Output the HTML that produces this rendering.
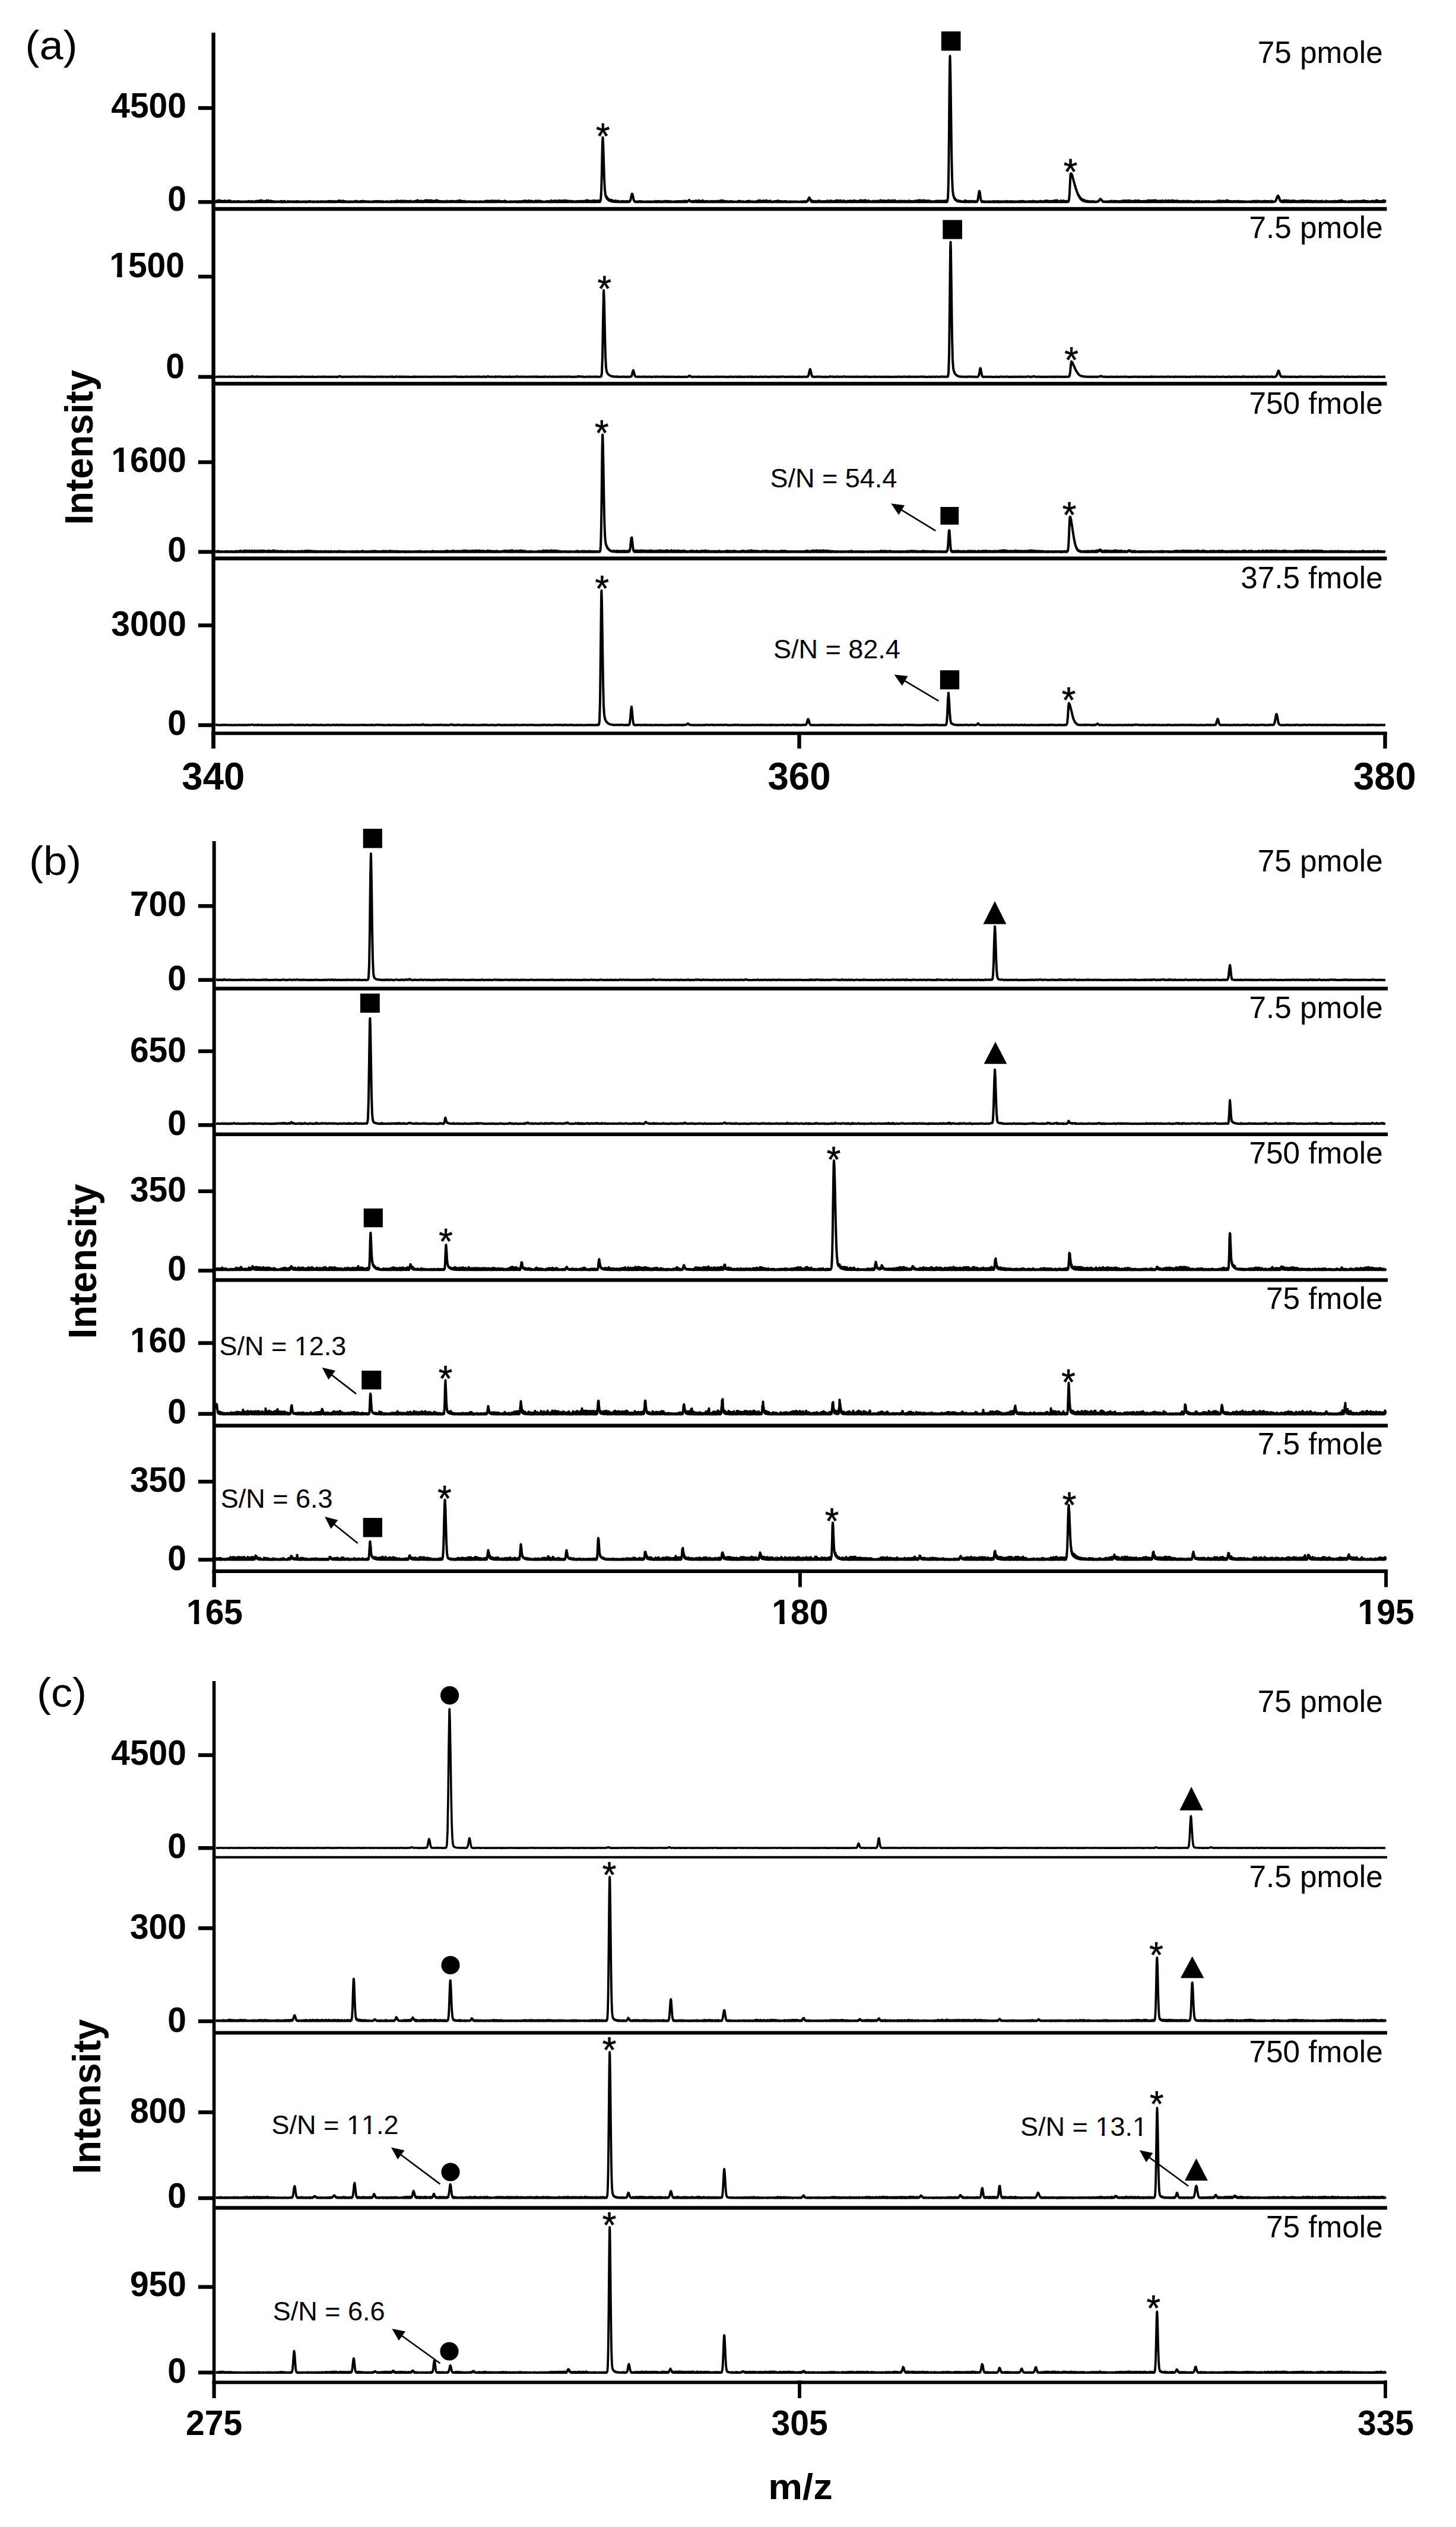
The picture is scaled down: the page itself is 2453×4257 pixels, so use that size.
<!DOCTYPE html>
<html><head><meta charset="utf-8"><title>Mass spectra</title>
<style>html,body{margin:0;padding:0;background:#fff;} body{width:2453px;height:4257px;overflow:hidden;} svg{display:block;}</style>
</head><body>
<svg width="2453" height="4257" viewBox="0 0 2453 4257" font-family="'Liberation Sans', Arial, Helvetica, sans-serif" style="font-kerning:none">
<rect width="2453" height="4257" fill="#fff"/>
<text transform="translate(42.5 99.8) scale(1 0.945)" font-size="72">(a)</text>
<line x1="359.6" y1="55.0" x2="359.6" y2="1261.0" stroke="#000" stroke-width="6.4" stroke-linecap="butt"/>
<line x1="359.6" y1="352.0" x2="2336.5" y2="352.0" stroke="#000" stroke-width="6.4" stroke-linecap="butt"/>
<line x1="359.6" y1="646.4" x2="2336.5" y2="646.4" stroke="#000" stroke-width="6.4" stroke-linecap="butt"/>
<line x1="359.6" y1="940.8" x2="2336.5" y2="940.8" stroke="#000" stroke-width="6.4" stroke-linecap="butt"/>
<line x1="356.4" y1="1235.4" x2="2336.7" y2="1235.4" stroke="#000" stroke-width="5.8" stroke-linecap="butt"/>
<line x1="359.6" y1="1233.0" x2="359.6" y2="1261.0" stroke="#000" stroke-width="6.4" stroke-linecap="butt"/>
<line x1="1346.5" y1="1233.0" x2="1346.5" y2="1261.0" stroke="#000" stroke-width="6.4" stroke-linecap="butt"/>
<line x1="2333.5" y1="1233.0" x2="2333.5" y2="1261.0" stroke="#000" stroke-width="6.4" stroke-linecap="butt"/>
<text transform="translate(359.3 1329.8) scale(1 1.03)" font-size="63.5" font-weight="bold" text-anchor="middle">340</text>
<text transform="translate(1346.5 1329.8) scale(1 1.03)" font-size="63.5" font-weight="bold" text-anchor="middle">360</text>
<text transform="translate(2332.9 1329.8) scale(1 1.03)" font-size="63.5" font-weight="bold" text-anchor="middle">380</text>
<line x1="334.0" y1="182.0" x2="359.6" y2="182.0" stroke="#000" stroke-width="6.4" stroke-linecap="butt"/>
<text transform="translate(314.0 197.9) scale(1 1.03)" font-size="57" font-weight="bold" text-anchor="end">4500</text>
<line x1="334.0" y1="340.3" x2="359.6" y2="340.3" stroke="#000" stroke-width="6.4" stroke-linecap="butt"/>
<text transform="translate(314.0 355.4) scale(1 1.03)" font-size="57" font-weight="bold" text-anchor="end">0</text>
<line x1="334.0" y1="466.0" x2="359.6" y2="466.0" stroke="#000" stroke-width="6.4" stroke-linecap="butt"/>
<text transform="translate(311.0 466.7) scale(1 1.03)" font-size="57" font-weight="bold" text-anchor="end">1500</text>
<line x1="334.0" y1="634.9" x2="359.6" y2="634.9" stroke="#000" stroke-width="6.4" stroke-linecap="butt"/>
<text transform="translate(311.0 637.4) scale(1 1.03)" font-size="57" font-weight="bold" text-anchor="end">0</text>
<line x1="334.0" y1="778.6" x2="359.6" y2="778.6" stroke="#000" stroke-width="6.4" stroke-linecap="butt"/>
<text transform="translate(314.0 794.8) scale(1 1.03)" font-size="57" font-weight="bold" text-anchor="end">1600</text>
<line x1="334.0" y1="929.7" x2="359.6" y2="929.7" stroke="#000" stroke-width="6.4" stroke-linecap="butt"/>
<text transform="translate(314.0 945.6) scale(1 1.03)" font-size="57" font-weight="bold" text-anchor="end">0</text>
<line x1="334.0" y1="1053.5" x2="359.6" y2="1053.5" stroke="#000" stroke-width="6.4" stroke-linecap="butt"/>
<text transform="translate(314.0 1071.3) scale(1 1.03)" font-size="57" font-weight="bold" text-anchor="end">3000</text>
<line x1="334.0" y1="1221.6" x2="359.6" y2="1221.6" stroke="#000" stroke-width="6.4" stroke-linecap="butt"/>
<text transform="translate(314.0 1238.4) scale(1 1.03)" font-size="57" font-weight="bold" text-anchor="end">0</text>
<text transform="translate(155.7 753.8) rotate(-90) scale(1 1.06)" font-size="63.5" font-weight="bold" text-anchor="middle">Intensity</text>
<path d="M363 340.1l .5-.9 .5 1.1 .5-.9 .5 .7 .5-1.6 .5 1.7 .5-2.5 .5 2.5 .5-1.1 .5 1.1 .5-1.2 .5 1.1 .5-2.6 .5 2.6 .5-2.1 .5 2.1 .5-.9 .5 .9 .5-1.6 .5 1.6 .5-1.7 .5 1.7 .5-1.4 .5 1.4 .5-.9 .5 1 .5-1.3 .5 1.3 .5-1.3 .5 1.3 .5-2.2 .5 2.2 .5-1.5 .5 1.3 .5-1 .5 1.3 .5-.9 .5 .8 .5-1.6 .5 1.5 .5-1.6 .5 1.5 .5-1.9 .5 1.9 .5-.5 .5 .7 .5-2 .5 2.1 .5-2 .5 2 .5-1.9 .5 1.7 .5-.6 .5 .6 .5-.4 .5 .4 .5-.5 .5 .5 .5-.3 .5 .4 .5-.8 .5 .7 .5-.4 .5 .4 .5-.9 .5 .9 .5-.7 .5 .7 .5-.4 .5 .4 .5-.5 .5 .6 .5-.9 .5 .9 .5-1 .5 1 .5-1 .5 1 .5-.5 .5 .6 .5-.9 .5 .6 .5-.4 .5 .6 .5-.5 .5 .5 .5-.4 .5 .5 .5-.5 .5 .3 .5-.5 .5 .5 .5-.3 .5 .3 .5-.3 .5 .3 .5-.5 .5 .6 .5-.5 .5 .5 .5-.3 .5 .4 .5-.7 .5 .5 .5-.5 .5 .6 .5-.5 .5 .5 .5-.5 .5 .3 .5-1.1 .5 1.4 .5-.7 .5 .5 .5-1 .5 1.1 .5-.6 .5 .6 .5-.7 .5 .6 .5-.4 .5 .6 .5-1.1 .5 .9 .5-1.1 .5 1.1 .5-.4 .5 .5 .5-.4 .5 .3 .5-.2 .5 .4 .5-1 .5 1 .5-1.1 .5 1.1 .5-1.6 .5 1.6 .5-.9 .5 .7 .5-1.5 .5 1.4 .5-1.1 .5 1.2 .5-.8 .5 .8 .5-1.8 .5 1.9 .5-1.8 .5 1.8 .5-1.2 .5 1.2 .5-2.6 .5 2.6 .5-1.2 .5 1.3 .5-2.6 .5 2.6 .5-1.2 .5 1 .5-.8 .5 .8 .5-1.1 .5 1.1 .5-1.5 .5 1.6 .5-1.2 .5 1.2 .5-1.2 .5 1.2 .5-.9 .5 1 .5-2.7 .5 2.7 .5-1.6 .5 1.4 .5-1.7 .5 1.8 .5-2.4 .5 2.3 .5-1 .5 .9 .5-.9 .5 .9 .5-.7 .5 1 .5-2.1 .5 1.8 .5-.9 .5 1.2 .5-.7 .5 .7 .5-1.2 .5 1.1 .5-.8 .5 .9 .5-.9 .5 .9 .5-.7 .5 .7 .5-.6 .5 .4 .5-.3 .5 .3 .5-.5 .5 .5 .5-.3 .5 .3 .5-.5 .5 .4 .5-.4 .5 .5 .5-.6 .5 .7 .5-.3 .5 .1 .5-.4 .5 .5 .5-.9 .5 1.1 .5-1.5 .5 1.4 .5-.5 .5 .6 .5-1.1 .5 1.1 .5-.6 .5 .6 .5-.7 .5 .6 .5-1 .5 .9 .5-1.2 .5 1.4 .5-.9 .5 .8 .5-.3 .5 .3 .5-.3 .5 .2 .5-.3 .5 .5 .5-1 .5 .8 .5-.5 .5 .5 .5-.8 .5 .8 .5-.4 .5 .4 .5-.3 .5 .2 .5-.8 .5 .8 .5-.1 .5 .2 .5-.3 .5 .4 .5-.4 .5 .4 .5-.5 .5 .4 .5-.7 .5 .8 .5-.5 .5 .4 .5-.4 .5 .4 .5-.5 .5 .5 .5-.6 .5 .6 .5-.8 .5 .8 .5-.9 .5 1.1 .5-1 .5 .8 .5-.5 .5 .6 .5-.4 .5 .2 .5-.5 .5 .7 .5-.4 .5 .3 .5-.3 .5 .5 .5-.4 .5 .3 .5-.4 .5 .3 .5-.4 .5 .4 .5-.5 .5 .4 .5-.4 .5 .5 .5-.5 .5 .6 .5-.6 .5 .6 .5-.5 .5 .5 .5-.5 .5 .6 .5-.5 .5 .5 .5-.7 .5 .4 .5-.2 .5 .3 .5-.4 .5 .3 .5-.8 .5 .9 .5-.7 .5 .6 .5-1.1 .5 1.2 .5-.7 .5 .6 .5-.2 .5 .3 .5-.3 .5 .5 .5-.6 .5 .5 .5-.4 .5 .3 .5-.5 .5 .5 .5-.5 .5 .6 .5-.4 .5 .4 .5-.5 .5 .3 .5-.2 .5 .2 .5-.4 .5 .7 .5-.7 .5 .6 .5-.5 .5 .4 .5-.7 .5 .9 .5-.5 .5 .3 .5-.4 .5 .3 .5-.4 .5 .6 .5-.6 .5 .4 .5-.6 .5 .7 .5-.7 .5 .7 .5-.5 .5 .4 .5-.4 .5 .5 .5-.4 .5 .4 .5-.8 .5 .8 .5-.5 .5 .5 .5-.3 .5 .3 .5-.4 .5 .6 .5-1 .5 .7 .5-.7 .5 .7 .5-.5 .5 .8 .5-1.4 .5 1.1 .5-.8 .5 .9 .5-.9 .5 .9 .5-.9 .5 1.1 .5-.9 .5 .7 .5-1.3 .5 1.3 .5-1.1 .5 1.3 .5-.7 .5 .6 .5-.6 .5 .7 .5-1.2 .5 1 .5-.9 .5 1 .5-.5 .5 .5 .5-.6 .5 .7 .5-.8 .5 .5 .5-.7 .5 .7 .5-.5 .5 .7 .5-1.3 .5 1.1 .5-1.9 .5 2 .5-2.1 .5 2 .5-1 .5 1.3 .5-1.5 .5 1.5 .5-1.9 .5 1.6 .5-.7 .5 .9 .5-1.1 .5 1.1 .5-2 .5 1.9 .5-.9 .5 1.1 .5-1.6 .5 1.4 .5-.4 .5 .4 .5-1.1 .5 1.2 .5-.7 .5 .6 .5-.4 .5 .4 .5-.6 .5 .7 .5-.5 .5 .4 .5-.3 .5 .5 .5-.5 .5 .5 .5-.7 .5 .6 .5-.7 .5 .7 .5-.6 .5 .5 .5-.4 .5 .5 .5-.7 .5 .6 .5-.3 .5 .3 .5-.5 .5 .7 .5-.6 .5 .4 .5-.3 .5 .2 .5-.2 .5 .3 .5-1.4 .5 1.5 .5-1.3 .5 1.1 .5-1.1 .5 1.3 .5-.9 .5 .7 .5-.4 .5 .7 .5-.7 .5 .5 .5-.5 .5 .6 .5-.6 .5 .5 .5-.4 .5 .5 .5-1 .5 1 .5-.7 .5 .7 .5-1.3 .5 1.4 .5-.9 .5 .7 .5-1.5 .5 1.4 .5-.9 .5 .9 .5-.5 .5 .8 .5-1.2 .5 .9 .5-.3 .5 .3 .5-.7 .5 .9 .5-.7 .5 .5 .5-.5 .5 .7 .5-.7 .5 .8 .5-.8 .5 .6 .5-.4 .5 .5 .5-.7 .5 .8 .5-.6 .5 .3 .5-.3 .5 .4 .5-.4 .5 .4 .5-.3 .5 .4 .5-.6 .5 .6 .5-.7 .5 .7 .5-1 .5 .9 .5-.9 .5 .9 .5-.4 .5 .5 .5-.6 .5 .4 .5-1.2 .5 1.4 .5-1.2 .5 1.2 .5-.5 .5 .3 .5-.9 .5 1.2 .5-1.3 .5 1.1 .5-1.1 .5 1.1 .5-.6 .5 .5 .5-.8 .5 .8 .5-.6 .5 .7 .5-.4 .5 .5 .5-.6 .5 .6 .5-1 .5 .9 .5-.6 .5 .8 .5-.5 .5 .3 .5-.4 .5 .4 .5-.3 .5 .3 .5-.3 .5 .2 .5-.6 .5 .8 .5-.6 .5 .7 .5-.5 .5 .3 .5-.7 .5 .6 .5-.3 .5 .4 .5-.4 .5 .6 .5-.5 .5 .4 .5-.5 .5 .5 .5-.5 .5 .6 .5-1.4 .5 1.2 .5-1.1 .5 1.3 .5-.6 .5 .5 .5-.9 .5 .9 .5-.8 .5 .7 .5-1.1 .5 1.1 .5-.7 .5 .8 .5-.8 .5 .7 .5-1.5 .5 1.5 .5-1.8 .5 1.8 .5-1.2 .5 1.4 .5-1.6 .5 1.3 .5-1.5 .5 1.6 .5-.9 .5 .8 .5-.6 .5 .8 .5-1.5 .5 1.6 .5-1.1 .5 1.1 .5-2.2 .5 2.2 .5-1.7 .5 1.5 .5-.8 .5 .8 .5-1 .5 1.1 .5-1.6 .5 1.5 .5-1.7 .5 1.9 .5-1.5 .5 1.3 .5-1.4 .5 1.6 .5-.7 .5 .5 .5-.7 .5 .6 .5-.9 .5 1.1 .5-1.2 .5 1.3 .5-1.2 .5 1 .5-.7 .5 .8 .5-1.5 .5 1.5 .5-1.7 .5 1.7 .5-.6 .5 .4 .5-.7 .5 .8 .5-.4 .5 .4 .5-.6 .5 .7 .5-.4 .5 .2 .5-.9 .5 1.1 .5-1 .5 .8 .5-.9 .5 1 .5-.5 .5 .6 .5-2.1 .5 2 .5-2.1 .5 2.3 .5-2.7 .5 2.6 .5-2.5 .5 2.5 .5-1.8 .5 1.6 .5-.8 .5 .9 .5-1 .5 1.1 .5-1.2 .5 1 .5-1.8 .5 2.1 .5-1.4 .5 1.1 .5-.5 .5 .8 .5-1.3 .5 1.1 .5-.5 .5 .6 .5-1.9 .5 2 .5-1.2 .5 .9 .5-2.3 .5 2.3 .5-1.3 .5 1.3 .5-2.6 .5 2.8 .5-1.4 .5 1.4 .5-.8 .5 .7 .5-2.7 .5 2.9 .5-1.6 .5 1.4 .5-2.3 .5 2.3 .5-1.7 .5 1.8 .5-2.5 .5 2.4 .5-.7 .5 .9 .5-2.5 .5 2.3 .5-2 .5 2 .5-1.2 .5 1.2 .5-1.4 .5 1.3 .5-1.1 .5 1.2 .5-1.8 .5 1.8 .5-1.7 .5 1.8 .5-2.7 .5 2.8 .5-2.7 .5 2.4 .5-.6 .5 .8 .5-2.4 .5 2.4 .5-1.7 .5 1.6 .5-1.1 .5 1.1 .5-1.1 .5 1.3 .5-1 .5 .8 .5-1 .5 1 .5-.4 .5 .5 .5-1 .5 1 .5-.7 .5 .8 .5-.5 .5 .2 .5-.9 .5 1 .5-.9 .5 .9 .5-.6 .5 .8 .5-.8 .5 .7 .5-.5 .5 .6 .5-1.9 .5 1.7 .5-1 .5 1.1 .5-.5 .5 .4 .5-.4 .5 .4 .5-1 .5 .9 .5-1.2 .5 1.2 .5-.4 .5 .6 .5-1.1 .5 1 .5-1.2 .5 1.3 .5-1.5 .5 1.5 .5-.6 .5 .4 .5-.3 .5 .3 .5-1.2 .5 1.3 .5-.7 .5 .6 .5-.8 .5 1 .5-.6 .5 .4 .5-.6 .5 .8 .5-1.3 .5 1.2 .5-.6 .5 .6 .5-1.7 .5 1.9 .5-1.8 .5 1.8 .5-1 .5 .9 .5-2.3 .5 2.3 .5-2.4 .5 2.5 .5-1.6 .5 1.5 .5-.9 .5 .9 .5-1.5 .5 1.6 .5-.7 .5 .6 .5-1 .5 .9 .5-1.4 .5 1.6 .5-1.5 .5 1.4 .5-.6 .5 .7 .5-1 .5 .8 .5-.7 .5 .8 .5-.4 .5 .2 .5-.3 .5 .3 .5-.5 .5 .5 .5-.7 .5 .8 .5-.7 .5 .7 .5-.6 .5 .6 .5-.4 .5 .3 .5-.3 .5 .3 .5-.6 .5 .8 .5-.4 .5 .4 .5-.5 .5 .5 .5-.5 .5 .6 .5-.6 .5 .5 .5-.6 .5 .6 .5-.6 .5 .7 .5-.7 .5 .4 .5-.2 .5 .5 .5-.7 .5 .4 .5-.2 .5 .2 .5-.2 .5 .4 .5-.6 .5 .5 .5-.6 .5 .8 .5-.8 .5 .5 .5-.6 .5 .8 .5-.8 .5 .7 .5-.4 .5 .4 .5-.2 .5 .4 .5-.6 .5 .5 .5-.4 .5 .3 .5-.7 .5 .8 .5-.4 .5 .2 .5-.3 .5 .5 .5-1.8 .5 1.8 .5-.6 .5 .4 .5-1.3 .5 1.4 .5-1.6 .5 1.6 .5-.5 .5 .6 .5-1.5 .5 1.4 .5-1.4 .5 1.5 .5-1.2 .5 1.1 .5-1 .5 1 .5-1.7 .5 1.7 .5-1.8 .5 2 .5-1.7 .5 1.5 .5-1.7 .5 1.9 .5-.6 .5 .5 .5-.6 .5 .5 .5-1.8 .5 1.9 .5-1.2 .5 1.1 .5-1.5 .5 1.5 .5-.9 .5 .9 .5-.5 .5 .4 .5-1.6 .5 1.8 .5-1.5 .5 1.3 .5-1.7 .5 1.7 .5-1.4 .5 1.6 .5-.8 .5 .6 .5-.5 .5 .7 .5-1 .5 1 .5-1.2 .5 1.2 .5-.7 .5 .5 .5-.6 .5 .6 .5-.5 .5 .6 .5-1.2 .5 1.1 .5-1.6 .5 1.9 .5-1.6 .5 1.6 .5-.6 .5 .4 .5-.6 .5 .8 .5-.5 .5 .2 .5-.3 .5 .3 .5-.1 .5 .3 .5-.4 .5 .5 .5-.5 .5 .2 .5-.6 .5 .7 .5-.5 .5 .5 .5-.5 .5 .5 .5-.5 .5 .5 .5-.5 .5 .5 .5-.6 .5 .6 .5-.3 .5 .3 .5-.4 .5 .5 .5-.6 .5 .4 .5-.6 .5 .7 .5-.7 .5 .8 .5-.5 .5 .4 .5-.5 .5 .7 .5-.9 .5 .9 .5-.4 .5 .4 .5-.8 .5 .7 .5-1.1 .5 1 .5-.6 .5 .7 .5-.5 .5 .6 .5-1.1 .5 .8 .5-1 .5 1.3 .5-1 .5 1 .5-1.1 .5 .8 .5-1.6 .5 1.6 .5-.9 .5 1.1 .5-1.9 .5 2 .5-1.2 .5 1 .5-1.7 .5 1.6 .5-.7 .5 1 .5-1 .5 .8 .5-1.5 .5 1.6 .5-1.7 .5 1.8 .5-2.4 .5 2.2 .5-1.7 .5 1.8 .5-.8 .5 .8 .5-.8 .5 .8 .5-1.6 .5 1.5 .5-.8 .5 .8 .5-1.2 .5 1.2 .5-.4 .5 .5 .5-.5 .5 .6 .5-1 .5 .8 .5-1.4 .5 1.6 .5-2.1 .5 2 .5-.7 .5 .5 .5-.6 .5 .9 .5-2.1 .5 1.9 .5-.8 .5 .9 .5-1.1 .5 1 .5-1.9 .5 1.8 .5-1.3 .5 1.5 .5-1.3 .5 1.4 .5-1.1 .5 .8 .5-.4 .5 .5 .5-.9 .5 .9 .5-.6 .5 .6 .5-.2 .5 .4 .5-.5 .5 .4 .5-.4 .5 .2 .5-.3 .5 .3 .5-.4 .5 .5 .5-.2 .5 .2 .5-1.1 .5 1.2 .5-1 .5 1 .5-.9 .5 .8 .5-1 .5 1.1 .5-.4 .5 .5 .5-.5 .5 .2 .5-.8 .5 1.1 .5-2.4 .5 2.4 .5-2.1 .5 1.9 .5-1.5 .5 1.7 .5-.9 .5 .9 .5-1.3 .5 1 .5-1.7 .5 1.7 .5-1.4 .5 1.6 .5-2.1 .5 2.2 .5-1 .5 .8 .5-1 .5 1 .5-2 .5 2.1 .5-.8 .5 .8 .5-1.3 .5 1.2 .5-.9 .5 .9 .5-2.3 .5 2.3 .5-1 .5 1.1 .5-1.4 .5 1.3 .5-1.9 .5 2 .5-1.9 .5 1.8 .5-1.6 .5 1.6 .5-2 .5 2 .5-.9 .5 .9 .5-2.1 .5 2.1 .5-2.3 .5 2.3 .5-.8 .5 .8 .5-.6 .5 .7 .5-2.3 .5 2.4 .5-.8 .5 .5 .5-1.3 .5 1.6 .5-1.5 .5 1.4 .5-1 .5 1 .5-1.7 .5 1.5 .5-1.1 .5 1.1 .5-1.1 .5 1.2 .5-.9 .5 .9 .5-1 .5 1.1 .5-1.1 .5 1.1 .5-1.2 .5 1.2 .5-.5 .5 .3 .5-.5 .5 .8 .5-.9 .5 .8 .5-.6 .5 .5 .5-.4 .5 .5 .5-1 .5 1 .5-1 .5 .9 .5-.4 .5 .4 .5-1.1 .5 1.2 .5-.6 .5 .4 .5-1 .5 1 .5-1 .5 1.2 .5-1.6 .5 1.5 .5-.9 .5 1 .5-.8 .5 .8 .5-1.4 .5 1.4 .5-1.3 .5 1.2 .5-1 .5 1.2 .5-1.5 .5 1.4 .5-1.3 .5 1.1 .5-1.8 .5 1.9 .5-2.6 .5 2.7 .5-1.9 .5 1.8 .5-2.3 .5 2.3 .5-2.2 .5 2.3 .5-2 .5 1.8 .5-1.6 .5 1.7 .5-.9 .5 .9 .5-1.5 .5 1.5 .5-1 .5 .9 .5-.8 .5 1.1 .5-2 .5 1.8 .5-1.4 .5 1.4 .5-1.9 .5 1.9 .5-2.4 .5 2.4 .5-.9 .5 1 .5-1 .5 .9 .5-2 .5 2.1 .5-1.5 .5 1.5 .5-.9 .5 .7 .5-1.9 .5 2 .5-1.9 .5 1.8 .5-1.8 .5 1.9 .5-1.8 .5 1.9 .5-.8 .5 .5 .5-2.9 .5 .4 .5-6.6 .5-7.7 .5-17.2 .5-21.2 .5-25.4 .5-19.2 .5-8.7 .5 7.8 .5 11.7 .5 18 .5 15.1 .5 16.9 .5 8.7 .5 10.8 .5 3.1 .5 5.2 .5 0 .5 3.3 .5-.3 .5 2 .5-2.1 .5 3.3 .5-.2 .5 1.4 .5-1.4 .5 2.2 .5-1 .5 1.7 .5-1.5 .5 2 .5-1.2 .5 1.6 .5-.9 .5 1.2 .5-2.1 .5 2.5 .5-.6 .5 .7 .5-1.8 .5 1.9 .5-.8 .5 .9 .5-1.1 .5 1.3 .5-.6 .5 .8 .5-1.4 .5 1.4 .5-1.8 .5 1.9 .5-1.7 .5 1.6 .5-1.1 .5 1.2 .5-.8 .5 .8 .5-1.6 .5 1.8 .5-1.4 .5 1.2 .5-.6 .5 .8 .5-.6 .5 .6 .5-.5 .5 .4 .5-.4 .5 .4 .5-.5 .5 .5 .5-1.3 .5 1.3 .5-.6 .5 .6 .5-.9 .5 .9 .5-.7 .5 .8 .5-.7 .5 .7 .5-.7 .5 .6 .5-.7 .5 .6 .5-.3 .5 .6 .5-1.1 .5 1 .5-.3 .5 .2 .5-.9 .5 .9 .5-.7 .5 .7 .5-.5 .5 .4 .5-.6 .5 .2 .5-1.7 .5-.1 .5-2.1 .5-1.8 .5-3 .5-1.9 .5-2.2 .5-.3 .5 .4 .5 2.2 .5 2.1 .5 2.7 .5 1.8 .5 2.1 .5 .6 .5 1.2 .5 0 .5 .5 .5-.5 .5 .6 .5-.3 .5 .3 .5-.6 .5 .5 .5-.5 .5 .5 .5-.3 .5 .5 .5-.9 .5 .7 .5-.2 .5 .1 .5-.8 .5 .8 .5-.4 .5 .7 .5-.6 .5 .5 .5-1 .5 1 .5-.6 .5 .6 .5-.7 .5 .7 .5-.6 .5 .4 .5-.3 .5 .4 .5-.3 .5 .4 .5-.4 .5 .3 .5-.2 .5 .2 .5-.5 .5 .6 .5-.5 .5 .5 .5-.5 .5 .5 .5-.4 .5 .4 .5-.6 .5 .6 .5-.7 .5 .7 .5-.6 .5 .6 .5-.6 .5 .5 .5-.6 .5 .8 .5-.4 .5 .2 .5-.5 .5 .7 .5-.8 .5 .5 .5-.5 .5 .5 .5-.2 .5 .4 .5-.6 .5 .5 .5-.3 .5 .4 .5-1.4 .5 1.3 .5-.6 .5 .8 .5-.6 .5 .5 .5-1 .5 .9 .5-1.2 .5 1.2 .5-.7 .5 .7 .5-.6 .5 .6 .5-.8 .5 .9 .5-.8 .5 .8 .5-.8 .5 .8 .5-.7 .5 .7 .5-.5 .5 .4 .5-.6 .5 .7 .5-1.1 .5 1 .5-.6 .5 .5 .5-.4 .5 .4 .5-1.2 .5 1.4 .5-1.3 .5 1.4 .5-1.5 .5 1.5 .5-1.4 .5 1.3 .5-1 .5 1 .5-1.2 .5 1.2 .5-1.1 .5 1.1 .5-1.1 .5 1.1 .5-.6 .5 .5 .5-.7 .5 .8 .5-.4 .5 .3 .5-.7 .5 .8 .5-.4 .5 .3 .5-.2 .5 .2 .5-.4 .5 .4 .5-.5 .5 .5 .5-.7 .5 .7 .5-.3 .5 .4 .5-.7 .5 .8 .5-1 .5 .8 .5-1.1 .5 1.2 .5-.6 .5 .6 .5-.8 .5 .8 .5-1.2 .5 1.1 .5-.4 .5 .3 .5-.8 .5 1 .5-.7 .5 .8 .5-1.2 .5 1.2 .5-.6 .5 .3 .5-.7 .5 .9 .5-1.2 .5 1.1 .5-1.6 .5 1.5 .5-1.2 .5 1.3 .5-.7 .5 .7 .5-1.5 .5 1.6 .5-1.6 .5 1.5 .5-1.1 .5 1.1 .5-.9 .5 .7 .5-.7 .5-.1 .5-.8 .5-.1 .5-.8 .5 .2 .5-.5 .5 1.2 .5 0 .5 .8 .5-.2 .5 .9 .5-.5 .5 .8 .5-.5 .5 .6 .5-1.2 .5 1.1 .5-.6 .5 .5 .5-1.1 .5 1.3 .5-1.5 .5 1.4 .5-.7 .5 .6 .5-1.3 .5 1.3 .5-2 .5 2.1 .5-.5 .5 .4 .5-.7 .5 1 .5-1 .5 .8 .5-2.3 .5 2.3 .5-1.6 .5 1.6 .5-2 .5 2.1 .5-1.3 .5 1.3 .5-.9 .5 1 .5-1.4 .5 1.3 .5-1.5 .5 1.4 .5-2.2 .5 2.2 .5-2.1 .5 2.1 .5-.5 .5 .7 .5-1.1 .5 1 .5-.7 .5 .8 .5-1.3 .5 1.2 .5-1 .5 .8 .5-1.1 .5 1.4 .5-1.3 .5 1.1 .5-1.1 .5 1.2 .5-.7 .5 .6 .5-.6 .5 .6 .5-.6 .5 .7 .5-1.1 .5 1 .5-1 .5 1.2 .5-.6 .5 .4 .5-1.1 .5 1.1 .5-.5 .5 .4 .5-1.2 .5 1.5 .5-.7 .5 .4 .5-.7 .5 .8 .5-.7 .5 .8 .5-.9 .5 .9 .5-1.4 .5 1.3 .5-.8 .5 .9 .5-1.3 .5 1.2 .5-1.4 .5 1.3 .5-.5 .5 .7 .5-1.1 .5 1.1 .5-1.7 .5 1.7 .5-1.1 .5 1 .5-2.2 .5 2.2 .5-.7 .5 .9 .5-2.6 .5 2.5 .5-1.3 .5 1.3 .5-1.8 .5 1.8 .5-1.8 .5 1.6 .5-.9 .5 1.2 .5-1.5 .5 1.3 .5-1.1 .5 1.2 .5-.6 .5 .4 .5-.9 .5 1 .5-.5 .5 .6 .5-.6 .5 .6 .5-.6 .5 .5 .5-.5 .5 .6 .5-.8 .5 .7 .5-1.2 .5 1.1 .5-.6 .5 .8 .5-.9 .5 .9 .5-.4 .5 .4 .5-.7 .5 .8 .5-.9 .5 .7 .5-.2 .5 .1 .5-.1 .5 .2 .5-.3 .5 .2 .5-.3 .5 .3 .5-.2 .5 .2 .5-.2 .5 .4 .5-.6 .5 .5 .5-1.1 .5 1.3 .5-1.8 .5 1.6 .5-.8 .5 .9 .5-.7 .5 .5 .5-1.3 .5 1.5 .5-.9 .5 .7 .5-.3 .5 .4 .5-.4 .5 .6 .5-.7 .5 .6 .5-.9 .5 .9 .5-.4 .5 .4 .5-.3 .5 .1 .5-.3 .5 .4 .5-.6 .5 .8 .5-1 .5 .9 .5-1 .5 1.1 .5-1.5 .5 1.3 .5-1.2 .5 1.2 .5-1.4 .5 1.4 .5-1.5 .5 1.6 .5-1.5 .5 1.5 .5-1.1 .5 1 .5-.6 .5 .5 .5-.3 .5 .4 .5-.4 .5 .5 .5-.6 .5 .7 .5-.8 .5 .7 .5-.3 .5 .4 .5-.6 .5 .5 .5-.3 .5 .4 .5-.5 .5 .3 .5-.9 .5 .8 .5-.8 .5 1.1 .5-1.8 .5 1.6 .5-1.1 .5 1.3 .5-2.6 .5 2.5 .5-1.6 .5 1.4 .5-2.2 .5 2.4 .5-1.2 .5 1.1 .5-1.1 .5 1.1 .5-.7 .5 .7 .5-1.3 .5 1.4 .5-2.1 .5 2.1 .5-2.1 .5 2.1 .5-1.3 .5 1.3 .5-2 .5 1.8 .5-1.9 .5 2 .5-1.5 .5 1.7 .5-2.4 .5 2.2 .5-1.7 .5 1.9 .5-1.1 .5 .9 .5-1.5 .5 1.6 .5-1 .5 1 .5-1.1 .5 1.1 .5-1.8 .5 1.6 .5-1.4 .5 1.5 .5-.7 .5 .7 .5-.3 .5 .4 .5-.4 .5 .5 .5-.8 .5 .6 .5-.6 .5 .7 .5-.9 .5 .7 .5-.9 .5 .9 .5-.9 .5 1.2 .5-.8 .5 .6 .5-1.3 .5 1.3 .5-1.5 .5 1.7 .5-2 .5 1.9 .5-.5 .5 .3 .5-1.5 .5 1.8 .5-.9 .5 .7 .5-.6 .5 .7 .5-1.2 .5 1.1 .5-.9 .5 1 .5-.8 .5 .9 .5-1 .5 .9 .5-.5 .5 .5 .5-.5 .5 .5 .5-1.1 .5 1.1 .5-1 .5 .8 .5-.9 .5 1.1 .5-.8 .5 .7 .5-.8 .5 1 .5-.7 .5 .7 .5-.5 .5 .4 .5-.4 .5 .4 .5-.5 .5 .3 .5-.6 .5 .9 .5-.6 .5 .6 .5-.6 .5 .4 .5-.5 .5 .5 .5-.4 .5 .4 .5-.3 .5 .4 .5-.6 .5 .5 .5-.5 .5 .6 .5-.6 .5 .4 .5-.4 .5 .5 .5-.4 .5 .4 .5-.5 .5 .4 .5-.3 .5 .6 .5-.7 .5 .5 .5-.2 .5 .3 .5-.4 .5 .4 .5-.3 .5 .1 .5-.3 .5 .5 .5-.4 .5 .4 .5-.5 .5 .4 .5-.4 .5 .6 .5-.4 .5 .2 .5-.7 .5 .8 .5-.5 .5 .5 .5-.6 .5 .6 .5-1 .5 1 .5-.4 .5 .3 .5-.5 .5 .7 .5-1.2 .5 .8 .5-.6 .5 .1 .5-1 .5 0 .5-2.6 .5 .3 .5-1.9 .5 .1 .5-1.5 .5 1.3 .5 0 .5 2.1 .5-.1 .5 2.3 .5 .2 .5 1.1 .5-.5 .5 1 .5-2.1 .5 2 .5-1.2 .5 1.2 .5-.7 .5 .7 .5-.4 .5 .5 .5-1.3 .5 1.3 .5-1.1 .5 1.1 .5-.8 .5 .7 .5-.8 .5 1 .5-.7 .5 .5 .5-1.6 .5 1.8 .5-.8 .5 .6 .5-1.5 .5 1.6 .5-2.1 .5 1.9 .5-.8 .5 1.1 .5-1 .5 .9 .5-.5 .5 .5 .5-.7 .5 .7 .5-1.1 .5 1.1 .5-1.1 .5 1 .5-.5 .5 .6 .5-.8 .5 .9 .5-1.1 .5 1 .5-.7 .5 .7 .5-1.2 .5 1.2 .5-1.5 .5 1.4 .5-1.6 .5 1.7 .5-2.1 .5 2.2 .5-.9 .5 .8 .5-.6 .5 .5 .5-.9 .5 1 .5-2 .5 2 .5-1.9 .5 2 .5-.9 .5 .7 .5-1.6 .5 1.5 .5-.6 .5 .8 .5-.7 .5 .8 .5-1.2 .5 1.2 .5-1.2 .5 1.2 .5-1.8 .5 1.6 .5-1.1 .5 1.1 .5-2.2 .5 2.2 .5-2.1 .5 2.2 .5-2.4 .5 2.3 .5-2.3 .5 2.4 .5-1.4 .5 1.3 .5-.9 .5 1 .5-1.7 .5 1.6 .5-2.5 .5 2.4 .5-2 .5 2.1 .5-1.1 .5 1.2 .5-.7 .5 .8 .5-.9 .5 .8 .5-2.2 .5 2 .5-.8 .5 .9 .5-1.4 .5 1.5 .5-1.7 .5 1.7 .5-.8 .5 .8 .5-.7 .5 .8 .5-.7 .5 .7 .5-1 .5 .8 .5-1.6 .5 1.6 .5-.8 .5 .7 .5-1.1 .5 1.1 .5-1.8 .5 2.1 .5-1.6 .5 1.5 .5-1.7 .5 1.8 .5-.7 .5 .5 .5-1.5 .5 1.5 .5-1.2 .5 1.3 .5-1.7 .5 1.7 .5-1.9 .5 1.8 .5-2.3 .5 2.4 .5-.7 .5 .5 .5-1.1 .5 1.3 .5-.7 .5 .6 .5-1.5 .5 1.4 .5-.9 .5 1.2 .5-1.3 .5 1.1 .5-.9 .5 1 .5-1.9 .5 1.7 .5-2.1 .5 2.2 .5-2.2 .5 2.2 .5-2.7 .5 2.7 .5-2.1 .5 2.2 .5-1.8 .5 1.8 .5-2.3 .5 2.3 .5-1.5 .5 1.5 .5-2.3 .5 2.2 .5-2.3 .5 2.4 .5-2.9 .5 2.9 .5-1.8 .5 1.7 .5-1.7 .5 1.9 .5-2 .5 1.9 .5-.8 .5 .7 .5-.9 .5 .9 .5-2.1 .5 2 .5-.7 .5 .8 .5-.7 .5 .8 .5-1.1 .5 .9 .5-.5 .5 .6 .5-.6 .5 .5 .5-.5 .5 .7 .5-1.3 .5 1.4 .5-1.6 .5 1.5 .5-1.6 .5 1.7 .5-1.3 .5 1.1 .5-1.3 .5 1.4 .5-.9 .5 .8 .5-.8 .5 .9 .5-1.7 .5 1.6 .5-.9 .5 1 .5-1.4 .5 1.5 .5-1.9 .5 1.8 .5-1.1 .5 1.1 .5-.9 .5 .7 .5-2.6 .5 2.6 .5-1.8 .5 2.1 .5-1 .5 1 .5-1 .5 .9 .5-2.3 .5 2.3 .5-1.7 .5 1.7 .5-1.9 .5 1.8 .5-1.8 .5 1.8 .5-1.4 .5 1.5 .5-1.4 .5 1.3 .5-.7 .5 .7 .5-1.8 .5 1.8 .5-.6 .5 .7 .5-2.7 .5 2.7 .5-2.2 .5 2.2 .5-1.2 .5 1.1 .5-.8 .5 .9 .5-2.2 .5 2.3 .5-2.1 .5 2 .5-1.1 .5 1 .5-2.3 .5 2.4 .5-.9 .5 .9 .5-1.3 .5 1.4 .5-2.3 .5 2.2 .5-2.8 .5 2.7 .5-2 .5 1.9 .5-.7 .5 .9 .5-.9 .5 1 .5-.8 .5 .6 .5-1.1 .5 1.2 .5-1.1 .5 1.1 .5-1.6 .5 1.5 .5-1 .5 1.2 .5-.9 .5 .6 .5-1.6 .5 1.8 .5-1 .5 .9 .5-1.4 .5 1.5 .5-1.1 .5 .9 .5-1.1 .5 1.3 .5-.8 .5 .8 .5-1.7 .5 1.7 .5-1.4 .5 1.4 .5-1.4 .5 1.3 .5-.6 .5 .8 .5-1.5 .5 1.3 .5-.7 .5 .8 .5-.8 .5 .7 .5-1.8 .5 1.8 .5-2 .5 2.2 .5-1.3 .5 1.1 .5-.6 .5 .7 .5-1.4 .5 1.3 .5-.7 .5 .7 .5-1 .5 1 .5-.9 .5 .9 .5-.6 .5 .7 .5-.7 .5 .7 .5-1.7 .5 1.7 .5-1.2 .5 1.1 .5-1.2 .5 1.1 .5-1.9 .5 1.9 .5-.8 .5 1 .5-1.7 .5 1.6 .5-1.3 .5 1.3 .5-2.8 .5 2.8 .5-2.7 .5 2.9 .5-1.3 .5 1.3 .5-2.4 .5 2.2 .5-2.5 .5 2.5 .5-.8 .5 1 .5-2 .5 1.7 .5-2.2 .5 2.4 .5-2.3 .5 2.3 .5-2.7 .5 2.7 .5-2.1 .5 2 .5-1.9 .5 1.9 .5-1.8 .5 1.7 .5-1.7 .5 1.8 .5-1.8 .5 1.9 .5-1.7 .5 1.7 .5-1.9 .5 1.9 .5-1.3 .5 1.4 .5-2.2 .5 2 .5-1.6 .5 1.7 .5-1.2 .5 1.1 .5-.8 .5 .8 .5-.4 .5 .5 .5-.8 .5 .8 .5-.5 .5 .5 .5-.6 .5 .5 .5-.9 .5 .8 .5-.6 .5 .7 .5-1.1 .5 1.1 .5-1.4 .5 1.5 .5-1.4 .5 1.2 .5-1.4 .5 1.7 .5-1.6 .5 1.5 .5-1.3 .5 1.3 .5-1.8 .5 1.8 .5-1.5 .5 1.4 .5-1 .5 .9 .5-1.4 .5 1.5 .5-1.3 .5 1.5 .5-1.5 .5 1.5 .5-2 .5 1.8 .5-1.5 .5 1.5 .5-1.1 .5 1.3 .5-1.6 .5 1.5 .5-1.1 .5 1.1 .5-2.2 .5 2.1 .5-.9 .5 1 .5-1.9 .5 2 .5-2.1 .5 1.3 .5-3 .5-3 .5-12 .5-20 .5-37.9 .5-49.1 .5-58 .5-43.4 .5-18.8 .5 16 .5 26.6 .5 38.8 .5 36.7 .5 37.3 .5 26.7 .5 22.1 .5 11.6 .5 10.8 .5 3.5 .5 4.6 .5-.1 .5 3.6 .5 .3 .5 1.6 .5-.2 .5 1.7 .5-.9 .5 1.9 .5-.3 .5 1.2 .5-.3 .5 .9 .5-.7 .5 1.1 .5-.8 .5 1.2 .5-1.2 .5 1.3 .5-1 .5 1.2 .5-.3 .5 .5 .5-1.2 .5 1.2 .5-.6 .5 .8 .5-.7 .5 .8 .5-.5 .5 .5 .5-.6 .5 .6 .5-.4 .5 .4 .5-.5 .5 .7 .5-.7 .5 .6 .5-2.1 .5 2.1 .5-2 .5 2 .5-1.7 .5 1.7 .5-1.5 .5 1.5 .5-.6 .5 .5 .5-.7 .5 .9 .5-1.1 .5 1.1 .5-1 .5 1.1 .5-1.1 .5 .9 .5-1.2 .5 1.2 .5-1.2 .5 1.1 .5-.3 .5 .5 .5-.7 .5 .7 .5-1.3 .5 1.1 .5-.4 .5 .4 .5-1.1 .5 1.3 .5-1 .5 .9 .5-.5 .5 .5 .5-.7 .5 .8 .5-.6 .5 .6 .5-1 .5 .6 .5-1.5 .5 .1 .5-2.6 .5-2.3 .5-4.7 .5-2.6 .5-4 .5-.3 .5 .6 .5 3.5 .5 3.2 .5 4.5 .5 2.2 .5 2.3 .5 0 .5 1.8 .5-.9 .5 1.1 .5-.4 .5 .2 .5-.3 .5 .5 .5-1 .5 1.1 .5-.6 .5 .5 .5-.7 .5 .8 .5-.5 .5 .4 .5-.3 .5 .3 .5-.6 .5 .6 .5-.4 .5 .5 .5-.7 .5 .4 .5-.5 .5 .6 .5-.6 .5 .7 .5-.7 .5 .7 .5-.3 .5 .3 .5-.5 .5 .5 .5-.4 .5 .4 .5-.7 .5 .6 .5-.6 .5 .7 .5-.9 .5 .7 .5-.8 .5 1.1 .5-.6 .5 .6 .5-1 .5 .9 .5-.9 .5 .9 .5-.6 .5 .5 .5-.4 .5 .4 .5-.9 .5 .9 .5-.9 .5 1.1 .5-.5 .5 .5 .5-.9 .5 .9 .5-.6 .5 .6 .5-1 .5 1 .5-.9 .5 .8 .5-.3 .5 .3 .5-.5 .5 .5 .5-.7 .5 .8 .5-.7 .5 .6 .5-.7 .5 .7 .5-.8 .5 .8 .5-.6 .5 .4 .5-.4 .5 .6 .5-1.1 .5 1.1 .5-1.3 .5 1.3 .5-.8 .5 .9 .5-.9 .5 .9 .5-.5 .5 .4 .5-.5 .5 .5 .5-.8 .5 .9 .5-1.1 .5 .9 .5-.7 .5 .7 .5-.5 .5 .7 .5-.8 .5 .8 .5-.9 .5 .6 .5-.4 .5 .6 .5-.8 .5 .7 .5-.3 .5 .4 .5-.5 .5 .5 .5-.7 .5 .6 .5-.3 .5 .3 .5-.5 .5 .5 .5-.4 .5 .4 .5-.6 .5 .7 .5-1.2 .5 1.1 .5-.4 .5 .5 .5-.9 .5 1 .5-1.2 .5 .9 .5-1.1 .5 1.3 .5-1.2 .5 1 .5-1 .5 1 .5-.4 .5 .5 .5-1.2 .5 1.3 .5-.7 .5 .7 .5-.3 .5 .3 .5-.6 .5 .5 .5-.5 .5 .5 .5-.5 .5 .5 .5-.3 .5 .3 .5-.3 .5 .3 .5-.6 .5 .6 .5-.4 .5 .4 .5-.9 .5 .8 .5-.3 .5 .5 .5-1 .5 1 .5-.8 .5 .7 .5-.8 .5 .8 .5-.7 .5 .9 .5-1.7 .5 1.4 .5-.5 .5 .5 .5-.9 .5 1.2 .5-.6 .5 .6 .5-1 .5 .8 .5-.7 .5 .8 .5-.6 .5 .4 .5-.4 .5 .7 .5-.7 .5 .5 .5-.8 .5 .8 .5-.6 .5 .5 .5-.6 .5 .7 .5-1.2 .5 1.1 .5-1.2 .5 1.4 .5-1 .5 .9 .5-.5 .5 .6 .5-.5 .5 .3 .5-.5 .5 .5 .5-1.1 .5 1.3 .5-.9 .5 .8 .5-1.1 .5 1.2 .5-1.8 .5 1.7 .5-2 .5 1.9 .5-1.3 .5 1.4 .5-1.8 .5 1.7 .5-1.5 .5 1.8 .5-1.1 .5 1.1 .5-1 .5 .8 .5-1.1 .5 1.3 .5-1.6 .5 1.3 .5-1.2 .5 1.2 .5-.9 .5 1.1 .5-1.1 .5 1.2 .5-1.4 .5 1.3 .5-1.4 .5 1.5 .5-2 .5 1.8 .5-2.2 .5 2.4 .5-2.4 .5 2.3 .5-2.2 .5 2.1 .5-2.7 .5 2.8 .5-1.7 .5 1.5 .5-2.2 .5 2.5 .5-1.5 .5 1.3 .5-.7 .5 .6 .5-.7 .5 .9 .5-.8 .5 .8 .5-2 .5 2 .5-2.2 .5 2.1 .5-1.6 .5 1.8 .5-1.5 .5 1.4 .5-.8 .5 .7 .5-2.1 .5 2.3 .5-1.6 .5 1.3 .5-1.1 .5 1.2 .5-.7 .5 .8 .5-1.1 .5 1 .5-1.3 .5 1.4 .5-1.5 .5 1.4 .5-.8 .5 .7 .5-1.3 .5 1 .5-1.7 .5-1.3 .5-5.1 .5-6.1 .5-11.4 .5-9.6 .5-10.4 .5-1.7 .5-.2 .5 1.3 .5-.1 .5 2.4 .5-.5 .5 3.4 .5 1.2 .5 2.2 .5 1 .5 2.7 .5 1.2 .5 2.4 .5 .7 .5 2.9 .5 .4 .5 3 .5 .6 .5 2.4 .5 .5 .5 2.5 .5 .3 .5 2.5 .5 .3 .5 2.2 .5 0 .5 1.8 .5-.4 .5 2.3 .5-1.1 .5 2.6 .5-.3 .5 1.9 .5-1.2 .5 2.1 .5-.9 .5 2 .5-.5 .5 1.3 .5-1.5 .5 2 .5-1.5 .5 2 .5-1 .5 1.5 .5-1.8 .5 2 .5-.5 .5 .9 .5-1 .5 1.1 .5-1.3 .5 1.5 .5-.9 .5 1.1 .5-1 .5 1.1 .5-1.4 .5 1.3 .5-.8 .5 .9 .5-.5 .5 .6 .5-.9 .5 .7 .5-.4 .5 .7 .5-.5 .5 .3 .5-.8 .5 1 .5-.4 .5 .4 .5-.9 .5 .7 .5-.5 .5 .5 .5-.6 .5 .8 .5-.8 .5 .7 .5-.3 .5 .3 .5-.3 .5 .5 .5-.4 .5 .1 .5-.2 .5 .2 .5-.6 .5 .5 .5-.5 .5 .1 .5-.8 .5 .1 .5-1 .5-.3 .5-1.1 .5-.1 .5-1 .5 .3 .5-.2 .5 .9 .5 .1 .5 1 .5 .2 .5 1.2 .5-.2 .5 1.1 .5-.5 .5 .8 .5-.5 .5 .5 .5-.3 .5 .3 .5-.3 .5 .5 .5-.4 .5 .4 .5-.8 .5 .6 .5-.4 .5 .5 .5-.2 .5 .4 .5-.8 .5 .6 .5-.8 .5 .8 .5-.6 .5 .5 .5-.6 .5 .8 .5-.5 .5 .4 .5-1.2 .5 1.1 .5-1.5 .5 1.6 .5-.6 .5 .5 .5-.4 .5 .6 .5-.6 .5 .6 .5-1.7 .5 1.7 .5-1.4 .5 1.3 .5-.6 .5 .8 .5-1.3 .5 1.2 .5-.9 .5 .9 .5-1 .5 .9 .5-.8 .5 .7 .5-.7 .5 .8 .5-1 .5 1 .5-.7 .5 .9 .5-.7 .5 .7 .5-.9 .5 .7 .5-.6 .5 .6 .5-1.3 .5 1.4 .5-1.3 .5 1.2 .5-2 .5 2.1 .5-1.3 .5 1.3 .5-1.1 .5 1.1 .5-2.2 .5 2.1 .5-1.8 .5 2 .5-2 .5 1.8 .5-1.1 .5 1.2 .5-2.1 .5 2.2 .5-2.1 .5 2.1 .5-2.2 .5 2.1 .5-2.5 .5 2.4 .5-.5 .5 .7 .5-2.1 .5 1.8 .5-.6 .5 .8 .5-1.8 .5 1.9 .5-1.4 .5 1.1 .5-1.2 .5 1.3 .5-1 .5 1 .5-1.4 .5 1.5 .5-1.3 .5 1.4 .5-2.1 .5 1.9 .5-2.2 .5 2.2 .5-1.2 .5 1.2 .5-.7 .5 .7 .5-2 .5 2 .5-1 .5 1 .5-1.8 .5 1.7 .5-2.1 .5 2.3 .5-1 .5 .9 .5-1.2 .5 1.2 .5-.6 .5 .6 .5-1 .5 1 .5-.7 .5 .6 .5-.8 .5 .8 .5-.9 .5 1.2 .5-1.4 .5 1.3 .5-1.7 .5 1.7 .5-1.3 .5 1.2 .5-1 .5 1 .5-1 .5 1.1 .5-1.1 .5 .9 .5-1.9 .5 2.2 .5-1.2 .5 1 .5-2.4 .5 2.4 .5-.9 .5 1.1 .5-2.5 .5 2.4 .5-2.4 .5 2.3 .5-1.6 .5 1.6 .5-1.3 .5 1.3 .5-2.3 .5 2.3 .5-.8 .5 .7 .5-.9 .5 1.1 .5-2.6 .5 2.6 .5-2.8 .5 2.9 .5-2.1 .5 2 .5-1.7 .5 1.5 .5-2.5 .5 2.5 .5-1.6 .5 1.7 .5-1.4 .5 1.6 .5-1.5 .5 1.3 .5-1.1 .5 1.2 .5-1.7 .5 1.7 .5-1.2 .5 1.2 .5-2 .5 1.9 .5-1.6 .5 1.8 .5-1 .5 1 .5-.8 .5 .8 .5-2.5 .5 2.4 .5-.9 .5 .8 .5-.6 .5 .5 .5-.7 .5 .9 .5-1.8 .5 1.8 .5-2.3 .5 2.2 .5-2.1 .5 2 .5-.6 .5 .8 .5-1.7 .5 1.7 .5-1.4 .5 1.3 .5-2.4 .5 2.4 .5-1.6 .5 1.6 .5-1.2 .5 1.3 .5-.7 .5 .5 .5-1.9 .5 2 .5-2.2 .5 2.2 .5-2.4 .5 2.6 .5-1.7 .5 1.5 .5-2.1 .5 2.2 .5-2 .5 1.9 .5-1.8 .5 1.8 .5-1.6 .5 1.5 .5-.6 .5 .9 .5-.7 .5 .5 .5-1.7 .5 1.9 .5-2 .5 1.9 .5-1.6 .5 1.5 .5-1.5 .5 1.6 .5-.9 .5 .9 .5-.9 .5 .7 .5-.9 .5 1 .5-.8 .5 .7 .5-.3 .5 .6 .5-1.1 .5 1 .5-1.3 .5 1.3 .5-.7 .5 .6 .5-1.5 .5 1.7 .5-1.2 .5 1 .5-1.3 .5 1.5 .5-.7 .5 .5 .5-.6 .5 .7 .5-1 .5 1.1 .5-1.9 .5 1.9 .5-.6 .5 .5 .5-.8 .5 .7 .5-1.1 .5 1.1 .5-1.2 .5 1.4 .5-.8 .5 .5 .5-.5 .5 .7 .5-1.1 .5 1.2 .5-.7 .5 .6 .5-.7 .5 .7 .5-.4 .5 .5 .5-.5 .5 .5 .5-.9 .5 .9 .5-.7 .5 .5 .5-.6 .5 .8 .5-1.6 .5 1.4 .5-1 .5 1 .5-.7 .5 .7 .5-.4 .5 .6 .5-1.4 .5 1.2 .5-.9 .5 1 .5-.8 .5 .7 .5-.5 .5 .6 .5-.5 .5 .4 .5-.5 .5 .5 .5-.8 .5 1 .5-.9 .5 .6 .5-.2 .5 .3 .5-.7 .5 .7 .5-.5 .5 .4 .5-.6 .5 .7 .5-1 .5 1 .5-.6 .5 .7 .5-.8 .5 .6 .5-.4 .5 .5 .5-.5 .5 .5 .5-1 .5 1.1 .5-.6 .5 .5 .5-.7 .5 .7 .5-.3 .5 .4 .5-.4 .5 .4 .5-.5 .5 .3 .5-.4 .5 .6 .5-.4 .5 .3 .5-.4 .5 .4 .5-.6 .5 .6 .5-.8 .5 .8 .5-.5 .5 .6 .5-.5 .5 .4 .5-.5 .5 .6 .5-.7 .5 .6 .5-1.7 .5 1.6 .5-.5 .5 .8 .5-1.7 .5 1.5 .5-2.1 .5 2.2 .5-1.1 .5 1.1 .5-1.6 .5 1.6 .5-1 .5 1 .5-1.5 .5 1.6 .5-1.9 .5 1.8 .5-1.2 .5 1.1 .5-.8 .5 .7 .5-1.4 .5 1.4 .5-1 .5 1.1 .5-.8 .5 1 .5-1 .5 .7 .5-2.4 .5 2.5 .5-1 .5 .9 .5-2.3 .5 2.6 .5-.8 .5 .7 .5-1.2 .5 1 .5-1.1 .5 1.2 .5-.6 .5 .8 .5-1 .5 .8 .5-.9 .5 .8 .5-.5 .5 .6 .5-.7 .5 .6 .5-.4 .5 .6 .5-1.1 .5 1 .5-.8 .5 .7 .5-1 .5 1 .5-.4 .5 .6 .5-.8 .5 .6 .5-.6 .5 .7 .5-1.4 .5 1.5 .5-1.2 .5 1.3 .5-1.6 .5 1.5 .5-.8 .5 .7 .5-.6 .5 .8 .5-.9 .5 .9 .5-.8 .5 .6 .5-.8 .5 .7 .5-.6 .5 .8 .5-.7 .5 .5 .5-.6 .5 .9 .5-1 .5 .9 .5-.7 .5 .6 .5-.3 .5 .3 .5-.4 .5 .5 .5-.3 .5 .3 .5-.7 .5 .8 .5-.5 .5 .2 .5-.1 .5 .2 .5-.4 .5 .5 .5-.7 .5 .8 .5-.7 .5 .4 .5-.4 .5 .7 .5-.6 .5 .4 .5-.4 .5 .4 .5-1 .5 1.1 .5-.8 .5 .8 .5-1.4 .5 1.3 .5-1.2 .5 1.1 .5-1.3 .5 1.5 .5-1.1 .5 1.1 .5-1 .5 1.1 .5-1.7 .5 1.6 .5-.5 .5 .6 .5-.9 .5 .6 .5-1.4 .5 1.7 .5-.9 .5 .6 .5-1.1 .5 1.2 .5-.8 .5 .7 .5-.3 .5 .3 .5-.6 .5 .9 .5-.6 .5 .5 .5-1 .5 .8 .5-.8 .5 1 .5-1 .5 .9 .5-.6 .5 .6 .5-1.5 .5 1.5 .5-.7 .5 .9 .5-1.4 .5 1.2 .5-1 .5 1.2 .5-.7 .5 .6 .5-1.2 .5 1.1 .5-1 .5 1.1 .5-1 .5 .9 .5-.9 .5 .8 .5-.4 .5 .6 .5-.6 .5 .7 .5-.6 .5 .6 .5-1.7 .5 1.5 .5-1.1 .5 1.1 .5-.5 .5 .6 .5-.7 .5 .5 .5-.3 .5 .2 .5-.4 .5 .1 .5-.8 .5 0 .5-1.5 .5-.5 .5-1.9 .5-.7 .5-2.1 .5-.6 .5-1.4 .5 0 .5-.3 .5 1.6 .5 0 .5 2.7 .5 .3 .5 2.5 .5 .1 .5 1.7 .5-.5 .5 1.4 .5-.7 .5 1.2 .5-.9 .5 1 .5-2.2 .5 2.2 .5-.8 .5 .8 .5-.7 .5 .6 .5-2.3 .5 2.3 .5-2.6 .5 2.7 .5-.8 .5 .9 .5-.9 .5 .6 .5-2.4 .5 2.5 .5-1.9 .5 2.1 .5-2.1 .5 2 .5-2.2 .5 2.2 .5-2 .5 1.9 .5-2 .5 2.1 .5-1.3 .5 1.3 .5-.6 .5 .7 .5-2.1 .5 1.9 .5-1.5 .5 1.6 .5-1.9 .5 2 .5-1.8 .5 1.6 .5-2 .5 1.9 .5-1.9 .5 1.9 .5-1.5 .5 1.7 .5-1.1 .5 1.2 .5-.9 .5 .6 .5-.8 .5 1 .5-1 .5 1 .5-.7 .5 .7 .5-1.3 .5 1.2 .5-1.4 .5 1.4 .5-1.7 .5 1.8 .5-.9 .5 .8 .5-.7 .5 .9 .5-2.1 .5 2 .5-1.4 .5 1.5 .5-2.3 .5 2.2 .5-2.3 .5 2.3 .5-1.8 .5 1.8 .5-1.3 .5 1.4 .5-1.6 .5 1.6 .5-1.9 .5 1.6 .5-1.2 .5 1.2 .5-1.6 .5 1.7 .5-1.4 .5 1.3 .5-1.2 .5 1.2 .5-1.6 .5 1.8 .5-1.7 .5 1.8 .5-1.1 .5 1 .5-1.4 .5 1.4 .5-1.3 .5 1.3 .5-1.6 .5 1.5 .5-1.2 .5 1.2 .5-.4 .5 .6 .5-1.1 .5 1.1 .5-.8 .5 .6 .5-1.4 .5 1.4 .5-.6 .5 .5 .5-1.2 .5 1.3 .5-1.5 .5 1.6 .5-1 .5 1 .5-1.1 .5 1 .5-.5 .5 .7 .5-.5 .5 .3 .5-1.1 .5 1.2 .5-1.3 .5 1.2 .5-.9 .5 1.1 .5-.9 .5 .7 .5-1.3 .5 1.4 .5-1.8 .5 1.8 .5-.8 .5 .7 .5-.7 .5 .6 .5-.5 .5 .5 .5-.4 .5 .6 .5-.7 .5 .6 .5-.5 .5 .7 .5-1.9 .5 1.9 .5-1.4 .5 1.1 .5-.4 .5 .5 .5-.5 .5 .5 .5-.4 .5 .3 .5-.8 .5 .9 .5-.4 .5 .5 .5-.7 .5 .6 .5-.8 .5 .8 .5-.8 .5 .9 .5-.5 .5 .5 .5-1.2 .5 1.2 .5-1.2 .5 1.2 .5-.5 .5 .4 .5-.4 .5 .5 .5-1.4 .5 1.5 .5-1.6 .5 1.5 .5-1 .5 .9 .5-.9 .5 1.1 .5-1 .5 .7 .5-1.1 .5 1.2 .5-1.9 .5 2 .5-.8 .5 .8 .5-2 .5 1.9 .5-1 .5 1.1 .5-2.1 .5 2 .5-2.6 .5 2.6 .5-.7 .5 .6 .5-1.1 .5 1.1 .5-1 .5 1 .5-.5 .5 .5 .5-.2 .5 .4 .5-1.1 .5 1 .5-.5 .5 .5 .5-.2 .5 .1 .5-.1 .5 .3 .5-.5 .5 .5 .5-.6 .5 .7 .5-.7 .5 .7 .5-1 .5 .8 .5-.3 .5 .3 .5-.4 .5 .5 .5-.6 .5 .7 .5-1.5 .5 1.4 .5-1 .5 .9 .5-.8 .5 .8 .5-.5 .5 .5 .5-.7 .5 .8 .5-1.3 .5 1.1 .5-1.1 .5 1.3 .5-1.1 .5 1.1 .5-1.3 .5 1.1 .5-1.2 .5 1.4 .5-.9 .5 .8 .5-1.2 .5 1.4 .5-1.4 .5 1.2 .5-1 .5 1 .5-.8 .5 .8 .5-1.4 .5 1.3 .5-1.1 .5 1.3 .5-1 .5 1.1 .5-1.9 .5 1.8 .5-1.6 .5 1.5 .5-2.1 .5 2.1 .5-1.8 .5 1.7 .5-1.7 .5 1.7 .5-.6 .5 .9 .5-1.3 .5 1.1 .5-.9 .5 .9 .5-1 .5 1 .5-1.3 .5 1.5 .5-.8 .5 .6 .5-.6 .5 .7 .5-.6 .5 .4 .5-.4 .5 .7 .5-1.2 .5 1 .5-.8 .5 .8 .5-1.4 .5 1.3 .5-1.2 .5 1.5 .5-1.7 .5 1.5 .5-1.2 .5 1.3 .5-.7 .5 .7 .5-1.1 .5 1 .5-1.1 .5 1.1 .5-2.6 .5 2.6 .5-1 .5 1 .5-2.3 .5 2.4 .5-1.2 .5 1.1 .5-1 .5 1.1 .5-1.5 .5 1.5 .5-1.3 .5 1.1 .5-.5 .5 .8 .5-1 .5 .8 .5-1.2 .5 1.3 .5-.8 .5 .7 .5-1.2 .5 1.2 .5-2.5 .5 2.5 .5-1.6 .5 1.6 .5-1.8 .5 1.8 .5-1.9 .5 1.8" fill="none" stroke="#000" stroke-width="4.0" stroke-linejoin="round"/>
<text x="1015.7" y="250.3" font-size="60.5" text-anchor="middle" stroke="#000" stroke-width="0.6">*</text>
<rect x="1585.8" y="52.9" width="32.7" height="32.5" fill="#000"/>
<text x="1803.4" y="309.9" font-size="60.5" text-anchor="middle" stroke="#000" stroke-width="0.6">*</text>
<text x="2329.7" y="106.4" font-size="51.3" text-anchor="end">75 pmole</text>
<path d="M363 634.9l 1 0 1-.1 1 0 1 0 1 0 1 0 1-.3 1 0 1 .3 1 0 1 0 1-.2 1 .2 1-.3 1 .2 1 0 1 .1 1 .1 1-.2 1 0 1 .1 1 0 1-.1 1-.5 1 .5 1 0 1 0 1 .1 1-.2 1 0 1 0 1 0 1 .3 1 0 1 0 1-.2 1 .2 1-.1 1 0 1 0 1 0 1 .2 1-.2 1 0 1-.1 1 .1 1 0 1 .1 1 0 1-.3 1-.2 1 .3 1 .2 1-.1 1 .1 1-.3 1 0 1 .2 1-.1 1 .1 1-.4 1-.5 1 .3 1 .5 1 .2 1-.1 1 0 1-.2 1 .2 1-.6 1 0 1 .6 1 0 1-.1 1 .1 1 0 1-.1 1 0 1-.2 1 .3 1-.1 1 0 1 .1 1 0 1 0 1-.1 1 .2 1 0 1 0 1-.1 1 0 1 0 1 .1 1 0 1-.2 1 .2 1 0 1-.4 1 0 1 .4 1 0 1-.2 1 .1 1 0 1 0 1-.2 1 .2 1-.1 1 0 1 .2 1-.1 1 .1 1-.2 1 .2 1-.1 1 0 1 0 1 .1 1 0 1-.1 1 .1 1-.3 1 .3 1-.1 1 .1 1 0 1-.1 1 0 1 .1 1-.2 1 0 1-.1 1 .2 1 0 1-.1 1 0 1 0 1 .1 1 .1 1 0 1 0 1 0 1-.3 1 .2 1-.1 1-.2 1 .3 1-.2 1 0 1 .2 1 0 1 .1 1-.1 1 0 1-.1 1 0 1 .1 1 .1 1 0 1-.2 1 .2 1-.2 1 .2 1-.3 1 0 1 .3 1 0 1 0 1 0 1 0 1-.1 1 0 1-.2 1 0 1 .2 1-.1 1 0 1 0 1-.1 1 .2 1 0 1-.4 1 .5 1 0 1-.3 1 .1 1 0 1 0 1 .2 1 0 1-.1 1 0 1 .2 1-.2 1-.1 1 .2 1-.1 1 0 1 0 1 0 1-.1 1 0 1 .2 1-.1 1 .1 1-.1 1-.1 1-.3 1-.7 1 .5 1 .4 1-.1 1 .3 1 .1 1 0 1-.2 1 .1 1 0 1 0 1-.1 1 0 1 0 1 0 1 0 1 .1 1-.2 1 .2 1 0 1-.2 1 .2 1 0 1-.3 1 .1 1 0 1 .3 1-.2 1 .1 1-.1 1 0 1 .2 1-.3 1 0 1 0 1 0 1-.1 1 .3 1 0 1 0 1-.4 1 0 1 .3 1-.2 1 0 1 .4 1-.1 1-.2 1 .1 1 0 1-.1 1 .2 1-.2 1 0 1 .3 1-.2 1 .1 1 0 1 .1 1 0 1 0 1-.2 1 0 1-.1 1 0 1 .2 1-.1 1 .1 1 0 1 0 1 0 1-.3 1 .3 1 0 1 0 1 0 1 0 1 0 1 0 1 0 1 .1 1 0 1-.1 1-.2 1 0 1 .2 1 0 1 0 1-.4 1 0 1 .5 1 0 1 0 1 0 1 0 1-.6 1 .3 1 0 1 .2 1-.1 1 .2 1-.3 1 0 1 .4 1-.3 1-.1 1 .1 1 0 1-.1 1 .1 1 .1 1 .2 1-.3 1-.1 1 .2 1 .1 1-.3 1 .3 1 0 1 0 1 0 1 0 1 0 1-.1 1-.1 1-.2 1 .4 1 0 1-.5 1 .4 1 0 1-.1 1 .2 1-.1 1-.2 1 .1 1 .1 1 0 1 0 1-.1 1 .2 1-.1 1-.1 1 0 1 0 1-.1 1 .2 1-.1 1 0 1 0 1 .1 1 0 1 .1 1 0 1-.2 1 0 1 .1 1 0 1-.1 1 0 1-.2 1 .3 1 0 1 .1 1-.2 1 0 1-.1 1 0 1 .2 1 0 1 0 1 0 1 0 1 0 1 0 1 .1 1-.1 1 0 1 0 1-.1 1 0 1 .1 1 0 1 0 1 0 1-.1 1 .1 1 0 1 0 1-.1 1-.2 1 .1 1 0 1 0 1 0 1-.1 1 0 1 .2 1-.1 1 .2 1 0 1 .1 1-.1 1-.1 1 .2 1-.1 1 .1 1-.3 1 .2 1 .1 1 0 1-.3 1 0 1 .2 1 0 1-.4 1 .4 1 0 1-.1 1 .2 1-.1 1 0 1-.2 1 .1 1 .1 1 0 1-.1 1 0 1-.1 1-.1 1 .3 1-.1 1 .1 1 0 1-.4 1 0 1 .4 1 0 1 .1 1-.1 1 0 1-.1 1 .1 1-.4 1 0 1 .5 1-.1 1 .1 1-.1 1-.5 1-.3 1 .2 1 .5 1 .1 1 0 1 0 1 0 1 0 1 0 1 0 1-.1 1 .2 1 0 1-.6 1 .6 1-.1 1-.2 1 0 1-.1 1 0 1 .2 1-.1 1 0 1 .2 1 0 1 .1 1 0 1-.1 1 0 1 0 1-.2 1 .3 1-.4 1 .4 1 0 1-.3 1 .2 1-.5 1 .6 1 0 1 0 1-.1 1 0 1 0 1-.1 1 0 1 .1 1 0 1-.5 1 0 1 .2 1 .3 1 0 1-.1 1 0 1 0 1 .1 1-.1 1-.1 1 0 1 .2 1 0 1 0 1 0 1-.1 1 .2 1 0 1-.2 1 0 1-.1 1 .2 1 0 1 0 1 0 1 0 1-.2 1 0 1 .1 1 0 1-.1 1 .1 1 .2 1-.5 1 .5 1-.1 1-.1 1 .1 1 .1 1-.2 1 0 1 .2 1 0 1-.2 1-.1 1 .3 1 0 1-.5 1 .2 1 0 1 .3 1 0 1-.2 1 .1 1 0 1-.1 1-.3 1 .3 1 .2 1 0 1-.2 1-.2 1 .4 1-.2 1 0 1 .1 1-.1 1 .1 1 0 1 0 1-.1 1 0 1 0 1-.2 1 .3 1 .1 1-.4 1 0 1 .3 1 0 1-.2 1 0 1-.1 1 .3 1-.1 1 0 1-.2 1 0 1 .1 1 .1 1 0 1 .1 1 0 1 .1 1-.1 1 .1 1-.2 1 0 1 .1 1 0 1 0 1-.2 1 0 1-.5 1-.1 1 .2 1 .4 1-.1 1 .1 1 0 1-.1 1 0 1 .3 1 .1 1 0 1 0 1-.1 1-.2 1 0 1 .2 1 0 1-.2 1-.3 1 .6 1-.1 1-.1 1 0 1 0 1 0 1 0 1-.1 1-.2 1 0 1 .5 1-.1 1 0 1 0 1-.2 1 .3 1 0 1-.2 1-.1 1-.8 1-6 1-27.7 1-60.2 1-48.8 .2-2 .8 21.1 1 49.4 1 40.5 1 18.8 1 6.5 1 2.6 1 1.6 1 1.1 1 .9 1 .7 1 .5 1 .5 1 .4 1 0 1 .2 1 .5 1-.1 1 .1 1 .1 1 .1 1 .1 1-.5 1 .5 1-.1 1 .2 1-.1 1 .1 1 .1 1-.1 1 0 1 .1 1-.3 1-.1 1 .2 1 0 1 0 1 .2 1 0 1 0 1-.3 1-.1 1 .4 1 0 1-.2 1-.2 1-.2 1-.7 1-3.1 1-4.6 .9-2 .1 .2 1 2.8 1 4.3 1 2.6 1 .5 1 .5 1 0 1 0 1 0 1 0 1 0 1 0 1-.1 1 0 1 .2 1-.2 1-.2 1 0 1 .3 1 0 1 .1 1-.3 1-.1 1 .4 1 0 1-.1 1 0 1-.2 1-.1 1 .4 1 0 1-.1 1 .1 1 0 1-.3 1-.1 1 .4 1 0 1-.5 1 0 1 .4 1 0 1 0 1 0 1-.1 1 0 1 .1 1-.1 1 0 1-.2 1 0 1 .3 1 .1 1-.3 1 .3 1-.1 1 0 1-.4 1 .5 1 0 1-.1 1 0 1 0 1 0 1 0 1 0 1-.1 1 .2 1-.2 1 .1 1 0 1 .1 1 0 1 0 1 0 1 0 1-.4 1 .3 1 .1 1 0 1 0 1 0 1-.2 1 .2 1 0 1 0 1-.1 1 0 1 0 1 .1 1 0 1-.1 1-.2 1-.7 1-.8 .5-.1 .5 .1 1 .8 1 .4 1 .5 1 .1 1-.1 1 0 1 .1 1-.2 1 0 1 0 1 .1 1 0 1 .1 1-.2 1-.2 1 .2 1 0 1 .1 1 .1 1 0 1-.1 1 0 1 0 1 0 1 0 1 0 1 .1 1 0 1-.2 1 0 1 .2 1-.3 1 0 1 .3 1 0 1-.1 1 0 1 .1 1 0 1 0 1-.1 1 0 1 .1 1-.4 1 0 1 .3 1 .1 1 0 1-.3 1 .1 1 0 1 0 1 0 1 0 1 .1 1 0 1 0 1 0 1 0 1-.1 1 .2 1 0 1 0 1 0 1-.2 1 .2 1 0 1-.4 1 .3 1 0 1 0 1 0 1 .1 1 0 1-.2 1-.1 1 0 1 .2 1 .1 1 0 1-.5 1 .3 1 .2 1 0 1-.6 1 .6 1 0 1 0 1-.1 1 0 1 .1 1 0 1-.1 1 0 1 0 1 0 1-.3 1 .4 1 0 1-.4 1-.1 1 0 1 .5 1 0 1-.3 1 0 1 .3 1 0 1 0 1-.1 1 0 1-.3 1 .4 1 0 1 0 1 0 1 0 1 0 1-.3 1 .2 1 0 1 0 1 .1 1 0 1-.4 1 0 1 .2 1 .1 1 0 1 0 1 0 1 .1 1 0 1-.1 1 0 1 0 1 .1 1-.1 1-.3 1 .1 1 0 1 .2 1 0 1-.1 1 0 1 .2 1-.1 1 .1 1-.4 1 .4 1-.1 1 0 1 .1 1-.4 1 0 1-.1 1 .2 1 0 1 .2 1 0 1 .1 1 0 1 0 1-.2 1 0 1 .1 1 0 1 0 1-.1 1 0 1 .1 1 0 1-.3 1 .4 1-.2 1 .1 1 0 1 0 1 .1 1 0 1-.1 1 0 1 .1 1 0 1-.5 1 .4 1 0 1 .1 1 0 1 0 1-.2 1-.3 1 .3 1 .2 1-.1 1 0 1 0 1-.3 1-.1 1-1.8 1-4 1-4.8 .8-1.7 .2 0 1 3.4 1 5 1 3 1 .9 1 .4 1 0 1 .1 1-.1 1-.1 1 0 1-.1 1 .1 1-.1 1 0 1 .1 1 .1 1-.2 1 0 1 .2 1 .1 1 0 1 0 1-.2 1 .2 1 0 1-.4 1 .4 1 0 1 0 1 0 1 0 1-.3 1-.4 1 .4 1 0 1 0 1-.2 1 0 1 .5 1 0 1-.1 1-.1 1 0 1 0 1-.4 1 .4 1 .1 1 .1 1-.1 1 0 1-.2 1 0 1 .2 1 .1 1-.4 1 0 1-.2 1 0 1 .5 1 0 1 0 1-.1 1 0 1 .1 1-.2 1 .1 1 .1 1 0 1-.2 1 .3 1 0 1-.4 1 0 1 .4 1 0 1-.1 1 0 1 0 1-.3 1 .3 1 0 1 0 1 0 1 0 1 0 1 .1 1-.1 1 0 1 0 1-.1 1 0 1-.2 1 .4 1-.4 1 0 1 .3 1 0 1 0 1 .1 1-.1 1 .1 1 0 1-.1 1 0 1 0 1 0 1 0 1 .1 1-.4 1 0 1 .4 1 0 1 0 1-.1 1-.1 1 0 1 0 1 0 1 0 1 0 1 .2 1 0 1-.1 1 0 1 .1 1-.1 1-.1 1-.1 1 .2 1 0 1 .1 1-.1 1 .1 1-.2 1 .2 1 0 1 0 1 0 1 0 1-.1 1 0 1 0 1 0 1 .1 1 0 1 0 1-.4 1 0 1 .3 1-.2 1 .2 1-.2 1 .3 1-.1 1 0 1 0 1 0 1-.3 1 0 1 .2 1 0 1 .1 1 0 1 0 1 .1 1 0 1-.5 1 .5 1-.2 1 0 1 0 1 0 1 0 1 .1 1-.1 1 0 1-.1 1 .2 1 .1 1 0 1-.2 1-.1 1 .2 1 0 1-.1 1-.1 1-.2 1 .3 1-.1 1 .3 1-.3 1 0 1 .2 1 0 1 .1 1 0 1 0 1 0 1-.2 1-.1 1 .3 1-.2 1 .3 1 0 1-.4 1 0 1 .2 1 0 1 0 1 0 1 .1 1-.2 1-.1 1 0 1 .2 1 .1 1 0 1-.1 1-.2 1 0 1 .1 1-.3 1 .2 1 0 1 .2 1 0 1-.2 1 0 1 .1 1 0 1 .1 1-.5 1-5.6 1-29.6 1-81.3 1-94.2 .5-15.8 .5 15.8 1 71.5 1 72.2 1 39 1 14 1 4.8 1 2.6 1 1.9 1 1.2 1 .9 1 .7 1 .7 1 .6 1 .3 1 .1 1 .3 1 0 1 0 1 .1 1 .2 1 0 1 .1 1 0 1-.2 1 .2 1 0 1 0 1 .1 1-.1 1-.3 1 0 1 0 1-.1 1 .3 1 .1 1 0 1-.2 1 0 1 .2 1 0 1 0 1 0 1 0 1 .1 1 0 1-.2 1-.4 1-1.7 1-4.5 1-6.1 .7-1.6 .3 .4 1 4.9 1 5.5 1 2.8 1 .7 1 .2 1 0 1-.2 1 0 1 .2 1-.2 1 0 1 0 1 .1 1 .1 1-.1 1 0 1-.1 1 .1 1 .1 1 0 1 0 1 0 1 0 1 0 1 0 1-.3 1 .1 1 .2 1 0 1 0 1-.1 1 .1 1-.1 1-.2 1 0 1 0 1 .2 1 0 1 0 1 0 1-.1 1 0 1 0 1 0 1-.1 1 0 1 .3 1 0 1-.1 1 .1 1 0 1-.1 1-.2 1 .3 1-.2 1 .3 1-.2 1 0 1-.1 1 0 1 0 1 0 1 0 1 .1 1 .1 1-.4 1 0 1 .4 1-.1 1-.1 1 0 1 .2 1-.2 1 0 1 0 1 .1 1 0 1-.1 1-.3 1-.2 1 .1 1 .4 1 .1 1 .1 1-.1 1 0 1 0 1-.4 1-.4 1 .1 1 .3 1 .3 1 .1 1-.1 1 .2 1 0 1-.3 1 0 1 .2 1 0 1-.2 1 .3 1 0 1 0 1-.1 1 0 1 0 1 .1 1 0 1 0 1-.3 1 .3 1-.1 1 0 1 0 1 .1 1-.2 1-.1 1 0 1 .3 1 0 1-.2 1 .1 1-.4 1 .5 1 0 1-.3 1 0 1 .2 1 0 1 0 1 0 1-.3 1 .4 1-.1 1 0 1 0 1 .1 1-.1 1 0 1 .1 1 0 1-.4 1 .2 1 .1 1 0 1 0 1-.3 1-.1 1-1.6 1-6 1-11.3 1-6.5 1 .8 1 1.6 1 2.2 1 2.2 1 2 1 2.6 1 2.1 1 1.9 1 1.7 1 1.6 1 1.3 1 1.3 1 1 1 .8 1 .6 1 .3 1 .5 1 .4 1-.1 1 .1 1 .5 1 .1 1-.1 1 .1 1 .1 1 .1 1 0 1 .1 1-.1 1 0 1 0 1-.2 1 .4 1 0 1-.3 1 .3 1-.2 1 .1 1 0 1 0 1 0 1 .1 1-.1 1 0 1-.2 1-.1 1 .1 1-.5 1-.3 1-.4 1 .3 1 .5 1 .5 1 .1 1 0 1 0 1-.1 1-.1 1 .3 1 0 1-.1 1 0 1 .1 1-.1 1 .1 1-.1 1-.3 1 .2 1 .2 1-.1 1 0 1 0 1 .1 1-.1 1 0 1 0 1 .1 1-.4 1 .3 1 .1 1 0 1-.1 1-.2 1 .2 1 0 1-.1 1 0 1 .1 1 0 1-.2 1 0 1 .1 1 .2 1-.2 1 .2 1 0 1 0 1 .1 1 0 1-.1 1-.1 1 0 1 0 1 0 1-.1 1 0 1 0 1-.2 1 .3 1 0 1 0 1 0 1 .1 1 0 1-.4 1 .2 1 .2 1-.1 1-.2 1 0 1 .3 1 0 1-.1 1 0 1 .1 1-.2 1 0 1 0 1 .2 1 0 1-.1 1 0 1 0 1 .1 1-.6 1 .6 1 0 1-.4 1 .3 1 0 1-.2 1 .2 1 0 1-.1 1 .1 1 0 1 .1 1-.1 1-.1 1 0 1 0 1-.1 1 .1 1 0 1 .1 1 0 1 0 1 .1 1-.2 1 0 1 0 1-.1 1 0 1-.1 1 .3 1 0 1 0 1-.1 1 0 1 .1 1-.2 1 .3 1 0 1 0 1-.5 1 .1 1 .2 1 0 1 .1 1-.1 1 .1 1-.1 1 0 1 .1 1-.1 1 0 1 .1 1 0 1-.1 1 0 1 .1 1-.1 1 .2 1-.1 1 .1 1 0 1-.2 1 .1 1 .1 1 0 1 0 1-.4 1 0 1 .1 1 .3 1 0 1-.2 1 0 1-.1 1 .1 1-.2 1 .1 1 .2 1-.1 1 0 1-.2 1 .4 1-.1 1 0 1-.2 1 0 1 .2 1-.3 1 .2 1 0 1 .1 1 .1 1-.2 1 0 1 .1 1 0 1 0 1 0 1-.1 1-.1 1 .2 1 0 1-.1 1 .1 1 .1 1 0 1-.1 1 0 1-.1 1-.1 1 0 1 .1 1 .2 1 0 1-.2 1 .1 1 .1 1 0 1-.1 1-.2 1-.2 1 .3 1 .2 1 0 1 0 1 0 1 0 1 0 1-.4 1 0 1 .2 1-.2 1 .4 1 0 1 0 1-.1 1 0 1-.2 1 .2 1 .1 1-.5 1 .3 1 0 1 0 1 0 1 0 1 .1 1 0 1 0 1 .1 1 0 1-.1 1 0 1-.6 1 0 1 .7 1-.2 1 .2 1-.4 1 .2 1 .2 1 0 1-.1 1 .1 1-.3 1 .2 1 0 1-.1 1 .2 1 0 1-.4 1 0 1 .3 1 0 1-.1 1 .2 1 .1 1-.2 1-.4 1 .1 1 0 1 .3 1 0 1 0 1-.3 1 .5 1 0 1-.4 1 .2 1 0 1 0 1 0 1-.1 1 0 1-.1 1-.1 1 .3 1 .1 1-.1 1 0 1 0 1-.1 1-.4 1 .6 1 0 1 0 1-.2 1 0 1 0 1-1 1-1.6 1-2.6 1-3.2 1-1.9 1 1.9 1 3 1 2.9 1 1.8 1 .7 1 0 1-.1 1 .3 1-.5 1 0 1 .5 1-.2 1 0 1 .1 1-.2 1 .2 1 0 1-.2 1 .3 1-.1 1 .1 1-.1 1-.2 1 .1 1 .1 1 0 1 0 1-.2 1 .3 1 0 1 0 1 0 1 0 1 0 1-.5 1 .2 1-.1 1 .3 1 0 1-.1 1 0 1 .1 1 0 1-.1 1 0 1 0 1 .1 1 0 1 0 1 0 1-.3 1 0 1 .5 1-.2 1-.1 1 .1 1 0 1 .1 1-.1 1 .1 1 0 1-.1 1 0 1 0 1 0 1-.1 1 0 1 .1 1 0 1 0 1 .1 1-.6 1 0 1 .6 1 0 1-.2 1 0 1 .1 1 0 1 0 1 .1 1 0 1-.3 1 0 1 .3 1 0 1-.2 1-.1 1 0 1 .4 1-.2 1 .1 1 0 1-.2 1 0 1-.1 1 .2 1-.2 1 .1 1 .1 1 .1 1-.1 1 0 1 .1 1 0 1-.3 1 0 1 0 1 0 1-.1 1 .4 1 0 1 .1 1-.1 1-.1 1-.3 1 0 1 .4 1 0 1 0 1-.1 1 0 1 0 1 0 1 0 1 0 1 .1 1 0 1-.1 1-.2 1 .3 1 0 1-.1 1 0 1 0 1-.3 1 0 1 .2 1 .2 1-.2 1 0 1-.1 1 0 1 .1 1 .1 1 .1 1 0 1 0 1-.1 1-.3 1 .2 1 .2 1-.1 1 0 1-.2 1 .2 1 0 1 0 1 .1 1 0 1 0 1-.1 1 0 1 .1 1 0 1 .1 1-.5 1 .4 1-.1 1 0 1 0 1 0 1 0 1 .1 1 0 1-.1 1 0 1-.3 1 .5 1-.2" fill="none" stroke="#000" stroke-width="4.0" stroke-linejoin="round"/>
<text x="1018.2" y="507.4" font-size="60.5" text-anchor="middle" stroke="#000" stroke-width="0.6">*</text>
<rect x="1588.3" y="370.6" width="32.7" height="32.1" fill="#000"/>
<text x="1804.9" y="627.4" font-size="60.5" text-anchor="middle" stroke="#000" stroke-width="0.6">*</text>
<text x="2329.7" y="401.2" font-size="51.3" text-anchor="end">7.5 pmole</text>
<path d="M363 929.8l .5-.6 .5 .5 .5-.8 .5 .6 .5-.6 .5 .8 .5-1.1 .5 1.2 .5-1.2 .5 1 .5-.9 .5 .9 .5-.8 .5 .9 .5-.5 .5 .5 .5-.3 .5 .2 .5-.5 .5 .4 .5-.2 .5 .5 .5-.4 .5 .3 .5-.6 .5 .4 .5-.1 .5 .4 .5-.4 .5 .1 .5-.4 .5 .6 .5-.4 .5 .5 .5-.8 .5 .7 .5-.9 .5 .9 .5-.9 .5 .9 .5-.5 .5 .3 .5-.4 .5 .6 .5-.4 .5 .5 .5-.8 .5 .8 .5-.5 .5 .4 .5-.5 .5 .5 .5-.5 .5 .5 .5-.6 .5 .5 .5-.3 .5 .5 .5-.4 .5 .2 .5-.3 .5 .5 .5-.7 .5 .7 .5-.4 .5 .2 .5-.7 .5 .9 .5-1.2 .5 .9 .5-.4 .5 .7 .5-1.3 .5 1.3 .5-.7 .5 .5 .5-.5 .5 .6 .5-1.2 .5 1.1 .5-1.1 .5 1 .5-1.5 .5 1.7 .5-1.9 .5 2 .5-.9 .5 .6 .5-.4 .5 .5 .5-.5 .5 .6 .5-.8 .5 .7 .5-1.8 .5 2 .5-1.9 .5 1.8 .5-.7 .5 .8 .5-2.2 .5 2.1 .5-1.5 .5 1.4 .5-1.3 .5 1.4 .5-1.9 .5 1.7 .5-1 .5 1.1 .5-1.3 .5 1.5 .5-1.7 .5 1.6 .5-2.1 .5 2.1 .5-1.4 .5 1.3 .5-1 .5 1 .5-1.1 .5 1.2 .5-2.2 .5 2.1 .5-1.2 .5 1.3 .5-1.2 .5 1.2 .5-1.4 .5 1.4 .5-1.8 .5 1.9 .5-1.9 .5 1.9 .5-1.1 .5 1.1 .5-1 .5 1 .5-1.9 .5 1.8 .5-.6 .5 .4 .5-1.4 .5 1.4 .5-1 .5 1.2 .5-1.1 .5 .9 .5-1.9 .5 2.1 .5-1.6 .5 1.6 .5-1.7 .5 1.7 .5-1.2 .5 1.1 .5-1.7 .5 1.7 .5-.6 .5 .6 .5-1.9 .5 1.9 .5-1.8 .5 1.9 .5-1.4 .5 1.2 .5-.3 .5 .3 .5-1.1 .5 1.1 .5-1.1 .5 1.4 .5-.8 .5 .6 .5-1 .5 1 .5-1.6 .5 1.8 .5-2.2 .5 2 .5-1.7 .5 1.7 .5-1.2 .5 1.4 .5-1.5 .5 1.4 .5-.8 .5 .9 .5-1.5 .5 1.2 .5-.5 .5 .5 .5-1.8 .5 2 .5-1 .5 1 .5-2.4 .5 2.2 .5-.6 .5 .7 .5-1.4 .5 1.3 .5-.5 .5 .6 .5-.9 .5 .8 .5-1.4 .5 1.5 .5-1.1 .5 1.1 .5-.4 .5 .6 .5-1.2 .5 1.1 .5-1.1 .5 .9 .5-.4 .5 .5 .5-.7 .5 .7 .5-1.3 .5 1.3 .5-.6 .5 .6 .5-.5 .5 .5 .5-1.1 .5 1.3 .5-.8 .5 .6 .5-.4 .5 .6 .5-.7 .5 .5 .5-.3 .5 .3 .5-.4 .5 .3 .5-.4 .5 .6 .5-1.1 .5 1.1 .5-.9 .5 .9 .5-1.2 .5 1.2 .5-.9 .5 .7 .5-.3 .5 .4 .5-.3 .5 .2 .5-.8 .5 .9 .5-.6 .5 .8 .5-1.2 .5 1.1 .5-.5 .5 .6 .5-.7 .5 .5 .5-.9 .5 .9 .5-.6 .5 .7 .5-.3 .5 .3 .5-.6 .5 .6 .5-.6 .5 .6 .5-.6 .5 .4 .5-.1 .5 .3 .5-.4 .5 .4 .5-1.1 .5 .9 .5-.5 .5 .7 .5-1.2 .5 1 .5-.5 .5 .7 .5-.8 .5 .7 .5-.6 .5 .8 .5-1.4 .5 1.3 .5-.4 .5 .4 .5-1.1 .5 1.1 .5-.9 .5 .9 .5-.9 .5 1 .5-1.7 .5 1.5 .5-1.1 .5 1.1 .5-1 .5 1.1 .5-2 .5 2 .5-2 .5 2 .5-1.3 .5 1.2 .5-1.2 .5 1.4 .5-1.1 .5 .8 .5-1.6 .5 1.8 .5-1 .5 .8 .5-.6 .5 .8 .5-1.4 .5 1.5 .5-1.5 .5 1.3 .5-.9 .5 1 .5-1.2 .5 1.1 .5-.4 .5 .3 .5-1 .5 1.2 .5-.5 .5 .6 .5-.5 .5 .5 .5-1 .5 1 .5-1.1 .5 .9 .5-.2 .5 .3 .5-.5 .5 .5 .5-.8 .5 .8 .5-.4 .5 .3 .5-.6 .5 .7 .5-.8 .5 .8 .5-1 .5 1 .5-.4 .5 .2 .5-.2 .5 .5 .5-.7 .5 .6 .5-.5 .5 .4 .5-.5 .5 .5 .5-.8 .5 .8 .5-.3 .5 .4 .5-1.2 .5 1.2 .5-.5 .5 .6 .5-.7 .5 .5 .5-.3 .5 .3 .5-.5 .5 .6 .5-.8 .5 .9 .5-.7 .5 .7 .5-.6 .5 .4 .5-.3 .5 .4 .5-1.1 .5 .9 .5-.2 .5 .4 .5-.5 .5 .6 .5-.5 .5 .2 .5-.3 .5 .4 .5-.3 .5 .3 .5-.9 .5 .8 .5-.1 .5 .2 .5-.2 .5 .4 .5-.6 .5 .4 .5-.6 .5 .7 .5-.7 .5 .8 .5-1 .5 .8 .5-.6 .5 .5 .5-.9 .5 1.2 .5-.7 .5 .6 .5-1.2 .5 1.3 .5-.5 .5 .3 .5-.4 .5 .3 .5-.4 .5 .5 .5-.3 .5 .5 .5-.6 .5 .5 .5-.5 .5 .6 .5-.5 .5 .3 .5-.2 .5 .1 .5-.4 .5 .6 .5-.7 .5 .5 .5-.5 .5 .7 .5-.3 .5 .2 .5-.4 .5 .4 .5-.2 .5 .2 .5-.4 .5 .5 .5-.5 .5 .6 .5-.6 .5 .4 .5-.5 .5 .5 .5-.5 .5 .6 .5-.5 .5 .6 .5-1 .5 .8 .5-.3 .5 .3 .5-.6 .5 .8 .5-.6 .5 .4 .5-.6 .5 .8 .5-.5 .5 .3 .5-.6 .5 .8 .5-1.2 .5 1.2 .5-.7 .5 .6 .5-.9 .5 1 .5-.5 .5 .5 .5-.4 .5 .3 .5-.3 .5 .2 .5-.3 .5 .3 .5-.7 .5 .8 .5-1.2 .5 1.2 .5-1.4 .5 1.2 .5-1.1 .5 1.3 .5-.8 .5 .9 .5-.9 .5 .7 .5-.3 .5 .4 .5-.4 .5 .5 .5-.5 .5 .5 .5-.7 .5 .6 .5-.3 .5 .3 .5-.6 .5 .6 .5-.4 .5 .4 .5-.5 .5 .5 .5-.6 .5 .6 .5-.3 .5 .2 .5-.9 .5 .9 .5-.3 .5 .5 .5-1 .5 .8 .5-1 .5 .9 .5-.9 .5 .9 .5-.8 .5 1.1 .5-1.1 .5 .9 .5-.8 .5 .9 .5-1.3 .5 1.3 .5-1.1 .5 1 .5-.2 .5 .1 .5-.7 .5 .9 .5-.4 .5 .4 .5-.5 .5 .5 .5-.4 .5 .5 .5-.8 .5 .5 .5-.2 .5 .3 .5-.4 .5 .5 .5-.4 .5 .3 .5-.6 .5 .6 .5-1.2 .5 1.3 .5-.7 .5 .6 .5-1.1 .5 1.2 .5-1.1 .5 1.2 .5-1.1 .5 1.1 .5-.8 .5 .7 .5-1.2 .5 1.1 .5-.9 .5 .9 .5-.5 .5 .7 .5-.9 .5 .8 .5-.6 .5 .6 .5-1.1 .5 .9 .5-1.4 .5 1.7 .5-1.1 .5 1.1 .5-1 .5 .7 .5-1.1 .5 1.2 .5-1.1 .5 1.3 .5-1.1 .5 .9 .5-.4 .5 .5 .5-1 .5 .9 .5-1.1 .5 1.1 .5-.3 .5 .4 .5-.7 .5 .8 .5-.7 .5 .5 .5-1.1 .5 1.1 .5-.9 .5 1.1 .5-.8 .5 .8 .5-.8 .5 .8 .5-.9 .5 .9 .5-.7 .5 .6 .5-.5 .5 .4 .5-.5 .5 .5 .5-.4 .5 .6 .5-.5 .5 .3 .5-.3 .5 .2 .5-.4 .5 .5 .5-.5 .5 .7 .5-.7 .5 .7 .5-.9 .5 .9 .5-.4 .5 .3 .5-.3 .5 .1 .5-.2 .5 .5 .5-.8 .5 .7 .5-.3 .5 .2 .5-.5 .5 .7 .5-.5 .5 .3 .5-.4 .5 .6 .5-.4 .5 .3 .5-.3 .5 .3 .5-.4 .5 .4 .5-.4 .5 .4 .5-.4 .5 .4 .5-.4 .5 .5 .5-.6 .5 .4 .5-.5 .5 .5 .5-.5 .5 .4 .5-.4 .5 .6 .5-.6 .5 .5 .5-.3 .5 .4 .5-.6 .5 .4 .5-.6 .5 .8 .5-.8 .5 .8 .5-1.2 .5 1.1 .5-.6 .5 .6 .5-1 .5 1.1 .5-.4 .5 .3 .5-.2 .5 .2 .5-.5 .5 .7 .5-.4 .5 .3 .5-.3 .5 .2 .5-.3 .5 .5 .5-.7 .5 .6 .5-.5 .5 .3 .5-.4 .5 .6 .5-.3 .5 .4 .5-.7 .5 .5 .5-.3 .5 .3 .5-.2 .5 .4 .5-.4 .5 .3 .5-.3 .5 .2 .5-.4 .5 .3 .5-.5 .5 .8 .5-.5 .5 .5 .5-.8 .5 .6 .5-1 .5 1 .5-1.2 .5 1.2 .5-.4 .5 .5 .5-.5 .5 .5 .5-.7 .5 .6 .5-.8 .5 .8 .5-.7 .5 .8 .5-.4 .5 .3 .5-.3 .5 .3 .5-.6 .5 .7 .5-.8 .5 .7 .5-.4 .5 .6 .5-.4 .5 .2 .5-.6 .5 .7 .5-.4 .5 .5 .5-.6 .5 .6 .5-.9 .5 .7 .5-.8 .5 .9 .5-.7 .5 .7 .5-.8 .5 .9 .5-1 .5 1 .5-.8 .5 .6 .5-.9 .5 1 .5-.7 .5 .7 .5-1.6 .5 1.5 .5-1.7 .5 1.8 .5-.9 .5 1 .5-1.1 .5 1 .5-1 .5 .9 .5-.5 .5 .4 .5-.8 .5 .9 .5-.4 .5 .6 .5-1.2 .5 1.1 .5-1.3 .5 1.1 .5-1.4 .5 1.5 .5-1.8 .5 1.9 .5-1.1 .5 1.1 .5-1.5 .5 1.4 .5-1.1 .5 1 .5-.5 .5 .6 .5-1 .5 1 .5-.6 .5 .5 .5-1.1 .5 1.2 .5-1.1 .5 1.3 .5-.8 .5 .7 .5-1.5 .5 1.5 .5-.9 .5 .8 .5-1 .5 1 .5-.6 .5 .5 .5-.9 .5 1 .5-1.3 .5 1.2 .5-1.7 .5 2 .5-2 .5 1.8 .5-1.8 .5 1.8 .5-1.3 .5 1.2 .5-2 .5 2.2 .5-2.1 .5 1.9 .5-1.6 .5 1.8 .5-.9 .5 .8 .5-.8 .5 1 .5-1.7 .5 1.6 .5-1.6 .5 1.6 .5-1.4 .5 1.3 .5-.6 .5 .6 .5-1 .5 1.1 .5-1.6 .5 1.5 .5-1.8 .5 2 .5-1.6 .5 1.5 .5-1.9 .5 1.9 .5-1.9 .5 1.7 .5-.8 .5 1.1 .5-1.8 .5 1.7 .5-1.4 .5 1.3 .5-2 .5 2 .5-2.1 .5 2.1 .5-1.3 .5 1.2 .5-1.2 .5 1.3 .5-1.7 .5 1.7 .5-1 .5 1 .5-2.1 .5 2.1 .5-.9 .5 .9 .5-.6 .5 .7 .5-1.7 .5 1.8 .5-1.3 .5 1.1 .5-1.3 .5 1.5 .5-1.7 .5 1.7 .5-1.9 .5 1.8 .5-.9 .5 .8 .5-1 .5 1.1 .5-.8 .5 .9 .5-1 .5 .7 .5-1.2 .5 1.5 .5-2 .5 1.9 .5-2 .5 1.8 .5-1.8 .5 2 .5-1.7 .5 1.8 .5-1.3 .5 1.1 .5-1.3 .5 1.2 .5-.7 .5 .9 .5-1.6 .5 1.7 .5-1 .5 .9 .5-1.1 .5 1.1 .5-1 .5 1.1 .5-1.3 .5 1.3 .5-.8 .5 .6 .5-.9 .5 1.1 .5-1 .5 .8 .5-.9 .5 1.1 .5-.9 .5 .7 .5-1.4 .5 1.3 .5-.4 .5 .7 .5-.7 .5 .7 .5-.8 .5 .7 .5-.7 .5 .6 .5-.4 .5 .4 .5-.5 .5 .6 .5-.7 .5 .7 .5-.8 .5 .6 .5-.9 .5 .9 .5-1 .5 1 .5-1.1 .5 1.1 .5-1.4 .5 1.6 .5-1.6 .5 1.4 .5-1.8 .5 1.9 .5-1.7 .5 1.6 .5-1.4 .5 1.6 .5-.8 .5 .7 .5-1.3 .5 1.3 .5-1.9 .5 2 .5-.9 .5 .8 .5-.6 .5 .6 .5-1.7 .5 1.8 .5-1.6 .5 1.7 .5-2.6 .5 2.5 .5-1.5 .5 1.4 .5-2.3 .5 2.4 .5-1.3 .5 1.3 .5-1.5 .5 1.4 .5-.8 .5 .7 .5-.7 .5 .8 .5-1.6 .5 1.7 .5-1.7 .5 1.7 .5-1.7 .5 1.5 .5-1 .5 1 .5-.8 .5 1.1 .5-1.7 .5 1.6 .5-.9 .5 .9 .5-1.8 .5 1.8 .5-2.3 .5 2.3 .5-1.1 .5 1 .5-2.1 .5 2.2 .5-1.5 .5 1.6 .5-1.7 .5 1.5 .5-1.3 .5 1.2 .5-1.2 .5 1.5 .5-.6 .5 .6 .5-1.4 .5 1.3 .5-1 .5 1 .5-1 .5 1.1 .5-.5 .5 .3 .5-.3 .5 .4 .5-.4 .5 .4 .5-.5 .5 .6 .5-.5 .5 .5 .5-.7 .5 .6 .5-.4 .5 .4 .5-.7 .5 .8 .5-1.1 .5 .9 .5-.5 .5 .5 .5-.2 .5 .4 .5-.5 .5 .2 .5-.2 .5 .3 .5-.2 .5 .3 .5-.3 .5 .2 .5-.3 .5 .4 .5-.5 .5 .3 .5-.2 .5 .4 .5-.3 .5 .4 .5-.7 .5 .4 .5-1 .5 1 .5-.9 .5 1 .5-1 .5 1.1 .5-.9 .5 .8 .5-.6 .5 .6 .5-1.1 .5 1.3 .5-1.5 .5 1.5 .5-1 .5 1 .5-2.4 .5 2.2 .5-1.8 .5 1.9 .5-1.1 .5 1.1 .5-1.9 .5 1.9 .5-1.1 .5 1.2 .5-2.2 .5 1.9 .5-.8 .5 .8 .5-1.6 .5 1.8 .5-1.7 .5 1.8 .5-2 .5 1.8 .5-1.6 .5 1.6 .5-1.4 .5 1.4 .5-1.3 .5 1.5 .5-2.5 .5 2.3 .5-1.2 .5 1.3 .5-2.2 .5 2.1 .5-1.5 .5 1.7 .5-.8 .5 .8 .5-1.4 .5 1.3 .5-2.3 .5 2.4 .5-.9 .5 .8 .5-1.5 .5 1.4 .5-1.5 .5 1.4 .5-1.6 .5 1.9 .5-1.6 .5 1.5 .5-.6 .5 .6 .5-1.1 .5 1.1 .5-.8 .5 .9 .5-1.1 .5 .9 .5-.5 .5 .5 .5-.3 .5 .4 .5-.6 .5 .5 .5-.5 .5 .4 .5-.1 .5 .3 .5-.4 .5 .2 .5-.4 .5 .4 .5-.7 .5 .9 .5-.6 .5 .7 .5-.6 .5 .5 .5-.4 .5 .3 .5-.2 .5 .4 .5-.6 .5 .3 .5-.3 .5 .6 .5-.6 .5 .4 .5-.3 .5 .4 .5-.4 .5 .3 .5-.6 .5 .7 .5-.5 .5 .4 .5-.3 .5 .2 .5-.3 .5 .4 .5-.2 .5 .2 .5-.2 .5 .3 .5-.5 .5 .4 .5-.3 .5 .4 .5-.5 .5 .5 .5-.9 .5 .8 .5-.9 .5 .8 .5-.3 .5 .4 .5-1.2 .5 1.3 .5-1.2 .5 1.1 .5-.5 .5 .5 .5-.2 .5 .2 .5-.5 .5 .7 .5-1 .5 .8 .5-.4 .5 .3 .5-1 .5 1 .5-.8 .5 1 .5-.8 .5 .9 .5-1.3 .5 1.3 .5-.8 .5 .7 .5-1 .5 1.1 .5-1 .5 .8 .5-.3 .5 .4 .5-.6 .5 .5 .5-.7 .5 .7 .5-.5 .5 .6 .5-1.1 .5 1 .5-.4 .5 .4 .5-1.1 .5 1.2 .5-.6 .5 .5 .5-.8 .5 .8 .5-.6 .5 .6 .5-.8 .5 .9 .5-.7 .5 .6 .5-.4 .5 .5 .5-.6 .5 .7 .5-.7 .5 .5 .5-.3 .5 .3 .5-.5 .5 .5 .5-.7 .5 .9 .5-.6 .5 .5 .5-.4 .5 .2 .5-.4 .5 .4 .5-.1 .5 .2 .5-.5 .5 .6 .5-.7 .5-.3 .5-2.8 .5-5.8 .5-13.8 .5-23.9 .5-37.2 .5-44.4 .5-42.9 .5-23.2 .2-2.4 .3 5.5 .5 19 .5 26.4 .5 30.5 .5 28.4 .5 25 .5 17.9 .5 13.3 .5 7.9 .5 5.9 .5 2.9 .5 2.8 .5 .6 .5 2.2 .5-.3 .5 2.3 .5 .2 .5 1.3 .5-.3 .5 1.5 .5-.4 .5 1.4 .5 .1 .5 .6 .5-.1 .5 .8 .5-.3 .5 .7 .5-.1 .5 .6 .5-.5 .5 .7 .5-.6 .5 .8 .5-.5 .5 .5 .5-.5 .5 .6 .5-1 .5 1.3 .5-1.3 .5 1.2 .5-.3 .5 .3 .5-.8 .5 1.1 .5-1.4 .5 1.3 .5-1.1 .5 1.3 .5-1.6 .5 1.6 .5-1.5 .5 1.5 .5-1 .5 .9 .5-.7 .5 .8 .5-1.4 .5 1.3 .5-.7 .5 .7 .5-.8 .5 1 .5-1.7 .5 1.6 .5-1.1 .5 1.2 .5-1.2 .5 1 .5-.9 .5 .9 .5-1.6 .5 1.6 .5-.5 .5 .7 .5-1.1 .5 .8 .5-.7 .5 .9 .5-1.4 .5 1.3 .5-1.2 .5 1.3 .5-1.5 .5 1.3 .5-1.5 .5 1.6 .5-1.8 .5 1.6 .5-1.9 .5 0 .5-2.8 .5-2.7 .5-6.6 .5-3.3 .5-5.9 .5-.1 .1-.2 .4-.3 .5 4.6 .5 3.7 .5 6.4 .5 1.9 .5 4.7 .5 .7 .5 1.5 .5-1.4 .5 1.8 .5-1.5 .5 1.6 .5-1.8 .5 1.9 .5-.8 .5 .7 .5-2 .5 2.2 .5-2.4 .5 2.1 .5-.9 .5 1.2 .5-1.6 .5 1.4 .5-1.5 .5 1.7 .5-2.1 .5 1.9 .5-2 .5 2.1 .5-2.3 .5 2.3 .5-.9 .5 .9 .5-1 .5 .9 .5-2.3 .5 2.3 .5-2 .5 2 .5-.7 .5 .6 .5-.8 .5 .8 .5-1.1 .5 1.3 .5-2.2 .5 2.2 .5-1 .5 .9 .5-1.3 .5 1.2 .5-.9 .5 1 .5-1.3 .5 1.3 .5-1.7 .5 1.7 .5-1.8 .5 1.8 .5-1.6 .5 1.6 .5-1.4 .5 1.5 .5-2.3 .5 2.3 .5-1.1 .5 .9 .5-1.1 .5 1.3 .5-1.9 .5 2 .5-1.3 .5 1.1 .5-.7 .5 .9 .5-1.6 .5 1.5 .5-.7 .5 .6 .5-1.3 .5 1.3 .5-1.9 .5 2 .5-1.1 .5 1.1 .5-1.3 .5 1.3 .5-1.4 .5 1.5 .5-1.8 .5 1.5 .5-2.2 .5 2.5 .5-1.4 .5 1.3 .5-2.2 .5 2.3 .5-2.4 .5 2.3 .5-1 .5 1.1 .5-2.1 .5 2 .5-.9 .5 .9 .5-1.8 .5 1.6 .5-.9 .5 1 .5-1.5 .5 1.5 .5-.8 .5 .9 .5-2.2 .5 2.3 .5-2.3 .5 2.1 .5-2.2 .5 2.2 .5-.9 .5 .9 .5-2.2 .5 2.4 .5-1.4 .5 1.3 .5-.8 .5 .6 .5-.9 .5 1 .5-.9 .5 1 .5-2.4 .5 2.2 .5-2.3 .5 2.3 .5-.5 .5 .8 .5-1.2 .5 1.2 .5-1 .5 .8 .5-2.1 .5 2.2 .5-2.1 .5 2 .5-1.1 .5 1 .5-1.6 .5 1.8 .5-1.2 .5 1.2 .5-1.5 .5 1.5 .5-2.2 .5 2.1 .5-1.1 .5 1.1 .5-1.2 .5 1.2 .5-1.9 .5 1.9 .5-.9 .5 1 .5-1.5 .5 1.5 .5-1 .5 1.1 .5-.9 .5 .9 .5-1.7 .5 1.6 .5-1.5 .5 1.3 .5-1.6 .5 1.6 .5-1.9 .5 2.1 .5-1.5 .5 1.6 .5-1.2 .5 1.2 .5-.8 .5 .6 .5-1 .5 1.1 .5-.5 .5 .4 .5-.5 .5 .6 .5-.6 .5 .6 .5-.6 .5 .4 .5-.7 .5 .7 .5-.4 .5 .6 .5-1.6 .5 1.6 .5-1.4 .5 1.2 .5-1.5 .5 1.8 .5-1.2 .5 1.1 .5-1.6 .5 1.7 .5-1 .5 .9 .5-1.2 .5 1.1 .5-.8 .5 .9 .5-.8 .5 .7 .5-.7 .5 .7 .5-1.5 .5 1.5 .5-.5 .5 .6 .5-1.3 .5 1.2 .5-.9 .5 1.1 .5-.9 .5 .9 .5-1 .5 .8 .5-.7 .5 .9 .5-.9 .5 .7 .5-1.9 .5 1.9 .5-.5 .5 .5 .5-1.3 .5 1.2 .5-1.5 .5 1.5 .5-.7 .5 .7 .5-.6 .5 .8 .5-1.7 .5 1.7 .5-2.3 .5 2.3 .5-1 .5 .9 .5-1.2 .5 1.3 .5-1 .5 .9 .5-1 .5 1.1 .5-1.7 .5 1.5 .5-.5 .5 .8 .5-.8 .5 .6 .5-.4 .5 .4 .5-.6 .5 .8 .5-1.1 .5 1 .5-.8 .5 .8 .5-.9 .5 .9 .5-1 .5 1 .5-.7 .5 .6 .5-.7 .5 .8 .5-.9 .5 1 .5-1.2 .5 1 .5-.8 .5 1 .5-.6 .5 .4 .5-.8 .5 .9 .5-.8 .5 .9 .5-1.4 .5 1.2 .5-1.4 .5 1.3 .5-1.2 .5 1.4 .5-.4 .5 .5 .5-.7 .5 .4 .5-.4 .5 .6 .5-.7 .5 .6 .5-.6 .5 .6 .5-.3 .5 .3 .5-.3 .5 .3 .5-.4 .5 .5 .5-1.1 .5 1.1 .5-1.4 .5 1.4 .5-1 .5 1 .5-.9 .5 .8 .5-1.7 .5 1.7 .5-1.5 .5 1.6 .5-.6 .5 .7 .5-.6 .5 .4 .5-1.3 .5 1.4 .5-.6 .5 .6 .5-1.1 .5 1 .5-1 .5 1.1 .5-1.2 .5 1.1 .5-1 .5 1 .5-1.3 .5 1.3 .5-1.6 .5 1.6 .5-1.1 .5 1.2 .5-1.4 .5 1.2 .5-1 .5 1.3 .5-.6 .5 .4 .5-.8 .5 .8 .5-.5 .5 .4 .5-.1 .5 .2 .5-.4 .5 .6 .5-.7 .5 .5 .5-.5 .5 .6 .5-1.1 .5 1.1 .5-.6 .5 .5 .5-1.1 .5 1 .5-1.2 .5 1.4 .5-1.9 .5 1.7 .5-1.1 .5 1.1 .5-1.1 .5 1.3 .5-1.4 .5 1.3 .5-.8 .5 .9 .5-.8 .5 .7 .5-1.1 .5 1.2 .5-1.2 .5 1.3 .5-1.4 .5 1.2 .5-1.9 .5 1.8 .5-.9 .5 1 .5-.9 .5 .9 .5-1.1 .5 1.3 .5-2.6 .5 2.4 .5-1.4 .5 1.4 .5-2 .5 1.9 .5-1.7 .5 1.8 .5-.8 .5 .8 .5-1.2 .5 1.2 .5-1.7 .5 1.9 .5-1.2 .5 .9 .5-.4 .5 .4 .5-.8 .5 1.1 .5-1.7 .5 1.6 .5-1.6 .5 1.6 .5-.9 .5 .8 .5-.9 .5 .8 .5-.5 .5 .7 .5-1 .5 1 .5-.4 .5 .5 .5-.5 .5 .2 .5-.7 .5 .7 .5-.5 .5 .6 .5-1.3 .5 1.3 .5-1.2 .5 1.1 .5-.9 .5 .9 .5-.8 .5 .9 .5-1.4 .5 1.3 .5-.4 .5 .5 .5-1.5 .5 1.5 .5-1.2 .5 1.3 .5-1.4 .5 1.4 .5-1.3 .5 1.3 .5-.5 .5 .6 .5-.8 .5 .6 .5-1 .5 1.1 .5-1 .5 .9 .5-.7 .5 .7 .5-.5 .5 .5 .5-1 .5 1 .5-.8 .5 .8 .5-1.1 .5 1.1 .5-1.3 .5 1.4 .5-.9 .5 .8 .5-.5 .5 .5 .5-.7 .5 .8 .5-.9 .5 .9 .5-.9 .5 .8 .5-.7 .5 .7 .5-.4 .5 .6 .5-.6 .5 .5 .5-.9 .5 .8 .5-.6 .5 .7 .5-1 .5 .8 .5-.7 .5 .8 .5-1.6 .5 1.7 .5-1.8 .5 1.8 .5-1 .5 1.1 .5-1 .5 .9 .5-1.5 .5 1.6 .5-.9 .5 .9 .5-1.6 .5 1.3 .5-1.4 .5 1.6 .5-.7 .5 .8 .5-.6 .5 .5 .5-.8 .5 .9 .5-.6 .5 .4 .5-.7 .5 .7 .5-.4 .5 .6 .5-.7 .5 .6 .5-.5 .5 .4 .5-.4 .5 .5 .5-.6 .5 .4 .5-.4 .5 .4 .5-.5 .5 .7 .5-.4 .5 .4 .5-.9 .5 .9 .5-.5 .5 .5 .5-.4 .5 .3 .5-.3 .5 .3 .5-.3 .5 .4 .5-.6 .5 .6 .5-.7 .5 .8 .5-.7 .5 .5 .5-.7 .5 .6 .5-.2 .5 .4 .5-.5 .5 .4 .5-.5 .5 .6 .5-.5 .5 .4 .5-.7 .5 .6 .5-.4 .5 .6 .5-.7 .5 .8 .5-.6 .5 .5 .5-.8 .5 .7 .5-.4 .5 .5 .5-.8 .5 .7 .5-1.2 .5 1.3 .5-1.7 .5 1.7 .5-2 .5 2 .5-1.6 .5 1.5 .5-1.3 .5 1.4 .5-1.3 .5 1.4 .5-.8 .5 .5 .5-.7 .5 1 .5-1 .5 1 .5-1.4 .5 1.3 .5-1 .5 .8 .5-1.6 .5 1.6 .5-2.1 .5 2.3 .5-2 .5 2.1 .5-2 .5 1.8 .5-1.8 .5 1.7 .5-1.5 .5 1.6 .5-.9 .5 .9 .5-2.3 .5 2.3 .5-.6 .5 .7 .5-2.3 .5 2.3 .5-.7 .5 .6 .5-1.2 .5 1.3 .5-.9 .5 1 .5-2.2 .5 2 .5-2.2 .5 2.3 .5-1 .5 .9 .5-1.1 .5 1.1 .5-1.9 .5 1.9 .5-2.2 .5 2.3 .5-2.4 .5 2.3 .5-2.1 .5 2 .5-1.1 .5 1.2 .5-.9 .5 .8 .5-.8 .5 1 .5-2.1 .5 2.1 .5-1.9 .5 1.8 .5-.7 .5 .8 .5-1.4 .5 1.3 .5-1.4 .5 1.5 .5-.8 .5 .7 .5-1.3 .5 1.3 .5-.5 .5 .7 .5-.9 .5 .9 .5-1 .5 .8 .5-1 .5 .9 .5-.2 .5 .4 .5-.7 .5 .6 .5-.6 .5 .6 .5-.4 .5 .5 .5-.5 .5 .4 .5-.4 .5 .4 .5-.5 .5 .6 .5-.3 .5 .2 .5-.6 .5 .6 .5-.3 .5 .3 .5-.4 .5 .3 .5-.1 .5 .1 .5-.3 .5 .6 .5-.6 .5 .4 .5-.4 .5 .6 .5-.4 .5 .3 .5-.4 .5 .3 .5-.4 .5 .3 .5-.2 .5 .2 .5-.4 .5 .7 .5-.5 .5 .3 .5-.3 .5 .4 .5-.3 .5 .2 .5-.3 .5 .2 .5-.2 .5 .3 .5-.4 .5 .6 .5-.8 .5 .6 .5-.3 .5 .4 .5-.6 .5 .4 .5-.5 .5 .6 .5-1.2 .5 1.4 .5-.5 .5 .5 .5-1.5 .5 1.4 .5-.8 .5 .9 .5-.7 .5 .6 .5-.3 .5 .3 .5-.4 .5 .3 .5-.3 .5 .4 .5-.5 .5 .6 .5-.5 .5 .2 .5-.2 .5 .4 .5-.6 .5 .5 .5-.3 .5 .3 .5-.4 .5 .5 .5-.7 .5 .6 .5-.6 .5 .6 .5-.2 .5 .3 .5-.4 .5 .5 .5-.7 .5 .6 .5-.5 .5 .6 .5-.4 .5 .2 .5-.6 .5 .8 .5-.5 .5 .5 .5-.4 .5 .2 .5-.3 .5 .2 .5-.3 .5 .5 .5-.4 .5 .3 .5-.2 .5 .3 .5-.3 .5 .4 .5-.5 .5 .3 .5-.4 .5 .5 .5-.4 .5 .2 .5-.2 .5 .2 .5-.5 .5 .7 .5-.4 .5 .4 .5-.4 .5 .4 .5-.6 .5 .6 .5-.4 .5 .5 .5-.5 .5 .5 .5-.6 .5 .3 .5-.4 .5 .5 .5-.5 .5 .6 .5-.6 .5 .6 .5-.6 .5 .5 .5-.6 .5 .6 .5-.6 .5 .7 .5-.6 .5 .5 .5-.4 .5 .6 .5-.7 .5 .5 .5-.4 .5 .3 .5-1.3 .5 1.5 .5-1.7 .5 1.7 .5-1.1 .5 1.1 .5-1.4 .5 1.2 .5-.9 .5 1.2 .5-.7 .5 .5 .5-.6 .5 .6 .5-1.5 .5 1.6 .5-1.1 .5 1 .5-.8 .5 .7 .5-1 .5 1.3 .5-1.2 .5 1 .5-.5 .5 .7 .5-.4 .5 .3 .5-.7 .5 .7 .5-1.3 .5 1.1 .5-1.3 .5 1.5 .5-1 .5 .8 .5-.4 .5 .5 .5-.8 .5 .9 .5-.6 .5 .6 .5-.4 .5 .3 .5-.6 .5 .6 .5-.6 .5 .6 .5-.5 .5 .6 .5-.4 .5 .5 .5-.5 .5 .3 .5-.4 .5 .4 .5-.5 .5 .6 .5-.5 .5 .5 .5-.4 .5 .3 .5-.5 .5 .7 .5-.7 .5 .5 .5-.3 .5 .4 .5-.4 .5 .5 .5-.5 .5 .4 .5-.7 .5 .8 .5-.7 .5 .6 .5-.5 .5 .4 .5-.3 .5 .2 .5-.2 .5 .2 .5-.2 .5 .4 .5-.6 .5 .5 .5-.9 .5 1.1 .5-.5 .5 .3 .5-.4 .5 .4 .5-.9 .5 1 .5-1.2 .5 1.3 .5-1.1 .5 1 .5-.7 .5 .5 .5-1 .5 1 .5-1.1 .5 1.1 .5-1.1 .5 1.2 .5-1.4 .5 1.3 .5-.6 .5 .7 .5-1.2 .5 1.2 .5-.5 .5 .4 .5-.8 .5 .8 .5-1.1 .5 1.2 .5-1 .5 1 .5-1 .5 1.2 .5-.7 .5 .6 .5-.5 .5 .5 .5-.5 .5 .6 .5-1.3 .5 1.1 .5-.6 .5 .5 .5-.5 .5 .6 .5-.7 .5 .8 .5-.4 .5 .2 .5-.6 .5 .7 .5-.6 .5 .8 .5-1.8 .5 1.7 .5-1.2 .5 1.3 .5-1.3 .5 1.1 .5-1.3 .5 1.4 .5-.7 .5 .6 .5-.4 .5 .4 .5-1.1 .5 1.3 .5-.6 .5 .4 .5-.8 .5 1 .5-1.2 .5 1 .5-.6 .5 .6 .5-.7 .5 .6 .5-.1 .5 .1 .5-.5 .5 .8 .5-.6 .5 .4 .5-.4 .5 .6 .5-.7 .5 .5 .5-.2 .5 .4 .5-.8 .5 .5 .5-.2 .5 .5 .5-.5 .5 .3 .5-.4 .5 .3 .5-.4 .5 .5 .5-.3 .5 .4 .5-.3 .5 .2 .5-.4 .5 .4 .5-.3 .5 .3 .5-.4 .5 .6 .5-.4 .5 .2 .5-.3 .5 .4 .5-.6 .5 .5 .5-.4 .5 .6 .5-.9 .5 .9 .5-.5 .5 .4 .5-.4 .5 .3 .5-.4 .5 .4 .5-.5 .5 .6 .5-.3 .5 .2 .5-.6 .5 .8 .5-.8 .5 .6 .5-.8 .5 .6 .5-.9 .5-.6 .5-3 .5-4 .5-6.9 .5-7.7 .5-8.5 .5-3.7 .2-.6 .3 .4 .5 6 .5 7.5 .5 8.6 .5 5.7 .5 4.4 .5 1.8 .5 1.1 .5-.4 .5 1 .5-.7 .5 .7 .5-1.1 .5 1.3 .5-1.2 .5 1 .5-.3 .5 .4 .5-1 .5 .8 .5-.4 .5 .6 .5-1.3 .5 1.2 .5-.6 .5 .7 .5-.6 .5 .5 .5-.4 .5 .4 .5-1.7 .5 1.7 .5-1.2 .5 1.2 .5-.4 .5 .3 .5-.3 .5 .4 .5-.9 .5 1.1 .5-.7 .5 .7 .5-.6 .5 .5 .5-.8 .5 .9 .5-1.1 .5 .9 .5-.9 .5 .9 .5-1.1 .5 1.1 .5-.8 .5 1 .5-.8 .5 .7 .5-.4 .5 .4 .5-.9 .5 .8 .5-1 .5 1 .5-.9 .5 1.1 .5-1.3 .5 1.2 .5-1.3 .5 1.2 .5-1.4 .5 1.5 .5-.6 .5 .6 .5-.5 .5 .6 .5-1.4 .5 1.2 .5-1.1 .5 1.3 .5-1.2 .5 1.1 .5-1.1 .5 1 .5-.8 .5 .9 .5-1.1 .5 .9 .5-.9 .5 1.2 .5-1.1 .5 1.1 .5-.8 .5 .6 .5-.5 .5 .7 .5-.8 .5 .7 .5-.8 .5 .7 .5-1.2 .5 1.3 .5-1.5 .5 1.4 .5-1 .5 1.1 .5-.7 .5 .8 .5-.8 .5 .8 .5-1.2 .5 1.1 .5-1.4 .5 1.5 .5-1.7 .5 1.7 .5-1.7 .5 1.4 .5-.5 .5 .8 .5-1.5 .5 1.3 .5-1.6 .5 1.8 .5-1.9 .5 1.7 .5-1 .5 1.1 .5-1.4 .5 1.3 .5-1.1 .5 1.2 .5-1.5 .5 1.5 .5-.8 .5 .6 .5-.8 .5 1.1 .5-.9 .5 .6 .5-1.2 .5 1.4 .5-1 .5 .9 .5-.5 .5 .4 .5-.4 .5 .6 .5-.7 .5 .5 .5-1 .5 1.2 .5-1.2 .5 1.2 .5-1.3 .5 1.4 .5-.7 .5 .6 .5-.8 .5 .8 .5-1.4 .5 1.3 .5-.7 .5 .6 .5-.9 .5 1 .5-.8 .5 .7 .5-1.2 .5 1.3 .5-1.5 .5 1.4 .5-1.1 .5 1.3 .5-2.2 .5 2.2 .5-.6 .5 .5 .5-1.8 .5 1.9 .5-1.8 .5 1.8 .5-2.4 .5 2.3 .5-2.4 .5 2.6 .5-1.9 .5 1.8 .5-2.3 .5 2.1 .5-1.9 .5 2 .5-2.2 .5 2.3 .5-1.4 .5 1.5 .5-1.7 .5 1.7 .5-1.8 .5 1.7 .5-.9 .5 .8 .5-.9 .5 .8 .5-.6 .5 .8 .5-1.3 .5 1.4 .5-1.2 .5 1 .5-1.5 .5 1.6 .5-.4 .5 .3 .5-1 .5 1.1 .5-.9 .5 .9 .5-1.4 .5 1.5 .5-1.3 .5 1 .5-.4 .5 .6 .5-2.2 .5 2.2 .5-2 .5 2 .5-1.5 .5 1.5 .5-1.8 .5 1.8 .5-1.4 .5 1.3 .5-1.2 .5 1.2 .5-1.5 .5 1.6 .5-1.1 .5 1 .5-.5 .5 .6 .5-1.3 .5 1.4 .5-.9 .5 .7 .5-.9 .5 .9 .5-1.5 .5 1.6 .5-.6 .5 .6 .5-.6 .5 .6 .5-1.1 .5 1.2 .5-1.7 .5 1.6 .5-.8 .5 .6 .5-.6 .5 .7 .5-.8 .5 .8 .5-1.6 .5 1.8 .5-.8 .5 .7 .5-1.6 .5 1.6 .5-.9 .5 .9 .5-2.2 .5 2.1 .5-1 .5 1.1 .5-2.1 .5 2 .5-1.9 .5 1.9 .5-2.2 .5 2.2 .5-1.9 .5 2 .5-.8 .5 .7 .5-2 .5 2 .5-1.7 .5 1.7 .5-.8 .5 .8 .5-1.4 .5 1.4 .5-.9 .5 1 .5-1.3 .5 1.2 .5-1.3 .5 1.3 .5-.8 .5 .9 .5-1.5 .5 1.6 .5-1 .5 .8 .5-1.1 .5 1.3 .5-1.4 .5 1.2 .5-.8 .5 .8 .5-.8 .5 .9 .5-1 .5 1 .5-1.1 .5 1 .5-1.1 .5 1.2 .5-.4 .5 .4 .5-.3 .5 .2 .5-.3 .5 .3 .5-.4 .5 .6 .5-.6 .5 .6 .5-.8 .5 .8 .5-.6 .5 .4 .5-.6 .5 .6 .5-.8 .5 1 .5-.9 .5 .9 .5-.5 .5 .2 .5-.3 .5 .4 .5-.3 .5 .4 .5-.5 .5 .4 .5-.3 .5 .4 .5-.5 .5 .5 .5-.5 .5 .6 .5-.4 .5 .3 .5-.4 .5 .3 .5-.4 .5 .5 .5-.8 .5 .8 .5-.5 .5 .4 .5-.3 .5 .3 .5-.3 .5 .4 .5-.6 .5 .4 .5-.3 .5 .5 .5-.4 .5 .3 .5-.5 .5 .6 .5-.4 .5 .5 .5-1 .5 .9 .5-.7 .5 .8 .5-.5 .5 .5 .5-.5 .5 .3 .5-.5 .5 .4 .5-.7 .5 .7 .5-.8 .5 .8 .5-.3 .5 .6 .5-.9 .5 .8 .5-.7 .5 .7 .5-.5 .5 .3 .5-1.6 .5 0 .5-3.3 .5-4.3 .5-8.2 .5-10.6 .5-13.9 .5-9.9 .5-6.8 .2-.2 .3 .3 .5 .2 .5 2.9 .5 1.5 .5 3.8 .5 2.5 .5 3.8 .5 2.5 .5 4.4 .5 2.8 .5 3.8 .5 2.3 .5 3.8 .5 2.3 .5 3.1 .5 1.3 .5 3.4 .5 1.6 .5 2.1 .5 1 .5 1.8 .5 .7 .5 1.5 .5 .2 .5 1.8 .5-.7 .5 1.8 .5-.3 .5 1.2 .5-.8 .5 1.2 .5-.2 .5 .5 .5-.4 .5 1 .5-1.2 .5 1.2 .5-.5 .5 .7 .5-.6 .5 .5 .5-.4 .5 .4 .5-.4 .5 .5 .5-.6 .5 .7 .5-.9 .5 .9 .5-1.2 .5 1.1 .5-.6 .5 .6 .5-.8 .5 .8 .5-.7 .5 .9 .5-.9 .5 .9 .5-1.2 .5 1 .5-1.1 .5 1.2 .5-1.1 .5 1 .5-.7 .5 .6 .5-.4 .5 .7 .5-.6 .5 .4 .5-.9 .5 .9 .5-1.5 .5 1.5 .5-1.2 .5 1.1 .5-.7 .5 .8 .5-.6 .5 .6 .5-1.3 .5 1.4 .5-1.5 .5 1.4 .5-1.1 .5 1.1 .5-.8 .5 1 .5-2.6 .5 2.6 .5-1.1 .5 .9 .5-1.4 .5 1.1 .5-1.7 .5 .9 .5-1.6 .5 .6 .5-.8 .5 .3 .5-1.2 .5 1.9 .5-1.2 .5 2.3 .5-.9 .5 1.5 .5-.7 .5 1 .5-2 .5 2 .5-.7 .5 .7 .5-.6 .5 .5 .5-.7 .5 .7 .5-2 .5 2.1 .5-1.4 .5 1.4 .5-2.1 .5 2 .5-1.2 .5 1.4 .5-1.5 .5 1.4 .5-2.1 .5 1.9 .5-.9 .5 1.1 .5-1.1 .5 .9 .5-1.1 .5 1.2 .5-.5 .5 .6 .5-1.6 .5 1.7 .5-1.1 .5 1.1 .5-1.6 .5 1.5 .5-.9 .5 .8 .5-.6 .5 .6 .5-1.7 .5 1.9 .5-2.6 .5 2.4 .5-1.9 .5 2 .5-2.1 .5 2.2 .5-2.2 .5 2 .5-2.1 .5 2.3 .5-1.3 .5 1.1 .5-1 .5 1 .5-.9 .5 1 .5-1.7 .5 1.6 .5-.8 .5 .9 .5-1.6 .5 1.5 .5-1.7 .5 1.8 .5-1.9 .5 1.8 .5-1.4 .5 1.3 .5-.6 .5 .7 .5-.4 .5 .5 .5-.9 .5 .9 .5-1.4 .5 1.5 .5-1.1 .5 .9 .5-.3 .5 .4 .5-.5 .5 .5 .5-.8 .5 .8 .5-1.1 .5 .6 .5-.7 .5 .3 .5-1.5 .5 1 .5-1 .2 .8 .3 .2 .5-.8 .5 1.1 .5-1 .5 1.7 .5-.4 .5 .6 .5-.5 .5 .7 .5-1.2 .5 1.3 .5-1.1 .5 1 .5-.9 .5 .9 .5-1.1 .5 1.1 .5-1.5 .5 1.4 .5-.4 .5 .4 .5-.5 .5 .7 .5-.6 .5 .4 .5-.2 .5 .2 .5-.4 .5 .5 .5-.5 .5 .6 .5-.5 .5 .3 .5-.4 .5 .4 .5-.3 .5 .5 .5-.6 .5 .6 .5-.5 .5 .4 .5-.8 .5 .8 .5-.9 .5 .9 .5-.8 .5 .7 .5-.6 .5 .7 .5-.6 .5 .6 .5-.3 .5 .3 .5-.5 .5 .6 .5-.5 .5 .2 .5-.5 .5 .7 .5-.6 .5 .6 .5-.3 .5 .3 .5-.6 .5 .7 .5-.6 .5 .5 .5-.8 .5 .6 .5-.6 .5 .6 .5-1 .5 1.2 .5-.6 .5 .6 .5-.6 .5 .6 .5-.3 .5 .2 .5-.3 .5 .5 .5-.4 .5 .3 .5-.7 .5 .6 .5-.4 .5 .4 .5-.2 .5 .2 .5-.4 .5 .5 .5-.4 .5 .4 .5-.4 .5 .3 .5-.7 .5 .6 .5-.6 .5 .8 .5-.6 .5 .6 .5-.4 .5 .2 .5-.2 .5 .5 .5-1.1 .5 1 .5-.5 .5 .4 .5-.6 .5 .8 .5-1.2 .5 1.1 .5-.7 .5 .8 .5-1.3 .5 1.1 .5-.3 .5 .3 .5-.3 .5 .2 .5-.5 .5 .5 .5-.3 .5 .5 .5-.6 .5 .4 .5-.3 .5 .5 .5-.7 .5 .7 .5-.5 .5 .6 .5-.4 .5 .4 .5-.6 .5 .6 .5-.7 .5 .4 .5-.1 .5 .3 .5-.3 .5 .2 .5-.2 .5 .4 .5-.5 .5 .2 .5-.4 .5 .6 .5-1 .5 .8 .5-.9 .5 1.2 .5-.9 .5 .7 .5-1.2 .5 1.1 .5-1 .5 1.1 .5-1.5 .5 1.5 .5-1.3 .5 1.4 .5-1.3 .5 1.3 .5-1.1 .5 1 .5-.4 .5 .5 .5-1.1 .5 1.2 .5-1.7 .5 1.6 .5-1.1 .5 .9 .5-.7 .5 .9 .5-1.1 .5 1.1 .5-2.1 .5 2 .5-1.9 .5 2.1 .5-1.9 .5 1.8 .5-1.4 .5 1.3 .5-1.6 .5 1.7 .5-1.6 .5 1.6 .5-.9 .5 .9 .5-1.2 .5 1.2 .5-2.1 .5 2.2 .5-1.8 .5 1.7 .5-.9 .5 .9 .5-1.2 .5 1.3 .5-1.6 .5 1.4 .5-1.9 .5 1.8 .5-.8 .5 1.1 .5-1.6 .5 1.4 .5-1.1 .5 1.2 .5-1.1 .5 1 .5-1.1 .5 1 .5-1.2 .5 1.4 .5-1.3 .5 1.4 .5-1.6 .5 1.5 .5-.9 .5 .8 .5-1.5 .5 1.4 .5-1.6 .5 1.7 .5-1.7 .5 1.6 .5-1.9 .5 2.1 .5-.7 .5 .5 .5-.6 .5 .8 .5-1.3 .5 1.4 .5-1 .5 .9 .5-.6 .5 .7 .5-1.3 .5 1 .5-1.6 .5 1.6 .5-1.4 .5 1.7 .5-2.2 .5 2 .5-1.1 .5 1.1 .5-.9 .5 1 .5-1.5 .5 1.4 .5-.5 .5 .6 .5-1 .5 1.1 .5-.7 .5 .7 .5-1 .5 .9 .5-.5 .5 .4 .5-.8 .5 .9 .5-.9 .5 .8 .5-.6 .5 .6 .5-1.2 .5 1.1 .5-1.1 .5 1.3 .5-1.2 .5 1.1 .5-.6 .5 .8 .5-1.4 .5 1.3 .5-1.6 .5 1.7 .5-1.7 .5 1.7 .5-1 .5 1 .5-.8 .5 .7 .5-.9 .5 .8 .5-1.1 .5 1.2 .5-.8 .5 .6 .5-.5 .5 .8 .5-1.4 .5 1.2 .5-1.5 .5 1.5 .5-1.5 .5 1.5 .5-.5 .5 .7 .5-.9 .5 .9 .5-1.4 .5 1.3 .5-1.2 .5 1.1 .5-2 .5 1.9 .5-1.2 .5 1.4 .5-.8 .5 .9 .5-1 .5 .8 .5-.4 .5 .5 .5-1.1 .5 1.1 .5-.6 .5 .5 .5-.7 .5 .9 .5-.6 .5 .6 .5-1.1 .5 .9 .5-.5 .5 .7 .5-1 .5 .8 .5-.3 .5 .3 .5-.3 .5 .4 .5-1.3 .5 1.3 .5-.5 .5 .6 .5-1.3 .5 1.3 .5-1.6 .5 1.4 .5-.5 .5 .5 .5-.9 .5 .9 .5-.9 .5 1.1 .5-1.1 .5 .9 .5-.6 .5 .6 .5-1.4 .5 1.6 .5-.9 .5 .6 .5-1.1 .5 1.2 .5-.6 .5 .8 .5-1.4 .5 1.2 .5-.7 .5 .7 .5-.7 .5 .8 .5-.7 .5 .7 .5-.8 .5 .7 .5-.5 .5 .6 .5-.9 .5 1 .5-1.6 .5 1.4 .5-1.8 .5 2 .5-1.3 .5 1.1 .5-.8 .5 1 .5-2.2 .5 2.1 .5-1 .5 1 .5-.9 .5 .7 .5-.7 .5 .8 .5-.6 .5 .7 .5-.9 .5 1 .5-.9 .5 .9 .5-1.8 .5 1.7 .5-1.2 .5 1.2 .5-1.1 .5 1.2 .5-1.5 .5 1.5 .5-1.9 .5 1.7 .5-1.2 .5 1.3 .5-1.1 .5 1 .5-.5 .5 .5 .5-.5 .5 .6 .5-.4 .5 .3 .5-.4 .5 .5 .5-1.1 .5 1 .5-.5 .5 .7 .5-.8 .5 .6 .5-.7 .5 .6 .5-1.3 .5 1.4 .5-.5 .5 .6 .5-1.7 .5 1.5 .5-.6 .5 .9 .5-.9 .5 .8 .5-.7 .5 .7 .5-.7 .5 .8 .5-1.8 .5 1.6 .5-2.1 .5 2.2 .5-.7 .5 .8 .5-1.1 .5 .9 .5-.6 .5 .7 .5-1.4 .5 1.4 .5-.8 .5 .9 .5-2 .5 2 .5-2.3 .5 2.3 .5-1.7 .5 1.5 .5-1.2 .5 1.1 .5-1 .5 1.1 .5-.9 .5 1 .5-.7 .5 .8 .5-2.2 .5 2.2 .5-.9 .5 .8 .5-1.9 .5 1.8 .5-.8 .5 .8 .5-.7 .5 .8 .5-1.7 .5 1.6 .5-.9 .5 .9 .5-.7 .5 .6 .5-1 .5 1.3 .5-2.3 .5 2.3 .5-1.9 .5 1.7 .5-.8 .5 .9 .5-1 .5 1 .5-1 .5 1 .5-1.5 .5 1.3 .5-.5 .5 .6 .5-.7 .5 .8 .5-.9 .5 .8 .5-1.1 .5 1.1 .5-.8 .5 .7 .5-.7 .5 1 .5-1.9 .5 1.8 .5-1.1 .5 1.1 .5-2 .5 2.1 .5-1.5 .5 1.5 .5-2 .5 1.9 .5-1.3 .5 1.3 .5-1.2 .5 1.3 .5-1.2 .5 1.2 .5-.8 .5 .7 .5-1 .5 .8 .5-.7 .5 .8 .5-1.2 .5 1.3 .5-.5 .5 .3 .5-.9 .5 1.2 .5-1 .5 .8 .5-.5 .5 .4 .5-.6 .5 .9 .5-.6 .5 .5 .5-.5 .5 .6 .5-1.7 .5 1.5 .5-.9 .5 1 .5-1.5 .5 1.5 .5-2.1 .5 2.1 .5-.9 .5 1 .5-.9 .5 .6 .5-1.4 .5 1.6 .5-1.2 .5 1.3 .5-.7 .5 .7 .5-1.8 .5 1.6 .5-1.9 .5 2.1 .5-1.9 .5 1.9 .5-2.2 .5 2.1 .5-1.4 .5 1.4 .5-2.2 .5 2.1 .5-1.8 .5 1.8 .5-1.1 .5 1.2 .5-1.9 .5 1.8 .5-.6 .5 .5 .5-1 .5 1.2 .5-.7 .5 .7 .5-1.6 .5 1.5 .5-1.9 .5 2.1 .5-2 .5 1.7 .5-1.4 .5 1.7 .5-.7 .5 .6 .5-1.3 .5 1.2 .5-.7 .5 .9 .5-1.2 .5 .9 .5-.9 .5 1 .5-1.5 .5 1.4 .5-.8 .5 1 .5-2.2 .5 2.1 .5-1.4 .5 1.6 .5-1.2 .5 1 .5-1.8 .5 1.7 .5-.9 .5 1.2 .5-1.3 .5 1.2 .5-1.9 .5 2 .5-2.1 .5 1.8 .5-1.3 .5 1.6 .5-.8 .5 .6 .5-1.7 .5 1.7 .5-.7 .5 .9 .5-1 .5 .8 .5-1.6 .5 1.7 .5-1.5 .5 1.4 .5-1.5 .5 1.7 .5-1.5 .5 1.5 .5-.6 .5 .4 .5-.4 .5 .6 .5-.6 .5 .6 .5-.8 .5 .6 .5-.7 .5 .8 .5-.6 .5 .4 .5-.3 .5 .5 .5-.5 .5 .4 .5-.5 .5 .6 .5-.3 .5 .3 .5-.3 .5 .3 .5-1.1 .5 1 .5-.5 .5 .4 .5-.6 .5 .9 .5-.8 .5 .7 .5-1.4 .5 1.5 .5-1 .5 .8 .5-.4 .5 .4 .5-.7 .5 .9 .5-.7 .5 .7 .5-1.3 .5 1.2 .5-.8 .5 .7 .5-.9 .5 1 .5-.8 .5 .9 .5-.7 .5 .5 .5-.9 .5 1 .5-1.4 .5 1.4 .5-1 .5 1.1 .5-.9 .5 .8 .5-.5 .5 .3 .5-.6 .5 .7 .5-.4 .5 .4 .5-1 .5 1.1 .5-.5 .5 .5 .5-.6 .5 .5 .5-.6 .5 .8 .5-.8 .5 .6 .5-.5 .5 .4 .5-.2 .5 .2 .5-.6 .5 .8 .5-.6 .5 .5 .5-.7 .5 .8 .5-.4 .5 .5 .5-.5 .5 .3 .5-.4 .5 .4 .5-.8 .5 .8 .5-.9 .5 1.1 .5-.8 .5 .6 .5-.9 .5 .9 .5-.3 .5 .3 .5-.8 .5 1 .5-.6 .5 .4 .5-.7 .5 .7 .5-.6 .5 .6 .5-.7 .5 .9 .5-.9 .5 .8 .5-.3 .5 .3 .5-.3 .5 .2 .5-.3 .5 .4 .5-.6 .5 .7 .5-.4 .5 .2 .5-.8 .5 .8 .5-.7 .5 .8 .5-.6 .5 .6 .5-.5 .5 .5 .5-.9 .5 .9 .5-1.2 .5 1 .5-1.2 .5 1.4 .5-1.3 .5 1.3 .5-.8 .5 .6 .5-.3 .5 .4 .5-.7 .5 .7 .5-.2 .5 .2 .5-.4 .5 .6 .5-1 .5 .8 .5-.2 .5 .3 .5-.9 .5 .8 .5-.4 .5 .4 .5-1 .5 .9 .5-.8 .5 1.1 .5-.5 .5 .4 .5-.7 .5 .8 .5-.8 .5 .7 .5-.5 .5 .5 .5-.8 .5 .7 .5-1.3 .5 1.4 .5-1.1 .5 .9 .5-.5 .5 .6 .5-.7 .5 .8 .5-.9 .5 .7 .5-.4 .5 .6 .5-.8 .5 .7 .5-1.5 .5 1.6 .5-.8 .5 .8 .5-.6 .5 .5 .5-.8 .5 .7 .5-.6 .5 .7 .5-.8 .5 .9 .5-.4 .5 .4 .5-.5 .5 .5 .5-.5 .5 .3 .5-.2 .5 .4 .5-.5 .5 .4 .5-.4 .5 .3 .5-.2 .5 .2" fill="none" stroke="#000" stroke-width="4.0" stroke-linejoin="round"/>
<text x="1013.7" y="750.0" font-size="60.5" text-anchor="middle" stroke="#000" stroke-width="0.6">*</text>
<rect x="1584.4" y="854.0" width="30.8" height="29.8" fill="#000"/>
<text x="1801.4" y="887.7" font-size="60.5" text-anchor="middle" stroke="#000" stroke-width="0.6">*</text>
<text x="2329.7" y="697.3" font-size="51.3" text-anchor="end">750 fmole</text>
<text x="1297.5" y="821.4" font-size="45">S/N = 54.4</text>
<line x1="1576.2" y1="894.2" x2="1517.4" y2="858.2" stroke="#000" stroke-width="2.6" stroke-linecap="butt"/>
<polygon points="1501.2,848.3 1524.1,851.2 1514.2,867.4" fill="#000"/>
<path d="M363 1221.1l 1 0 1 .1 1 0 1 0 1 .2 1 0 1 .1 1-.1 1 .1 1-.2 1-.4 1 .6 1 0 1-.4 1 .1 1-.1 1 .2 1 0 1 .1 1-.2 1 .2 1 .2 1 0 1-.1 1-.4 1 .4 1 0 1 0 1 0 1-.1 1 0 1 .1 1-.1 1-.3 1 .3 1 0 1 0 1 0 1-.1 1-.1 1 0 1 .3 1 0 1-.1 1 .1 1-.2 1 .1 1 0 1 0 1-.5 1 .6 1-.1 1 0 1 .1 1-.3 1-.2 1 .4 1 0 1-.3 1-.2 1-.3 1 .3 1 .3 1-.1 1 .3 1 0 1-.2 1 .2 1-.1 1 .1 1-.1 1-.4 1 .5 1-.3 1 .3 1 .2 1 0 1-.6 1 .5 1 0 1-.1 1 0 1 0 1 0 1-.2 1 .4 1-.2 1 .1 1 0 1-.1 1-.1 1 .1 1 0 1 .1 1-.2 1 .1 1 .1 1 0 1-.1 1-.1 1-.1 1-.1 1 .3 1 0 1 .1 1 0 1-.4 1 0 1 .5 1 0 1-.4 1 0 1 .3 1 .1 1-.3 1 0 1 0 1 .1 1 0 1-.3 1 .3 1 .2 1-.5 1 0 1 .2 1 0 1 .1 1-.7 1 0 1 .5 1-.1 1 .3 1 0 1 .1 1-.1 1 0 1 0 1-.3 1 .4 1 0 1-.1 1-.5 1 .6 1 0 1 0 1-.2 1 0 1 0 1 .1 1 0 1 0 1 0 1-.2 1-.2 1 .3 1 .2 1 0 1 0 1 .1 1-.2 1 0 1 .1 1-.1 1-.5 1 .4 1 .1 1-.1 1 0 1 .2 1 0 1-.2 1 0 1 .1 1 0 1 .1 1 0 1-.2 1 0 1-.3 1 .4 1 .1 1-.1 1 0 1 .1 1 0 1-.2 1 .2 1-.1 1-.2 1-.1 1 .4 1-.1 1-.1 1 .1 1 0 1 0 1-.2 1 0 1 0 1-.2 1 .4 1 0 1 0 1-.1 1-.4 1 0 1 .6 1-.1 1 .1 1 0 1-.5 1 0 1 .5 1-.5 1 .2 1 .2 1 0 1-.4 1 .5 1-.1 1 0 1 0 1-.3 1 .3 1 0 1-.2 1 .3 1-.1 1 0 1 0 1 0 1 .1 1-.3 1 0 1 .3 1-.2 1 0 1 .3 1 0 1-.3 1-.4 1 .6 1-.1 1 0 1-.3 1 .2 1-.1 1 .2 1 .2 1-.4 1 0 1 .3 1-.3 1 .2 1 .1 1 0 1 0 1-.1 1-.2 1 .2 1 .1 1-.2 1 0 1-.3 1 .5 1-.1 1 0 1 .1 1-.1 1-.2 1-.1 1-.3 1 .6 1-.3 1 .3 1-.2 1-.2 1 0 1 .4 1-.2 1 .2 1 0 1-.1 1 .1 1 0 1 0 1 .2 1-.2 1 0 1 .1 1-.2 1-.3 1 .6 1-.2 1 .1 1-.1 1 0 1 0 1-.2 1 0 1 .2 1 0 1-.3 1 .2 1 .1 1 .1 1 0 1-.2 1 .1 1 0 1 0 1-.1 1 .1 1 0 1 0 1 0 1 0 1 0 1 .2 1-.2 1 0 1-.1 1 .2 1 0 1 0 1-.2 1 .1 1 0 1 0 1-.3 1 0 1 0 1 .3 1 .1 1-.3 1-.1 1 0 1 .2 1-.3 1 .4 1-.1 1 .1 1-.3 1 .2 1 0 1 .1 1-.1 1-.4 1-.7 1 .4 1 .8 1 .1 1-.3 1 0 1 .4 1-.3 1-.3 1 .4 1 0 1 .1 1 0 1-.1 1 0 1 0 1 0 1-.1 1 0 1-.2 1 .2 1-.1 1 .3 1 0 1-.4 1 0 1 .2 1 0 1 .2 1-.2 1-.6 1 .5 1 .1 1 0 1-.2 1 .4 1 0 1-.1 1 .1 1-.4 1 .2 1 .3 1-.1 1 0 1-.1 1 .1 1-.2 1-.4 1-.6 1 .4 1 .5 1 .3 1-.2 1 0 1 .2 1 0 1 0 1 0 1 0 1-.8 1 0 1 .8 1-.3 1 0 1 .2 1 0 1 0 1 0 1 0 1-.1 1 .1 1-.4 1 .3 1 0 1 .2 1-.2 1 0 1 .1 1 .2 1-.1 1 0 1 0 1 0 1-.1 1-.3 1 .4 1-.2 1 .2 1 0 1-.1 1 0 1 .1 1 0 1-.1 1 .1 1 0 1-.1 1 .1 1 0 1-.3 1 0 1 .3 1-.1 1-.5 1 .5 1-.4 1 0 1 .5 1 0 1-.3 1 .2 1 0 1 0 1 0 1 .1 1-.1 1-.2 1 .2 1-.4 1 .4 1 0 1 .3 1 0 1-.2 1-.1 1 .1 1 0 1-.7 1 .2 1 0 1 .3 1 .2 1 0 1 0 1-.2 1 .1 1 0 1 0 1 0 1-.4 1 .4 1 .1 1-.1 1 0 1 0 1 0 1 0 1-.1 1-.3 1 .5 1-.1 1 0 1 0 1-.2 1 .3 1-.2 1 .2 1 0 1-.3 1-.1 1 0 1 .2 1 .1 1 0 1 0 1 .1 1 0 1-.4 1 0 1 .3 1-.1 1 0 1-.1 1 0 1 0 1 .2 1 .1 1-.1 1-.2 1 .2 1 0 1-.3 1 0 1 0 1 .3 1-.1 1-.1 1 0 1 .4 1-.1 1 0 1 0 1-.1 1 0 1 0 1 0 1 .1 1 0 1 0 1 0 1-.2 1 0 1 .2 1-.3 1 0 1-.1 1 0 1 .4 1 0 1 0 1-.2 1 0 1 .2 1-.3 1 0 1 .3 1 0 1-.1 1 0 1 0 1 0 1-.1 1 0 1-.4 1 .3 1 0 1 .2 1-.1 1 0 1-.1 1 .2 1-.4 1 .3 1-.1 1 .4 1 0 1-.1 1-.2 1 .2 1-.6 1 0 1 .5 1 0 1-.2 1 .2 1 0 1 0 1-.2 1 .2 1-.3 1 .3 1-.3 1 .1 1 .3 1 0 1 0 1 0 1 0 1 0 1 0 1-.2 1 .1 1 .1 1-.1 1 0 1 0 1-.2 1 .1 1 .1 1 .2 1-.2 1 .1 1-.1 1 .1 1 0 1 0 1-.1 1 0 1-.2 1 0 1 0 1 .1 1 .2 1 0 1-.2 1 0 1 .2 1 0 1 0 1-.1 1 .1 1-.1 1-.1 1 0 1 .1 1-.4 1 .4 1-.7 1-6.6 1-34.2 1-85.6 1-89.4 .4-10.1 .6 18.6 1 67.6 1 67.9 1 39.6 1 15.8 1 5.4 1 3.1 1 2 1 1.2 1 1.3 1 .9 1 .7 1 .6 1 .2 1 .2 1 .6 1 .2 1 .1 1 .1 1 .3 1 0 1 .1 1 .1 1-.1 1 0 1 0 1-.1 1-.1 1 0 1 .4 1 0 1-.4 1-.1 1 0 1 0 1 .3 1 0 1 .2 1-.1 1 .1 1-.4 1-.2 1 .5 1 .1 1 0 1-.2 1-.4 1-3.4 1-8.6 1-12.3 .9-6 .1-.1 1 8.4 1 12.3 1 7.3 1 2.5 1 .4 1-.1 1 .3 1 0 1-.4 1 0 1 .2 1-.2 1 0 1 .3 1 0 1-.2 1 .2 1 0 1-.2 1-.1 1 0 1 .3 1-.6 1 .6 1-.2 1 0 1 .1 1 0 1 .1 1-.2 1 0 1 .1 1-.1 1 .1 1 0 1 .1 1 0 1 0 1-.1 1-.1 1 0 1 0 1 .1 1 0 1 .1 1-.1 1-.2 1 .2 1 0 1-.2 1 0 1 .1 1 .1 1 0 1 .2 1 0 1-.2 1 0 1 0 1 0 1 0 1 0 1-.1 1 .1 1 0 1 .1 1-.6 1 .4 1 0 1 0 1 0 1 0 1 .1 1 0 1-.5 1 0 1 .5 1 .1 1 0 1-.2 1 0 1 0 1 0 1 .1 1 0 1-.1 1 .2 1 0 1-.7 1 0 1 .2 1-.1 1-.4 1-1.1 1-.4 1 .7 1 .8 1 .6 1 0 1 0 1 .4 1 0 1 0 1 .1 1 0 1-.4 1 .4 1-.1 1 0 1 0 1 0 1 0 1-.3 1 .2 1 .1 1-.1 1 0 1 .1 1-.1 1 0 1 0 1 0 1-.5 1 .6 1 0 1-.3 1-.3 1 .3 1 0 1 0 1 .2 1 0 1-.2 1-.3 1 0 1 .3 1 .2 1-.5 1 .6 1-.1 1 0 1-.3 1 .2 1 0 1 0 1-.1 1 0 1 0 1 .1 1-.3 1 .3 1 0 1 0 1-.2 1 .4 1 0 1-.5 1-.1 1 .1 1 0 1 .4 1 .1 1-.1 1 0 1 0 1 0 1 .1 1 .1 1 0 1-.3 1 0 1 .2 1-.5 1 0 1 .3 1 .2 1-.4 1 0 1 .3 1-.3 1 0 1 .4 1-.1 1 0 1 0 1-.3 1 .1 1 .3 1 0 1-.1 1 0 1 0 1 .2 1 0 1-.3 1 0 1 .2 1 0 1-.1 1 0 1 0 1 0 1-.1 1-.1 1 0 1 .1 1 .1 1 .1 1 0 1-.2 1 0 1 .1 1-.2 1 .1 1 0 1 .1 1 .1 1-.5 1 0 1 .4 1-.1 1 .2 1-.2 1 0 1 .1 1 0 1-.3 1 .4 1 0 1 0 1 0 1-.4 1 .3 1 .1 1-.6 1 .6 1 0 1-.4 1 .2 1 0 1 0 1 .1 1 0 1-.1 1 .1 1 0 1 0 1 0 1-.1 1 0 1-.1 1 0 1 0 1 .3 1-.3 1-.1 1 .3 1 0 1 .2 1-.2 1-.1 1-.2 1 .1 1 .1 1 0 1 .1 1 0 1 .1 1-.1 1 0 1-.3 1 0 1 0 1 .3 1 0 1-.6 1 .7 1-.3 1 .3 1 0 1-.3 1 0 1 .2 1 .1 1-.1 1 0 1 0 1-.3 1 0 1 .3 1-.3 1-.1 1 .3 1-.5 1-1.9 1-3.6 1-3.6 .5-.4 .5 .5 1 3.5 1 3.6 1 1.8 1 .8 1-.2 1 .1 1 .1 1-.1 1-.2 1 .3 1 .1 1-.2 1 0 1 .1 1-.1 1 0 1 0 1-.1 1 .1 1-.2 1 .3 1-.2 1 .1 1-.3 1 0 1 .3 1 0 1-.1 1 .1 1 0 1 0 1-.4 1 .4 1 .1 1 0 1 0 1-.6 1 .5 1-.1 1-.1 1 .2 1 .1 1-.4 1 .2 1 .1 1 .1 1-.1 1 0 1 .1 1-.1 1 0 1 .1 1 0 1-.5 1 .4 1-.3 1-.1 1 .4 1-.2 1 .3 1-.1 1 0 1 0 1-.5 1 .1 1 .4 1 0 1-.3 1 .4 1 0 1-.3 1 .2 1 0 1-.1 1 .1 1-.1 1 0 1 .2 1 0 1-.1 1 0 1 0 1 .1 1 0 1 0 1 0 1-.1 1-.1 1 0 1 .1 1 0 1-.2 1 .3 1 0 1-.1 1-.1 1 0 1 .1 1 0 1-.3 1 .4 1-.2 1 0 1-.2 1 .4 1-.2 1 .1 1-.4 1 .4 1-.2 1 .3 1 0 1-.1 1 .1 1-.1 1 .1 1 0 1 0 1-.1 1-.3 1 0 1 .1 1 0 1 .2 1-.3 1 0 1 .4 1 0 1-.3 1 .1 1 0 1 .1 1-.2 1 0 1 .3 1 0 1 0 1 0 1-.3 1 0 1 .2 1 0 1-.3 1 .1 1-.2 1 .5 1 0 1-.4 1 0 1 .2 1 .1 1-.1 1-.3 1 .5 1 0 1-.3 1 .5 1-.1 1 0 1-.4 1 0 1-.3 1 0 1 0 1 .4 1-.1 1 .1 1 0 1 .2 1-.4 1 0 1 .2 1 0 1 .1 1-.2 1 .2 1 0 1-.3 1 .3 1 0 1 0 1 0 1 .1 1-.1 1 0 1 0 1 0 1 .1 1-.1 1 0 1 0 1 0 1-.1 1 .1 1 0 1 .1 1-.2 1-.4 1 .3 1 0 1 .2 1-.1 1 0 1 0 1 .2 1 0 1-.1 1-.5 1 0 1 .7 1-.4 1 .3 1-.5 1 0 1 .4 1-.3 1 0 1 .3 1 0 1 0 1 0 1 0 1 .1 1 0 1 0 1 0 1 0 1-.1 1 0 1 .1 1-.1 1-.5 1-3.9 1-14.1 1-24 .9-11.7 .1 .3 1 12.9 1 18.8 1 12.2 1 5.6 1 1.8 1 .6 1 .1 1 .3 1 .9 1 .2 1 .1 1 .1 1 .2 1-.1 1 .2 1 .1 1-.1 1-.3 1 .2 1 0 1 0 1 0 1 .1 1 0 1 0 1-.2 1 0 1 .2 1-.3 1 0 1 .1 1 0 1 .2 1 .1 1 0 1-.1 1-.3 1 0 1 0 1 .2 1 0 1 0 1 .1 1 0 1 0 1-.1 1-.2 1-.6 1-1.2 .9-.5 .1-.2 1 1.4 1 .9 1 .4 1 .1 1 0 1 .1 1 0 1-.3 1 .1 1 .2 1 0 1 0 1-.7 1 .6 1 0 1 0 1-.1 1 0 1 .3 1-.3 1 0 1 .2 1-.1 1 0 1-.1 1 0 1 .2 1 0 1-.1 1 0 1 .1 1 0 1-.4 1-.3 1 .6 1 0 1 0 1 0 1-.2 1 .2 1-.3 1 .4 1-.1 1 0 1-.1 1 .2 1 0 1-.2 1 0 1-.1 1 0 1 0 1 .3 1 0 1 0 1-.6 1 .3 1 .3 1-.1 1 0 1 0 1-.1 1 0 1 0 1 0 1 0 1 .2 1 .1 1-.2 1 .1 1 0 1-.5 1 0 1 .5 1 0 1-.1 1 0 1-.6 1 .6 1 0 1 .2 1-.2 1 .1 1 0 1-.3 1 .3 1 0 1 0 1 0 1-.5 1 .1 1 .3 1 0 1 .1 1 0 1 0 1-.1 1 .1 1 0 1 0 1 0 1-.3 1 .3 1 0 1-.3 1 0 1 .1 1 .1 1-.1 1-.1 1 .3 1-.1 1 0 1 0 1-.2 1 .2 1 .2 1-.4 1 .3 1 0 1-.6 1 .3 1 .3 1-.5 1 0 1 .2 1 .1 1 .1 1 0 1-.1 1 .1 1 0 1 0 1 .2 1-.1 1-.4 1 0 1 .3 1 0 1-.1 1 .2 1 0 1 0 1 .1 1-.6 1 .5 1-.3 1 .1 1-.7 1-2.8 1-10.5 1-16.4 .8-6.4 .2 .1 1 1.8 1 3.3 1 4 1 3.5 1 4.2 1 4.5 1 3.4 1 3.1 1 1.8 1 2.3 1 1.4 1 .8 1 .6 1 1.2 1 .3 1 .1 1 .3 1 .1 1 0 1 .1 1-.2 1 .1 1-.1 1 0 1 .3 1-.6 1 .2 1 .4 1-.7 1 .4 1 .1 1-.3 1 0 1 .1 1 .3 1 0 1-.2 1 .3 1-.1 1-.1 1 .1 1 .1 1-.6 1 .5 1-.2 1-.8 1-.7 1-.2 1-.2 1 1.4 1 .6 1 .1 1 0 1-.4 1 .1 1 .4 1 0 1 0 1-.1 1 0 1-.2 1 0 1 .2 1-.1 1 .2 1 0 1 0 1-.3 1 0 1 .2 1 0 1 .1 1 0 1 0 1 0 1-.1 1 0 1 0 1-.1 1 .1 1-.2 1 .1 1 .2 1 0 1 0 1-.3 1 .2 1 0 1 0 1 0 1 0 1 0 1 .2 1-.3 1 0 1-.1 1 .2 1 .1 1 0 1-.2 1-.2 1 .1 1 .3 1 0 1 0 1 .2 1-.6 1 .3 1-.4 1 .1 1 .2 1-.7 1 .5 1 0 1-.4 1 0 1 .5 1 .1 1 .2 1-.3 1 .2 1 .1 1 0 1-.6 1 0 1 .5 1 .1 1 0 1-.1 1 0 1 0 1 0 1-.1 1 0 1 .1 1-.3 1 0 1 .3 1 .1 1-.1 1-.1 1 .1 1-.3 1 .5 1-.4 1 .1 1 0 1 .1 1 0 1 .1 1-.5 1 .5 1-.1 1 0 1 .1 1-.1 1 0 1-.1 1 .2 1 0 1-.1 1 .1 1 0 1-.2 1 .2 1 0 1-.7 1 .4 1 .1 1 0 1 .1 1 0 1 0 1 .1 1 0 1-.1 1 0 1 0 1 .1 1-.4 1 .4 1 0 1 0 1-.2 1 .2 1-.2 1 0 1 .1 1-.1 1 0 1 .2 1-.4 1 .3 1-.1 1 0 1 .1 1 0 1 0 1-.2 1 0 1 .3 1 0 1-.1 1-.4 1 0 1 .6 1-.2 1 0 1 0 1-.2 1 .1 1 .1 1 0 1 .1 1-.1 1 0 1 0 1 .1 1-.1 1 .1 1 0 1-.3 1 0 1 .3 1 0 1 0 1 .1 1 0 1-.1 1 0 1 0 1-.1 1-.6 1 .3 1 .3 1-.1 1-.4 1 .5 1 0 1 0 1 0 1-.2 1 .2 1-.2 1 .2 1-.1 1-.6 1-1.9 1-3.6 1-3.4 .5-.8 .5 .9 1 3.3 1 3.6 1 2 1 .5 1 .2 1-.3 1 .2 1 .1 1-.3 1 0 1 0 1 0 1 .3 1 0 1 0 1-.2 1-.1 1 .1 1 .1 1 0 1 0 1 0 1 0 1 0 1 .1 1-.2 1 0 1 .1 1-.2 1 .3 1-.1 1 0 1-.4 1 0 1 .4 1 0 1 0 1 0 1 0 1-.1 1 0 1-.1 1 0 1 .1 1 0 1 0 1 .2 1-.7 1 0 1 .4 1 .1 1 .2 1 0 1-.1 1 .1 1 0 1-.3 1 .2 1-.4 1 0 1 .4 1 0 1 .1 1 0 1-.2 1 .2 1-.1 1 0 1-.1 1 0 1-.1 1 0 1-.2 1 0 1 .1 1 0 1 .4 1-.3 1 .3 1-.1 1 0 1 0 1 .1 1 0 1-.1 1-.4 1 .3 1 .1 1-.5 1 .3 1 0 1 0 1 0 1-.6 1-1.8 1-3.8 1-5.9 1-5.1 .6-1.1 .4 .4 1 4.6 1 6 1 4.6 1 1.6 1 .7 1 .6 1 0 1 0 1 0 1 0 1 .1 1 0 1 0 1 0 1-.3 1 0 1 .2 1-.3 1 0 1 .3 1 0 1-.1 1 .1 1 0 1 0 1 0 1 0 1-.1 1-.1 1 .2 1-.1 1 .3 1-.7 1 0 1 .1 1 .4 1 0 1 0 1 0 1 0 1 .1 1-.2 1 .2 1-.1 1-.2 1 .2 1-.3 1 0 1 0 1 .4 1 0 1 0 1 0 1-.4 1 0 1 0 1 .3 1 0 1-.3 1 .4 1-.4 1 .3 1 0 1-.2 1 .1 1 .2 1 0 1-.1 1-.5 1 .3 1 0 1 .1 1-.1 1 .1 1 0 1 .2 1-.3 1 .3 1 0 1 0 1-.5 1 .5 1-.4 1 .3 1-.1 1 .1 1-.1 1 0 1 .2 1-.1 1 0 1-.3 1 .2 1 0 1 .2 1 0 1-.4 1 .2 1 0 1 0 1 .2 1-.1 1 0 1-.1 1 0 1 .2 1-.1 1-.2 1 0 1-.1 1 .4 1-.1 1 .1 1 0 1 0 1 0 1 0 1 0 1-.5 1 .3 1 .2 1 0 1-.1 1 0 1-.3 1 .4 1 0 1 0 1 0 1-.2 1 0 1 0 1 0 1 0 1 .3 1-.2 1-.5 1 .6 1 0 1-.1 1 0 1 .1 1-.2 1 0 1 0 1 .2 1-.1 1-.3 1 .3 1 0 1 0 1 0 1 .1 1-.9 1 .8 1 .1 1 0 1-.3 1-.1 1 .1 1 .1 1 .1 1-.4 1 0 1 .4 1 0 1 .1 1 0 1-.1 1-.1 1 .2 1 0 1 0 1-.2 1 0 1 0 1-.1 1 0 1 .3 1-.1 1 0 1-.2 1 0" fill="none" stroke="#000" stroke-width="4.0" stroke-linejoin="round"/>
<text x="1014.3" y="1012.2" font-size="60.5" text-anchor="middle" stroke="#000" stroke-width="0.6">*</text>
<rect x="1583.8" y="1129.2" width="32.4" height="32.1" fill="#000"/>
<text x="1800.6" y="1199.5" font-size="60.5" text-anchor="middle" stroke="#000" stroke-width="0.6">*</text>
<text x="2329.7" y="991.0" font-size="51.3" text-anchor="end">37.5 fmole</text>
<text x="1303.0" y="1108.9" font-size="45">S/N = 82.4</text>
<line x1="1581.4" y1="1180.9" x2="1522.9" y2="1146.1" stroke="#000" stroke-width="2.6" stroke-linecap="butt"/>
<polygon points="1506.6,1136.4 1529.5,1139.0 1519.8,1155.3" fill="#000"/>
<text transform="translate(49.0 1474.2) scale(1 0.945)" font-size="72">(b)</text>
<line x1="360.7" y1="1417.0" x2="360.7" y2="2673.5" stroke="#000" stroke-width="6.0" stroke-linecap="butt"/>
<line x1="360.7" y1="1665.3" x2="2338.1" y2="1665.3" stroke="#000" stroke-width="6.3" stroke-linecap="butt"/>
<line x1="360.7" y1="1910.8" x2="2338.1" y2="1910.8" stroke="#000" stroke-width="6.3" stroke-linecap="butt"/>
<line x1="360.7" y1="2156.4" x2="2338.1" y2="2156.4" stroke="#000" stroke-width="6.3" stroke-linecap="butt"/>
<line x1="360.7" y1="2401.6" x2="2338.1" y2="2401.6" stroke="#000" stroke-width="6.3" stroke-linecap="butt"/>
<line x1="357.7" y1="2646.9" x2="2338.1" y2="2646.9" stroke="#000" stroke-width="6.3" stroke-linecap="butt"/>
<line x1="360.7" y1="2644.0" x2="360.7" y2="2673.6" stroke="#000" stroke-width="6.0" stroke-linecap="butt"/>
<line x1="1347.9" y1="2644.0" x2="1347.9" y2="2673.6" stroke="#000" stroke-width="6.0" stroke-linecap="butt"/>
<line x1="2335.1" y1="2644.0" x2="2335.1" y2="2673.6" stroke="#000" stroke-width="6.0" stroke-linecap="butt"/>
<text transform="translate(361.5 2736.2) scale(1 1.03)" font-size="57" font-weight="bold" text-anchor="middle">165</text>
<text transform="translate(1347.9 2736.2) scale(1 1.03)" font-size="57" font-weight="bold" text-anchor="middle">180</text>
<text transform="translate(2335.1 2736.2) scale(1 1.03)" font-size="57" font-weight="bold" text-anchor="middle">195</text>
<line x1="334.0" y1="1526.3" x2="360.7" y2="1526.3" stroke="#000" stroke-width="6.4" stroke-linecap="butt"/>
<text transform="translate(314.0 1543.2) scale(1 1.03)" font-size="57" font-weight="bold" text-anchor="end">700</text>
<line x1="334.0" y1="1650.8" x2="360.7" y2="1650.8" stroke="#000" stroke-width="6.4" stroke-linecap="butt"/>
<text transform="translate(314.0 1668.1) scale(1 1.03)" font-size="57" font-weight="bold" text-anchor="end">0</text>
<line x1="334.0" y1="1770.9" x2="360.7" y2="1770.9" stroke="#000" stroke-width="6.4" stroke-linecap="butt"/>
<text transform="translate(314.0 1789.3) scale(1 1.03)" font-size="57" font-weight="bold" text-anchor="end">650</text>
<line x1="334.0" y1="1895.3" x2="360.7" y2="1895.3" stroke="#000" stroke-width="6.4" stroke-linecap="butt"/>
<text transform="translate(314.0 1912.0) scale(1 1.03)" font-size="57" font-weight="bold" text-anchor="end">0</text>
<line x1="334.0" y1="2006.8" x2="360.7" y2="2006.8" stroke="#000" stroke-width="6.4" stroke-linecap="butt"/>
<text transform="translate(314.0 2023.9) scale(1 1.03)" font-size="57" font-weight="bold" text-anchor="end">350</text>
<line x1="334.0" y1="2140.5" x2="360.7" y2="2140.5" stroke="#000" stroke-width="6.4" stroke-linecap="butt"/>
<text transform="translate(314.0 2157.4) scale(1 1.03)" font-size="57" font-weight="bold" text-anchor="end">0</text>
<line x1="334.0" y1="2262.5" x2="360.7" y2="2262.5" stroke="#000" stroke-width="6.4" stroke-linecap="butt"/>
<text transform="translate(314.0 2278.2) scale(1 1.03)" font-size="57" font-weight="bold" text-anchor="end">160</text>
<line x1="334.0" y1="2381.8" x2="360.7" y2="2381.8" stroke="#000" stroke-width="6.4" stroke-linecap="butt"/>
<text transform="translate(314.0 2398.4) scale(1 1.03)" font-size="57" font-weight="bold" text-anchor="end">0</text>
<line x1="334.0" y1="2496.0" x2="360.7" y2="2496.0" stroke="#000" stroke-width="6.4" stroke-linecap="butt"/>
<text transform="translate(314.0 2513.2) scale(1 1.03)" font-size="57" font-weight="bold" text-anchor="end">350</text>
<line x1="334.0" y1="2627.5" x2="360.7" y2="2627.5" stroke="#000" stroke-width="6.4" stroke-linecap="butt"/>
<text transform="translate(314.0 2644.5) scale(1 1.03)" font-size="57" font-weight="bold" text-anchor="end">0</text>
<text transform="translate(162.1 2124.9) rotate(-90) scale(1 1.06)" font-size="63.5" font-weight="bold" text-anchor="middle">Intensity</text>
<path d="M364 1650.6l 1 0 1-.2 1 .5 1-.1 1 0 1-.1 1-.2 1 .4 1-.4 1 .3 1 .1 1 0 1-1.1 1 0 1 .8 1 .3 1-.1 1 0 1 .1 1-.1 1-.3 1-.1 1 .5 1-.2 1 .2 1-.1 1-.1 1 .2 1 0 1 0 1 .1 1 0 1-.3 1 0 1 .1 1 .1 1 0 1-.3 1 .3 1 0 1-.1 1 .1 1-.6 1 0 1 .6 1 .2 1-.6 1 0 1 .2 1 .2 1 0 1 0 1-.1 1-.1 1 .2 1-.4 1 .2 1 .1 1 .1 1 0 1-.4 1 0 1-.3 1 .8 1-.6 1 .5 1 .1 1-.2 1 .1 1 0 1 0 1 .1 1-.2 1 0 1 .1 1 .1 1 0 1-.5 1-.2 1 .5 1 0 1 0 1-.7 1 0 1 1 1-.4 1-.2 1 .4 1 .1 1-.1 1 0 1 0 1-.1 1 .1 1 0 1-.2 1 .1 1-.2 1 0 1 .4 1-.4 1 0 1 0 1 .3 1 .1 1-.1 1 0 1 0 1 .1 1 0 1-.5 1 .1 1-.3 1 0 1 .5 1 0 1 .2 1 0 1 0 1-.2 1 .2 1-.6 1 0 1 .2 1-.2 1 0 1 .6 1-.1 1-.3 1-.2 1 0 1 .3 1 0 1 .1 1-.4 1-.3 1 .3 1 .3 1 .2 1-.4 1 0 1 .4 1 0 1 0 1 0 1-.5 1 .3 1-.2 1 0 1 .4 1 .2 1 0 1-.3 1 0 1 .1 1 0 1 0 1-.1 1 .1 1-.1 1 .1 1 0 1 0 1 0 1-.2 1 .2 1-.2 1 0 1-.5 1 .5 1 .1 1 0 1 .1 1 0 1 0 1 0 1 0 1 0 1 0 1 0 1 .1 1-.4 1 0 1 .3 1-.4 1 .5 1-.1 1-.3 1 0 1 0 1-.1 1 0 1 .4 1 0 1-.7 1 0 1 .7 1-.1 1 0 1 .2 1-.4 1 0 1 .3 1 0 1 0 1-.3 1 0 1 .3 1 0 1-.1 1 0 1 .1 1 0 1 0 1-.3 1 .3 1 0 1 .1 1-.8 1 .2 1 .5 1 0 1-.4 1 0 1 .3 1 .1 1 0 1-.2 1 .2 1 .1 1-.3 1-.2 1-.1 1 0 1 .3 1 .2 1-.2 1 0 1 .2 1 0 1-.6 1 .6 1 0 1 0 1 0 1 0 1 0 1-.1 1 0 1-.1 1 0 1 .2 1 0 1 0 1-.1 1-.4 1-4.2 1-20.2 1-60.2 1-88.2 .9-39.6 .1 1.2 1 48.9 1 76.3 1 52.5 1 22.1 1 6.5 1 2 1 .9 1 .6 1 .5 1 .5 1 0 1 .2 1 0 1 .4 1 0 1 0 1 .1 1 .2 1-.1 1 0 1 .1 1-.3 1 0 1 .4 1-.3 1 0 1-.4 1 0 1 .6 1 0 1-.2 1 .1 1-.3 1 .1 1 0 1 .2 1 .2 1 0 1-.1 1 0 1-.4 1 0 1-.3 1 0 1 .5 1 0 1 .2 1 0 1 0 1-.4 1 .3 1-.4 1 0 1 .5 1 0 1 .1 1-.8 1 0 1 .6 1-.5 1 0 1 .5 1-.2 1-.9 1-.5 1 .9 1 .6 1-.1 1 .3 1 0 1 0 1 0 1-.1 1-.3 1 0 1 .2 1 .2 1 0 1 0 1-.2 1 0 1 .1 1-.1 1-.4 1 0 1 .4 1 .4 1-.1 1-.2 1-.4 1 0 1 .2 1 .1 1 .2 1 0 1-.3 1 0 1 .4 1-.3 1 .1 1 .1 1 0 1-.2 1 .3 1 0 1-.5 1 .5 1 0 1-.1 1-.5 1 .1 1 0 1 .1 1 .3 1 0 1-.1 1-.1 1-.3 1 0 1 .4 1 0 1-.4 1 .3 1-.3 1 0 1 0 1 0 1 0 1 0 1 .4 1 0 1 .1 1 0 1-.2 1 .2 1-.1 1 .1 1 0 1-.5 1 0 1 .5 1-.2 1 .1 1 0 1 .1 1-.4 1 0 1 .5 1 0 1-.5 1 .2 1 .1 1 .1 1-.1 1-.1 1-.1 1-.1 1 .4 1 0 1 0 1 0 1 0 1 0 1 0 1-.1 1 0 1 .1 1-.1 1 0 1-.3 1 0 1 .3 1 0 1-.1 1 .3 1-.1 1-.1 1 0 1 .1 1 0 1-.1 1 0 1 .1 1 0 1-.1 1-.5 1 .6 1-.3 1 0 1 .3 1 0 1 0 1 0 1-.2 1-.1 1 .3 1 0 1 .1 1-.6 1 0 1 .5 1 .1 1-.1 1 0 1 0 1-.1 1-.2 1-.4 1 0 1 .6 1 0 1-.2 1 0 1 .3 1-.5 1 .6 1 0 1-.1 1-.5 1 .5 1 .1 1 0 1-.1 1-.2 1 0 1-.1 1 0 1-.1 1 0 1 .3 1 .1 1-.1 1 0 1 .1 1-.3 1 0 1 .4 1-.6 1 .4 1-.1 1 0 1 .3 1-.3 1 .3 1-.5 1 0 1 .3 1 0 1 .3 1 0 1-.2 1 .1 1-.6 1 0 1 .5 1-.2 1 .1 1-.1 1-.1 1 .1 1 0 1 .2 1 0 1 0 1 0 1 0 1-.2 1 0 1-.1 1 0 1 0 1-.2 1 .6 1-.1 1 0 1 0 1-.2 1 .2 1 0 1-.3 1 0 1 .3 1-.2 1 .2 1-.2 1 .1 1 0 1 0 1 0 1 .1 1-.5 1 .2 1 .3 1 0 1-.1 1 0 1 .1 1 0 1 0 1-.2 1 .3 1-.5 1 0 1 .3 1 0 1 0 1-.5 1 .7 1 0 1-.1 1 .1 1-.1 1 0 1-.2 1 0 1 .2 1 0 1 .1 1-.2 1 0 1-.3 1 .4 1 0 1-.2 1 0 1 .4 1-.3 1 0 1-.2 1 0 1 .1 1 .1 1 .1 1 .1 1-.1 1-.7 1 .4 1 .3 1 0 1 0 1 0 1-.1 1 0 1-.1 1 .1 1 .1 1 0 1-.2 1 .2 1 0 1 0 1 0 1 0 1 0 1 0 1 0 1-.1 1 0 1-.5 1 .6 1 0 1-.2 1-.2 1 .2 1 .2 1 0 1 0 1 0 1-.4 1 0 1 .1 1 0 1 .3 1-.2 1 .1 1 0 1 0 1 0 1 .1 1 0 1 0 1 0 1 0 1 0 1-.3 1 .1 1-.3 1 .3 1-.3 1 0 1 .6 1 0 1 0 1-.1 1 0 1 0 1-.3 1 0 1 .3 1 0 1-.1 1-.2 1 .3 1 0 1-.5 1 .4 1 0 1 .1 1 0 1 0 1 .1 1-.7 1 .6 1 0 1 0 1 0 1-.2 1 .2 1-.5 1-.1 1 0 1 .6 1 0 1-.4 1 0 1 0 1 0 1 .3 1 .1 1-.3 1 0 1 0 1 .4 1-.1 1-.5 1 .2 1 .2 1 0 1 .3 1 0 1-.3 1-.2 1 .3 1-.2 1 .2 1 .1 1 0 1-.3 1 0 1 .2 1-.1 1 0 1 .2 1-.2 1 0 1-.2 1 0 1 .4 1 0 1-.4 1 .3 1-.3 1 .3 1-.5 1 0 1 .7 1-.5 1 .1 1 .1 1 0 1 .2 1-.3 1 .1 1-.7 1-.3 1 .1 1 .9 1 .1 1-.3 1 0 1 .3 1 0 1-.1 1-.3 1 0 1 .1 1 0 1-.3 1 .5 1 0 1 0 1 0 1 0 1-.2 1 0 1 .3 1 0 1-.1 1 0 1-.1 1-.2 1 .4 1 0 1-.1 1 .2 1-.1 1-.1 1 0 1 0 1 0 1 .1 1-.4 1 0 1 .3 1 .1 1 0 1-.5 1 .5 1 0 1 0 1 0 1-.5 1 .3 1 .1 1 0 1 .1 1 .1 1 0 1-.1 1 0 1-.3 1 .2 1-.4 1 0 1 .5 1-.3 1 .4 1-.2 1 .1 1 0 1-.2 1 0 1 .3 1 0 1-.1 1-.3 1 0 1-.6 1 .8 1-.2 1-.3 1 0 1 .2 1 .4 1 0 1 0 1 0 1 0 1-.6 1 0 1 .6 1-.3 1 .3 1 0 1-.3 1-.2 1 0 1 .6 1-.3 1 0 1 .2 1 0 1 0 1 0 1 0 1 0 1-.5 1 0 1 .4 1 0 1 0 1 .1 1 0 1 0 1-.2 1 .3 1-.3 1 0 1-.1 1 .3 1 .1 1 0 1-.3 1 .2 1-.4 1 .1 1 .3 1-.2 1 .2 1 .1 1-.3 1-.5 1 .7 1 0 1-.2 1 0 1 .2 1 0 1-.2 1-.2 1 0 1 .5 1 0 1-.3 1-.1 1 .2 1 0 1 .2 1-.1 1-.2 1 .2 1-.5 1 0 1 .2 1 .1 1 0 1 .2 1 0 1-.1 1-.3 1-.6 1 .3 1 0 1 .4 1 .2 1 .1 1 0 1 .1 1 0 1-.1 1 0 1 0 1 0 1-.2 1 .2 1-.1 1 0 1 .1 1-.2 1 0 1-.4 1 0 1 .8 1 0 1-.2 1 0 1-.2 1 0 1 .3 1-.1 1 0 1-.4 1 0 1 0 1 .2 1 0 1 .2 1 0 1-.1 1 .3 1-.6 1 0 1 .4 1 0 1 0 1-.5 1 .5 1-.3 1 0 1 .1 1 .2 1-.1 1 .2 1-.3 1 0 1 .2 1-.7 1 0 1 .6 1 0 1-.1 1-.1 1 .3 1-.2 1 0 1 0 1 0 1 .2 1 0 1 0 1-.2 1-.1 1 .2 1 .1 1-.3 1 .2 1 0 1-.2 1 .1 1 .2 1-.2 1 .2 1-.1 1 0 1 0 1 0 1-.3 1 0 1 .4 1 0 1-.1 1-.4 1 .2 1 .2 1 0 1 .1 1 0 1 0 1 0 1 0 1 0 1 0 1 0 1-.1 1 .1 1 0 1 0 1-.1 1 .1 1-.8 1 .8 1-.4 1 .6 1-.6 1 0 1 .4 1-.1 1 0 1 .1 1-.6 1-.1 1 0 1 .5 1 0 1-.1 1-.2 1 .5 1 .1 1-.5 1 .4 1-.3 1 0 1 .4 1 0 1-.1 1-.2 1 0 1-.1 1 .2 1 0 1 .2 1 0 1 0 1-.2 1 0 1-.2 1 0 1 0 1-.2 1-.4 1 .4 1 .3 1-.3 1 0 1 .4 1 0 1 0 1 0 1 .1 1 0 1-.2 1 0 1 .2 1-.9 1 .6 1 0 1 .3 1 0 1-.1 1-.5 1 .5 1 .2 1 0 1-.2 1 0 1-.6 1 .7 1 0 1-.2 1-.2 1 0 1 .4 1 .1 1-.1 1 0 1-.1 1-.2 1 0 1-.2 1 .2 1 .2 1 .1 1 0 1-.1 1 .1 1 0 1 0 1-.2 1 .1 1-.7 1 .8 1-.4 1 .2 1 .1 1-.1 1 .2 1 0 1 0 1 0 1 0 1-.1 1 0 1 .1 1-.1 1 .1 1 0 1 0 1 0 1 0 1 0 1-.4 1 0 1 .5 1 0 1-.1 1 0 1-.5 1 .4 1 0 1-.3 1 0 1 .5 1-.1 1 0 1 0 1-.2 1 0 1-.1 1-.1 1 .1 1 .3 1 0 1 0 1-.2 1 .2 1-.2 1 0 1-.1 1-.1 1-.4 1 .9 1-.1 1 .1 1-.3 1 0 1 .2 1-.6 1 .6 1-.3 1 .2 1 .1 1-.4 1 .3 1-.4 1 0 1 0 1 0 1 .4 1 .1 1 0 1-.9 1 0 1 .9 1-.1 1-.2 1 .2 1 .1 1 0 1 0 1 0 1-.1 1 .1 1-.5 1 .2 1 0 1 0 1 0 1 .3 1 0 1-.1 1 .1 1-.2 1 0 1 .1 1-.3 1 .2 1 0 1 0 1 0 1 .1 1-.2 1 0 1 .2 1 0 1 .2 1 0 1-.4 1 0 1 .3 1-.3 1-.1 1 0 1 .5 1-.1 1-.2 1 .2 1 0 1 0 1 0 1 0 1 .1 1-.1 1-.8 1 .8 1-.6 1 0 1 .3 1 0 1 .3 1-.4 1 .4 1-.2 1 0 1 .2 1 0 1 0 1-.4 1 0 1-.2 1 .1 1 0 1 .4 1 .1 1 .1 1-.1 1 0 1-.1 1 .1 1 .1 1-1 1 .6 1 .3 1 0 1-.2 1 0 1 .3 1-.5 1 0 1 .1 1 .3 1 0 1 0 1-.2 1 .3 1-.1 1-.1 1-.1 1 .2 1 0 1 .1 1-.3 1 0 1 .2 1 0 1-.3 1 .3 1 0 1-.2 1-.4 1 .7 1-.5 1 0 1 .4 1 0 1 0 1-.1 1-.4 1 .4 1 .2 1 0 1 0 1-.4 1 0 1-.3 1 .6 1 0 1 0 1-.2 1 .3 1 0 1 0 1 0 1-.3 1 0 1-.4 1 0 1 .4 1 0 1-.1 1-.2 1 0 1 0 1 .3 1 0 1-.3 1-.1 1-.6 1-6.5 1-21.2 1-37 1-23.6 .1-.7 .9 15.2 1 32.4 1 24.9 1 11.4 1 3.1 1 1.7 1 .4 1 .4 1 .1 1 .2 1 .1 1-.4 1 0 1 .6 1 0 1 0 1 .2 1-.3 1 0 1 0 1 .3 1 0 1-.1 1-.1 1 0 1 0 1-.2 1 .3 1-.1 1 0 1 .1 1 0 1-.4 1 .1 1 .3 1 0 1-.4 1 0 1 .4 1 .1 1-.1 1 0 1 0 1 0 1-.2 1 .2 1 0 1 0 1 .2 1-.2 1-.1 1 .1 1 0 1-.2 1 .2 1-.1 1 0 1 0 1 0 1 0 1 .2 1-.7 1 0 1 .5 1 .1 1 0 1-.1 1-.3 1 .1 1 0 1 .3 1-.4 1 .1 1-.2 1 .1 1-.3 1 .2 1-.1 1 .1 1 .6 1-.1 1-.3 1 0 1 0 1-.2 1 .1 1 .3 1 .1 1 0 1 0 1 0 1 0 1-.1 1-.2 1 .1 1 0 1-.3 1 0 1 .5 1 .1 1 0 1-.5 1 .6 1 0 1 0 1-.2 1-.5 1 0 1 .5 1-.8 1 0 1 .7 1 0 1 .1 1-.2 1 .2 1-.4 1 .2 1 .3 1 0 1-.2 1 0 1-.5 1 0 1 .4 1 .1 1-.5 1 .4 1 .2 1-.4 1 .4 1-.3 1-.4 1-.1 1 .3 1 .4 1-.2 1 .3 1 0 1-.1 1 .2 1 0 1-.6 1 .2 1 .3 1 0 1-.2 1 .3 1-.1 1 0 1-.2 1 0 1 .2 1-.2 1 0 1 .2 1-.8 1 .8 1 0 1-.3 1 0 1 .2 1 0 1 .1 1-.1 1 0 1-.3 1 .3 1 0 1-.3 1 0 1 .4 1 0 1-.2 1 0 1-.2 1 .3 1 .1 1 0 1 0 1 0 1 .1 1 0 1-.1 1 0 1 0 1 .1 1 0 1 0 1-.3 1 .1 1 .1 1-.1 1-.1 1 .2 1-.2 1 .1 1 .1 1 0 1-.1 1 0 1 .2 1-.5 1 .1 1 .4 1-.2 1 0 1 .2 1-.1 1 0 1-.1 1 .1 1-.1 1 .1 1 0 1-.1 1-.2 1 0 1 .4 1-.2 1 .1 1 0 1 0 1 0 1-.3 1 .1 1 0 1-.4 1 .6 1 0 1-.4 1 0 1 .4 1 0 1 0 1-.9 1 1 1 0 1-.2 1 0 1 .2 1-.1 1 0 1 0 1 0 1-.1 1 0 1-.2 1 .3 1-.1 1-.2 1 .3 1-.5 1 .6 1-.3 1-.1 1 .3 1-.2 1-.3 1 .2 1 .4 1-.1 1-.7 1 .7 1-.3 1 .2 1-.7 1 0 1 .4 1 0 1 .5 1 0 1-.3 1 0 1 .3 1-.4 1 0 1 .2 1 0 1 .1 1-.6 1-.1 1 .1 1-.3 1 .4 1 .5 1-.1 1 0 1 0 1 .1 1-.3 1 .4 1-.2 1-.9 1 1 1-.3 1-.4 1 .5 1 .1 1 .2 1-.5 1 .4 1 0 1-.7 1 .7 1 0 1 0 1 0 1-.3 1 .1 1 0 1 .3 1-.1 1-.3 1 0 1 .3 1 0 1 0 1 0 1-.2 1-.6 1 0 1 .7 1 0 1 .1 1 0 1-.1 1-.2 1 .3 1 0 1-.1 1 0 1-.2 1 0 1 .3 1-.1 1-.2 1 0 1-.1 1 .4 1 0 1 0 1 0 1-.2 1 .2 1-.4 1 .2 1-.2 1 0 1 .4 1-.1 1 .1 1 0 1 0 1-.1 1 0 1 0 1-.1 1 0 1 .2 1 0 1-.4 1 .3 1 .2 1-.2 1 0 1 0 1-.2 1 .1 1 .3 1 0 1-.6 1 0 1 .2 1-.1 1 .2 1 0 1 .1 1 .1 1 0 1 0 1 0 1-.3 1 .3 1-.5 1 0 1 .5 1-.3 1 .2 1 0 1 .1 1-.9 1-1.7 1-5.4 1-10.1 1-6.5 .1-.3 .9 4.6 1 10.3 1 7.2 1 2.2 1 .1 1 .1 1 0 1 .3 1 .2 1 0 1 0 1-.5 1 .2 1 0 1 .2 1 0 1 0 1-.7 1 .8 1-.1 1 0 1-.2 1 0 1 .2 1 0 1-.4 1 0 1 .2 1-.1 1 .3 1 0 1-.2 1 .2 1-.5 1 0 1 .6 1 0 1 0 1-.5 1 .5 1-.1 1-.2 1 0 1 .3 1 0 1 0 1-.1 1 0 1-.5 1 0 1 .2 1 .2 1 0 1 .3 1 0 1-.2 1 0 1 0 1-.1 1 0 1 0 1 .1 1 0 1-.1 1 0 1 0 1 0 1 .1 1-.5 1 0 1 .3 1 .3 1-.3 1 0 1-.2 1 .3 1 0 1-.1 1 0 1 .4 1-.2 1 0 1 0 1-.1 1 0 1 .1 1 0 1 0 1 0 1 .1 1 0 1-.1 1-.2 1 0 1 .1 1 0 1 .1 1-.4 1 .3 1 .1 1-.1 1 0 1 0 1-.4 1 .5 1-.4 1 0 1 0 1-.1 1 .5 1 0 1-.2 1-.2 1 0 1 .3 1-.3 1 .3 1 0 1-.1 1 0 1 .1 1 .1 1 0 1-.2 1 0 1 .2 1 0 1-.5 1 0 1 .6 1 0 1 .1 1-.5 1 0 1-.1 1 .3 1-.6 1 .3 1 .4 1 0 1-.8 1 .8 1 0 1 0 1-.1 1 0 1 0 1 .1 1-.4 1 .1 1-.6 1 .8 1 .1 1 0 1 0 1 0 1-.1 1 0 1-.3 1 .4 1 0 1 .1 1-.2 1 .1 1-.2 1 .2 1-.2 1 .3 1-.6 1 0 1-.2 1 .1 1 .4 1 0 1-.3 1 .4 1-.5 1 .6 1 0 1 0 1 0 1-.1 1 .1 1 0 1 0 1 .2 1-.2 1 0 1 0 1-.4 1 .3 1-.3 1 .5 1-.8 1 0 1 .8 1-.6 1 0 1 .5 1 .1 1-.2 1 0 1 0 1 .1 1-.3 1 0 1 .3 1 0 1-.2 1-.1 1 .3 1 0 1-.2 1 .2 1 0 1-.4 1 .1 1 .4 1-.1 1-.3 1 .2 1 .2 1-.2 1 0 1-.4 1 .4 1 0 1-.3 1 .2 1 0 1 .1 1 .1 1 0 1-.1 1 .1 1 0 1-.1 1 .1 1-.2 1-.5 1 0 1 .5 1-.1 1 .2 1 0 1 0 1 .1 1 0 1 0 1-.1 1 0 1 0 1 0 1 .1 1 0 1-.4 1 .4 1 0 1 0 1 0 1 0 1-.1" fill="none" stroke="#000" stroke-width="4.0" stroke-linejoin="round"/>
<rect x="611.7" y="1396.2" width="32.2" height="32.4" fill="#000"/>
<polygon points="1676.0,1518.0 1656.6,1556.7 1695.4,1556.7" fill="#000"/>
<text x="2329.7" y="1468.2" font-size="51.3" text-anchor="end">75 pmole</text>
<path d="M364 1892.7l 1 .3 1 0 1-.4 1 .4 1 0 1 0 1 .1 1-.1 1 0 1-.2 1-.5 1 .8 1 0 1-.6 1 .6 1 0 1-.1 1-.6 1 .9 1 0 1-.2 1-.1 1 .2 1-.7 1 0 1 .5 1 0 1-.6 1 0 1-.2 1 0 1 .7 1 0 1-.1 1 .3 1-.3 1 0 1-.2 1 .5 1 0 1-.1 1 .1 1 0 1 0 1-.2 1 .4 1-.8 1 .2 1 .2 1 .1 1 0 1 0 1-.1 1-.2 1-.3 1 .6 1-.4 1-.2 1 0 1 .4 1 0 1-.1 1-.5 1 1 1 0 1-.7 1 .2 1 0 1 .2 1 0 1-.2 1 0 1 0 1 0 1-.1 1 .5 1 0 1-.1 1 .3 1 0 1-.3 1-.3 1 0 1 .3 1-.2 1 .3 1 0 1 0 1-.2 1-.1 1 .4 1 0 1 .2 1-.4 1-.1 1 .1 1 0 1 .2 1-.2 1 0 1-.2 1-.3 1 0 1 .3 1-.1 1 0 1-.5 1 0 1 .5 1 .3 1-1.1 1 0 1 0 1 1.2 1-.7 1-.6 1 .9 1 .2 1-.4 1 .7 1-.4 1-.7 1 0 1 .8 1-.8 1-.3 .8-.7 .2-.9 1 1.7 1 .8 1-.7 1 .1 1 1.1 1 0 1-.2 1 0 1 0 1-.2 1-.2 1 0 1 0 1 .5 1-.7 1 .9 1-.1 1-.8 1 .7 1 0 1 0 1-1.1 1 .4 1 0 1 .4 1 .4 1 0 1-.1 1 .1 1-.2 1-.8 1 0 1 .8 1-.2 1 .1 1 .4 1-.3 1 0 1 .1 1 0 1-1.3 1 0 1 1.2 1-.8 1 0 1 .9 1-.1 1 0 1-.4 1 .1 1-.6 1 .2 1 .4 1-.1 1 0 1 0 1 0 1 .3 1-.6 1 .8 1 0 1-.2 1-.7 1 .3 1 0 1 .4 1-.1 1-.3 1 .1 1 0 1 .5 1-.7 1 .1 1-.1 1 .6 1 0 1 0 1-.3 1 .5 1-.2 1-.1 1-.2 1-.2 1 .7 1-.1 1 0 1-.7 1 0 1 0 1 .4 1 0 1 .3 1 0 1-.4 1 0 1-.6 1 1.1 1-.5 1 0 1-.3 1 .7 1-.2 1 .2 1-.1 1 .1 1 0 1-1.2 1 0 1 .7 1 0 1 .3 1-.5 1 .7 1-.1 1-.6 1 0 1 0 1 .7 1-.1 1-.2 1 .3 1-.5 1 0 1 0 1 0 1 .4 1-.2 1-1.8 1-8 1-31.8 1-66.8 1-61.9 .4-7.1 .6 15.5 1 58.5 1 57 1 30.1 1 10.1 1 2.9 1 1.3 1 .7 1 0 1 .6 1 .2 1-.1 1 .6 1 0 1 .1 1 .3 1 0 1-.2 1-.9 1 .9 1-.9 1 1.2 1-.2 1-.1 1 0 1 .1 1 0 1-.2 1 0 1 0 1-.4 1 .2 1 .4 1 0 1 0 1-.7 1 .5 1-.4 1 .1 1 .1 1 .3 1 .1 1-1 1 .8 1 0 1 .1 1-.9 1 0 1 .9 1-.7 1 0 1 .7 1 0 1-.5 1 .2 1 .3 1-.6 1-.2 1 .8 1 0 1 0 1 .1 1 0 1-.3 1-.8 1 0 1-.5 1 .2 1 .6 1 .3 1-.1 1 0 1 .6 1-.2 1 0 1-.2 1-.4 1 .8 1 0 1-.8 1 0 1 .7 1 0 1 .1 1-.1 1 0 1-.2 1 0 1 0 1-.4 1 0 1 .7 1-.5 1 0 1 0 1 .4 1 0 1 .2 1-.2 1 0 1 .1 1-.2 1 .3 1-.2 1-.5 1 .4 1 0 1 .2 1 0 1 0 1-.1 1 .2 1 0 1-.1 1 .1 1-.2 1 .1 1-1 1 .5 1 0 1 0 1 .6 1 0 1-1.1 1 .6 1-3.4 1-5.8 .3-.5 .7 2 1 4.3 1 1.8 1 .6 1 .4 1 .1 1 .3 1 .3 1-.1 1 0 1 .3 1-.1 1 .3 1-1.1 1 .8 1 .1 1 0 1-.1 1-.2 1 0 1 .4 1-.5 1 .1 1 .5 1-.3 1 0 1 .2 1 0 1 0 1 0 1 .1 1-.6 1-.3 1 .8 1 0 1-.3 1 .2 1 0 1 .1 1 0 1 .1 1 .1 1-.5 1-.2 1 .5 1-.4 1 .2 1-.1 1-.4 1 .4 1 0 1 .1 1-.8 1 0 1 .9 1 0 1-.6 1-.1 1 0 1 .1 1 0 1 .3 1-.2 1 .3 1 .2 1 0 1 .3 1-.2 1 0 1-.1 1 0 1 0 1 0 1 0 1-.4 1 .5 1-.1 1 .1 1-.5 1 .4 1-.4 1 .5 1 0 1 .1 1 0 1-.2 1 0 1 .2 1 0 1-.2 1 0 1-.5 1 0 1 .2 1 0 1 .4 1-.2 1 .3 1-.2 1 0 1 .2 1 0 1-.2 1 0 1-.1 1-.2 1 .4 1-1.1 1 0 1 0 1 1 1 .1 1-.4 1 .3 1 .2 1 0 1-.6 1 .3 1-.4 1 .6 1 0 1-.1 1 .2 1 0 1-.2 1 0 1 .1 1-.1 1 0 1 0 1 .1 1 0 1 .2 1-1.3 1 1.1 1-.6 1-.1 1-.6 1-.7 1 .9 1 .6 1 0 1 .1 1 .1 1-.5 1 .7 1 0 1-.6 1 .8 1-.2 1-.3 1-.2 1 0 1 .5 1 .1 1-.3 1 0 1 .4 1 0 1-.7 1-.2 1 .3 1 0 1 .5 1 0 1-.3 1-.3 1 .7 1-1 1 0 1 .5 1-.2 1 .6 1-.5 1-.3 1 .6 1 0 1-.5 1 0 1-.5 1 .5 1 0 1 0 1 .5 1 .2 1-.5 1-.2 1 .7 1 0 1-.4 1 0 1-.3 1 0 1 .6 1-.5 1 0 1 .6 1 0 1 .1 1-.5 1-.6 1 0 1 .2 1 .4 1-1.1 .8-.6 .2 .1 1 .6 1 .8 1 .3 1 .2 1-.1 1 .3 1 0 1-.3 1 .3 1-.3 1 .2 1 0 1-.8 1 0 1 .2 1 .4 1 0 1-1.1 1 1.3 1 .1 1 0 1-1 1 .9 1 0 1-.8 1 .9 1 0 1-.5 1 .4 1-.1 1 .1 1-.8 1 0 1-.1 1 .9 1-.7 1 .8 1 0 1-.4 1 0 1-.7 1 .6 1 .4 1-.4 1 .2 1-.5 1 0 1 .4 1-.1 1-.8 1 1.1 1-.6 1 0 1 .7 1 0 1-.1 1-.7 1-.3 1 1 1-.4 1-.2 1 0 1 .5 1-.3 1 .5 1-.3 1 0 1 .4 1-.6 1 .3 1 0 1-.2 1 0 1 .2 1 0 1 .2 1-.5 1 0 1 .4 1 0 1 .1 1 0 1-.1 1 0 1-.4 1 0 1 .4 1 0 1-.8 1 0 1 .7 1 .2 1-.1 1 0 1 0 1 0 1-.4 1-.3 1 0 1 .5 1 .1 1 0 1 .3 1-.3 1 .2 1-.2 1 0 1 .2 1-.2 1 0 1-.6 1 .1 1 .6 1-.7 1 .7 1 .1 1-.4 1-.2 1 .4 1 .2 1-.8 1 0 1 .7 1 0 1 0 1 .1 1 .3 1-.2 1 0 1-1.2 1-.6 1-1.4 .3 .9 .7 .4 1 .4 1 .5 1 0 1 .5 1 0 1-.3 1 .7 1-.1 1 0 1-.2 1-.6 1 1 1 0 1-1.1 1 1 1-.1 1 0 1-.7 1 .5 1 .2 1 0 1 0 1 0 1 0 1 0 1-.1 1 0 1-.6 1 0 1 .7 1 0 1-.4 1 .1 1 .4 1 .1 1-.2 1 0 1 .1 1 .1 1 0 1-.7 1 0 1 .1 1 .5 1 0 1-.1 1-.6 1 .7 1 .2 1 0 1-.7 1 .1 1 .3 1 .1 1-.4 1 0 1 .3 1-.6 1-.1 1 .5 1 .4 1-.6 1 .1 1-.9 .6-.5 .4 .1 1 .8 1 .4 1 .2 1 .2 1 0 1 0 1-.3 1 0 1 .3 1-.3 1-.2 1 0 1 0 1 .8 1-.3 1 0 1 .2 1-.2 1 .1 1 0 1 0 1 0 1-.7 1 .1 1-.1 1 0 1 .5 1 .2 1 0 1 0 1 .2 1-.7 1 0 1-.2 1 .8 1-.2 1 0 1 0 1-.1 1 .1 1 0 1-.2 1 0 1 .4 1-.1 1-.1 1 .1 1 0 1-.4 1 0 1 .3 1 0 1 0 1 0 1 .1 1 0 1 0 1 0 1-.5 1 .2 1 .2 1-.2 1 0 1-.2 1-.2 1-.5 .9-.9 .1 0 1 .8 1 .8 1 .3 1-.3 1 0 1-.1 1 0 1 .1 1 0 1 .4 1-.8 1 .7 1 0 1 0 1-.1 1-.2 1 0 1 .5 1-.5 1 0 1 .2 1 .2 1 0 1 .1 1 .3 1-.3 1 0 1 0 1-.1 1 0 1 .1 1 0 1-.6 1 .5 1 0 1-.1 1 .3 1 0 1 .1 1 0 1-.3 1 0 1-.5 1 0 1 .5 1-.4 1 .3 1-.2 1 .3 1 .1 1-.6 1 0 1 .2 1 0 1 .4 1 0 1 .1 1 0 1-.3 1 .3 1-.8 1 0 1 .4 1-.4 1 .1 1 .4 1-.5 1 0 1 .6 1 0 1 .1 1 0 1-.8 1 .6 1 0 1-.4 1 .1 1 .7 1-.4 1 .1 1 0 1-.3 1 .2 1 .2 1-.1 1-.6 1 0 1 .6 1-.6 1 0 1 .8 1 0 1-.5 1 0 1-.1 1 0 1 .6 1-.4 1 0 1-.1 1 .3 1 0 1 0 1 .1 1-1.5 1 .5 1 .7 1 .3 1-.5 1-.1 1 0 1 .6 1 0 1 0 1 0 1-.8 1 .4 1 .3 1-.3 1 0 1-.6 1 .3 1 .6 1 .1 1 0 1 0 1-.3 1-.2 1 0 1 0 1 .5 1-.3 1 .4 1 0 1-.4 1 .3 1-.8 1 0 1 .8 1 0 1 .3 1-1.1 1 0 1 .7 1 0 1 .1 1 0 1-.1 1 .1 1 0 1 0 1 0 1-1.1 1 0 1 0 1 1.1 1-.1 1 0 1-.5 1 .4 1-.1 1 .3 1-.2 1-.4 1 .3 1 0 1 .2 1-.4 1 .7 1-.2 1-.1 1 0 1 .3 1 0 1-.2 1-.3 1 .3 1 0 1-.1 1-.7 1 0 1 .7 1 0 1 0 1 0 1-1.4 1 1 1 0 1 .2 1-.2 1 0 1 .2 1 0 1-.2 1 0 1 .6 1-.1 1-.6 1 0 1-.3 1 0 1 .8 1 0 1 0 1-.7 1 .6 1 .3 1-1 1 .7 1 .3 1-.2 1 .2 1-.1 1 .2 1-1.5 1 1.2 1 0 1-.4 1 .1 1 0 1 .3 1 0 1 0 1-.4 1-.3 1 0 1 .7 1-.3 1 .4 1 0 1-.4 1 0 1 .3 1 .2 1-.6 1 .6 1 0 1-.3 1 0 1 .2 1 0 1-.4 1 0 1 .2 1 .2 1-.1 1-.9 1 .9 1 0 1 .1 1-.6 1 .7 1 0 1-.2 1 0 1-.1 1 .1 1-.4 1 0 1-.1 1 .6 1 0 1-.3 1 .2 1-.2 1 0 1 .3 1 0 1-.5 1 0 1 .4 1-.2 1 0 1-.5 1 .7 1-1.1 1 1.1 1-.7 1 .7 1 0 1 0 1-1 1 1.1 1-1 1 1.1 1 0 1 .1 1-.3 1 .1 1-.6 1 .4 1 0 1 0 1 0 1 .1 1 0 1-.8 1 0 1 .2 1 0 1-.1 1 .8 1 0 1 0 1 0 1-.3 1-.1 1 .3 1 0 1-.4 1 0 1 .1 1 0 1 .1 1 0 1 .3 1-.7 1 .6 1-.8 1 0 1 .9 1 0 1-.6 1 0 1 .6 1-.4 1-.2 1 0 1 0 1 0 1 .6 1-.2 1 0 1-.8 1 .6 1 .4 1 0 1-.1 1 0 1-.1 1 0 1 .5 1 0 1-1 1 .7 1-.1 1-.3 1-.2 1 .5 1-.3 1-.4 1 .8 1 0 1-.1 1 0 1-.2 1 0 1 .5 1-.4 1 0 1 .1 1-.2 1-.6 1 .8 1-.4 1 0 1 .5 1-.3 1-.7 1 .8 1 0 1 .2 1 0 1-.9 1 0 1 .6 1-1.1 1 1.5 1-1.5 1 0 1 1.5 1 0 1-.4 1-.3 1-.3 1 .2 1 .6 1 0 1-.1 1 .2 1 0 1 0 1 0 1 .1 1 0 1-1.1 1 .6 1-.3 1 .7 1-.4 1 0 1-.4 1 0 1 .4 1-.2 1 .6 1-.1 1 0 1 0 1-.2 1-.3 1 0 1 .5 1-.8 1 1 1 0 1 .1 1 0 1-.4 1 0 1 0 1-.1 1 .2 1 0 1-.1 1-.1 1 0 1 .2 1 .1 1-.3 1 0 1-.4 1 0 1 .4 1 0 1 .3 1 0 1-.1 1 0 1-.2 1 0 1 .1 1 0 1 0 1 .1 1-.6 1 0 1-.2 1-.2 1-.2 1 0 1-6.7 1-21.5 1-37.2 1-24.5 .1 .3 .9 15.5 1 32.4 1 25.3 1 11.7 1 3.5 1 .7 1 .5 1 .3 1 .3 1-.5 1 .1 1 .1 1 .8 1 .1 1 .1 1-.1 1 0 1 .1 1 0 1 .1 1-.1 1-.1 1 0 1 0 1 0 1-.3 1 0 1 .5 1-.5 1 .4 1-.2 1-.4 1 0 1 .3 1 .5 1-.3 1 .1 1-.1 1 0 1-.5 1 .6 1 0 1-.1 1-.2 1 0 1 .4 1-.1 1-.2 1 .1 1 .3 1 0 1-.1 1 0 1-.1 1-.2 1 .1 1-.1 1-.2 1 .1 1 0 1-.3 1 0 1 .4 1-.8 1 0 1 .8 1 .1 1-.6 1 0 1 .6 1 0 1 0 1 .1 1-.1 1 0 1 .1 1-.1 1 0 1 0 1-.7 1 .8 1-.2 1 .3 1 0 1-.5 1 0 1-.2 1 .2 1-.9 .6-.4 .4 .1 1 .8 1 .4 1-.7 1 .9 1 0 1 0 1 0 1 .2 1 0 1-.9 1 0 1 .2 1 .1 1-.9 1 1.5 1-.9 1 .9 1-.3 1 0 1 .2 1 0 1-.3 1 0 1 .4 1 .1 1-.9 1 .9 1 0 1-.1 1 0 1 0 1-.5 1-.6 1-3.1 .5-.6 .5 1.2 1 1.7 1 .6 1 .3 1 .4 1-.6 1 1 1-.3 1 0 1-.6 1 .1 1 1 1-.8 1 .8 1 0 1 0 1 0 1-.3 1 .3 1 0 1-.4 1-.5 1 .9 1 .1 1 0 1-.1 1-.1 1 0 1 0 1 0 1 0 1 .1 1-.6 1 .5 1-.5 1 0 1 .4 1 0 1 .2 1-.4 1 .5 1-.1 1 0 1-.7 1 .6 1 0 1 .1 1 .1 1-.8 1 0 1-.3 1 0 1 .7 1-.6 1 1 1-.6 1 .5 1 0 1 .1 1-.9 1 .9 1 0 1-.2 1 0 1 0 1 0 1 0 1 .1 1 0 1-.2 1 0 1 .1 1 0 1 .1 1 0 1-.6 1 0 1 .5 1-.4 1 .6 1-.1 1-.5 1 .3 1-.3 1-.1 1 0 1 .7 1-.5 1-.5 1 .9 1 0 1-.6 1 0 1 .5 1 0 1-.3 1 0 1 .3 1 0 1-.8 1 .8 1 0 1 .1 1 0 1-.1 1 .1 1-.1 1 .2 1 0 1-.4 1 .3 1 .1 1-.4 1 .2 1 0 1 .3 1-.1 1-.1 1 0 1-.1 1 .3 1-.3 1 0 1 .1 1 0 1-.4 1 .5 1-.2 1 0 1 .1 1-.1 1-1 1 .9 1 .2 1 0 1 0 1-.5 1 .4 1-.6 1 .5 1 .1 1-.5 1 0 1 .5 1 .3 1-.9 1 .7 1-.1 1-.4 1 0 1 .4 1-.5 1 .6 1 0 1-.6 1 .3 1 .3 1-.5 1 .4 1 0 1 0 1 0 1 0 1 0 1 0 1-.3 1 0 1 .1 1 0 1-.6 1 .9 1 0 1-.2 1 .1 1 .4 1 0 1-.8 1 .5 1 0 1-.4 1 0 1-.7 1 .6 1 .1 1-.7 1 1.1 1-.7 1 .7 1 0 1-.1 1-.7 1 1 1-1 1 0 1 .3 1 0 1 .4 1-.4 1 .6 1-.4 1 0 1 .2 1-.4 1 .4 1 .1 1-.2 1-.3 1-.1 1-.2 1 .3 1 .2 1 0 1-.2 1 .2 1 .2 1-.4 1 .3 1 .1 1-.8 1 0 1 .2 1 .3 1 .3 1 0 1 0 1 0 1 .1 1-.2 1-.1 1 0 1 .4 1 0 1-1 1 0 1 1 1 0 1-.5 1-.3 1 .4 1-.2 1 .1 1 0 1 .2 1 0 1-.3 1 0 1-.6 1 .3 1 0 1 .7 1 0 1-.1 1 0 1 .2 1-.1 1-.2 1 0 1 .3 1 0 1-.4 1 0 1 .4 1-.1 1-.7 1 .5 1-.2 1 .1 1 .3 1-.1 1-2.6 1-16 1-20.4 .1-.4 .9 10.4 1 16.7 1 7.1 1 2.1 1 .2 1 1.3 1 .4 1 .3 1-.2 1 .7 1 .1 1 .1 1 .1 1 .1 1 .2 1 0 1 0 1 .3 1-1.3 1 .5 1 .4 1 .2 1 0 1-.1 1 0 1 0 1 0 1-.1 1-.1 1 .2 1-.6 1 .2 1-.3 1 0 1 .7 1 0 1-.3 1-.3 1 .5 1 0 1 0 1-.7 1 .7 1 0 1 0 1-.3 1 .4 1 0 1-.3 1 .2 1 .1 1-.1 1-.2 1-.4 1 .6 1-.3 1 .1 1 .3 1 0 1-1.3 1 .7 1 0 1 .1 1 .5 1 .1 1 0 1-.2 1 .1 1-.2 1 .1 1 0 1 0 1 .1 1-.4 1 0 1-.2 1-.6 1 .7 1 .5 1 0 1 0 1 0 1-.3 1 0 1 .2 1-.6 1 .6 1 .1 1-.2 1 0 1 .2 1-.3 1 0 1-.1 1 0 1 .4 1 .2 1-1.2 1 1.1 1 0 1-1 1 0 1 .8 1 0 1 0 1-.7 1 0 1 .4 1 0 1 0 1 .1 1 0 1 .4 1-.2 1-.2 1 .1 1 0 1 .1 1 0 1-.5 1 .5 1 0 1 .1 1 0 1 .2 1-.2 1-.2 1 .1 1 0 1 .1 1-.1 1 .1 1-.3 1-.3 1 0 1 .5 1 0 1 .1 1 0 1-.3 1-.3 1 0 1 .2 1 0 1 .3 1-1 1 0 1 1 1 .1 1 .1 1-.1 1-.1 1 0 1 .1 1 .1 1-.2 1 0 1 .1 1 .1 1-.4 1 .2 1 0 1 0 1 .1 1-.1 1-.3 1 0 1-.3 1 .5 1-.6 1-.4 1 1.2 1-.4 1 .3 1 0 1 0 1 0 1 0 1 .1 1-.2 1 0 1 .1 1 0 1-.6 1 .5 1 0 1 .2 1 0 1 .1 1-.1 1 0 1 .2 1 0 1-.3 1 .1 1 0 1 .1 1-.1 1 0 1-.2 1 .2 1 0 1-.1 1-.1 1 0 1 .2 1 .1 1-.1 1 .1 1 0 1-.4 1-.8 1 1.3 1-.6 1 .3 1-.4 1 0 1 .1 1 .1 1 .2 1 0 1-.3 1 .5 1-.6 1 .4 1 .1 1-.5 1-.1 1 .6 1 0 1 0 1 0 1-.7 1 .7 1 .2 1-.2 1 0 1 0 1-1.1 1 0 1 .2 1 0 1 .8 1 0 1 0 1 .1 1-1 1 0 1 .9 1 0 1 0 1 0 1-.3 1-.5 1 0 1 .6 1 0 1-1 1 1.1 1 .1 1 .1 1 .1" fill="none" stroke="#000" stroke-width="4.0" stroke-linejoin="round"/>
<rect x="606.9" y="1673.7" width="32.9" height="32.3" fill="#000"/>
<polygon points="1677.0,1755.0 1657.6,1792.2 1696.4,1792.2" fill="#000"/>
<text x="2329.7" y="1715.0" font-size="51.3" text-anchor="end">7.5 pmole</text>
<path d="M364 2139.3l .5-2 .5 1.9 .5-1.6 .5 1.5 .5-2.2 .5 2.4 .5-1.2 .5 1.1 .5-1.9 .5 2 .5-2.2 .5 2.2 .5-1.6 .5 1.6 .5-1.4 .5 1.2 .5-2.7 .5 2.9 .5-2.3 .5 2.3 .5-3.8 .5 3.8 .5-1.2 .5 1 .5-1.6 .5 1.7 .5-1.4 .5 1.2 .5-1.6 .5 1.9 .5-1.2 .5 1 .5-2.2 .5 2.1 .5-1.6 .5 1.7 .5-.7 .5 1 .5-1 .5 .9 .5-.9 .5 .8 .5-.6 .5 .6 .5-.7 .5 .8 .5-1.3 .5 1.1 .5-1.2 .5 1.3 .5-1.3 .5 1.3 .5-1.1 .5 .9 .5-.8 .5 1.1 .5-1.4 .5 1.4 .5-.9 .5 .6 .5-.6 .5 .6 .5-.9 .5 1 .5-2.4 .5 2.5 .5-2.3 .5 2.3 .5-3.8 .5 3.7 .5-2 .5 2 .5-2 .5 1.9 .5-2.3 .5 2.6 .5-2.8 .5 2.8 .5-2.3 .5 2 .5-1.8 .5 2.1 .5-4.8 .5 2.1 .5-2 .5 4.5 .5-2.7 .5 2.7 .5-1.5 .5 1.4 .5-1.2 .5 1.2 .5-.9 .5 1.1 .5-1.3 .5 1.4 .5-1.9 .5 1.8 .5-1.4 .5 1.3 .5-1.2 .5 1.4 .5-1.8 .5 1.5 .5-.6 .5 .7 .5-1.3 .5 1.4 .5-2 .5 2.1 .5-4.1 .5 2.1 .5 .4 .5 1.5 .5-3.2 .5 3.2 .5-1.4 .5 1.1 .5-2.4 .5 1.7 .5-3.3 .5 1.9 .5-3.9 .5 3.7 .5-2 .5 3.3 .5-2.4 .5 2.8 .5-3.4 .5 3.8 .5-3 .5 3.1 .5-3.2 .5 3.3 .5-4.3 .5 4.4 .5-4.4 .5 4.2 .5-1.2 .5 1.5 .5-2.3 .5 2.2 .5-4.1 .5 4.1 .5-3.7 .5 3.6 .5-1.6 .5 1.7 .5-3.7 .5 3.7 .5-3.1 .5 3.4 .5-2.9 .5 2.9 .5-3.3 .5 3 .5-2.8 .5 2.8 .5-4.2 .5 4.2 .5-3.3 .5 3.6 .5-3.2 .5 3.2 .5-2.9 .5 2.7 .5-3.4 .5 3.6 .5-3.4 .5 3.2 .5-2.1 .5 2.3 .5-2 .5 2 .5-4 .5 3.7 .5-3.5 .5 3.6 .5-2.8 .5 2.7 .5-3.1 .5 3.1 .5-2.6 .5 2.8 .5-1.1 .5 .9 .5-1.6 .5 1.6 .5-1.7 .5 1.7 .5-1.4 .5 1.6 .5-.9 .5 1 .5-3 .5 3 .5-2 .5 1.9 .5-1.9 .5 1.8 .5-.6 .5 .8 .5-1 .5 .8 .5-.4 .5 .5 .5-.5 .5 .4 .5-.6 .5 .6 .5-.4 .5 .3 .5-.7 .5 .8 .5-1.1 .5 1 .5-1 .5 1.2 .5-1.9 .5 2 .5-1 .5 .9 .5-1.8 .5 1.7 .5-2.3 .5 2.3 .5-2.9 .5 3.1 .5-1.4 .5 1.3 .5-3.5 .5 3.6 .5-3.3 .5 3.3 .5-2.2 .5 2.2 .5-.9 .5 .6 .5-2.2 .5 2.6 .5-2.5 .5 2.3 .5-1.7 .5 1.8 .5-1.7 .5 1.5 .5-3.4 .5 3.3 .5-2.5 .5 2.3 .5-3.5 .5 1.3 .5-3.6 .3 2.1 .2 0 .5-1.4 .5 2.9 .5-1.1 .5 2.4 .5-1.3 .5 2 .5-1.5 .5 1.5 .5-2.8 .5 3.1 .5-2.2 .5 2.2 .5-3.2 .5 3.3 .5-1.5 .5 1.3 .5-1.2 .5 1.6 .5-2 .5 1.8 .5-2.4 .5 2.6 .5-4 .5 4 .5-1.1 .5 .9 .5-3.6 .5 3.8 .5-3 .5 3 .5-1.5 .5 1.3 .5-2.7 .5 2.9 .5-1.9 .5 1.7 .5-3.5 .5 3.6 .5-3.5 .5 3.6 .5-1.5 .5 1.6 .5-2.3 .5 2.3 .5-2.5 .5 2.5 .5-2.5 .5 2.3 .5-1.4 .5 1.5 .5-2.5 .5 2.5 .5-1.5 .5 1.6 .5-2.4 .5 2.3 .5-4.2 .5 4.2 .5-3.1 .5 3 .5-2.8 .5 3 .5-3.2 .5 3.2 .5-3.3 .5 3.1 .5-2.5 .5 2.5 .5-4.4 .5 4.4 .5-3.1 .5 3.1 .5-3.1 .5 3.2 .5-1.6 .5 1.5 .5-1.8 .5 1.7 .5-1.4 .5 1.4 .5-1.6 .5 1.6 .5-1.3 .5 1.5 .5-3.8 .5 3.7 .5-3.1 .5 3 .5-1 .5 1.3 .5-2 .5 1.9 .5-2.8 .5 2.8 .5-3.1 .5 3.1 .5-3.3 .5 3.1 .5-2 .5 2.1 .5-2 .5 2.2 .5-2.3 .5 2.1 .5-2.1 .5 2.3 .5-3.9 .5 3.7 .5-3.9 .5 3.9 .5-1.8 .5 1.8 .5-4.4 .5 4.4 .5-4.3 .5 4.5 .5-2.4 .5 2.4 .5-2.5 .5 2.5 .5-2.1 .5 2.1 .5-2.2 .5 2 .5-2.9 .5 3.1 .5-1.9 .5 1.7 .5-4.1 .5 4.3 .5-1.9 .5 1.6 .5-1.1 .5 1.2 .5-4.1 .5 4.1 .5-2 .5 2 .5-2.8 .5 2.9 .5-3.3 .5 3.4 .5-1.7 .5 1.5 .5-4.4 .5 4.5 .5-1.6 .5 1.5 .5-3.1 .5 3.1 .5-3 .5 3.2 .5-1.8 .5 1.8 .5-.9 .5 .9 .5-2.4 .5 2.2 .5-1.8 .5 1.7 .5-2.4 .5 2.6 .5-2.1 .5 1.9 .5-1.3 .5 1.5 .5-1.8 .5 1.9 .5-2.5 .5 2.5 .5-1.7 .5 1.5 .5-1 .5 1.2 .5-1.3 .5 1.3 .5-.9 .5 .9 .5-2.5 .5 2.2 .5-2.7 .5 2.7 .5-2.1 .5 2.2 .5-1.6 .5 1.8 .5-1.4 .5 1.3 .5-3.4 .5 3.3 .5-3.1 .5 3.1 .5-2.7 .5 2.6 .5-1.6 .5 1.9 .5-1.8 .5 1.6 .5-2.6 .5 2.6 .5-2.2 .5 2.3 .5-1.7 .5 1.6 .5-2.8 .5 2.9 .5-3.5 .5 3.6 .5-2.3 .5 2.1 .5-1.5 .5 1.5 .5-2.8 .5 3 .5-2.1 .5 1.8 .5-3.1 .5 3.4 .5-2.8 .5 2.6 .5-2.6 .5 2.6 .5-3.5 .5 1.4 .5-4 .5 6.1 .5-3.4 .5 3.3 .5-2.6 .5 2.7 .5-1.4 .5 1.5 .5-3.5 .5 3.3 .5-3.8 .5 3.9 .5-3.6 .5 3.7 .5-2.1 .5 2.1 .5-3.1 .5 3 .5-2.1 .5 2.1 .5-2.2 .5 2.4 .5-2.4 .5 2.3 .5-1 .5 .9 .5-.8 .5 .9 .5-2.2 .5 2.3 .5-3.4 .5 3.3 .5-1.9 .5 1.9 .5-2.1 .5 1.9 .5-2.7 .5 .3 .5-8.8 .5-10.5 .5-22 .5-14.9 .3-3.4 .2-.2 .5 11.1 .5 11.6 .5 13.2 .5 5.9 .5 7.7 .5-.3 .5 4.6 .5-.2 .5 2.1 .5-1.1 .5 2.5 .5-1.3 .5 2.6 .5-1.3 .5 2 .5-1.2 .5 2 .5-1.1 .5 1.8 .5-1.1 .5 1.5 .5-.9 .5 1 .5-1.9 .5 2.3 .5-2 .5 2.3 .5-1.1 .5 1 .5-.3 .5 .4 .5-.8 .5 1.1 .5-.9 .5 1.1 .5-.7 .5 .5 .5-.5 .5 .8 .5-.7 .5 .6 .5-1.6 .5 1.6 .5-2.2 .5 2 .5-1.3 .5 1.4 .5-1.1 .5 1.2 .5-1.4 .5 1.4 .5-.8 .5 .8 .5-1.8 .5 1.8 .5-1.1 .5 1.1 .5-1.8 .5 2 .5-1.5 .5 1.2 .5-.9 .5 1.2 .5-2 .5 1.7 .5-2.3 .5 2.6 .5-1.9 .5 1.8 .5-2.9 .5 2.9 .5-2.3 .5 2.2 .5-1.3 .5 1.2 .5-4 .5 4.1 .5-1.8 .5 1.7 .5-3.3 .5 3.5 .5-2.8 .5 2.9 .5-1.8 .5 1.8 .5-3.1 .5 2.8 .5-2.6 .5 2.6 .5-.8 .5 1.1 .5-2.8 .5 2.7 .5-1.7 .5 1.5 .5-1 .5 1.1 .5-3.4 .5 3.5 .5-1.9 .5 1.7 .5-.8 .5 1.2 .5-3.3 .5 2.9 .5-2.4 .5 2.7 .5-3.8 .5 3.7 .5-3.7 .5 3.6 .5-1.6 .5 1.5 .5-1.5 .5 1.5 .5-1.7 .5 1.8 .5-2.8 .5 2.8 .5-1.7 .5 1.9 .5-2.9 .5 2.6 .5-3.9 .5 3.9 .5-3.2 .5 3.4 .5-1.9 .5 1.9 .5-4.4 .5 2.8 .5-4.6 .5 1 .5-4.2 .1 2.9 .4 .5 .5-1.5 .5 4 .5-2.1 .5 2.1 .5-1.5 .5 3.9 .5-3.5 .5 3.8 .5-2.7 .5 3 .5-.9 .5 .8 .5-1.1 .5 1.3 .5-.5 .5 .4 .5-.9 .5 1 .5-.6 .5 .9 .5-.8 .5 .7 .5-1.4 .5 1.3 .5-1.2 .5 1.2 .5-1.1 .5 1.4 .5-.7 .5 .5 .5-.7 .5 .9 .5-.7 .5 .6 .5-.9 .5-1.6 .5 1.4 .5 1.3 .5-1.4 .5 1.4 .5-1.1 .5 1.1 .5-1.6 .5 1.3 .5-1.1 .5 1.1 .5-.8 .5 .9 .5-.4 .5 .6 .5-1 .5 .7 .5-.8 .5 .8 .5-.5 .5 .6 .5-.3 .5 .4 .5-.7 .5 .8 .5-.7 .5 .6 .5-1 .5 .8 .5-.6 .5 .7 .5-.4 .5 .6 .5-1.2 .5 1 .5-.4 .5 .5 .5-.4 .5 .3 .5-.8 .5 .7 .5-1.2 .5 1.4 .5-1 .5 1 .5-1 .5 .8 .5-.3 .5 .6 .5-.8 .5 .5 .5-.6 .5 .6 .5-.6 .5 .8 .5-1.3 .5 1.2 .5-.9 .5 .9 .5-1 .5 1.1 .5-.5 .5 .4 .5-1 .5 1.1 .5-1 .5 .9 .5-.3 .5 .3 .5-1.1 .5 1.3 .5-.8 .5 .5 .5-.3 .5 .4 .5-1.2 .5 1.2 .5-1.2 .5-.1 .5-3.8 .5-7.5 .5-13.6 .5-11.7 .4-4.3 .1 0 .5 6 .5 7.3 .5 9.7 .5 5.3 .5 4.7 .5 1.1 .5 1.9 .5 .2 .5 1.6 .5-.4 .5 1.2 .5-.8 .5 1.6 .5-.3 .5 1.1 .5-1.4 .5 1.8 .5-1 .5 1.3 .5-.8 .5 1.2 .5-1.6 .5 1.7 .5-1.2 .5 1.5 .5-2.8 .5 2.8 .5-2.1 .5 2.2 .5-3.9 .5 4.1 .5-2.1 .5 2.2 .5-2.5 .5 2.6 .5-3.3 .5 3.3 .5-1.8 .5 1.8 .5-2 .5 1.8 .5-1.4 .5 1.5 .5-3 .5 3.2 .5-3.4 .5 3.2 .5-.8 .5 1 .5-1.3 .5 1.1 .5-3.1 .5 3.2 .5-2.8 .5 2.8 .5-4.1 .5 4.2 .5-2.9 .5 3 .5-3 .5 3 .5-3 .5 2.7 .5-2.4 .5 2.7 .5-3.4 .5 3.2 .5-2 .5 2.1 .5-1.1 .5 1.1 .5-1.8 .5 1.7 .5-2.7 .5 2.9 .5-4.6 .5 4.4 .5-3.6 .5 3.5 .5-1.2 .5 1.4 .5-2.8 .5 2.9 .5-1.7 .5 1.6 .5-2.6 .5 2.6 .5-1.3 .5 1.2 .5-1.2 .5 1.2 .5-2.8 .5 2.8 .5-2.1 .5 2.2 .5-2.8 .5 2.9 .5-1.9 .5 1.7 .5-2.6 .5 2.7 .5-3.3 .5 3.4 .5-2 .5 2 .5-1.1 .5 1.1 .5-3.1 .5 2.8 .5-1.7 .5 1.9 .5-1.4 .5 1.3 .5-2.5 .5 2.5 .5-.8 .5 .8 .5-2.1 .5 2.3 .5-1.2 .5 1 .5-2.8 .5 2.8 .5-1 .5 1.2 .5-2.7 .5 2.8 .5-1.9 .5 1.5 .5-2.8 .5 2.9 .5-2.5 .5 2.5 .5-2.2 .5 2.3 .5-2.6 .5 2.6 .5-.8 .5 .6 .5-1.6 .5 1.8 .5-2.8 .5 2.6 .5-1.9 .5 2 .5-1.8 .5 2 .5-2.5 .5 2.2 .5-1.1 .5 1.3 .5-2.1 .5 1.9 .5-1.7 .5 2 .5-1.5 .5 1.4 .5-3.3 .5 3.5 .5-2.2 .5 1.9 .5-2.8 .5 2.8 .5-1.4 .5 1.3 .5-2.3 .5 2.4 .5-1.2 .5 1.2 .5-1 .5 1.2 .5-1.9 .5 1.7 .5-2.2 .5 2.2 .5-2.5 .5 2.4 .5-.9 .5 1 .5-1.9 .5 2 .5-2.2 .5 2.3 .5-.8 .5 .5 .5-1.4 .5 1.4 .5-1.8 .5 1.8 .5-1.8 .5 2 .5-1.6 .5 1.7 .5-1.8 .5 1.8 .5-1.3 .5 1.2 .5-.9 .5 .8 .5-.7 .5 .7 .5-1.2 .5 1.2 .5-1.1 .5 1.2 .5-1.4 .5 1.4 .5-1.2 .5 1 .5-2 .5 2.3 .5-1.5 .5 1.4 .5-2.9 .5 2.8 .5-3.5 .5 3.6 .5-2.5 .5 2.4 .5-4.5 .5 4.4 .5-2.1 .5 2.1 .5-4.7 .5 4.7 .5-.9 .5 1.2 .5-4 .5 4 .5-1.7 .5 1.5 .5-3.7 .5 3.9 .5-4.4 .5 4.1 .5-1.2 .5 1.2 .5-3.7 .5 3.7 .5-1.3 .5 1.4 .5-.8 .5 .7 .5-1.7 .5 1.9 .5-1.1 .5 .9 .5-2.4 .5 2.7 .5-1.8 .5 .1 .5-4.8 .5-1.8 .5-4.4 .3 .5 .2 .4 .5-.4 .5 4.7 .5 1.4 .5 2.6 .5-.9 .5 2.1 .5-.7 .5 1.4 .5-.6 .5 1 .5-.8 .5 1.1 .5-2.1 .5 2.3 .5-1.6 .5 1.7 .5-1.3 .5 1.4 .5-.8 .5 .7 .5-1.6 .5 1.7 .5-2.1 .5 2.1 .5-2.2 .5 2.4 .5-1.5 .5 1.6 .5-1 .5 1 .5-1.7 .5 1.7 .5-1 .5 1.1 .5-.9 .5 .9 .5-.8 .5 .7 .5-.6 .5 .5 .5-.5 .5 .7 .5-1.2 .5 1.1 .5-1.3 .5 1.5 .5-2.8 .5 2.5 .5-3.6 .5 3.6 .5-1.3 .5 1.3 .5-2.5 .5 2.7 .5-2 .5 2 .5-1.3 .5 1.4 .5-2 .5 1.8 .5-1.9 .5 2.1 .5-2.2 .5 2 .5-.9 .5 .8 .5-1.1 .5 1.4 .5-1.4 .5 1.3 .5-1.5 .5 1.4 .5-.7 .5 .6 .5-.4 .5 .7 .5-.5 .5 .4 .5-.4 .5 .5 .5-1.3 .5 1.3 .5-1.6 .5 1.3 .5-1.7 .5 1.9 .5-1.4 .5 1.3 .5-1.1 .5 1 .5-2.7 .5 2.7 .5-1.4 .5 1.6 .5-1.3 .5 1.1 .5-2.4 .5 2.4 .5-1.6 .5 1.7 .5-1.3 .5 1.5 .5-3.6 .5 3.5 .5-2.9 .5 3.1 .5-2.4 .5 2.1 .5-1.9 .5 2 .5-2.1 .5 2.1 .5-.9 .5 .7 .5-2.3 .5 2.3 .5-3 .5 3.1 .5-1.6 .5 1.8 .5-1.9 .5 1.9 .5-.8 .5 .7 .5-.9 .5 .9 .5-.5 .5 .5 .5-.5 .5 .3 .5-.2 .5 .2 .5-.7 .5 .8 .5-.3 .5 .4 .5-1.1 .5 1.3 .5-1.4 .5 1 .5-.8 .5 .8 .5-.3 .5 .6 .5-1.1 .5 1 .5-1.8 .5 .7 .5-2 .5-.6 .4-.4 .1-.9 .5 1.5 .5-1 .5 2.7 .5 .1 .5 .7 .5-.4 .5 .6 .5-.3 .5 .7 .5-.8 .5 .8 .5-.5 .5 .5 .5-.5 .5 .7 .5-.7 .5 .7 .5-1.7 .5 1.8 .5-1.8 .5 1.7 .5-1.4 .5 1.6 .5-1.4 .5 1.2 .5-.9 .5 .9 .5-1.3 .5 1.5 .5-1 .5 1.1 .5-1.3 .5 1 .5-1.2 .5 1.3 .5-.9 .5 .9 .5-.4 .5 .3 .5-.6 .5 .6 .5-.8 .5 .8 .5-.6 .5 .7 .5-1.6 .5 1.8 .5-1.3 .5 1.1 .5-1.4 .5 1.5 .5-2.3 .5 2.3 .5-1.2 .5 1.2 .5-2.6 .5 2.4 .5-3.2 .5 3.2 .5-3.2 .5 3.2 .5-3 .5 3.2 .5-1.7 .5 1.5 .5-.5 .5 .7 .5-1.1 .5 1 .5-.6 .5 .5 .5-.7 .5 .7 .5-.3 .5 .6 .5-.8 .5 .8 .5-1.1 .5 1.1 .5-1.4 .5 1.1 .5-1.1 .5 .8 .5-.3 .5 .9 .5-2 .5 1.7 .5-.5 .5 .7 .5-1.4 .5 1.4 .5-1.5 .5 1.4 .5-1.8 .5 1.8 .5-1.3 .5 1.5 .5-.8 .5 .7 .5-1 .5 .9 .5-1.3 .5 1.3 .5-1.1 .5 .4 .5-3 .5-2.4 .5-7.2 .5-2.8 .3-.7 .2-1.1 .5 3.9 .5 2.6 .5 4.3 .5 .2 .5 3.5 .5-.6 .5 1.5 .5-.8 .5 1.4 .5-.4 .5 .9 .5-.8 .5 1.1 .5-.7 .5 .9 .5-1.4 .5 1.8 .5-1.2 .5 1 .5-2.4 .5 2.9 .5-2.7 .5 2.4 .5-.9 .5 1.3 .5-2.2 .5 2 .5-2.1 .5 2.3 .5-1.4 .5 1.6 .5-4.2 .5 4.1 .5-3.3 .5 3.1 .5-1.2 .5 1.5 .5-2.1 .5 2.1 .5-1.9 .5 2 .5-2.1 .5 1.9 .5-2.1 .5 2.2 .5-2.3 .5 2.2 .5-2 .5 2 .5-1.9 .5 1.9 .5-1.4 .5 1.6 .5-.9 .5 .6 .5-1.5 .5 1.6 .5-1.7 .5 1.8 .5-1.6 .5 1.6 .5-1.8 .5 1.9 .5-.9 .5 .9 .5-1.2 .5 1.3 .5-1.4 .5 1.2 .5-2.1 .5 1.9 .5-2.3 .5 2.6 .5-2.2 .5 2.2 .5-1.3 .5 1 .5-2.7 .5 2.8 .5-1.6 .5 1.5 .5-2.4 .5 2.4 .5-3.2 .5 3.2 .5-2.1 .5 2.2 .5-4.1 .5 4.2 .5-1.8 .5 1.6 .5-1.4 .5 1.7 .5-2.1 .5 1.8 .5-2.3 .5 2.6 .5-4.3 .5 4.3 .5-2.4 .5 2.3 .5-1.7 .5 1.7 .5-1.8 .5 1.7 .5-3.3 .5 3.2 .5-2.4 .5 2.7 .5-1.7 .5 1.5 .5-2.8 .5 2.9 .5-1.1 .5 1.1 .5-3.5 .5 3.5 .5-2.4 .5 2.3 .5-3 .5 2.9 .5-4.7 .5 5 .5-1.7 .5 1.7 .5-2.5 .5 2.3 .5-3.3 .5 3.5 .5-4.9 .5 4.8 .5-3 .5 2.8 .5-4.4 .5 4.4 .5-4 .5 4 .5-3.6 .5 3.6 .5-1.2 .5 1.2 .5-3.4 .5 3.4 .5-3.3 .5 3.6 .5-1.1 .5 1.1 .5-2.6 .5 2.4 .5-1.1 .5 1.2 .5-4.1 .5 4.2 .5-4.4 .5 4.4 .5-4.4 .5 4.1 .5-3.7 .5 1.9 .5-.9 .5 3 .5-3.3 .5 3 .5-3 .5 3 .5-2.1 .5 2.4 .5-1.8 .5 1.8 .5-2.8 .5 2.6 .5-1.3 .5 1.4 .5-1.7 .5 1.7 .5-1 .5 1.1 .5-1.1 .5 1.1 .5-2.6 .5 2.4 .5-1.9 .5 2 .5-1.9 .5 1.8 .5-2.9 .5 2.9 .5-2.6 .5 2.5 .5-1.2 .5 1.2 .5-3 .5 3.1 .5-1.6 .5 1.8 .5-3.4 .5 3.4 .5-1.8 .5 1.5 .5-.7 .5 .8 .5-1.4 .5 1.5 .5-1 .5 1 .5-2.4 .5 2.5 .5-2.6 .5 2.4 .5-2.3 .5 2.5 .5-1.9 .5 1.9 .5-1.4 .5 1.2 .5-1.5 .5 1.7 .5-1.1 .5 1 .5-1.2 .5 1.1 .5-.6 .5 .8 .5-.7 .5 .7 .5-1.2 .5 1 .5-.9 .5 1.1 .5-.7 .5 .7 .5-1.6 .5 1.3 .5-1 .5 1 .5-.7 .5 .8 .5-.5 .5 .5 .5-.8 .5 1 .5-.9 .5 .7 .5-.5 .5 .6 .5-.7 .5 .6 .5-1.3 .5 1.4 .5-1.8 .5 1.8 .5-.9 .5 .8 .5-1.1 .5 1 .5-2.2 .5 1.7 .5-.8 .5 .9 .5-1 .5 1.5 .5-4.4 .5 4.4 .5-1.4 .5 1.4 .5-2.3 .5 2.3 .5-2.3 .5 2.4 .5-1.8 .5 1.7 .5-1.6 .5 1.7 .5-.8 .5 .8 .5-.8 .5 .9 .5-.9 .5 .6 .5-1.2 .5 1.1 .5-2.1 .5-.8 .5-3.9 .5-.3 .2 0 .3-.4 .5 2 .5 .5 .5 2.3 .5 .5 .5 1 .5-.3 .5 .9 .5-1 .5 1.2 .5-.9 .5 .9 .5-.7 .5 .9 .5-.3 .5 .3 .5-.8 .5 .8 .5-.7 .5 1 .5-1 .5 1 .5-.7 .5 .6 .5-.8 .5 .8 .5-.3 .5 .3 .5-.5 .5 .9 .5-1.2 .5 1 .5-.5 .5 .7 .5-1.6 .5 1.4 .5-2.8 .5 2.8 .5-3.5 .5 3.5 .5-4.1 .5 4.2 .5-1.4 .5 1.5 .5-1.7 .5 1.5 .5-3.7 .5 3.6 .5-1.1 .5 1.3 .5-2.8 .5 2.7 .5-3.5 .5 3.5 .5-2.2 .5 2.1 .5-1.4 .5 1.7 .5-2.7 .5 2.6 .5-2.9 .5 3 .5-3.8 .5 3.5 .5-1.6 .5 1.9 .5-4.5 .5 4.4 .5-4.1 .5 4.2 .5-3.2 .5 3.2 .5-1.9 .5 1.9 .5-4.5 .5 4.3 .5-3.3 .5 3.6 .5-3 .5 2.6 .5-1.3 .5 1.7 .5-5.8 .5 5.4 .5-2.4 .5 2.4 .5-3.6 .5 3.7 .5-1.9 .5 1.8 .5-2.2 .5 2.3 .5-3.4 .5 3.6 .5-2.1 .5 1.9 .5-2.7 .5 2.9 .5-2.3 .5 2.2 .5-3.4 .5 3.5 .5-4.2 .5 3.9 .5-3.6 .5 3.9 .5-2.6 .5 2.5 .5-1.7 .5 1.7 .5-3.4 .5 3.6 .5-2.1 .5 1.8 .5-3.8 .5 3.8 .5-2.7 .5 2.9 .5-1.5 .5 1.3 .5-2.7 .5 2.8 .5-4.5 .5 4.3 .5-2.8 .5 2.9 .5-4.5 .5 4.5 .5-3 .5 3.2 .5-1.9 .5 1.7 .5-2.2 .5 1.7 .5-5.7 .5 3.2 .5-5.5 .4 3.7 .1 .1 .5-3.6 .5 5.2 .5-.3 .5 2 .5-1.4 .5 1.9 .5-.9 .5 1.1 .5-1.6 .5 1.9 .5-3.1 .5 3 .5-3.1 .5 3.5 .5-2.2 .5 2.2 .5-2.5 .5 2.5 .5-1.5 .5 1.5 .5-2.6 .5 2.5 .5-1.5 .5 1.7 .5-1 .5 .8 .5-.4 .5 .8 .5-1.4 .5 1 .5-.6 .5 .8 .5-1.5 .5 1.5 .5-.7 .5 .6 .5-.8 .5 .9 .5-.8 .5 .8 .5-1.5 .5 1.4 .5-1.9 .5 2 .5-.7 .5 .9 .5-1.4 .5 1.4 .5-1.2 .5 .9 .5-.5 .5 .6 .5-2.3 .5 2.5 .5-1.2 .5 1 .5-1.4 .5 1.6 .5-1.9 .5 1.9 .5-1.2 .5 1.2 .5-1.2 .5 1 .5-1.6 .5 1.7 .5-.9 .5 .9 .5-1.6 .5 1.4 .5-1.6 .5 1.8 .5-2.5 .5 2.4 .5-1.4 .5 1.3 .5-1.2 .5 1.2 .5-1.1 .5 1.2 .5-1.8 .5 1.9 .5-2.2 .5 2.3 .5-1.9 .5 1.8 .5-1.3 .5 1.1 .5-.8 .5 1 .5-1.5 .5 1.4 .5-2 .5 1.9 .5-1.3 .5 1.4 .5-2.7 .5 2.6 .5-1.1 .5 1.4 .5-2.8 .5 2.8 .5-2.3 .5 2.2 .5-1.8 .5 1.8 .5-3.5 .5 3.4 .5-3.4 .5 3.6 .5-2.7 .5 2.7 .5-2.7 .5 2.4 .5-1.1 .5 1.2 .5-1.7 .5 1.6 .5-4.2 .5 4.3 .5-1.9 .5 2.1 .5-4.3 .5 4 .5-3.6 .5 3.9 .5-2.1 .5 1.8 .5-2.6 .5 2.6 .5-2.9 .5 2.9 .5-1.2 .5 1.3 .5-1.8 .5 2 .5-2.4 .5 2.3 .5-1.3 .5 1.1 .5-.5 .5 .6 .5-1.6 .5 1.6 .5-1.2 .5 1.3 .5-2.3 .5 2.3 .5-1.5 .5 1.3 .5-.7 .5 .7 .5-.4 .5 .4 .5-1 .5 1.2 .5-1.4 .5 1.5 .5-1.3 .5 1.3 .5-1.3 .5 1.1 .5-.5 .5 .6 .5-1.6 .5 1.4 .5-.6 .5 .9 .5-.7 .5 .7 .5-.6 .5 .3 .5-.6 .5 .8 .5-.5 .5 .4 .5-.5 .5 .6 .5-.6 .5 .5 .5-1.1 .5 1.3 .5-1 .5 .7 .5-1.1 .5 1.4 .5-1 .5 1 .5-1.1 .5 .8 .5-.8 .5 1 .5-1.6 .5 1.6 .5-1.1 .5 .6 .5-.7 .5 1 .5-.6 .5 .7 .5-1.8 .5 1.9 .5-2 .5 2.1 .5-1 .5 1 .5-2.1 .5 1.9 .5-1.6 .5 1.7 .5-.6 .5-.9 .5 .7 .5 .7 .5-.8 .5 .7 .5-.4 .5 .4 .5-.8 .5 .9 .5-1.3 .5 1.2 .5-1.9 .5 2.3 .5-2.1 .5 1.9 .5-.9 .5 .8 .5-1.7 .5 1.7 .5-.6 .5 .8 .5-2.6 .5 2.4 .5-2.6 .5 2.6 .5-2.6 .5 2.6 .5-2.5 .5 2.6 .5-3.2 .5 3.3 .5-1.5 .5 1.4 .5-3.7 .5 3.7 .5-4.4 .5 4.3 .5-3.9 .5 3.8 .5-1.3 .5 1.4 .5-3.4 .5 3.5 .5-4.2 .5 4 .5-3.1 .5 3.2 .5-1.8 .5 1.8 .5-2.2 .5 2.2 .5-1.2 .5 1.1 .5-2.1 .5 2.4 .5-1.8 .5 1.5 .5-1.5 .5 1.6 .5-1.5 .5 1.7 .5-4.3 .5 4.3 .5-3.2 .5 2.9 .5-4.6 .5 4.6 .5-3.3 .5 3.4 .5-2.5 .5 2.5 .5-3 .5 3.1 .5-1.7 .5 1.6 .5-1.3 .5 1.2 .5-1.9 .5 2 .5-3.5 .5 3.4 .5-2 .5 2.3 .5-1.2 .5 1.1 .5-1.1 .5 1.1 .5-1.1 .5 1.1 .5-.8 .5 .8 .5-1 .5 1 .5-.8 .5 .9 .5-1.1 .5 .9 .5-.6 .5 .7 .5-.8 .5 .6 .5-.6 .5 .7 .5-.9 .5 1.1 .5-1.4 .5 1.3 .5-2.1 .5 2 .5-.9 .5 1 .5-.8 .5 .7 .5-1.8 .5 1.9 .5-1.6 .5 1.4 .5-1.5 .5 1.6 .5-2.3 .5 2.3 .5-.6 .5 .5 .5-.4 .5 .7 .5-.9 .5 .8 .5-.9 .5 1 .5-1.1 .5 1.1 .5-1.2 .5 1.1 .5-.5 .5 .6 .5-1.9 .5 1.8 .5-.7 .5 .8 .5-1.2 .5 .9 .5-.8 .5 .9 .5-.9 .5 .8 .5-.6 .5-.2 .5-2 .5-2.3 .5-7.9 .5-11.7 .5-21.6 .5-29.1 .5-37.3 .5-34.6 .5-28.4 .5-8.2 .5 5.4 .5 15 .5 17.8 .5 23.8 .5 21.8 .5 23.4 .5 17.8 .5 16.5 .5 11.2 .5 9.3 .5 4.2 .5 5.6 .5 2.1 .5 2.4 .5-.7 .5 2.5 .5 0 .5-.4 .5-2.7 .5 3.4 .5-.7 .5 3.5 .5-2.9 .5 3.2 .5-2.7 .5 3.1 .5-2.2 .5 2.5 .5-2.8 .5 3.1 .5-1.2 .5 1.4 .5-2.3 .5 2.9 .5-3.8 .5 3.7 .5-1.1 .5 1.4 .5-4.2 .5 4.3 .5-1.1 .5 1 .5-2.5 .5 2.8 .5-3.7 .5 3.7 .5-1.9 .5 1.9 .5-1.4 .5 1.5 .5-1.8 .5 1.7 .5-2.3 .5 2.5 .5-3.6 .5 3.4 .5-2.1 .5 2.4 .5-1.2 .5 1.1 .5-2.6 .5 2.5 .5-1.1 .5 1.1 .5-2.4 .5 2.4 .5-3.5 .5 3.5 .5-2.7 .5 2.7 .5-.6 .5 .6 .5-.9 .5 1.1 .5-.7 .5 .7 .5-.8 .5 .8 .5-.9 .5 1 .5-1.9 .5 1.6 .5-1.2 .5 1.5 .5-.6 .5 .3 .5-.4 .5 .5 .5-.7 .5 .8 .5-.7 .5 .5 .5-.4 .5 .4 .5-.3 .5 .5 .5-.7 .5 .5 .5-.6 .5 .8 .5-.6 .5 .5 .5-.6 .5 .8 .5-1 .5 .8 .5-.6 .5 .9 .5-1.1 .5 .7 .5-1.1 .5 1.4 .5-2 .5 1.9 .5-.6 .5 .7 .5-1.9 .5 1.9 .5-1.3 .5 1.1 .5-1.3 .5 1.5 .5-.8 .5 .8 .5-1.9 .5 1.9 .5-1.2 .5 1.1 .5-2 .5 2.1 .5-2.7 .5 2.5 .5-1.4 .5 1.6 .5-2 .5 1.4 .5-1.6 .5-.9 .5-6.3 .5-1.2 .5-3 .5 2.4 .5 1.6 .5 3.5 .5 1 .5 2.1 .5-.4 .5 1.3 .5-.6 .5 1.2 .5-1.5 .5 1.6 .5-.6 .5 1.1 .5-1.4 .5-1.2 .5 1.6 .5 .5 .5-2.5 .5-1.4 .5-2.6 .3 .7 .2 .2 .5 .1 .5 2.2 .5 .4 .5 2 .5-.9 .5 1.6 .5-1 .5 1.7 .5-.7 .5 .9 .5-1.2 .5 1 .5-.5 .5 .7 .5-1.1 .5 1.4 .5-1.3 .5 1.3 .5-1.3 .5 1.2 .5-1.3 .5 1.4 .5-1.9 .5 2.1 .5-1.3 .5 1.2 .5-.7 .5 .8 .5-1.5 .5 1.4 .5-1.7 .5 1.7 .5-1.5 .5 1.7 .5-.5 .5 .5 .5-2.2 .5 2.2 .5-2 .5 1.9 .5-2.1 .5 2.3 .5-1.3 .5 1.1 .5-2 .5 2.1 .5-2.2 .5 2.1 .5-3 .5 3.2 .5-2.3 .5 2.3 .5-1.6 .5 1.5 .5-3.1 .5 3 .5-1 .5 1.1 .5-4.4 .5 4.4 .5-1.8 .5 1.9 .5-2.3 .5 2.2 .5-4.3 .5 4.3 .5-3.3 .5 3.3 .5-4 .5 4 .5-3 .5 2.9 .5-4.5 .5 4.6 .5-3.4 .5 3.3 .5-3.5 .5 3.4 .5-1.1 .5 1.1 .5-2.1 .5 2.3 .5-3.3 .5 3.3 .5-.9 .5 .9 .5-1 .5 .8 .5-1.5 .5 1.5 .5-1.7 .5 2 .5-1.1 .5 .8 .5-.7 .5 .7 .5-2.1 .5 2.1 .5-2 .5 1.3 .5-2.3 .5-.9 .5-2.1 .1 1.3 .4 .1 .5-.7 .5 2.7 .5-1.5 .5 2.8 .5-1.6 .5 2.3 .5-1.6 .5 1.6 .5-1.3 .5 1.6 .5-.8 .5 .7 .5-.8 .5 1 .5-.8 .5 1 .5-1 .5 1 .5-1.3 .5 1.3 .5-2 .5 2.1 .5-.9 .5 .9 .5-3 .5 2.9 .5-2.6 .5 2.5 .5-1.7 .5 1.8 .5-2.5 .5 2.7 .5-2.1 .5 2 .5-4.1 .5 4.2 .5-1.9 .5 1.7 .5-1.9 .5 1.9 .5-3 .5 3 .5-3.1 .5 3.4 .5-2.1 .5 1.8 .5-2.1 .5 2.1 .5-2.6 .5 2.7 .5-1.7 .5 1.8 .5-2.7 .5 2.7 .5-2 .5 1.8 .5-2.5 .5 2.6 .5-1.9 .5 2.1 .5-4.6 .5 4.5 .5-3.6 .5 3.5 .5-3.7 .5 3.9 .5-3.2 .5 3.2 .5-1.2 .5 .9 .5-1.8 .5 2.1 .5-2.8 .5 2.6 .5-2.1 .5 2.3 .5-2.3 .5 2.1 .5-4.2 .5 4.1 .5-3 .5 3.1 .5-2.3 .5 2.2 .5-3.1 .5 3.1 .5-3.2 .5 3.2 .5-2.8 .5 2.8 .5-1.7 .5 1.7 .5-3.5 .5 3.8 .5-3.2 .5 3 .5-2 .5 2.1 .5-2.2 .5 2.2 .5-1.6 .5 1.7 .5-1.5 .5 1.3 .5-1.7 .5 1.9 .5-3.2 .5 3 .5-3.3 .5 3.2 .5-2.8 .5 3 .5-1.8 .5 .6 .5 .2 .5 1 .5-3.3 .5 3.2 .5-3.1 .5 3.2 .5-2.3 .5 2.2 .5-2.1 .5 2 .5-3.8 .5 3.8 .5-2.4 .5 2.8 .5-3.8 .5 3.7 .5-3.8 .5 3.8 .5-2.2 .5 2.1 .5-3.6 .5 3.5 .5-4.8 .5 4.7 .5-1.1 .5 1.4 .5-3.2 .5 3.3 .5-3.5 .5 3.2 .5-3.6 .5 3.8 .5-2.1 .5 1.8 .5-1.8 .5 2.1 .5-3 .5 2.7 .5-2.7 .5 1.4 .5-1.2 .5 2.5 .5-2.2 .5 2.4 .5-3.7 .5 3.8 .5-2.8 .5 2.6 .5-2.5 .5 2.7 .5-2 .5 1.7 .5-1 .5 1 .5-3.8 .5 4.2 .5-4.2 .5 4.1 .5-2.3 .5 2 .5-2 .5 2 .5-4.2 .5 4.5 .5-3.2 .5 2.9 .5-4.2 .5 4.5 .5-2.5 .5 2.4 .5-4.1 .5 4.3 .5-4.6 .5 4.4 .5-2.6 .5 2.6 .5-3.3 .5 3.4 .5-2.2 .5 2 .5-1.6 .5 1.8 .5-1 .5 .7 .5-1.8 .5 1.8 .5-4.1 .5 4.4 .5-2.8 .5 2.7 .5-2.4 .5 2.3 .5-4.5 .5 4.7 .5-2.2 .5 1.9 .5-2.4 .5 2.5 .5-1.9 .5 1.9 .5-3.3 .5 3.4 .5-3.2 .5 3.4 .5-2.9 .5 2.8 .5-1 .5 .9 .5-1.6 .5 1.7 .5-1.4 .5 1.2 .5-1.4 .5 1.3 .5-2.5 .5 2.5 .5-2.4 .5 2.7 .5-1.3 .5 1 .5-2.4 .5 2.5 .5-3.7 .5 3.7 .5-1.4 .5 1.3 .5-.9 .5 1 .5-1.2 .5 1.2 .5-2.7 .5 2.6 .5-2.3 .5 2.6 .5-1.2 .5 1.2 .5-2 .5 1.7 .5-2.5 .5 2.8 .5-2 .5 1.7 .5-.7 .5 .8 .5-3.4 .5 3.4 .5-2.7 .5 2.9 .5-3.7 .5 3.4 .5-4.7 .5 4.8 .5-3.8 .5 3.7 .5-1 .5 1 .5-1.2 .5 1.3 .5-3.2 .5 1.8 .5-4.5 .5-3.1 .5-7.6 .5-.1 .5-2.3 .5 7.5 .5-.9 .5 6.9 .5-1.7 .5 4.1 .5-.5 .5 1.6 .5-2.5 .5 3.1 .5-2.2 .5 2.2 .5-.6 .5 .9 .5-1.7 .5 2.1 .5-3.1 .5 3.4 .5-2.4 .5 2.2 .5-2.3 .5 2.4 .5-1.7 .5 1.8 .5-2.2 .5 2.4 .5-2.4 .5 2.6 .5-2.8 .5 2.5 .5-1.7 .5 2.1 .5-1.8 .5 1.7 .5-1.6 .5 1.7 .5-2.3 .5 2.2 .5-1 .5 .9 .5-1 .5 1.1 .5-1.8 .5 1.7 .5-.9 .5 .9 .5-.7 .5 .8 .5-2.1 .5 2 .5-.9 .5 1 .5-1.1 .5 1 .5-.8 .5 1 .5-1.4 .5 1.5 .5-1.2 .5 1 .5-.5 .5 .4 .5-.3 .5 .6 .5-1.4 .5 1.2 .5-.9 .5 1 .5-.5 .5 .4 .5-1.7 .5 1.6 .5-.7 .5 1 .5-1.3 .5 1.3 .5-.8 .5 .6 .5-.7 .5 .7 .5-1.3 .5 1.2 .5-.6 .5 .9 .5-1.4 .5 1.4 .5-1.7 .5 1.6 .5-1.8 .5 1.8 .5-2.2 .5 2.3 .5-2.3 .5 2 .5-2 .5 2 .5-1.5 .5 1.8 .5-.9 .5 .6 .5-.4 .5 .6 .5-.9 .5 .7 .5-.3 .5 .5 .5-1.1 .5 1 .5-.5 .5 .6 .5-1.5 .5 1.6 .5-1.9 .5 1.8 .5-.8 .5 .9 .5-1.3 .5 1 .5-.4 .5 .6 .5-.9 .5 1 .5-1.5 .5 1.5 .5-1.2 .5 .9 .5-2.3 .5 1.2 .5 .5 .5 .7 .5-.4 .5 .6 .5-.5 .5 .4 .5-.6 .5 .5 .5-.7 .5 .9 .5-.8 .5 .6 .5-.6 .5 .7 .5-.5 .5 .3 .5-.3 .5 .4 .5-1 .5 1.1 .5-.9 .5 .7 .5-1 .5 1.2 .5-2.3 .5 2.1 .5-1.6 .5 1.8 .5-.8 .5 .6 .5-2.2 .5 2.2 .5-1.5 .5 1.7 .5-1.2 .5 1.1 .5-2.8 .5 2.7 .5-.6 .5 .6 .5-1.6 .5 2 .5-2 .5 1.8 .5-1.6 .5 1.7 .5-2.2 .5 1.9 .5-1.1 .5 1.3 .5-1.3 .5 1.4 .5-2.2 .5 2 .5-1.7 .5 1.8 .5-2.1 .5 2.2 .5-.7 .5 .6 .5-.6 .5 .6 .5-1.7 .5 1.6 .5-1.3 .5 1.5 .5-.8 .5 .6 .5-.4 .5 .5 .5-.6 .5 .6 .5-1.4 .5 1.5 .5-1.9 .5 1.8 .5-.6 .5 .7 .5-.8 .5 .8 .5-.6 .5 .6 .5-1.2 .5 1.2 .5-1.7 .5 1.6 .5-1.4 .5 1.2 .5-1.9 .5 1.9 .5-.7 .5 .9 .5-1.2 .5 1.3 .5-1.1 .5 .8 .5-.6 .5 .7 .5-1.3 .5 1.5 .5-1.2 .5 1.1 .5-1.8 .5 1.9 .5-1.5 .5 1.5 .5-2.1 .5 1.9 .5-2.2 .5 2.4 .5-2.4 .5 2.2 .5-2.2 .5 2.3 .5-3.4 .5 3.1 .5-2.7 .5 .5 .5-8.9 .5-3.7 .5-13.5 .5 1 .5 .2 .5 8.1 .5 1.9 .5 7.8 .5-.6 .5 5.3 .5-3.6 .5 4.9 .5-.9 .5 1.7 .5-1.1 .5 1.6 .5-1.4 .5 2.1 .5-3.4 .5 3.7 .5-1.9 .5 2.1 .5-4.2 .5 4.4 .5-1.6 .5 1.9 .5-2.9 .5 3 .5-3.1 .5 3 .5-4 .5 4.1 .5-3.3 .5 3.7 .5-4.7 .5 4.6 .5-3.7 .5 3.6 .5-1.4 .5 1.6 .5-4.6 .5 4.7 .5-1.8 .5 1.5 .5-1.5 .5 1.6 .5-4 .5 4.1 .5-2 .5 2.2 .5-1.9 .5 1.6 .5-2.1 .5 2.3 .5-3 .5 2.8 .5-2.2 .5 2.4 .5-2.9 .5 2.7 .5-2.2 .5 2.3 .5-1.7 .5 1.7 .5-3.4 .5 3.6 .5-2 .5 1.9 .5-2 .5 1.8 .5-1.9 .5 2 .5-3 .5 3 .5-2.9 .5 3.1 .5-3.9 .5 3.9 .5-1.3 .5 1.1 .5-1 .5 1 .5-1.9 .5 1.8 .5-1.5 .5 1.5 .5-1.5 .5 1.5 .5-1.2 .5 1.3 .5-1.6 .5 1.5 .5-3.8 .5 4.1 .5-1.4 .5 1.2 .5-.9 .5 1.1 .5-1.7 .5 1.5 .5-2.6 .5 2.6 .5-1.4 .5 1.5 .5-3.6 .5 3.7 .5-1.6 .5 1.3 .5-2.2 .5 2.5 .5-3.1 .5 2.8 .5-1.1 .5 1.4 .5-3.7 .5 3.4 .5-4.3 .5 4.5 .5-1.6 .5 1.6 .5-2.5 .5 2.5 .5-2 .5 1.8 .5-2.8 .5 3.1 .5-2.9 .5 2.7 .5-3.2 .5 3.5 .5-4.5 .5 4.4 .5-2.1 .5 2.1 .5-3.7 .5 3.5 .5-3.1 .5 3.3 .5-1.9 .5 1.8 .5-2.3 .5 2.2 .5-3.4 .5 3.4 .5-3.2 .5 3.3 .5-1.2 .5 1.3 .5-3 .5 2.8 .5-.9 .5 .9 .5-2.1 .5 2 .5-3.3 .5 3.5 .5-3.7 .5 3.8 .5-3.7 .5 3.5 .5-1.8 .5 1.9 .5-3.4 .5 3.5 .5-1.8 .5 1.7 .5-1.6 .5 1.4 .5-1.6 .5 2 .5-2.6 .5 2.4 .5-.9 .5 1 .5-1.2 .5 1.1 .5-1.5 .5 1.4 .5-1.3 .5 1.4 .5-1.7 .5 1.8 .5-1.4 .5 1.3 .5-1.2 .5 1.2 .5-1.7 .5 1.8 .5-2.6 .5 2.5 .5-2.8 .5 2.6 .5-.6 .5 .9 .5-1.8 .5 1.6 .5-2.1 .5 2.2 .5-3.3 .5 3.4 .5-1.9 .5 1.9 .5-2.5 .5 2.5 .5-3.1 .5 2.8 .5-1.6 .5 1.6 .5-1.4 .5 1.8 .5-1.9 .5 1.8 .5-1.6 .5 1.6 .5-1.1 .5 1.1 .5-1.5 .5 1.4 .5-.6 .5 .7 .5-.7 .5 .7 .5-1.4 .5 1.4 .5-1.6 .5 1.4 .5-.8 .5 .7 .5-.5 .5 .6 .5-.9 .5 .9 .5-.4 .5 .6 .5-.5 .5 .3 .5-.8 .5 1 .5-.9 .5 .6 .5-.5 .5 .8 .5-.6 .5 .6 .5-1.2 .5 1.2 .5-1.3 .5 1.1 .5-.9 .5 1.1 .5-1 .5 .8 .5-.6 .5 .7 .5-1.6 .5 1.4 .5-1.2 .5 1.5 .5-.7 .5 .7 .5-1.9 .5 1.9 .5-1.8 .5 1.5 .5-1 .5 1 .5-.6 .5 .9 .5-1.1 .5 1 .5-.6 .5 .5 .5-.6 .5 .5 .5-.3 .5 .4 .5-2.2 .5 2.2 .5-1.2 .5 1.2 .5-1.8 .5 2.1 .5-1 .5 .7 .5-1.3 .5 1.5 .5-.7 .5 .7 .5-.9 .5 .8 .5-.8 .5 .9 .5-1 .5 .8 .5-1.3 .5 .3 .5-2.5 .5-.2 .4-.1 .1-1.4 .5 1.6 .5-.3 .5 2.1 .5-1.9 .5 2.9 .5-1.4 .5 1.7 .5-1.6 .5 1.8 .5-1.5 .5 1.6 .5-2 .5 2 .5-1.2 .5 1.2 .5-.5 .5 .7 .5-.9 .5 1 .5-1.7 .5 1.6 .5-2.3 .5 2.1 .5-.9 .5 .9 .5-2.3 .5 2.6 .5-1.4 .5 1.2 .5-2.9 .5 3.2 .5-3.7 .5 3.6 .5-3 .5 3 .5-1.7 .5 1.7 .5-2 .5 1.8 .5-3.4 .5 3.6 .5-3 .5 2.8 .5-3.2 .5 3.4 .5-1.9 .5 1.7 .5-2.8 .5 2.9 .5-1 .5 1.1 .5-2 .5 2.1 .5-2.7 .5 2.5 .5-1.2 .5 1.3 .5-2.1 .5 2 .5-1.3 .5 1.2 .5-3 .5 3 .5-4 .5 4.4 .5-3.9 .5 3.7 .5-3.4 .5 3.4 .5-1.9 .5 1.7 .5-3 .5 3.3 .5-4.6 .5 4.4 .5-1.5 .5 1.5 .5-4.9 .5 2 .5 .6 .5 2.5 .5-2.4 .5 2.3 .5-4.6 .5 4.4 .5-1.6 .5 1.9 .5-4.8 .5 4.7 .5-4.6 .5 4.4 .5-4.7 .5 4.9 .5-3.4 .5 3.5 .5-3.6 .5 3.4 .5-4.4 .5 4.5 .5-3.4 .5 3.5 .5-1.4 .5 1.4 .5-1.9 .5 1.7 .5-3.6 .5 3.5 .5-1.1 .5 1.2 .5-1.4 .5 1.3 .5-.7 .5 1 .5-1.7 .5 1.7 .5-.7 .5 .5 .5-1.3 .5 1.4 .5-1.6 .5 1.6 .5-1.3 .5 1.3 .5-1.3 .5 1.1 .5-.5 .5 .7 .5-.7 .5 .6 .5-1.1 .5 1.3 .5-1.1 .5 1 .5-1.8 .5 1.8 .5-1 .5 .9 .5-1.5 .5 1.6 .5-2.1 .5 2.1 .5-.9 .5 .9 .5-.7 .5 .5 .5-1.6 .5 1.6 .5-.7 .5 .9 .5-2.4 .5 2.2 .5-1.9 .5 2.1 .5-1.2 .5 1.2 .5-.9 .5 1 .5-1.1 .5 .9 .5-.5 .5 .8 .5-1.3 .5 1.1 .5-.6 .5 .6 .5-1.1 .5 1.2 .5-.9 .5 .8 .5-.7 .5 .8 .5-.9 .5 .9 .5-1.5 .5 1.5 .5-1.1 .5 1.1 .5-.5 .5 .4 .5-.7 .5 .5 .5-1.2 .5 1.5 .5-.7 .5 .7 .5-1.7 .5 1.4 .5-.7 .5 .7 .5-1 .5 1.3 .5-.9 .5 .6 .5-.4 .5 .6 .5-.6 .5 .6 .5-.6 .5 .6 .5-.8 .5 .7 .5-.4 .5 .4 .5-.7 .5 .7 .5-.8 .5 .9 .5-1.5 .5 1.6 .5-1.3 .5 1 .5-1.2 .5 1.2 .5-1.8 .5 2.2 .5-1.8 .5 1.7 .5-2.7 .5 2.7 .5-1.3 .5 1.3 .5-1.2 .5 1.1 .5-3.6 .5 3.6 .5-3 .5 2.8 .5-1.9 .5 2.2 .5-1.4 .5 1.2 .5-1.1 .5 1.2 .5-2.9 .5 2.8 .5-1.2 .5 1.4 .5-2.5 .5 2.3 .5-2.2 .5-1.8 .5-12.1 .5-12.9 .5-22.9 .5-9.5 .1-.2 .4 .8 .5 14.8 .5 9.3 .5 14.3 .5 5 .5 5.7 .5-1.3 .5 5 .5-1 .5 2.7 .5-2.2 .5 3.5 .5-.4 .5 1.4 .5-3 .5 3.9 .5-2.7 .5 3.4 .5-.5 .5 1 .5-.3 .5 .9 .5-.8 .5 1.2 .5-1.1 .5 1.2 .5-.5 .5 .6 .5-.5 .5 .8 .5-.7 .5 .8 .5-1.6 .5 1.5 .5-1 .5 1.1 .5-1 .5 1.3 .5-1.8 .5 1.7 .5-1.3 .5 1.3 .5-.5 .5 .7 .5-1.5 .5 1.4 .5-.5 .5 .7 .5-1.1 .5 .9 .5-.6 .5 .6 .5-1.4 .5 1.3 .5-.6 .5 .6 .5-.4 .5 .4 .5-.7 .5 .8 .5-1 .5 .9 .5-1.7 .5 1.8 .5-1.7 .5 1.6 .5-1.8 .5 2 .5-.9 .5 .8 .5-2.4 .5 2.6 .5-2.2 .5 1.9 .5-2 .5 2.1 .5-1.8 .5 2 .5-1.2 .5 1 .5-2.3 .5 2.4 .5-1.9 .5 1.9 .5-3.4 .5 3.2 .5-2.7 .5 2.8 .5-3.7 .5 3.7 .5-1.5 .5 1.4 .5-1 .5 1.4 .5-3.2 .5 3.1 .5-4.1 .5 3.9 .5-1.9 .5 1.8 .5-2.2 .5 2.4 .5-1.3 .5 1.4 .5-2.7 .5 2.4 .5-2.6 .5 2.6 .5-1.2 .5 1.2 .5-1.6 .5 1.9 .5-1.5 .5 1.3 .5-1 .5 1.2 .5-1 .5 .9 .5-1.6 .5 1.6 .5-1.8 .5 1.8 .5-.9 .5 .9 .5-.8 .5 .7 .5-.4 .5 .5 .5-1.1 .5 1.1 .5-1.3 .5 1.2 .5-.9 .5 .9 .5-1.6 .5 1.6 .5-1.7 .5 1.8 .5-1.1 .5 1 .5-3.4 .5 3.5 .5-4.7 .5 2.5 .5-1.4 .5 3.6 .5-2.4 .5 2.4 .5-1.7 .5 1.5 .5-1.6 .5 1.9 .5-2.2 .5 2 .5-2.8 .5 3 .5-1.5 .5 1.2 .5-.7 .5 1 .5-3 .5 2.8 .5-1.6 .5 1.6 .5-1.1 .5 1.3 .5-2.8 .5 2.6 .5-.8 .5 .8 .5-2 .5 .9 .5-4.3 .5 2.7 .2-.1 .3-2.6 .5 3 .5-2.2 .5 3.5 .5-2.9 .5 3.6 .5-4.4 .5 4.3 .5-2.6 .5 2.8 .5-2.8 .5 2.8 .5-.8 .5 .9 .5-1.5 .5 1.4 .5-3 .5 3.3 .5-3.1 .5 3.1 .5-2 .5 2.2 .5-1.9 .5 1.8 .5-3 .5 2.9 .5-2.7 .5 2.5 .5-2.9 .5 3.1 .5-3.7 .5 3.8 .5-2.6 .5 2.3 .5-2.6 .5 2.7 .5-4.2 .5 4.2 .5-3.8 .5 4.1 .5-3.4 .5 3.3 .5-1.6 .5 1.6 .5-3.5 .5 3.5 .5-2 .5 1.9 .5-2.7 .5 2.6 .5-1.5 .5 1.7 .5-3.2 .5 3.3 .5-2.3 .5 2 .5-.7 .5 .9 .5-.8 .5 .6 .5-1.5 .5 1.8 .5-1 .5 .8 .5-1 .5 1.1 .5-1.3 .5 1.3 .5-2 .5 1.8 .5-.4 .5 .4 .5-.6 .5 .6 .5-1.2 .5 1.2 .5-.9 .5 1.2 .5-.8 .5 .5 .5-1.2 .5 1.2 .5-.6 .5 .8 .5-.6 .5 .7 .5-1.5 .5 1.6 .5-1.3 .5 .9 .5-1.1 .5 1.4 .5-1.7 .5 1.7 .5-1.6 .5 1.5 .5-.5 .5 .4 .5-.6 .5 .8 .5-.8 .5 .5 .5-.3 .5 .6 .5-1.5 .5 1.2 .5-1 .5 1 .5-.5 .5 .7 .5-.9 .5 .7 .5-1.6 .5 1.8 .5-1.3 .5 1.2 .5-.9 .5 .9 .5-1 .5 1 .5-1.1 .5 1 .5-1.2 .5 1.4 .5-1.9 .5 1.9 .5-1.4 .5 1.2 .5-1.1 .5 1.5 .5-1.5 .5 1.2 .5-.9 .5 1.1 .5-1.4 .5 1.2 .5-1.8 .5 1.9 .5-1.7 .5 1.9 .5-1.8 .5 1.7 .5-1.5 .5 1.5 .5-2.2 .5 2.1 .5-2.3 .5 2.4 .5-1.4 .5 1.3 .5-1.2 .5 1.2 .5-1 .5 .8 .5-.3 .5 .5 .5-.8 .5 .7 .5-.6 .5 .7 .5-1.4 .5 1.2 .5-1.1 .5 1.3 .5-.9 .5 .8 .5-.7 .5 .8 .5-1.1 .5 1.2 .5-1 .5 1 .5-.9 .5 .7 .5-.6 .5 .8 .5-.8 .5 .8 .5-.5 .5 .4 .5-.9 .5 .9 .5-.5 .5 .4 .5-1.6 .5 1.7 .5-1.9 .5 1.7 .5-1.3 .5 1.3 .5-1 .5 1.3 .5-.9 .5 .8 .5-.9 .5 .7 .5-.7 .5 1 .5-.5 .5 .3 .5-.9 .5-2.6 .5-.5 .5 4.2 .5-1.5 .5 1.5 .5-1.6 .5 1.3 .5-1.4 .5 1.7 .5-.9 .5 .9 .5-1.6 .5 1.3 .5-.8 .5 1.1 .5-1 .5 .9 .5-1.1 .5 1.2 .5-.7 .5 .7 .5-.7 .5 .6 .5-.6 .5 .4 .5-.3 .5 .5 .5-.7 .5 .7 .5-1.9 .5 1.8 .5-1.4 .5 1.5 .5-1.8 .5 1.6 .5-.6 .5 .7 .5-1.3 .5 1.3 .5-1.1 .5 1.3 .5-.8 .5 .6 .5-.5 .5 .6 .5-1 .5 1 .5-2.2 .5 2.1 .5-1.1 .5 1.2 .5-2.4 .5 2.2 .5-2.3 .5 2.4 .5-2.2 .5 2.4 .5-2 .5 1.8 .5-1.6 .5 1.8 .5-2.1 .5 2.1 .5-2.3 .5 2.1 .5-3.2 .5 3.1 .5-1.8 .5 2.1 .5-1.2 .5 .9 .5-2.3 .5 2.5 .5-1.3 .5 1.2 .5-2.8 .5 2.9 .5-2.5 .5 2.3 .5-2.2 .5 2.3 .5-3.9 .5 4 .5-2.7 .5 2.6 .5-3.4 .5 3.3 .5-1.2 .5 1.3 .5-4.4 .5 4.6 .5-3.4 .5 3.4 .5-4.2 .5 3.9 .5-3.4 .5 3.5 .5-2.5 .5 2.4 .5-1.6 .5 1.8 .5-2 .5 2.1 .5-3.9 .5 3.6 .5-1.5 .5 1.7 .5-2.4 .5 2.2 .5-2.6 .5 2.7 .5-.9 .5 1 .5-2.4 .5 2.3 .5-1.6 .5 1.5 .5-1.8 .5 2.1 .5-2.7 .5 2.5 .5-2 .5 1.9 .5-.8 .5 1.1 .5-1.4 .5 1.2 .5-2.7 .5 2.6 .5-1.3 .5 1.5 .5-2.9 .5 2.8 .5-1.3 .5 1.5 .5-1.6 .5 1.6 .5-1.6 .5 1.6 .5-1.9 .5 1.9 .5-1.4 .5 1.4 .5-1.4 .5 1.4 .5-1.3 .5 1 .5-.8 .5 1.1 .5-2" fill="none" stroke="#000" stroke-width="4.0" stroke-linejoin="round"/>
<rect x="612.7" y="2035.8" width="32.2" height="31.6" fill="#000"/>
<text x="751.0" y="2111.9" font-size="60.5" text-anchor="middle" stroke="#000" stroke-width="0.6">*</text>
<text x="1404.4" y="1973.5" font-size="60.5" text-anchor="middle" stroke="#000" stroke-width="0.6">*</text>
<text x="2329.7" y="1960.0" font-size="51.3" text-anchor="end">750 fmole</text>
<path d="M364 2372.9l .5-8 .3 2 .2 .5 .5-.7 .5 7.2 .5 1.2 .5 4.6 .5-.9 .5 2.3 .5-1.7 .5 1.9 .5-2.5 .5 3 .5-3.6 .5 3.6 .5-2.5 .5 2.9 .5-2.3 .5 2.3 .5-2.8 .5 2.8 .5-1.3 .5 1.2 .5-.8 .5 1.1 .5-1.8 .5 1.9 .5-2.1 .5 1.8 .5-.9 .5 1.1 .5-1.1 .5 1 .5-1.5 .5 1.5 .5-.6 .5 .6 .5-1.4 .5 1.4 .5-1.9 .5 2.1 .5-1.5 .5 1.2 .5-.4 .5 .6 .5-1 .5 1.1 .5-2.2 .5 1.9 .5-1.5 .5 1.5 .5-2.7 .5 3.1 .5-2.1 .5 2 .5-2.4 .5 2.1 .5-2.5 .5 2.8 .5-2.5 .5 2.3 .5-1.4 .5 1.5 .5-1 .5 .9 .5-2.7 .5 2.8 .5-2.4 .5 2.2 .5-3.6 .5 3.8 .5-3.3 .5 3.4 .5-3.8 .5 3.8 .5-2.6 .5 2.3 .5-3.2 .5 3.3 .5-1.2 .5 1.2 .5-2.9 .5 2.9 .5-2.6 .5 2.7 .5-3.1 .5 3.2 .5-2.5 .5 2.5 .5-3.2 .5 3 .5-7.3 .5 4.1 .5 1.6 .5 1.9 .5-2 .5 1.6 .5-3.8 .5 3.8 .5-3.6 .5 3.8 .5-3.9 .5 4 .5-2.6 .5 2.5 .5-1.4 .5 1.6 .5-5.8 .5 5.4 .5-4.1 .5 4.4 .5-2.2 .5 2.2 .5-3.4 .5 3.2 .5-3.5 .5-.1 .5-1.3 .5 1.4 .5-.2 .5 3.7 .5-3.5 .5 3.7 .5-4.5 .5 4.3 .5-2.5 .5 2.5 .5-4.1 .5 4.2 .5-4.1 .5 4.1 .5-5 .5 4.9 .5-4.1 .5 3.7 .5-3.6 .5 3.9 .5-3.1 .5 3.3 .5-5 .5 5 .5-1.7 .5 1.8 .5-5.1 .5 4.9 .5-4.8 .5 5.1 .5-1.9 .5 1.5 .5-1.8 .5 1.9 .5-2.4 .5 2.3 .5-3.9 .5 3.9 .5-4.3 .5 4.3 .5-4.1 .5 4.2 .5-1.5 .5 1.5 .5-2.5 .5 2.7 .5-2.6 .5 2.5 .5-2 .5-1.6 .5-6 .5 6 .5 .1 .5 3.5 .5-4.8 .5 4.7 .5-3.6 .5 3.9 .5-4.6 .5 4.3 .5-3.7 .5 3.6 .5-5.7 .5 5.8 .5-2.5 .5 2.4 .5-2.6 .5 2.9 .5-4.6 .5 4.3 .5-1.9 .5 2.2 .5-2.9 .5 2.7 .5-3.4 .5 3.3 .5-3.6 .5 3.9 .5-3 .5 3 .5-4.9 .5 4.7 .5-2.5 .5 2.5 .5-3.8 .5 4 .5-6 .5 5.8 .5-6 .5 6 .5-8.2 .5 8.1 .5-3.4 .5 3.5 .5-2.4 .5 .3 .5-.1 .5 2.3 .5-4.6 .5 4.4 .5-2.9 .5 3.1 .5-1.4 .5 1.4 .5-3 .5 3 .5-4.4 .5 4.2 .5-1.2 .5 1.3 .5-1.3 .5 1.4 .5-3.6 .5 3.7 .5-4.4 .5 4.3 .5-3.3 .5 3.2 .5-1.2 .5 .4 .5-.9 .5 1.4 .5-2.4 .5 3 .5-1.2 .5 .9 .5-1.4 .5 1.5 .5-1.9 .5 1.9 .5-1.4 .5 1.4 .5-1.7 .5 1.2 .5-2.8 .5-1.3 .5-6.7 .5-2.8 .2-.3 .3-.6 .5 4.3 .5 2.6 .5 3.9 .5 1.2 .5 1.5 .5-.6 .5 1.1 .5-.6 .5 .7 .5-.8 .5 1 .5-1.2 .5 1.5 .5-.6 .5 .7 .5-.9 .5 1.2 .5-2.1 .5 1.8 .5-1.5 .5 1.6 .5-2.1 .5 2.4 .5-2.1 .5 1.8 .5-2.2 .5 2.3 .5-1.1 .5 1.1 .5-.7 .5 .7 .5-2.3 .5 2.5 .5-2.3 .5 2.2 .5-1.4 .5 1.6 .5-3.1 .5 3 .5-2.1 .5 2.1 .5-1.2 .5 1 .5-1.7 .5 1.9 .5-1.5 .5 1.5 .5-1.9 .5 1.7 .5-.6 .5 .7 .5-2 .5 2.2 .5-1.3 .5 1.2 .5-1.8 .5 1.7 .5-1.5 .5 1.7 .5-1.5 .5 1.1 .5-1.2 .5 1.2 .5-3.2 .5 3.5 .5-1 .5 1 .5-1.9 .5 1.6 .5-1 .5 1 .5-1.3 .5 1.7 .5-2.2 .5 2 .5-1.4 .5 1.2 .5-2.3 .5 2.6 .5-1.9 .5 1.8 .5-3.1 .5 3.2 .5-1.2 .5 1.2 .5-1.4 .5 1.4 .5-3.4 .5 3.4 .5-3.5 .5 3.5 .5-1.5 .5 1.2 .5-3.4 .5 3.7 .5-1.7 .5 1.5 .5-1.8 .5 2 .5-5.4 .5 5.2 .5-8.8 .5 5.1 .5-3.5 .5 3.8 .5 .8 .5 2.5 .5-2.4 .5 2.7 .5-2.2 .5 2.1 .5-2.4 .5 2.4 .5-1.6 .5 1.8 .5-1.6 .5 1.2 .5-2.3 .5 2.5 .5-1.1 .5 1.1 .5-2.9 .5 2.8 .5-1.4 .5 1.5 .5-1.4 .5 1.4 .5-1.8 .5 1.8 .5-1 .5 1.2 .5-1.3 .5 1.1 .5-2.3 .5 2.2 .5-.7 .5 .9 .5-1.6 .5 1.7 .5-4.3 .5 4.2 .5-4.5 .5 4.3 .5-4.5 .5 4.5 .5-1.7 .5 1.9 .5-1.7 .5 1.2 .5-2.8 .5 2.8 .5-3.6 .5 4 .5-4.1 .5 4.3 .5-1.1 .5 .7 .5-2 .5 2 .5-1.4 .5 1.8 .5-5.5 .5 2.9 .5-2.2 .5 4.5 .5-1.8 .5 1.9 .5-3.4 .5 3.2 .5-2.2 .5 2.5 .5-1.4 .5 1.2 .5-1.3 .5 1.4 .5-2.4 .5 2.3 .5-1.1 .5 1.3 .5-1.5 .5 1.5 .5-1.7 .5 1.4 .5-1.7 .5 .6 .5 .3 .5 .9 .5-2.1 .5 2.1 .5-2.1 .5 2.2 .5-2 .5 2 .5-2 .5 2 .5-2.2 .5 2 .5-2.3 .5 2.5 .5-1.2 .5 1 .5-3 .5 3.1 .5-1.4 .5 1.4 .5-1.9 .5 .7 .5-2.4 .5 3.7 .5-1.2 .5 1.4 .5-3.6 .5 3.6 .5-1.9 .5 1.8 .5-1.6 .5 1.4 .5-2.5 .5 2.7 .5-3 .5 2.9 .5-1.2 .5 1.2 .5-2.4 .5 2.6 .5-1.9 .5 1.6 .5-1.6 .5 1.7 .5-.6 .5 .7 .5-1.2 .5 1.2 .5-1.6 .5 1.4 .5-1.6 .5 1.9 .5-2.6 .5 2.3 .5-.8 .5 1 .5-1.5 .5 1.3 .5-1.2 .5 1.2 .5-1 .5 1 .5-1.2 .5 1.2 .5-1.5 .5 1.5 .5-.6 .5 .9 .5-1.3 .5 1 .5-1.1 .5 1.3 .5-.7 .5 .6 .5-1.7 .5 .5 .5-4 .5-8.2 .5-13.6 .5-7.4 .1-.2 .4 1.4 .5 9.4 .5 7.8 .5 7.2 .5 2.7 .5 2.5 .5 .1 .5 1 .5-.4 .5 1.2 .5-.5 .5 .9 .5-.9 .5 1.5 .5-.5 .5 .5 .5-.8 .5 .9 .5-1.6 .5 1.8 .5-1 .5 1.1 .5-.9 .5 .9 .5-.7 .5 .8 .5-.9 .5 1 .5-1.3 .5-3.1 .5 3.5 .5 .8 .5-1.2 .5 1.5 .5-1.5 .5-2.1 .5 1.6 .5 1.9 .5-2.6 .5 2.6 .5-1.8 .5 1.7 .5-1.4 .5 1.7 .5-1 .5 1 .5-1.4 .5 1.2 .5-.5 .5 .7 .5-1.6 .5 1.3 .5-1.2 .5 1.2 .5-.7 .5 .8 .5-.7 .5 .6 .5-.7 .5 .8 .5-.7 .5 .8 .5-1.2 .5 1.2 .5-1 .5 .8 .5-1 .5 .9 .5-1.2 .5 1.5 .5-1.6 .5 1.5 .5-2.5 .5 2.4 .5-.9 .5 1.1 .5-2 .5 1.9 .5-1.8 .5 1.6 .5-2 .5 2.2 .5-1.3 .5 1.5 .5-1 .5 .7 .5-2.3 .5 2.6 .5-1.1 .5 .8 .5-4.9 .5 5.1 .5-1 .5 1.1 .5-1.6 .5 1.4 .5-2.3 .5 2.2 .5-.7 .5 .6 .5-2.3 .5 2.4 .5-1.6 .5 1.8 .5-1.9 .5 1.8 .5-.9 .5 1.1 .5-2.2 .5 1.8 .5-1.3 .5 1.3 .5-2 .5 2.3 .5-1.9 .5 1.7 .5-.6 .5 .7 .5-1.2 .5 1.2 .5-2 .5 2 .5-2.5 .5 2.6 .5-2.4 .5-1.2 .5 1.5 .5 2.2 .5-2 .5 2 .5-3 .5 3 .5-1.7 .5 1.5 .5-4.1 .5 4.1 .5-1.1 .5 1.3 .5-1.5 .5 1.2 .5-1.7 .5 1.8 .5-2 .5 2.1 .5-3.4 .5 3.3 .5-5.1 .5 5 .5-3.9 .5 4 .5-3.2 .5 3.2 .5-4 .5 4.1 .5-3.5 .5 3.5 .5-3.7 .5 3.6 .5-2.4 .5 2.4 .5-1.6 .5 1.8 .5-2 .5 1.8 .5-3.6 .5 3.6 .5-1.7 .5 1.8 .5-2.7 .5 2.4 .5-2.8 .5 2.9 .5-4.7 .5 4.9 .5-2.1 .5 2 .5-3.4 .5 3.3 .5-1.9 .5 1.8 .5-1.4 .5 1.5 .5-4 .5 4.2 .5-5 .5 4.9 .5-3.9 .5 3.9 .5-1.2 .5 1.3 .5-1.5 .5 1.5 .5-3.1 .5 3 .5-3.7 .5 3.8 .5-2.6 .5 2.7 .5-2.4 .5 2.3 .5-3.4 .5 3.2 .5-2.4 .5 2.5 .5-2.2 .5 2 .5-1.4 .5 1.8 .5-1.6 .5 1.4 .5-1.9 .5 1.7 .5-2.6 .5 2.9 .5-4 .5 3.8 .5-1 .5 1 .5-2.9 .5 3.1 .5-2.9 .5 2.7 .5-1.5 .5 1.7 .5-2 .5 2.1 .5-2.1 .5 2.1 .5-1.4 .5 1.1 .5-1.1 .5 1.1 .5-1.4 .5 1.7 .5-2 .5 1.9 .5-.9 .5 1 .5-.9 .5 .8 .5-.8 .5 .7 .5-.9 .5 1 .5-2.3 .5 2.1 .5-1.7 .5 1.2 .5-5.5 .5-6 .5-19.3 .5-17.8 .4-6.5 .1-1.5 .5 11.6 .5 12.1 .5 13.8 .5 5.9 .5 6.6 .5 .9 .5 2.1 .5-1.2 .5 2.5 .5-.7 .5 1.5 .5-.4 .5 .8 .5-.7 .5 1.4 .5-3.9 .5 1 .5-1.3 .5 4.4 .5-.2 .5 .4 .5-1.2 .5 1.5 .5-1.8 .5 1.7 .5-1.5 .5 1.9 .5-1.3 .5 1.1 .5-.9 .5 1 .5-1 .5 1 .5-1 .5 1 .5-.5 .5 .4 .5-1.1 .5 1.4 .5-.7 .5 .7 .5-.6 .5 .5 .5-1.4 .5 1.5 .5-.6 .5 .4 .5-.8 .5 1 .5-1.2 .5 .9 .5-1.4 .5 1.8 .5-1.4 .5 1.2 .5-1.2 .5 1.3 .5-2.3 .5 2.3 .5-.9 .5 .9 .5-.5 .5 .3 .5-1.2 .5 1.4 .5-1.3 .5 1.4 .5-1.8 .5 1.5 .5-1 .5 1 .5-1.4 .5 1.6 .5-.8 .5 .6 .5-1.5 .5 1.8 .5-2.2 .5 2.1 .5-1.5 .5 1.5 .5-.6 .5 .5 .5-3.6 .5 .8 .5 2.3 .5 .4 .5-3.4 .5 3.3 .5-.6 .5 1 .5-.9 .5 .8 .5-1 .5 1.1 .5-.9 .5 .9 .5-1.2 .5 1 .5-.6 .5 .5 .5-.9 .5 .9 .5-.7 .5 .6 .5-.9 .5 1 .5-1.6 .5 1.7 .5-1 .5 1.2 .5-.7 .5 .6 .5-.8 .5 .9 .5-.8 .5 .7 .5-1.3 .5 1.3 .5-1.4 .5 1.5 .5-1.4 .5 1 .5-.5 .5 .5 .5-.9 .5 1.1 .5-.8 .5 .7 .5-1.2 .5 1.3 .5-.9 .5 1.1 .5-1.9 .5 1.7 .5-1.7 .5 1.6 .5-1.1 .5 1.1 .5-2 .5-.2 .5-4.5 .5-3.4 .5-3.5 .5 3.1 .5 2.4 .5 3.4 .5 .9 .5 2.2 .5-.6 .5 1.3 .5-2 .5 2.1 .5-.7 .5 1.2 .5-2.2 .5 2.3 .5-2.1 .5 2.2 .5-2.6 .5 2.6 .5-2.9 .5 2.9 .5-2.4 .5 2.5 .5-2.1 .5 2.3 .5-3 .5 3 .5-2.8 .5 2.5 .5-2.5 .5 2.7 .5-2.4 .5 2.6 .5-2.1 .5 2 .5-2.7 .5 2.6 .5-1 .5 1 .5-1.5 .5 1.3 .5-.5 .5 .5 .5-.9 .5 1.1 .5-.7 .5 .6 .5-1 .5 1.2 .5-1.2 .5 1.1 .5-1.4 .5 1.3 .5-1.7 .5 2 .5-1.6 .5 1.5 .5-3.8 .5 3.7 .5-1.7 .5 1.5 .5-.5 .5 .8 .5-1.3 .5 1.3 .5-1 .5 .9 .5-1.7 .5 1.9 .5-1.8 .5 1.5 .5-1.9 .5 2.2 .5-1 .5 1 .5-.8 .5 .8 .5-1.2 .5 1.2 .5-2.3 .5 2.1 .5-2.5 .5 2.5 .5-1.8 .5 1.8 .5-1.8 .5-1.2 .5 .9 .5 2 .5-4 .5 4.3 .5-2.2 .5 1.9 .5-1.2 .5 1.3 .5-4.3 .5 1.2 .5-1.7 .5 4.7 .5-4.2 .5 4.4 .5-4.9 .5 4.6 .5-4.4 .5 4.5 .5-4.8 .5 4.7 .5-3.2 .5 .3 .5-7.9 .5-4.3 .5-6.6 .5 5.7 .5 2.8 .5 6.1 .5-1.3 .5 6.1 .5-2.3 .5 3.3 .5-3.8 .5 4.2 .5-2.7 .5 3 .5-3.3 .5 3.6 .5-3.3 .5 3.5 .5-2.8 .5 2.9 .5-2 .5 1.9 .5-1.4 .5 1.5 .5-1.5 .5 1.5 .5-2 .5 2 .5-4 .5 4.3 .5-1.2 .5 1.2 .5-1.4 .5 1.2 .5-3 .5 3.3 .5-2.1 .5 2.1 .5-2.7 .5 2.5 .5-1.1 .5 1.3 .5-2.5 .5 2.4 .5-1.5 .5 1.5 .5-1.5 .5 1.5 .5-4.2 .5 .9 .5-2.2 .5 5.3 .5-3.1 .5 3.3 .5-1.8 .5 1.6 .5-2 .5 2.1 .5-3.4 .5 3.4 .5-1.5 .5 1.4 .5-.9 .5 1 .5-1.6 .5 1.5 .5-1.9 .5 1.8 .5-2.3 .5 2.6 .5-5.6 .5 5.6 .5-1.1 .5 1.1 .5-2.5 .5 2.5 .5-1.3 .5 1.4 .5-4.1 .5 3.9 .5-4.7 .5 4.7 .5-2.5 .5 2.4 .5-2.5 .5 2.6 .5-3.2 .5 3 .5-2.6 .5 3 .5-3.4 .5 1.8 .5-4.4 .5 4.7 .5-2.9 .5 4 .5-1.3 .5 1.2 .5-1.1 .5 1.3 .5-1.5 .5 1.3 .5-2.9 .5 3.2 .5-3.8 .5 3.7 .5-3.7 .5 3.5 .5-5.8 .5 5.8 .5-3.9 .5 4 .5-3.4 .5 3.3 .5-5 .5 5.2 .5-6.1 .5 6.1 .5-2.3 .5 2.2 .5-4 .5 4.2 .5-5.3 .5 5.2 .5-4 .5 4.1 .5-2.8 .5 2.6 .5-5 .5 4.9 .5-1.3 .5 1.3 .5-1.6 .5 1.8 .5-3.4 .5 1.7 .5-1.6 .5 3.1 .5-3.2 .5 3.1 .5-2.4 .5 2.7 .5-2.2 .5 2.3 .5-4.5 .5 3.4 .5-2.5 .5 2.2 .5-2.8 .5 3.8 .5-2.3 .5 2.5 .5-1 .5 .9 .5-2.3 .5 2.3 .5-1.8 .5 1.8 .5-3 .5 3.3 .5-1.4 .5 1.1 .5-2.7 .5 2.9 .5-4.7 .5 4.5 .5-1.3 .5 1.6 .5-1.8 .5 1.6 .5-1.3 .5 1.4 .5-1.9 .5 2 .5-1.9 .5 1.9 .5-3.3 .5 3 .5-4.9 .5 5.2 .5-4.3 .5 4 .5-1.6 .5 1.6 .5-3.4 .5 3.6 .5-3.2 .5 3.3 .5-3.4 .5 3.3 .5-5.2 .5 5.2 .5-5.2 .5 5 .5-1.6 .5 1.6 .5-4.4 .5 4.6 .5-3.1 .5 2.9 .5-2.2 .5 2.1 .5-1.7 .5 1.9 .5-5.3 .5 5.4 .5-3.6 .5 3.4 .5-9.5 .5 5.5 .5-1.2 .5 5.5 .5-2.1 .5 1.8 .5-2.5 .5 2.5 .5-5.9 .5 6 .5-2 .5 1.9 .5-1.8 .5 2 .5-5.9 .5 5.9 .5-4.9 .5 4.8 .5-5.3 .5 4.1 .5-3.9 .5 5.1 .5-2.7 .5 2.8 .5-4.7 .5 4.6 .5-5.2 .5 5 .5-4.9 .5 5.2 .5-5.4 .5 5.2 .5-4.7 .5 4.8 .5-2.3 .5 2.4 .5-4.4 .5 4.2 .5-5.5 .5 5.6 .5-3.7 .5 3.5 .5-2 .5 2.4 .5-5 .5 4.9 .5-3.1 .5 2.8 .5-1.9 .5 2.2 .5-2.9 .5 2 .5-8.1 .5-1.7 .5-9.6 .5-2.4 .5 .1 .5 7.9 .5 3.2 .5 6.3 .5-1.6 .5 4.4 .5-2.4 .5 3.4 .5-1.2 .5 1.6 .5-3.4 .5 3.5 .5-2.6 .5 2.7 .5-2.7 .5 2.9 .5-3.6 .5 3.9 .5-5 .5 5 .5-3.3 .5 3.3 .5-3.3 .5 3.2 .5-4.9 .5 5 .5-5.6 .5 5.7 .5-2.6 .5 2.8 .5-1.8 .5 1.8 .5-4.4 .5 4.4 .5-3 .5 2.8 .5-4.4 .5 4.5 .5-2.2 .5 2 .5-1.8 .5 2 .5-1.6 .5 1.6 .5-2.6 .5 2.6 .5-1.5 .5 1.4 .5-2.9 .5 2.9 .5-2.9 .5 .9 .5-2.9 .5 4.9 .5-4.7 .5 4.7 .5-5.5 .5 5.6 .5-2 .5 2.1 .5-4.4 .5 4.3 .5-4 .5 4.1 .5-1.7 .5 1.7 .5-4.9 .5 4.7 .5-3.7 .5 3.9 .5-4.7 .5 4.4 .5-3.8 .5 3.9 .5-2.4 .5 2.6 .5-2 .5 1.8 .5-4.3 .5 4.3 .5-4.6 .5 4.6 .5-4.2 .5 4.5 .5-2 .5 1.6 .5-2.9 .5 2.9 .5-4.3 .5 4.7 .5-2.8 .5 2.7 .5-4.6 .5 4.6 .5-6 .5 5.8 .5-4.3 .5 4.4 .5-4.6 .5 4.6 .5-.9 .5 1 .5-2.5 .5 2.4 .5-1.9 .5 1.8 .5-.8 .5 1.1 .5-2.7 .5 2.7 .5-2 .5 1.7 .5-2.4 .5 2.7 .5-2.6 .5 2.4 .5-1.4 .5 1.6 .5-2.7 .5 2.5 .5-1 .5 .8 .5-4.9 .5 5.2 .5-3.9 .5 4 .5-2.1 .5 1.7 .5-2.8 .5 3 .5-1.9 .5 2 .5-3.7 .5 3.5 .5-3.7 .5 3.7 .5-1.7 .5 1.8 .5-1.8 .5 1.9 .5-3.6 .5 3.7 .5-3.8 .5 3.7 .5-3 .5 3 .5-3.2 .5 3 .5-4 .5 3.5 .5-2.9 .5 3.4 .5-2.5 .5 1.6 .5-8.2 .5-1.1 .5-9.8 .5-2.9 .5 1.2 .5 7.3 .5 4.1 .5 4.2 .5 1 .5 2.9 .5-2 .5 2.7 .5-1.8 .5 2.5 .5-2.6 .5 2.7 .5-1.5 .5 1.9 .5-2.6 .5 2.5 .5-1.6 .5 1.9 .5-1.6 .5 1.6 .5-1.7 .5 1.9 .5-1.2 .5 1.1 .5-4.7 .5 4.7 .5-2.4 .5 2.6 .5-1.1 .5 .9 .5-3.1 .5 3 .5-2.7 .5 2.9 .5-1.9 .5 1.8 .5-4.1 .5 4.1 .5-1.7 .5 1.8 .5-3 .5 2.9 .5-2 .5-1.2 .5-.4 .5 3.6 .5-1 .5 1.2 .5-2 .5 1.8 .5-1.9 .5 2 .5-4.5 .5 .4 .5-1 .5 5 .5-1 .5 1 .5-1.9 .5-.3 .5-2.7 .5 2.5 .5-.5 .5 2.9 .5-2.5 .5 2.7 .5-1.3 .5 1.1 .5-.8 .5 .9 .5-.9 .5 .9 .5-1.7 .5 1.7 .5-.8 .5 .8 .5-1.6 .5 1.7 .5-2.1 .5 2.1 .5-1.2 .5 1.2 .5-1 .5 .9 .5-1.3 .5 1.2 .5-.4 .5 .5 .5-1.4 .5 1.4 .5-.7 .5 .7 .5-.5 .5 .3 .5-1 .5 1.3 .5-1 .5 .8 .5-.4 .5 .4 .5-.9 .5 1 .5-1.4 .5 1.2 .5-.7 .5 1 .5-.8 .5 .9 .5-.9 .5 .5 .5-1.7 .5 1.7 .5-2.3 .5 0 .5 .2 .5 2.4 .5-3.1 .5 3.1 .5-2.4 .5 2.4 .5-2 .5 1.9 .5-2.6 .5 2.6 .5-1.9 .5 1.6 .5-3.3 .5-1.6 .5-7.7 .5-2.9 .2-.5 .3-.2 .5 4.7 .5 2.6 .5 4.7 .5-2.2 .5 4.7 .5-2 .5 2.9 .5-2.9 .5 3 .5-.7 .5 1.1 .5-4 .5 4.1 .5-1.1 .5 1.4 .5-4.6 .5 4.7 .5-4 .5 4 .5-4.8 .5 4.7 .5-3.1 .5 3.3 .5-8.7 .5 4.8 .5-5.4 .5 9.3 .5-4.8 .5 3.2 .5-3.3 .5 4.9 .5-2.5 .5 2.5 .5-3.1 .5 3 .5-2.2 .5 2.5 .5-3.2 .5 3 .5-2.7 .5 2.7 .5-1.3 .5 1.4 .5-2.6 .5 2.4 .5-1.4 .5 1.5 .5-1.9 .5 2.1 .5-2.7 .5 2.6 .5-3.3 .5 3.3 .5-1.5 .5 1.5 .5-2.8 .5 2.6 .5-.9 .5 1.1 .5-1.9 .5 2 .5-1.7 .5 1.7 .5-1.7 .5 1.5 .5-1.5 .5 1.4 .5-2.1 .5 2.1 .5-2.1 .5 2 .5-1.4 .5 1.7 .5-4.7 .5 4.5 .5-.9 .5 .9 .5-1.5 .5 1.8 .5-5.2 .5 .9 .5-1.6 .5-1.9 .5-2 .5 9.6 .5-2.3 .5 2.5 .5-1.4 .5 1 .5-.4 .5 .6 .5-1.3 .5 1.3 .5-2.4 .5 2.4 .5-3.2 .5 3.2 .5-2.2 .5 2.4 .5-4.7 .5 4.7 .5-3.7 .5 3.6 .5-3.5 .5 3.4 .5-3.8 .5 3.9 .5-3.6 .5 3.5 .5-4.2 .5 4.3 .5-4.6 .5 4.7 .5-6.3 .5 6 .5-2.4 .5 2.4 .5-3.6 .5 3.9 .5-1.9 .5 1.7 .5-4.8 .5 4.8 .5-2.2 .5 .7 .5-9.8 .5-1.6 .5-10.8 .3 2.5 .2 .8 .5-5.1 .5 14 .5 1.5 .5 5.9 .5-2.7 .5 4.9 .5-2.8 .5 3.3 .5-4 .5 4.6 .5-3 .5 3.3 .5-1.5 .5 1.7 .5-1.6 .5 1.5 .5-2.7 .5 2.8 .5-1.7 .5 1.8 .5-5.5 .5 5.4 .5-2.2 .5 2.6 .5-2.5 .5 2.5 .5-4 .5 3.7 .5-1.7 .5 1.8 .5-3.6 .5 3.8 .5-1.4 .5 1.5 .5-3.6 .5 3.6 .5-2.6 .5 2.3 .5-4.9 .5 5 .5-1.3 .5 1.2 .5-1.6 .5 1.7 .5-2.2 .5 2.2 .5-1.7 .5 1.8 .5-5.4 .5 5.3 .5-5.7 .5 5.5 .5-4.7 .5 4.7 .5-1.3 .5 1.3 .5-4.1 .5 4.1 .5-3 .5 3.3 .5-4.2 .5 4 .5-3.6 .5 3.6 .5-3.4 .5 3.5 .5-3.5 .5 3.3 .5-3.5 .5 .1 .5 1.4 .5 2.2 .5-3.9 .5 3 .5-4.4 .5 5.2 .5-3.4 .5 3.3 .5-4.4 .5 4.4 .5-4.9 .5 4.2 .5-1.5 .5 2.6 .5-4.9 .5 4.6 .5-2.7 .5 2.9 .5-2.3 .5 2.1 .5-.9 .5 1.2 .5-5.3 .5 5.1 .5-1.6 .5 1.4 .5-1.6 .5 1.9 .5-4.4 .5 4.3 .5-3.3 .5 3.1 .5-4.6 .5 4.8 .5-3.3 .5 3.2 .5-5.8 .5 5.8 .5-4.7 .5 4.7 .5-1.5 .5 1.6 .5-3.9 .5 3.9 .5-3.4 .5 3.5 .5-2.8 .5 2.8 .5-3.6 .5 3.5 .5-4.4 .5 4.5 .5-4.5 .5 4.5 .5-2.4 .5 2.4 .5-2.3 .5 2.2 .5-2 .5 1.8 .5-2.3 .5 2.3 .5-4.2 .5 .9 .5-10.8 .5-.2 .4-1.9 .1-4.7 .5 7.5 .5 2.4 .5 5.3 .5-.4 .5 4.2 .5-.9 .5 1.7 .5-1.2 .5 1.5 .5-4.4 .5 4.8 .5-1.1 .5 1.3 .5-3.8 .5 3.8 .5-2.6 .5 2.7 .5-2.8 .5 3.1 .5-3.4 .5 3.2 .5-1.7 .5 1.8 .5-1.5 .5 1.6 .5-.7 .5 .6 .5-1.1 .5 1.2 .5-1.4 .5 1.5 .5-1.3 .5 1.2 .5-3.3 .5 3.2 .5-1.1 .5 1 .5-1.5 .5 1.7 .5-1.4 .5 1.4 .5-2.6 .5 2.5 .5-1.8 .5 1.9 .5-1.1 .5 1.1 .5-1.8 .5 1.9 .5-.8 .5 .8 .5-.7 .5 .5 .5-.5 .5 .6 .5-.8 .5 .8 .5-.8 .5-2.3 .5 2.1 .5 1.2 .5-2.5 .5 2.5 .5-1.3 .5 1.2 .5-2.2 .5 1.3 .5-1.8 .5 2.6 .5-1.3 .5 1.3 .5-2.6 .5 2.5 .5-2 .5 2.2 .5-3.3 .5 3.2 .5-1.8 .5 1.8 .5-3.2 .5 3 .5-1 .5 1 .5-2 .5 2.4 .5-1.6 .5 1.4 .5-1.7 .5 1.5 .5-2.3 .5 2.4 .5-3.4 .5 3.7 .5-2.7 .5 2.6 .5-2.6 .5 2.7 .5-4.7 .5 4.4 .5-1.7 .5-2.9 .5 2.5 .5 2.2 .5-4.9 .5 5 .5-4.6 .5 4.3 .5-2.9 .5 2.9 .5-2.5 .5 2.8 .5-5.7 .5 5.6 .5-1.6 .5 1.6 .5-3.1 .5 3.3 .5-4.4 .5 4.1 .5-2.2 .5 2.3 .5-3.7 .5 3.8 .5-5.4 .5 5.4 .5-4.3 .5 4.3 .5-1.5 .5 1.4 .5-1.5 .5 1.7 .5-4.3 .5 4.3 .5-5.1 .5 5 .5-3.2 .5 2.9 .5-2.6 .5 3 .5-1.6 .5 1.4 .5-1.8 .5 .6 .5-4.2 .5 5.2 .5-5.5 .5 5.8 .5-2.7 .5 2.6 .5-1.4 .5 1.3 .5-2.2 .5 2.2 .5-3.3 .5 3.4 .5-2.6 .5 2.7 .5-2.2 .5 2.2 .5-.9 .5 .8 .5-1.4 .5 1.6 .5-1.5 .5 1.2 .5-1.3 .5 1.5 .5-2.3 .5 2.4 .5-1.2 .5 .9 .5-2.3 .5 2.4 .5-2.5 .5 2.7 .5-2.4 .5 2.1 .5-1.9 .5 2.2 .5-2.9 .5 2.6 .5-3.2 .5 3.4 .5-1.5 .5 1.3 .5-1 .5 1.2 .5-2 .5 2 .5-1.4 .5 1.4 .5-1.3 .5 1.3 .5-2.8 .5 2.7 .5-2 .5 2.1 .5-3.7 .5 3.6 .5-2.9 .5 2.8 .5-3.6 .5 3.9 .5-5 .5 4.9 .5-3.1 .5 2.9 .5-3.3 .5 3.5 .5-1.5 .5 1.4 .5-1.7 .5 1.7 .5-2.5 .5 2.3 .5-.4 .5 .6 .5-1.4 .5 1.4 .5-2 .5 2.1 .5-2.4 .5 2.4 .5-3.4 .5 3.4 .5-3.4 .5 3.4 .5-2.4 .5 2.1 .5-1.1 .5 .5 .5-6.5 .5-1.2 .5-9.4 .5-1.5 .5-.8 .5 8.5 .5 1.8 .5 5.7 .5 .1 .5 2.3 .5-3.6 .5 4.3 .5-4.7 .5 5 .5-3.5 .5 3.6 .5-4.8 .5 5 .5-3.6 .5 3.7 .5-3.7 .5 3.7 .5-2.9 .5 2 .5-9.1 .5 .5 .5-14.4 .3 2.2 .2 6.4 .5-1.7 .5 8.7 .5-2.1 .5 7.6 .5-1.9 .5 3.7 .5-3.5 .5 3.7 .5-1.4 .5 1.8 .5-3.1 .5 3.6 .5-3.9 .5 4 .5-2.9 .5 3 .5-2.7 .5 1.6 .5-.8 .5 1.8 .5-1.3 .5 1.3 .5-2.8 .5 2.9 .5-3.5 .5 3.7 .5-3.7 .5 3.6 .5-4.3 .5 4.4 .5-3.8 .5 3.5 .5-4.1 .5 4.2 .5-3.4 .5 3.6 .5-1.7 .5 1.6 .5-2.4 .5 2.5 .5-2.1 .5 1.9 .5-2.7 .5 2.8 .5-5.8 .5 5.7 .5-1.7 .5 1.9 .5-3 .5 2.8 .5-1.8 .5 1.9 .5-1.9 .5 1.8 .5-2.3 .5 2.5 .5-4.1 .5 3.8 .5-1.6 .5 1.6 .5-4.4 .5 4.5 .5-5.8 .5 5.8 .5-4.1 .5 4.1 .5-1.6 .5 1.7 .5-4.4 .5 4.3 .5-4 .5 4.1 .5-2.6 .5 2.7 .5-1.8 .5 1.5 .5-2.9 .5 3.3 .5-1.8 .5 1.6 .5-5.2 .5 5.1 .5-2.6 .5 2.8 .5-3.6 .5 3.4 .5-3.7 .5 4 .5-3 .5 2.7 .5-1.5 .5 1.6 .5-.8 .5 .9 .5-3 .5 2.8 .5-2.9 .5 3.1 .5-1.2 .5 1.3 .5-6.4 .5 1.6 .5 3.8 .5 .7 .5-.6 .5 .8 .5-.7 .5 .8 .5-.8 .5 .7 .5-.5 .5 .5 .5-1.5 .5 1.5 .5-1.3 .5 1.1 .5-.5 .5 .4 .5-1.1 .5 1.3 .5-.8 .5 .9 .5-.7 .5 .8 .5-.9 .5 .7 .5-1.1 .5 1 .5-2.6 .5 2.7 .5-1.6 .5 1.7 .5-2.6 .5 2.6 .5-3 .5 3.1 .5-3.9 .5 3.6 .5-1.3 .5 1.3 .5-4.2 .5 2.4 .5-2 .5 4 .5-1.3 .5 1 .5-.8 .5 .9 .5-2.4 .5 2.6 .5-2.6 .5 2.6 .5-2.3 .5 2.1 .5-.8 .5 1.1 .5-1.3 .5-2.5 .5-.6 .5 4.1 .5-3.6 .5 3.6 .5-.5 .5 .8 .5-1.1 .5 1 .5-1.2 .5 1 .5-.9 .5 1.1 .5-1 .5 1 .5-.7 .5 .7 .5-1.3 .5 1 .5-.8 .5 1 .5-1.7 .5 1.6 .5-.8 .5 .9 .5-1.5 .5 1.6 .5-.7 .5 .4 .5-1 .5 1.3 .5-.7 .5 .5 .5-1.4 .5 1.4 .5-1.1 .5 .4 .5-.6 .5 .7 .5 0 .5 .9 .5-1.2 .5 1 .5-.9 .5 .9 .5-1.1 .5 1.1 .5-2.1 .5 1.2 .5-.1 .5 1 .5-1.1 .5 .9 .5-5.2 .5 1.4 .5 3.1 .5 .7 .5-.9 .5 1.2 .5-.6 .5 .6 .5-.9 .5 .7 .5-1 .5 1.3 .5-1.5 .5 1.3 .5-.8 .5 .9 .5-2.2 .5 2.3 .5-2.4 .5 2.4 .5-2.3 .5 2.2 .5-3.9 .5 3.6 .5-.8 .5 1 .5-3.5 .5 3.6 .5-4.2 .5 4.3 .5-1.2 .5 1.1 .5-2.2 .5 2.2 .5-2.1 .5 2.2 .5-2.9 .5 2.9 .5-1.5 .5 1.2 .5-.9 .5 1.2 .5-.7 .5 .3 .5-1 .5 1.3 .5-3.8 .5 3.6 .5-2.7 .5 2.7 .5-2.9 .5 3.2 .5-2.6 .5 2.4 .5-2.3 .5 2.1 .5-2 .5 2.2 .5-2.2 .5 2.1 .5-2.7 .5 2.9 .5-1.6 .5 1.6 .5-1 .5 1 .5-.7 .5 .5 .5-2.1 .5 2.4 .5-1.7 .5 1.4 .5-2.2 .5 2.4 .5-.9 .5 1 .5-2.2 .5 2.1 .5-1.4 .5 1.3 .5-.6 .5 .4 .5-.3 .5 .5 .5-1.5 .5 1.4 .5-1 .5 1 .5-.7 .5 .6 .5-1.7 .5 2 .5-1.5 .5 1.4 .5-1 .5 .8 .5-.7 .5 .9 .5-3 .5 3.1 .5-1.6 .5 1.7 .5-1.5 .5 1.2 .5-1.1 .5 1 .5-.6 .5 .8 .5-1.5 .5 1.5 .5-1.2 .5 1.3 .5-1.4 .5 1.4 .5-.9 .5 .2 .5-.5 .5 1 .5-.5 .5 .5 .5-.9 .5 1 .5-1.1 .5 1.2 .5-1.1 .5 1 .5-1 .5 1 .5-.5 .5 .3 .5-.9 .5 1.2 .5-2.6 .5 2.6 .5-1.7 .5 1.5 .5-1.3 .5 1.4 .5-1.1 .5 1.1 .5-1.5 .5 1.3 .5-1.5 .5 1.5 .5-1.6 .5 1.7 .5-2 .5 2 .5-2.1 .5 2.1 .5-2 .5 2.1 .5-3.4 .5 3.2 .5-2.5 .5 2.9 .5-3.9 .5 3.7 .5-1.8 .5 1.9 .5-2.7 .5 2.6 .5-1.6 .5 1.6 .5-2.2 .5 2 .5-2.8 .5 3.1 .5-3.2 .5 3 .5-1.6 .5 1.7 .5-1.9 .5 2 .5-3.2 .5 2.9 .5-.8 .5 .8 .5-2.4 .5 2.6 .5-1.2 .5 1.4 .5-2.1 .5 1.9 .5-.7 .5 .7 .5-.7 .5 .9 .5-1.9 .5 1.6 .5-.5 .5 .7 .5-.9 .5 .8 .5-1.2 .5 1.2 .5-2.1 .5 2.1 .5-1.7 .5 1.7 .5-1.7 .5 1.6 .5-4.2 .5 4.3 .5-2.4 .5 2.4 .5-2.3 .5 2.2 .5-1.7 .5 1.8 .5-.6 .5 .8 .5-1.1 .5 .9 .5-2.4 .5 2.4 .5-1.7 .5 1.6 .5-.9 .5 1.1 .5-1.4 .5 1.1 .5-.7 .5 1.1 .5-1.5 .5 1.3 .5-.9 .5 .7 .5-.7 .5 .8 .5-1.4 .5 1.7 .5-1.2 .5 1.1 .5-1.4 .5 1.4 .5-1.5 .5 1.6 .5-.9 .5 .6 .5-1.1 .5 1 .5-1.1 .5 1.4 .5-1.8 .5 1.6 .5-3.6 .5 3.9 .5-3.1 .5 3 .5-3.2 .5 3.2 .5-.7 .5 .4 .5-.8 .5 1.1 .5-.6 .5 .6 .5-1.1 .5 1 .5-.5 .5 .6 .5-.6 .5 .5 .5-1 .5 1 .5-1.1 .5 1.3 .5-1.1 .5 .9 .5-1.8 .5 1.8 .5-7.2 .5 7.2 .5-.9 .5 .8 .5-1.1 .5 1.1 .5-1.7 .5 1.8 .5-1.7 .5 1.5 .5-.9 .5 1.1 .5-1.4 .5 1.4 .5-1.9 .5 1.9 .5-1.2 .5 1.4 .5-2.3 .5 2 .5-.9 .5 1 .5-2.2 .5 2.3 .5-4.5 .5 4.6 .5-2.5 .5 2.1 .5-1.9 .5 2.1 .5-4.5 .5 4.7 .5-4.7 .5 4.5 .5-1.3 .5 1.2 .5-2.3 .5 2.6 .5-3.1 .5 2.8 .5-3.7 .5 3.7 .5-3.1 .5 3.1 .5-1.4 .5 1.5 .5-5.2 .5 5.1 .5-4.6 .5 4.7 .5-2.4 .5 2.5 .5-4.2 .5 3.9 .5-3.4 .5 3.5 .5-2.2 .5 2.3 .5-2.1 .5 2.2 .5-2.9 .5 2.6 .5-.6 .5 1 .5-1.3 .5 1.1 .5-.8 .5 .8 .5-1.5 .5 1.6 .5-1.2 .5 1.3 .5-1.3 .5 1.2 .5-2 .5 2 .5-1.8 .5 1.5 .5-1 .5 1.1 .5-2.1 .5 2.2 .5-2.3 .5 2.3 .5-1.4 .5 1.3 .5-2.9 .5 3.1 .5-1.2 .5 1.1 .5-1.6 .5 1.8 .5-5.1 .5 5.1 .5-4.9 .5 4.7 .5-1.8 .5 1.8 .5-2.6 .5 2.4 .5-5.2 .5 2.9 .5 1.2 .5 1 .5-3 .5-.8 .5-6.8 .5-.9 .2-.3 .3-2.3 .5 5.4 .5 .7 .5 5 .5 .4 .5 1.6 .5-2.7 .5 3.2 .5-.8 .5 1.2 .5-2 .5 2 .5-1.5 .5 1.7 .5-2.1 .5 2.2 .5-2.5 .5 2.3 .5-2.3 .5 2.5 .5-2.1 .5 2.2 .5-1.4 .5 .4 .5-1.8 .5 2.7 .5-1.2 .5 1.2 .5-.9 .5 .9 .5-2 .5 2.2 .5-2.2 .5 2.2 .5-1.6 .5 1.7 .5-1.8 .5 1.6 .5-.7 .5 .6 .5-1.5 .5 1.6 .5-1.1 .5 1 .5-.9 .5 1 .5-1.2 .5 1.2 .5-1.6 .5 1.7 .5-2.7 .5 2.7 .5-1.8 .5 1.7 .5-.6 .5 .5 .5-1.7 .5 1.7 .5-1.4 .5 1.4 .5-.8 .5 .9 .5-2.1 .5 2.1 .5-3.1 .5 3.1 .5-1.5 .5 1.4 .5-1.5 .5 1.4 .5-1 .5 1.2 .5-.8 .5 .6 .5-1.3 .5 1.5 .5-1.4 .5 1.2 .5-.8 .5 1 .5-1.9 .5 2 .5-1.9 .5 1.9 .5-1.6 .5 1.5 .5-2 .5 .2 .5-.2 .5 2 .5-.5 .5 .4 .5-1.2 .5 1.3 .5-.9 .5 .8 .5-1.4 .5 1.3 .5-1.4 .5 1.6 .5-2.2 .5 2.2 .5-1.9 .5 1.9 .5-3.2 .5 3.1 .5-1.7 .5 1.7 .5-3.6 .5 3.5 .5-1.2 .5 1.3 .5-1.6 .5 1.9 .5-1.7 .5 1.7 .5-2 .5 2 .5-2.4 .5 2.2 .5-9.9 .5 10.1 .5-2.2 .5 2.2 .5-4 .5 3.8 .5-5.6 .5 4.9 .5-4 .5 4.8 .5-3.8 .5 3.6 .5-4.2 .5 4.3 .5-2 .5 2.2 .5-5 .5 4.8 .5-2.4 .5 2.6 .5-2.2 .5 1.8 .5-3.1 .5 3.5 .5-2.7 .5 .8 .5-3.1 .5 4.6 .5-1.8 .5 1.9 .5-3.1 .5 3.1 .5-1.6 .5 1.8 .5-2.1 .5 2 .5-1.2 .5 1.3 .5-2 .5 1.9 .5-1.6 .5 1.5 .5-4.7 .5 4.6 .5-.2 .5 .3 .5-.8 .5 .8 .5-1.8 .5 2.1 .5-.9 .5 .6 .5-.7 .5 .8 .5-1 .5 .7 .5-3.1 .5-5.3 .5-15.3 .5-17 .5-11.9 .5 9.7 .5 10.1 .5 13.3 .5 4.3 .5 8.3 .5-.2 .5 3.4 .5-3.3 .5 4.6 .5-1.4 .5 2.2 .5-2.9 .5 3.5 .5-4.4 .5 2.8 .5-1.1 .5 3.2 .5-3 .5 3.1 .5-2.1 .5 2.5 .5-2.1 .5 2.1 .5-3 .5 3.2 .5-1.7 .5 1.8 .5-3.6 .5 3.5 .5-4 .5 4 .5-4.6 .5 4.6 .5-1.7 .5 1.7 .5-3 .5 3.2 .5-2.3 .5 2.2 .5-3.4 .5 3.3 .5-2.9 .5 3 .5-5.3 .5 5.2 .5-1.7 .5-.5 .5-1.3 .5 3.7 .5-2.3 .5 2.1 .5-3.9 .5 4.1 .5-5.6 .5 5.5 .5-4.2 .5 4.3 .5-5.1 .5 5.1 .5-2.4 .5 2.1 .5-4.4 .5 4.5 .5-2.9 .5 2.8 .5-3.5 .5 3.8 .5-2.4 .5 2.4 .5-2 .5 2.1 .5-4 .5 3.7 .5-2.4 .5 2.5 .5-5.5 .5 5.6 .5-3 .5 3 .5-3.5 .5 3.2 .5-2 .5 2 .5-2.1 .5 2.3 .5-5.3 .5 5.5 .5-2.9 .5 2.7 .5-5.8 .5 6 .5-2.5 .5 2.3 .5-1.7 .5 1.6 .5-2.3 .5 2.3 .5-2.4 .5 2.4 .5-2 .5 2.2 .5-1.8 .5 1.7 .5-2.6 .5 2.5 .5-3.2 .5 3.5 .5-5.9 .5 5.8 .5-3 .5 3 .5-5.9 .5 5.7 .5-5.3 .5 5.6 .5-4.4 .5-.5 .5 1.2 .5 3.7 .5-2.7 .5 2.6 .5-2.9 .5 2.7 .5-1.6 .5 1.9 .5-2.8 .5 2.8 .5-2 .5 1.8 .5-1 .5 1.2 .5-3.7 .5 3.7 .5-3.4 .5 3.1 .5-1.7 .5 1.7 .5-2.4 .5 2.5 .5-4.9 .5 4.9 .5-3.6 .5 3.7 .5-3 .5 2.8 .5-1.9 .5 1.9 .5-3.1 .5 3.4 .5-2.3 .5 2 .5-1.7 .5 2 .5-2.8 .5 2.6 .5-4.5 .5 4.7 .5-1 .5 1 .5-1.2 .5 .8 .5-1 .5 1.1 .5-.9 .5 1 .5-1.5 .5 1.3 .5-1.1 .5 1.4 .5-.9 .5 1 .5-1.7 .5 1.6 .5-2 .5 2 .5-.9 .5 .9 .5-.7 .5 .5 .5-.4 .5 .4 .5-1 .5 1 .5-.9 .5 1 .5-1.9 .5 1.8 .5-.8 .5 .9 .5-2.8 .5 2.9 .5-1.6 .5 1.3 .5-2.2 .5 2.4 .5-1.5 .5 1.6 .5-3.2 .5 3.2 .5-1.8 .5 1.6 .5-.8 .5 .7 .5-2.4 .5 2.4 .5-1.5 .5 1.6 .5-1 .5 1 .5-3.1 .5 3.1 .5-2.7 .5 2.8 .5-2.2 .5 2.3 .5-3.4 .5 3.1 .5-1.8 .5 2.1 .5-3.6 .5 3.4 .5-1.5 .5 1.5 .5-.9 .5 1.2 .5-1.8 .5 1.7 .5-1.3 .5 1.4 .5-3.8 .5 3.7 .5-3.3 .5 3.4 .5-2.3 .5 2.2 .5-3.3 .5 3.3 .5-2.5 .5 2.5 .5-3 .5 3 .5-3.7 .5 3.4 .5-3.4 .5 3.8 .5-2.7 .5 2.5 .5-4.5 .5 4.4 .5-4.7 .5 4.9 .5-4.1 .5 4.1 .5-2 .5 1.8 .5-1.9 .5 2.2 .5-1.4 .5 1.4 .5-1.8 .5 1.7 .5-2.6 .5 2.4 .5-1.8 .5 2.1 .5-2.4 .5 2.2 .5-1.4 .5 1.4 .5-1.2 .5 1 .5-.3 .5 .7 .5-1.3 .5 1.2 .5-2.5 .5 2.4 .5-1.8 .5 1.8 .5-1.5 .5 1.5 .5-2.2 .5 2 .5-3.3 .5 3.6 .5-1.9 .5 1.6 .5-2.5 .5 2.8 .5-4.2 .5 4.2 .5-1.3 .5 1.3 .5-1.5 .5 1.3 .5-2.8 .5 3 .5-1.4 .5 1.3 .5-1.4 .5 1.5 .5-2.9 .5 2.9 .5-2.7 .5 2.7 .5-2.1 .5 2.2 .5-2.4 .5 2 .5-1.9 .5 2.2 .5-2.1 .5 2.1 .5-1.4 .5 1.2 .5-.8 .5 .9 .5-2.2 .5 2 .5-4.8 .5 1.8 .5 1.5 .5 1.9 .5-1.2 .5-1.3 .5-1 .5 3.1 .5-.3 .5 .4 .5-1 .5 .9 .5-.5 .5 .8 .5-.6 .5 .5 .5-.6 .5 .4 .5-.4 .5 .6 .5-.9 .5 1.1 .5-1.2 .5 1 .5-1.1 .5 1.1 .5-.6 .5 .6 .5-.4 .5 .5 .5-1.3 .5 1.4 .5-.9 .5 .7 .5-.6 .5 .5 .5-1 .5 0 .5 .3 .5 .8 .5-1 .5 1.2 .5-1.3 .5 1.1 .5-.6 .5 .7 .5-1.1 .5 1 .5-1.2 .5 1.1 .5-.8 .5 .8 .5-.8 .5 .9 .5-1.1 .5 1.3 .5-1.5 .5 1.3 .5-1.1 .5 1.1 .5-2.9 .5 2.9 .5-4.6 .5 1.6 .5-.4 .5 3.4 .5-.7 .5 .6 .5-1.4 .5 .5 .5-3.6 .5-3.4 .5-8.4 .4 1.3 .1-.1 .5-.1 .5 6.5 .5 2.4 .5 3.3 .5 .2 .5 1.4 .5-1.2 .5 1.7 .5-2.6 .5 2.9 .5-1.4 .5 1.8 .5-2.4 .5 2.5 .5-1.6 .5 1.7 .5-1.8 .5 1.8 .5-1.2 .5 1 .5-.8 .5 1.2 .5-1.8 .5 1.7 .5-1.2 .5 1.2 .5-1.7 .5 1.6 .5-.9 .5 1 .5-.6 .5 .5 .5-.9 .5 .9 .5-4.4 .5 .8 .5-.9 .5 4.8 .5-.7 .5-1.4 .5-1 .5 2.7 .5-.4 .5 .5 .5-.4 .5 .7 .5-1.4 .5 1.2 .5-1.2 .5 1.3 .5-1.7 .5 1.8 .5-1.4 .5 1.2 .5-1.1 .5 1.2 .5-2.1 .5 2 .5-2.4 .5 2.3 .5-3.5 .5 3.6 .5-2.3 .5 2.2 .5-2.6 .5 2.8 .5-1.6 .5 1.3 .5-3.1 .5 3.2 .5-1.6 .5 1.8 .5-2.2 .5 2.2 .5-2.1 .5 2.1 .5-2.7 .5 2.6 .5-5.3 .5 5.2 .5-4.1 .5 4.2 .5-2.7 .5 2.8 .5-2.3 .5 2.3 .5-3.2 .5 3.3 .5-2.2 .5 1.9 .5-3.4 .5 3.5 .5-4.5 .5 4.6 .5-2.4 .5 2.1 .5-4.8 .5 5.2 .5-4.9 .5 4.5 .5-3.2 .5 3.4 .5-5.1 .5 5.1 .5-1.6 .5 1.7 .5-2.7 .5 2.8 .5-3.9 .5 3.7 .5-3.4 .5 3.6 .5-2 .5 1.9 .5-1 .5 .9 .5-.5 .5 .3 .5-1 .5-.9 .5-6 .5-3.3 .5-4.3 .1 .4 .4 1.3 .5 2.8 .5 4.6 .5 1 .5 3.1 .5 0 .5 1.3 .5-.5 .5 .7 .5-2.3 .5 2.8 .5-2.4 .5 2.6 .5-2.2 .5 2.1 .5-1.1 .5 1.3 .5-3.2 .5 3.2 .5-1.6 .5 1.8 .5-1 .5 .8 .5-2.1 .5 2.2 .5-.7 .5 .8 .5-1.7 .5 1.8 .5-1.2 .5 1 .5-1.3 .5 1.4 .5-2.1 .5 2 .5-1.3 .5-1.9 .5 .2 .5 2.9 .5-2.8 .5 3 .5-3.4 .5 3.6 .5-3.6 .5 3.2 .5-1.9 .5 2 .5-1.8 .5 2 .5-4.7 .5 4.7 .5-2.8 .5 2.8 .5-3 .5 2.8 .5-1.8 .5 1.8 .5-3 .5 3.2 .5-1.4 .5 1.2 .5-4.1 .5 4.3 .5-1.5 .5 1.4 .5-4.2 .5 4 .5-3.1 .5 3.2 .5-5.9 .5 6.1 .5-2.2 .5 2.2 .5-1.5 .5 1.4 .5-3.3 .5 3.4 .5-2.5 .5 2.5 .5-4.5 .5 4.6 .5-1.8 .5 1.5 .5-1.1 .5 1.1 .5-2.7 .5 2.9 .5-2.4 .5 2.5 .5-4 .5 3.8 .5-2.7 .5 2.7 .5-2.9 .5 3.1 .5-2.7 .5 2.4 .5-3.7 .5 3.8 .5-3.1 .5 3.2 .5-3.7 .5 3.4 .5-3.8 .5 4.1 .5-5.8 .5 3.7 .5-.2 .5 2.1 .5-4.8 .5 4.9 .5-2 .5 2 .5-2.3 .5 2.4 .5-2.9 .5 2.9 .5-2.4 .5 2.4 .5-4 .5 3.8 .5-1.9 .5 1.8 .5-1.7 .5 2 .5-3 .5 2.7 .5-5.3 .5 5.6 .5-3.4 .5 3.2 .5-3 .5 3.3 .5-3.9 .5 3.6 .5-4.2 .5 4.5 .5-4.3 .5 4.2 .5-5.2 .5 5.3 .5-5.1 .5 4.7 .5-1.4 .5 1.5 .5-2.3 .5 2.4 .5-3.3 .5 3.4 .5-2.7 .5 2.7 .5-3.7 .5 3.6 .5-3.1 .5 3 .5-3 .5 3.2 .5-1.2 .5 1.1 .5-1.1 .5 .9 .5-1.7 .5 1.9 .5-3.3 .5 3.5 .5-3.3 .5 3 .5-1.5 .5 1.4 .5-1.5 .5-1.2 .5 .3 .5 2.6 .5-2 .5 2 .5-1.5 .5 1.5 .5-1.5 .5 1.4 .5-1.4 .5 1.5 .5-1 .5 1 .5-1.5 .5 1.5 .5-2.6 .5 2.5 .5-1.1 .5 1.2 .5-.9 .5 1 .5-.9 .5 .7 .5-1.3 .5 1.4 .5-.8 .5 .8 .5-2.1 .5 2.1 .5-1.9 .5 1.7 .5-2.3 .5 2.3 .5-1.8 .5 2 .5-1.2 .5 1.3 .5-1.7 .5 1.6 .5-2 .5 2 .5-2.9 .5 3 .5-3.2 .5 3.3 .5-3.6 .5 3.3 .5-1.5 .5 1.4 .5-1.4 .5 1.6 .5-3.9 .5 1.7 .5-2.5 .5 4.6 .5-3 .5 3.3 .5-2.9 .5 2.8 .5-3.8 .5 3.5 .5-3.9 .5 4.2 .5-2.3 .5 2.2 .5-3.3 .5 3.3 .5-3 .5 3 .5-2.4 .5 2.6 .5-.9 .5 .9 .5-.9 .5 .7 .5-1 .5 1.2 .5-2.8 .5 2.7 .5-4 .5 4 .5-3.7 .5 3.6 .5-2.2 .5 2.1 .5-1.2 .5 1.3 .5-2.6 .5 2.5 .5-1.7 .5 1.7 .5-3.9 .5 4 .5-1.4 .5 1.4 .5-1.4 .5 1.4 .5-1.9 .5 1.8 .5-4 .5 4.3 .5-5.5 .5 5.3 .5-3.6 .5 3.5 .5-1 .5 1 .5-2.9 .5 3.1 .5-2.2 .5 2 .5-1.2 .5 1.3 .5-3.4 .5 3.3 .5-3 .5 3.2 .5-4.2 .5 4.1 .5-1.5 .5 1.4 .5-2.2 .5 2.4 .5-3 .5 2.9 .5-1.6 .5 1.6 .5-4.8 .5 4.8 .5-4.5 .5 4.6 .5-1.7 .5 1.6 .5-2.1 .5 1.9 .5-1 .5 1.4 .5-2.3 .5 1.9 .5-1.6 .5 1.7 .5-1.7 .5 1.6 .5-2.9 .5 3 .5-2 .5 2.3 .5-1.4 .5 1.3 .5-1.4 .5 1.3 .5-1.8 .5 1.9 .5-2 .5 1.8 .5-1.3 .5 1.3 .5-1 .5 1 .5-.5 .5 .6 .5-1.8 .5 1.9 .5-1.3 .5 1.4 .5-1.5 .5 1.1 .5-.7 .5 1 .5-1.3 .5 1.3 .5-1.4 .5 1.4 .5-.7 .5 .6 .5-1.5 .5 1.5 .5-1 .5 1.1 .5-2 .5-2.2 .5-.6 .5 2.3 .5 .4 .5 .9 .5-1.6 .5 2.6 .5-.6 .5 .9 .5-1.1 .5 1 .5-1 .5 .9 .5-.7 .5 .6 .5-1.5 .5 1.6 .5-.7 .5 .6 .5-.5 .5 .5 .5-.9 .5 1.1 .5-1 .5 1 .5-.7 .5 .6 .5-.9 .5 1.1 .5-1.1 .5 1 .5-.8 .5 .8 .5-.9 .5 .9 .5-1 .5 1.1 .5-.8 .5 .6 .5-1 .5 .9 .5-1.1 .5 1.2 .5-1.8 .5 1.7 .5-.9 .5 1 .5-2.1 .5 1.5 .5-2.1 .5 2.8 .5-1.9 .5 1.9 .5-2.2 .5 2 .5-6.3 .5 2.7 .5 .1 .5 3.4 .5-2 .5 1.8 .5-4.2 .5-.4 .5-7.5 .5-.7 .1-.1 .4-5.6 .5 8.5 .5 2.2 .5 4.9 .5-.7 .5 2.8 .5-2.6 .5 2.8 .5-7.7 .5 8.1 .5-2.9 .5 2.9 .5-3.9 .5 4.3 .5-4.3 .5 4.3 .5-4.7 .5 4.6 .5-4.8 .5 4.9 .5-1.4 .5 1.5 .5-1.9 .5 1.9 .5-2.4 .5 2.6 .5-1.8 .5 1.7 .5-2.3 .5 2.4 .5-1.2 .5 1 .5-1.1 .5 1.1 .5-1.5 .5 1.4 .5-1.5 .5 1.6 .5-2.2 .5 2.4 .5-1.5 .5 1.4 .5-.9 .5 .8 .5-1 .5 1.1 .5-.8 .5 .7 .5-1.9 .5 2 .5-2.7 .5 1.2 .5-.6 .5 2 .5-2.5 .5 1 .5-2.8 .5 4.4 .5-2.6 .5 2.7 .5-4.4 .5 4.2 .5-2.5 .5 2.7 .5-2 .5 1.8 .5-2.1 .5 2 .5-3.2 .5 3.4 .5-4.6 .5 4.7 .5-2.6 .5 2.3 .5-5.2 .5 5.3 .5-3.3 .5 2.3 .5-2.3 .5 2.1 .5-1.9 .5 3.1 .5-1.9 .5 1.9 .5-3.9 .5 4.2 .5-5.1 .5 4.3 .5-.6 .5 1.3 .5-1.1 .5 1 .5-3.1 .5 3.2 .5-3.9 .5 3.9 .5-3.5 .5 3.4 .5-2.9 .5 3.1 .5-1.6 .5 1.5 .5-2 .5 1.9 .5-4.4 .5 4.4 .5-2.7 .5 2.6 .5-2 .5 2 .5-1.3 .5 1.5 .5-3.6 .5 3.3 .5-1.6 .5 1.8 .5-3.7 .5 3.5 .5-3 .5 3.4 .5-1.3 .5 1 .5-1.4 .5 1.6 .5-3.3 .5 3 .5-.9 .5 1.1 .5-1.2 .5 1.1 .5-1.1 .5 1.2 .5-4.6 .5 2.8 .5-4.4 .5 4.7 .5-2.9" fill="none" stroke="#000" stroke-width="4.0" stroke-linejoin="round"/>
<rect x="609.3" y="2309.0" width="33.0" height="31.6" fill="#000"/>
<text x="750.5" y="2342.9" font-size="60.5" text-anchor="middle" stroke="#000" stroke-width="0.6">*</text>
<text x="1799.9" y="2349.4" font-size="60.5" text-anchor="middle" stroke="#000" stroke-width="0.6">*</text>
<text x="2329.7" y="2205.0" font-size="51.3" text-anchor="end">75 fmole</text>
<text x="369.4" y="2283.2" font-size="45">S/N = 12.3</text>
<line x1="600.1" y1="2348.1" x2="557.7" y2="2315.4" stroke="#000" stroke-width="2.6" stroke-linecap="butt"/>
<polygon points="542.7,2303.8 565.1,2309.1 553.5,2324.2" fill="#000"/>
<path d="M364 2627.5l .5-1.3 .5 1.2 .5-2.4 .5 2.2 .5-1.1 .5 1.2 .5-1 .5 .9 .5-.7 .5 .8 .5-2.4 .5 2.5 .5-2.6 .5 2.7 .5-1.7 .5 1.7 .5-2.3 .5 2.3 .5-1 .5 .9 .5-.6 .5 .5 .5-.9 .5 .8 .5-1 .5 1 .5-.3 .5 .5 .5-.7 .5 .6 .5-1.1 .5 1.2 .5-.9 .5 .9 .5-1.4 .5 1.3 .5-1.5 .5 1.6 .5-1.1 .5 .9 .5-1.9 .5 2 .5-.7 .5 .6 .5-2.1 .5 2.2 .5-2.5 .5 2.5 .5-4.2 .5 4.3 .5-2.8 .5 2.7 .5-1 .5 1.1 .5-1.7 .5 1.7 .5-4.5 .5 4.3 .5-1.4 .5 1.7 .5-1.3 .5 1.1 .5-3.9 .5 3.9 .5-3.3 .5 3.5 .5-1.4 .5 1.4 .5-3.7 .5 3.6 .5-3.6 .5 3.5 .5-1.5 .5 1.6 .5-4.5 .5 4.3 .5-1.7 .5 2 .5-4.3 .5 4.2 .5-3.2 .5 3.3 .5-2.4 .5 2.1 .5-3.7 .5 3.9 .5-2.8 .5 2.7 .5-3.5 .5 3.7 .5-3.8 .5 3.6 .5-4.2 .5 4.3 .5-4.4 .5 4.5 .5-3.4 .5 3.3 .5-1.2 .5 1 .5-2 .5 2.1 .5-2.6 .5 2.8 .5-2.9 .5 2.6 .5-4.3 .5 4.3 .5-2.5 .5 2.5 .5-1.1 .5 1.2 .5-3.3 .5 3.4 .5-3.2 .5 3.1 .5-2.1 .5 2 .5-4 .5 4.3 .5-2.7 .5 2.7 .5-4.2 .5 4 .5-4 .5 4 .5-2.2 .5 2 .5-2.5 .5 2.3 .5-2.5 .5 .1 .5-3.9 .5 1.5 .5-.7 .5 2.3 .5-1.6 .5 3.6 .5-.8 .5 1.5 .5-1.6 .5 1.8 .5-1.7 .5 1.9 .5-1.7 .5 2 .5-2.5 .5 2.3 .5-2 .5 2.2 .5-.6 .5 .6 .5-.4 .5 .4 .5-.5 .5 .5 .5-.3 .5 .6 .5-.7 .5 .7 .5-1 .5-2 .5 1.5 .5 1.3 .5-1.5 .5 1.7 .5-2.7 .5 2.5 .5-.8 .5 .9 .5-1.9 .5 2 .5-1.1 .5 .9 .5-2.1 .5 2.3 .5-.7 .5 .7 .5-1 .5 .9 .5-1 .5 1 .5-.5 .5 .5 .5-.6 .5 .8 .5-1 .5 .9 .5-1 .5 1.1 .5-1.3 .5 1.3 .5-2.3 .5 2.1 .5-.8 .5 .9 .5-.7 .5 .7 .5-1.1 .5 .9 .5-1 .5 1 .5-.8 .5 .9 .5-.8 .5 .9 .5-.6 .5 .7 .5-.7 .5 .7 .5-1 .5 1 .5-.5 .5 .5 .5-.8 .5 .5 .5-.8 .5 .9 .5-1.2 .5 1.4 .5-1.4 .5 1.4 .5-.8 .5 .6 .5-1 .5 1.1 .5-2.6 .5 2.4 .5-.8 .5 .8 .5-.4 .5 .4 .5-.4 .5 .4 .5-.3 .5 .6 .5-.5 .5 .4 .5-.8 .5 .8 .5-1.2 .5 1.1 .5-.9 .5-1.5 .5-.3 .5 .5 .5 .8 .5 1.4 .5-1.6 .5 1 .5-2.1 .5-.7 .5-2.8 .3 1.1 .2 .2 .5-.6 .5 2.4 .5-.3 .5 2.1 .5-.4 .5 .7 .5-1.4 .5 1.8 .5-1.1 .5 1.2 .5-1.6 .5 1.4 .5-1.3 .5 1.5 .5-.5 .5 .9 .5-2 .5 1.9 .5-7.7 .5 1.8 .5 4.5 .5 1.5 .5-.9 .5 1 .5-1.1 .5 1.1 .5-1.1 .5 1 .5-.7 .5 1 .5-2.9 .5 2.9 .5-1 .5 .8 .5-1 .5 1.1 .5-2.9 .5 2.7 .5-1.7 .5 1.7 .5-1.7 .5 1.8 .5-1.3 .5 1.5 .5-2 .5 2 .5-.6 .5 .6 .5-1 .5 .9 .5-1.5 .5 1.6 .5-1.1 .5 1 .5-1 .5 .8 .5-.4 .5 .5 .5-.6 .5 .8 .5-.8 .5 .8 .5-.7 .5 .6 .5-1 .5 1.1 .5-.8 .5 .6 .5-1.5 .5 1.4 .5-.8 .5 .9 .5-1.4 .5 1.4 .5-.9 .5 1.1 .5-1.4 .5 1.3 .5-1.5 .5 1.6 .5-2.3 .5 2.1 .5-1 .5 1.2 .5-1.6 .5 1.3 .5-1.2 .5 1.4 .5-.8 .5 .7 .5-1.1 .5 1.3 .5-1.1 .5 1 .5-1.1 .5 1 .5-.6 .5 .7 .5-1 .5 .9 .5-.6 .5 .8 .5-1.4 .5 1.3 .5-1.2 .5 1.3 .5-1 .5 .8 .5-.5 .5 .5 .5-1.2 .5 1.4 .5-1.5 .5 1.2 .5-.4 .5 .6 .5-.5 .5 .3 .5-.7 .5 1 .5-1.5 .5 1.4 .5-.8 .5 .9 .5-.7 .5 .1 .5-1.7 .5-.2 .5-2.2 .5 .4 .5-.1 .5 1.4 .5-.6 .5 2.1 .5-.5 .5 1.1 .5-.9 .5 1.1 .5-1.3 .5 1.5 .5-1.4 .5 1.5 .5-1.8 .5 1.8 .5-1.7 .5 1.9 .5-1.9 .5 1.9 .5-2.5 .5 2.5 .5-2.4 .5 2.3 .5-1.4 .5 1.6 .5-3.1 .5 2.9 .5-1.6 .5 1.9 .5-1 .5 .8 .5-1.4 .5 1.6 .5-1.7 .5 1.6 .5-1 .5 .9 .5-1.6 .5 1.8 .5-3.5 .5 3.4 .5-2.8 .5 2.7 .5-1.6 .5 1.7 .5-3.4 .5 3.2 .5-1.5 .5 1.7 .5-1.1 .5 1.2 .5-1.4 .5 1.2 .5-1.5 .5 1.4 .5-1.1 .5 1.1 .5-1.3 .5 1.3 .5-1.9 .5 2 .5-1 .5 1.3 .5-1 .5 .6 .5-.9 .5 1.1 .5-1.2 .5 1.1 .5-.5 .5 .5 .5-.6 .5 .7 .5-1.2 .5 1.1 .5-.4 .5 .3 .5-.3 .5 .5 .5-1.3 .5 1.4 .5-2.4 .5 2.2 .5-2 .5 1.9 .5-.4 .5 .7 .5-1 .5 .7 .5-.3 .5 .4 .5-1.2 .5 1.4 .5-.9 .5 .7 .5-1.5 .5 1.4 .5-1.2 .5 1.3 .5-1.5 .5 1.5 .5-1.1 .5 1.3 .5-.6 .5 .3 .5-.2 .5 .2 .5-.8 .5 .8 .5-2.1 .5 2.4 .5-1.7 .5 1.6 .5-1 .5 .8 .5-.4 .5 .4 .5-.5 .5 .7 .5-.9 .5 .8 .5-.9 .5 .8 .5-.7 .5 .8 .5-1.4 .5 1.5 .5-1.1 .5 1.2 .5-1.7 .5 .6 .5-3.8 .5-4.2 .5-9.8 .5-8.3 .4-3.3 .1-.2 .5 5 .5 3.9 .5 8.1 .5 3.6 .5 3.2 .5 .9 .5 1.6 .5-.8 .5 1.7 .5-.3 .5 1.2 .5-.5 .5 1.1 .5-1.6 .5 1.9 .5-2.7 .5 3.1 .5-1.4 .5 1.5 .5-2.6 .5 2.9 .5-1.4 .5 1.7 .5-1.8 .5 1.8 .5-2.4 .5 2.5 .5-1.8 .5 2.1 .5-2.6 .5 2.5 .5-3.2 .5 3.2 .5-1.7 .5 1.8 .5-2.8 .5 2.9 .5-3.9 .5 3.6 .5-3.3 .5 3.5 .5-4.8 .5 4.8 .5-3.2 .5 3.3 .5-1.6 .5 1.6 .5-2.1 .5 2 .5-1.3 .5 1.4 .5-4.7 .5 4.5 .5-2.7 .5 3 .5-2 .5 1.7 .5-2 .5 2 .5-1.7 .5 2 .5-3.3 .5 3 .5-3.1 .5 3.1 .5-1.7 .5 1.7 .5-3.5 .5 3.8 .5-1.1 .5 .9 .5-1.9 .5 1.8 .5-2.7 .5 3 .5-1.5 .5 1.5 .5-4.3 .5 4.2 .5-3 .5 2.8 .5-3.2 .5 3.4 .5-2.8 .5 2.6 .5-.9 .5 1.2 .5-2.7 .5 2.6 .5-2.1 .5 2.1 .5-1.4 .5 1.2 .5-1 .5 1.3 .5-1.7 .5 1.7 .5-2.3 .5 2.1 .5-1 .5 1 .5-.4 .5 .6 .5-1.1 .5 .9 .5-.9 .5 .9 .5-.6 .5 .8 .5-1.1 .5 1.1 .5-1 .5 .9 .5-1.4 .5 1.5 .5-.7 .5 .7 .5-1.6 .5 1.4 .5-.6 .5 .5 .5-1.8 .5 2 .5-.9 .5 .8 .5-1.6 .5 1.8 .5-1.1 .5 .6 .5-2 .5-.6 .5-3.4 .5 .9 .5-1.7 .5 3.5 .5 .1 .5 1.7 .5-2 .5 2.9 .5-1.1 .5 1.2 .5-2 .5 2.4 .5-2.2 .5 2.1 .5-1.3 .5 1.4 .5-2.6 .5 3 .5-2.4 .5 2.4 .5-1.3 .5 1.1 .5-3 .5 1.5 .5 .3 .5 1.5 .5-1.6 .5 1.4 .5-1.6 .5 1.6 .5-1 .5 1.2 .5-2.1 .5 2.1 .5-4 .5 3.8 .5-1.6 .5 1.6 .5-4 .5 4.2 .5-1.8 .5 .7 .5-2.4 .5 2.5 .5-1.8 .5 2.6 .5-2 .5 2 .5-3.9 .5 4.1 .5-1.8 .5 1.7 .5-3.2 .5 3.1 .5-1.8 .5 1.8 .5-1.1 .5 1.3 .5-2.4 .5 2.5 .5-3.3 .5 3.2 .5-2.1 .5 2.2 .5-2.7 .5 2.6 .5-2.1 .5 2 .5-1.7 .5 1.9 .5-2.3 .5 2.2 .5-1.4 .5 .8 .5-.9 .5 1.6 .5-1.2 .5 1 .5-1 .5 1 .5-.4 .5 .5 .5-1.1 .5 1.1 .5-.6 .5 .7 .5-1.1 .5 1 .5-.5 .5 .4 .5-.9 .5 1.1 .5-.8 .5 .6 .5-.8 .5 1 .5-1.1 .5 .9 .5-.7 .5 .9 .5-1 .5 .9 .5-1.9 .5 1.8 .5-2.3 .5 2.3 .5-.6 .5 .8 .5-1.9 .5 1.5 .5-.8 .5 .8 .5-3.1 .5-.2 .5-6.9 .5-7.6 .5-15.8 .5-18.6 .5-22.5 .5-16.7 .5-9.3 .1 .5 .4 4.5 .5 11.5 .5 18.3 .5 17.4 .5 16.9 .5 10.8 .5 9.5 .5 3.6 .5 3.5 .5 1 .5 1.4 .5-.8 .5 1.3 .5-.7 .5 1 .5-.4 .5 .9 .5-.8 .5 1.2 .5-.7 .5 .6 .5-1.3 .5 1.6 .5-.8 .5 .6 .5-.5 .5 .9 .5-.9 .5 .8 .5-.9 .5 1.1 .5-1.1 .5 .8 .5-.4 .5 .7 .5-1.3 .5 1.3 .5-1.7 .5 1.7 .5-1.4 .5 1.1 .5-1 .5 .9 .5-2.6 .5 2.7 .5-2.4 .5 2.7 .5-1.4 .5 1.2 .5-1 .5 .9 .5-2.2 .5 2.5 .5-2.2 .5 2.1 .5-2.7 .5 2.7 .5-3.2 .5 3.1 .5-2.1 .5 2.2 .5-2.8 .5 .4 .5 1.2 .5 1.1 .5-1.7 .5 1.9 .5-2.8 .5 2.8 .5-1.9 .5 1.6 .5-1.7 .5 1.7 .5-1.2 .5 1.5 .5-3.6 .5 3.6 .5-2.5 .5 2.5 .5-1.3 .5 1.2 .5-4.2 .5 4.1 .5-1.6 .5 1.8 .5-2.9 .5 2.9 .5-4.1 .5 3.8 .5-1 .5 1.2 .5-2 .5 1.8 .5-2.3 .5 2.4 .5-1.3 .5 1.2 .5-1.8 .5 2 .5-3.1 .5 2.9 .5-4.3 .5 4.6 .5-4.4 .5 4.2 .5-1.3 .5 1.2 .5-3.6 .5 3.6 .5-3.1 .5 3.2 .5-3 .5 3.1 .5-.9 .5 .9 .5-1.2 .5 1.2 .5-2.7 .5 2.6 .5-2.3 .5 2.5 .5-.9 .5 .6 .5-1.5 .5 1.5 .5-.5 .5 .5 .5-1.6 .5 1.9 .5-1.8 .5 1.5 .5-1.8 .5 1.9 .5-1.9 .5 1.8 .5-.7 .5 1 .5-2.9 .5 2.6 .5-1.7 .5 1.4 .5-3.9 .5 .9 .5-6.7 .5-1.6 .5-4 .5 3.5 .5-.6 .5 5.8 .5 0 .5 3.9 .5-3.4 .5 4.6 .5-2.8 .5 3 .5-1 .5 1.7 .5-1.3 .5 1.3 .5-2.8 .5 3.2 .5-2.4 .5 2.3 .5-.8 .5 1.3 .5-1.3 .5 1.2 .5-2.3 .5 2.5 .5-1.6 .5 1.7 .5-3 .5 2.9 .5-2.6 .5 2.7 .5-3.4 .5 3.5 .5-3.3 .5 3.2 .5-3.3 .5 3.1 .5-1.5 .5 1.7 .5-.7 .5 .6 .5-.8 .5 .9 .5-1.2 .5 1.2 .5-1.9 .5 2 .5-1 .5 .9 .5-1.5 .5 1.7 .5-1.4 .5 1.3 .5-1.7 .5 1.6 .5-2.2 .5 2.3 .5-2.2 .5 2.2 .5-.9 .5 .8 .5-2.4 .5 2.6 .5-1.4 .5 1.3 .5-1.4 .5 1.6 .5-2.8 .5 2.6 .5-2.3 .5 2.4 .5-2.8 .5 2.7 .5-1.7 .5 1.5 .5-3.5 .5 3.6 .5-1.5 .5 1.7 .5-1 .5 .9 .5-1.8 .5 1.7 .5-1.7 .5 1.7 .5-2.2 .5 2.3 .5-1.3 .5 1.2 .5-1.9 .5 1.9 .5-3.1 .5 3.2 .5-1.1 .5 1.1 .5-1.7 .5 1.6 .5-1.4 .5 1.5 .5-1.7 .5 1.7 .5-1 .5 .9 .5-3 .5 3.1 .5-2.6 .5 1.9 .5-4 .5-1.3 .5-8.5 .5-6.4 .5-5.1 .5 4.5 .5 2.8 .5 6.4 .5 2.9 .5 3.7 .5 .2 .5 1.9 .5-.8 .5 1.7 .5-.6 .5 1.1 .5-.5 .5 1 .5-.9 .5 1.1 .5-1.3 .5 1.9 .5-.8 .5 .9 .5-1.8 .5 1.9 .5-1.1 .5 1.4 .5-1.1 .5 1.2 .5-.7 .5 .5 .5-1.5 .5 1.7 .5-1 .5 1 .5-1.1 .5 1.3 .5-1.3 .5 1.3 .5-.7 .5 .6 .5-.7 .5 .8 .5-.4 .5 .5 .5-.9 .5 .7 .5-.9 .5 1.1 .5-.8 .5 .6 .5-1.6 .5 1.8 .5-.9 .5 .9 .5-1.4 .5 1.4 .5-1 .5 1 .5-1.3 .5 1.4 .5-2 .5 2 .5-2.1 .5 2.1 .5-1.7 .5 1.4 .5-.6 .5 .8 .5-.8 .5 .8 .5-1.4 .5 1.3 .5-1.1 .5 1.2 .5-2.6 .5 2.4 .5-2.4 .5 2.4 .5-1.2 .5 1.4 .5-2.7 .5 1.6 .5-1.9 .5 3.1 .5-1.2 .5 .9 .5-1.9 .5 2.2 .5-1.5 .5 1.2 .5-2.4 .5 2.6 .5-2 .5-1.6 .5-2.2 .5 2.4 .5 1.4 .5 2.1 .5-1.8 .5 1.7 .5-3.4 .5 3.4 .5-1.5 .5 1.6 .5-1.5 .5 1.2 .5-1.5 .5 1.8 .5-1.1 .5-1.9 .5-1.8 .5 1.9 .5 1.1 .5 1.7 .5-1.8 .5 1.8 .5-2.3 .5 2.1 .5-1 .5 1 .5-.7 .5 .9 .5-1.8 .5 1.8 .5-.8 .5 .9 .5-1.8 .5 1.7 .5-2.8 .5 2.8 .5-1 .5 1 .5-2.2 .5 2.3 .5-1.3 .5 1.2 .5-1 .5 1.1 .5-1.1 .5 .9 .5-.6 .5 .7 .5-.9 .5 .9 .5-1.2 .5 1.1 .5-.8 .5 .8 .5-1.2 .5 1.3 .5-.6 .5-.1 .5-2.1 .5-1.7 .5-5.7 .5-3.7 .4-1.2 .1-.9 .5 2.7 .5 2.4 .5 3.7 .5 1.6 .5 2 .5 .2 .5 1.1 .5-.1 .5 .8 .5-1.2 .5 1.6 .5-1.4 .5 1.4 .5-1.6 .5 1.8 .5-.4 .5 .7 .5-1.1 .5 1.1 .5-.6 .5 1 .5-1.5 .5 1.4 .5-1.8 .5 2 .5-.9 .5 .7 .5-.5 .5 .9 .5-.9 .5 .9 .5-.8 .5 .8 .5-1.1 .5 1.1 .5-.8 .5 .7 .5-.9 .5 .9 .5-.9 .5 .8 .5-.4 .5 .3 .5-1.6 .5 1.8 .5-.7 .5 .8 .5-.7 .5 .7 .5-.5 .5 .4 .5-.7 .5 .7 .5-.9 .5 .8 .5-.9 .5 1.2 .5-1.4 .5 1.3 .5-.9 .5 .8 .5-.6 .5 .7 .5-.7 .5 .6 .5-.5 .5 .5 .5-.8 .5 .7 .5-.9 .5 .9 .5-.9 .5 1.2 .5-.5 .5 .4 .5-.9 .5 .8 .5-1.5 .5 1.6 .5-.6 .5 .4 .5-.8 .5 1 .5-1 .5 .9 .5-.7 .5 .8 .5-1.4 .5 1.4 .5-1.7 .5 1.5 .5-1.5 .5 1.7 .5-1 .5 .9 .5-1.4 .5 1.3 .5-1.4 .5 1.7 .5-1.1 .5 .8 .5-2.1 .5-1 .5-6.9 .5-9.5 .5-13.4 .5-3.4 .5 2.3 .5 8.3 .5 6.8 .5 7 .5 2.8 .5 2.8 .5 .4 .5 1.5 .5-.8 .5 1.6 .5-.5 .5 1.3 .5-.7 .5 1.3 .5-1 .5 1.6 .5-1.4 .5 1.8 .5-1.1 .5 1.4 .5-.7 .5 .8 .5-.7 .5 1.1 .5-.7 .5 .8 .5-.6 .5 .8 .5-1.1 .5 1.1 .5-.5 .5 .7 .5-.8 .5 .6 .5-1 .5 1.3 .5-1.2 .5 1.1 .5-.5 .5 .4 .5-.5 .5 .7 .5-.9 .5 .6 .5-1 .5 1.2 .5-.4 .5 .4 .5-1 .5 1.2 .5-1.6 .5 1.4 .5-1.3 .5 1.5 .5-.9 .5 .7 .5-.6 .5 .6 .5-.6 .5 .8 .5-1.1 .5 .8 .5-.4 .5 .7 .5-1 .5 .7 .5-.7 .5 1 .5-1.1 .5 1.1 .5-1 .5 .9 .5-.7 .5 .7 .5-.9 .5 .8 .5-.7 .5 .7 .5-.6 .5 .5 .5-.8 .5 1 .5-1.7 .5 1.6 .5-.8 .5 1 .5-1.1 .5 1.1 .5-1.3 .5 1.1 .5-1 .5 .9 .5-1.1 .5 1.2 .5-.7 .5 .9 .5-2.5 .5 2.2 .5-.5 .5 .7 .5-1.4 .5 1.2 .5-1.3 .5 1.5 .5-1.4 .5 1.5 .5-2.1 .5 2.1 .5-1.6 .5 1.5 .5-1.5 .5 1.4 .5-1.5 .5 1.5 .5-1.8 .5 1.7 .5-2.1 .5 2.1 .5-3.3 .5 3.5 .5-3 .5 2.8 .5-1.8 .5 2 .5-2.5 .5 2.3 .5-1.2 .5 1.4 .5-1.1 .5 .9 .5-1.2 .5 1.3 .5-1 .5 1.2 .5-1.4 .5 1.2 .5-1.5 .5 1.4 .5-2.7 .5 3 .5-2.1 .5 1.8 .5-1.3 .5 1.5 .5-2 .5 1.9 .5-1.2 .5 1.4 .5-1.5 .5 1.5 .5-2.1 .5 1.8 .5-2.4 .5 1.7 .5-2.9 .5-2.8 .5-6.3 .5 .8 .5-1 .5 4.5 .5-1.1 .5 5.7 .5-.8 .5 2.6 .5-3.2 .5 4 .5-2.4 .5 2.4 .5-2.1 .5 2.5 .5-1.8 .5 1.9 .5-1.3 .5 1.7 .5-3.4 .5 3.5 .5-.9 .5 1 .5-3.1 .5 3 .5-1.3 .5 1.3 .5-.5 .5 .8 .5-1.3 .5 1.4 .5-1.1 .5 1.2 .5-1.6 .5 1.6 .5-2 .5 1.9 .5-3.4 .5 3.2 .5-2.5 .5 2.8 .5-1.6 .5 1.3 .5-1 .5 1.2 .5-3.2 .5 3.1 .5-3.7 .5 3.6 .5-1 .5 1.2 .5-1.7 .5 1.7 .5-.9 .5 .7 .5-.8 .5 1 .5-1.6 .5 1.4 .5-2.3 .5 2.4 .5-2.7 .5 2.9 .5-2.9 .5 2.9 .5-3.2 .5 3.1 .5-2.8 .5 2.7 .5-1.4 .5 1.5 .5-1.1 .5 1 .5-3.9 .5 3.9 .5-2.6 .5 2.6 .5-3.8 .5 3.8 .5-1.1 .5 1.1 .5-1.8 .5 1.9 .5-3.3 .5 3.4 .5-2.9 .5 2.6 .5-1.9 .5 2.1 .5-2.4 .5 2.3 .5-1.3 .5 1.2 .5-.9 .5 .9 .5-2.2 .5 2.4 .5-1.4 .5 1.2 .5-2.8 .5 3 .5-2.9 .5 3 .5-2 .5 2 .5-6.3 .5 6.2 .5-2.8 .5 2.9 .5-2.3 .5 2.3 .5-3.2 .5 3.1 .5-3.3 .5 3.2 .5-3.8 .5 3.8 .5-3.3 .5 3.5 .5-3 .5 2.9 .5-2.4 .5 2.2 .5-4.5 .5 3.4 .5-3.6 .5-3.4 .5-9.6 .5 .6 .1-.2 .4-2.1 .5 6.9 .5-.2 .5 6.5 .5-2 .5 5.2 .5-1.8 .5 2.8 .5-2.6 .5 3.1 .5-1.5 .5 1.9 .5-1 .5 1 .5-1.3 .5 1.7 .5-1.5 .5 1.7 .5-2.8 .5 2.9 .5-2.5 .5 2.8 .5-1.9 .5 1.8 .5-1.8 .5 2 .5-1.7 .5 1.6 .5-2.1 .5 2.4 .5-1.9 .5 1.5 .5-1.6 .5 1.9 .5-2.1 .5 2.2 .5-1.5 .5 1.5 .5-.7 .5 .5 .5-1.1 .5 1.2 .5-2 .5 2 .5-1.1 .5 1 .5-2.5 .5 2.1 .5-.9 .5 1.5 .5-1.7 .5 1.6 .5-.8 .5 .9 .5-3.1 .5 3.2 .5-3.2 .5 3.2 .5-1.7 .5 1.5 .5-2.6 .5 2.5 .5-.9 .5 1 .5-1.9 .5 2.1 .5-1.6 .5 1.5 .5-2.4 .5 2.3 .5-3.2 .5 3.1 .5-2.6 .5 2.9 .5-3.1 .5 3.1 .5-3.9 .5 3.7 .5-3.3 .5 3.5 .5-3.6 .5 3.6 .5-1.6 .5 1.3 .5-1.3 .5 1.5 .5-2 .5 2 .5-2.2 .5 2.1 .5-3.1 .5 3 .5-1.1 .5 1.4 .5-1.8 .5 1.7 .5-2 .5 1.8 .5-1.1 .5 1.3 .5-1.3 .5 1.3 .5-2 .5 1.8 .5-1.3 .5 1.5 .5-.9 .5 1 .5-2.5 .5 2.3 .5-2.8 .5 2.7 .5-2.2 .5 2.2 .5-1.6 .5 1.7 .5-1.2 .5 1.4 .5-1.1 .5 .9 .5-3 .5 3.2 .5-3.2 .5 3.1 .5-1 .5 .8 .5-1.9 .5 2.1 .5-2.9 .5 1.4 .5-3 .5-2.2 .5-4.4 .3 .9 .2 .3 .5-2.1 .5 5.8 .5-2.8 .5 6 .5-3.1 .5 4.5 .5-1 .5 1.4 .5-1.9 .5 2.2 .5-2.3 .5 2.2 .5-2.4 .5 2.7 .5-2.5 .5 2.8 .5-3.8 .5 3.8 .5-3.8 .5 4 .5-3.9 .5 3.7 .5-3.8 .5 3.9 .5-2.5 .5 2.5 .5-3.9 .5 4.2 .5-2.2 .5 2 .5-1.9 .5 2.2 .5-2.2 .5 2.1 .5-3.3 .5 3.1 .5-1.2 .5 1.5 .5-3.1 .5 3 .5-1.3 .5 1.1 .5-2.2 .5 2.3 .5-1.7 .5 1.9 .5-3.2 .5 3.1 .5-2.2 .5 2.3 .5-1 .5 .8 .5-2 .5 2.1 .5-2.5 .5 2.5 .5-2.3 .5 2.3 .5-1.6 .5 1.6 .5-2.8 .5 2.7 .5-4.4 .5 4.5 .5-3.2 .5 3.3 .5-3.8 .5 3.8 .5-2.9 .5 2.8 .5-4.4 .5 4.2 .5-3.5 .5 3.5 .5-2.4 .5 2.5 .5-3.5 .5 3.5 .5-2.7 .5 2.8 .5-3.2 .5 3.1 .5-1.7 .5 1.6 .5-2.7 .5 2.8 .5-3.3 .5 3.2 .5-1.7 .5 1.9 .5-2.8 .5 2.6 .5-1.5 .5 1.5 .5-3 .5 3.1 .5-4.5 .5 4.6 .5-4.9 .5 5 .5-4.3 .5 4.4 .5-1.8 .5 1.7 .5-3.8 .5 3.8 .5-2.4 .5 2.3 .5-1.7 .5 1.5 .5-3.5 .5 1.1 .5-1.3 .5 3.8 .5-1.8 .5 1.8 .5-1.4 .5 1.4 .5-1.9 .5 2 .5-3 .5 2.7 .5-3.6 .5 1.7 .5-5.4 .5-.5 .5-3.7 .1 1.4 .4 .9 .5-.3 .5 4.1 .5-1 .5 4.1 .5-2.5 .5 3.6 .5-2.1 .5 2.4 .5-3 .5 3.1 .5-3.9 .5 4.4 .5-2.7 .5 2.7 .5-3.4 .5 3.3 .5-2.8 .5 3.2 .5-1.9 .5 1.7 .5-1.1 .5 1.4 .5-4.3 .5 4.3 .5-3.3 .5 3.4 .5-2.2 .5 2.3 .5-1.4 .5 1.4 .5-3.3 .5 3.1 .5-2.2 .5 2.2 .5-3.4 .5 3.4 .5-2.2 .5 2.2 .5-2.3 .5 2.4 .5-3.5 .5 3.5 .5-2.4 .5 2.6 .5-1.4 .5 1.2 .5-1 .5 .9 .5-.8 .5 1.1 .5-3.1 .5 3.1 .5-1.9 .5 1.9 .5-1.8 .5 1.8 .5-3.2 .5 3.1 .5-2.5 .5 2.6 .5-2.7 .5 2.6 .5-2.2 .5 2.1 .5-2.1 .5 2.1 .5-2.2 .5 2.1 .5-2.3 .5 2.4 .5-4.3 .5 4.4 .5-1.3 .5 1.1 .5-2 .5 2 .5-1.7 .5 2 .5-1.8 .5 1.6 .5-1.9 .5 1.8 .5-3.7 .5 3.9 .5-1.3 .5 1.4 .5-2.6 .5 2.6 .5-3.3 .5 3.3 .5-2.8 .5 2.7 .5-1.5 .5 1.4 .5-1.2 .5 1.4 .5-3.6 .5 3.4 .5-2.8 .5 2.9 .5-3.7 .5 3.8 .5-1.5 .5 1.4 .5-2.2 .5 2 .5-1.9 .5 1.9 .5-3.1 .5 3.2 .5-2.7 .5 2.9 .5-3 .5 3 .5-3.2 .5 3.2 .5-1.1 .5 1.1 .5-2.9 .5 2.9 .5-1.7 .5 1.7 .5-3.6 .5 3.6 .5-1.3 .5 1.4 .5-4.6 .5 4.3 .5-1.6 .5 1.8 .5-4 .5 3.8 .5-1.9 .5 2 .5-1.1 .5 1.1 .5-1.1 .5 1.2 .5-3 .5 2.9 .5-1.5 .5 1.5 .5-2.9 .5 2.9 .5-2.7 .5 2.7 .5-3.1 .5 3.1 .5-1.4 .5 1.3 .5-1.5 .5 1.5 .5-2.2 .5 2.1 .5-4 .5 4.3 .5-2.7 .5 2.5 .5-1.7 .5 1.9 .5-3 .5 2.9 .5-1.7 .5 1.8 .5-3.4 .5 3.2 .5-1.8 .5 1.9 .5-4.1 .5 4 .5-3.3 .5 3.5 .5-2.4 .5 2.2 .5-1.9 .5 1.9 .5-1.1 .5 1.3 .5-1.4 .5 1.3 .5-2.2 .5 2 .5-3.2 .5 3.5 .5-4.9 .5 4.6 .5-1.1 .5 1.2 .5-4.7 .5 4.8 .5-3.2 .5 3.2 .5-1.3 .5 1.3 .5-2 .5 1.9 .5-2.3 .5 2.3 .5-1.8 .5 1.8 .5-1.6 .5 1.7 .5-1.8 .5 1.7 .5-1.7 .5 1.8 .5-3.7 .5 3.7 .5-3 .5 3.1 .5-1.2 .5 .9 .5-2.4 .5 2.5 .5-1.5 .5 1.7 .5-3.3 .5 3 .5-2.3 .5 2.6 .5-2.4 .5 2.4 .5-2.7 .5 2.5 .5-1.3 .5 1.5 .5-1.4 .5 1.1 .5-2.9 .5 3 .5-2.8 .5 2.7 .5-3.6 .5 3.6 .5-3.1 .5 3.4 .5-4.5 .5 4.1 .5-5.8 .5 .9 .5-12.6 .5-15.7 .5-22.9 .5-5.8 .5 3.7 .5 14.5 .5 11 .5 11.9 .5 4.4 .5 5.3 .5-.4 .5 3.5 .5-3 .5 5.1 .5-2 .5 3.2 .5-2 .5 3.3 .5-.7 .5 1.4 .5-1.8 .5 2.4 .5-1.6 .5 2.3 .5-1.2 .5 1.5 .5-2.4 .5 2.5 .5-1 .5 1.3 .5-.8 .5 1.1 .5-1.3 .5 1.6 .5-1.2 .5 1.3 .5-3.2 .5 3.3 .5-2.5 .5 2.6 .5-2.2 .5 2.2 .5-2.4 .5 2.3 .5-2.2 .5 2.3 .5-2 .5 1.8 .5-4.1 .5 4.1 .5-2 .5 2 .5-1.2 .5 1.5 .5-1.9 .5 1.9 .5-2.9 .5 3 .5-1.6 .5 1.5 .5-3.3 .5 3.3 .5-3.1 .5 3 .5-4.5 .5 4.7 .5-2.8 .5 2.7 .5-4.2 .5 4 .5-3 .5 3.3 .5-4.6 .5 4.4 .5-3.3 .5 3.5 .5-4.9 .5 4.7 .5-2.9 .5 3.1 .5-4.6 .5 4.3 .5-1.9 .5 2.1 .5-1.4 .5 1.2 .5-2.4 .5 2.7 .5-3.1 .5 2.9 .5-2.2 .5 2.2 .5-1.1 .5 1.1 .5-3.3 .5 3.4 .5-2.6 .5 2.6 .5-3 .5 2.8 .5-.9 .5 1.1 .5-2.3 .5 2.4 .5-2.8 .5 2.6 .5-1.9 .5 1.8 .5-1.5 .5 1.8 .5-2.5 .5 2.5 .5-2.8 .5 2.8 .5-2.5 .5 2.3 .5-2.4 .5 2.4 .5-1.6 .5 1.8 .5-1.9 .5 1.8 .5-1.1 .5 1.2 .5-2.4 .5 2.2 .5-.9 .5 1 .5-1.7 .5 1.6 .5-2.3 .5 2.2 .5-1.9 .5 2.1 .5-.6 .5 .7 .5-1 .5 .8 .5-1 .5 .9 .5-.7 .5 1 .5-.7 .5 .4 .5-.4 .5 .6 .5-.4 .5 .3 .5-.4 .5 .6 .5-.6 .5 .4 .5-.7 .5 .7 .5-1 .5 .9 .5-.5 .5 .6 .5-1 .5 1.1 .5-1.8 .5 1.7 .5-1 .5 1 .5-2.6 .5 2.8 .5-3.8 .5 3.8 .5-3.8 .5 3.8 .5-1.2 .5 1.1 .5-3.2 .5 3 .5-3.6 .5 3.6 .5-3.3 .5 3.4 .5-1.1 .5 1.2 .5-2.8 .5 2.8 .5-2.7 .5 2.7 .5-1.7 .5 1.8 .5-4.2 .5 3.9 .5-1.8 .5 1.8 .5-1.5 .5 1.7 .5-1.4 .5 1.4 .5-2.8 .5 2.8 .5-3.1 .5 2.9 .5-1.7 .5 1.8 .5-1.8 .5 1.8 .5-2.3 .5 2.4 .5-1.9 .5 2 .5-2.4 .5 2.1 .5-1.3 .5 1.3 .5-2 .5 2.2 .5-1.7 .5 1.7 .5-1.2 .5 1.2 .5-.9 .5 .9 .5-3.2 .5 3.3 .5-3.5 .5 3.4 .5-1.9 .5 2 .5-1.8 .5 1.5 .5-.9 .5 .9 .5-1.4 .5 1.5 .5-1.5 .5 1.4 .5-1.3 .5 1.5 .5-1.7 .5 1.6 .5-1.7 .5 1.6 .5-1.2 .5 1.2 .5-.6 .5 .7 .5-.7 .5 .6 .5-2.3 .5 2.6 .5-2.9 .5 2.7 .5-2 .5 2.2 .5-1.8 .5 1.7 .5-1.5 .5 1.5 .5-1.6 .5 1.5 .5-2.4 .5 2.4 .5-.7 .5 .7 .5-2.3 .5 2.5 .5-2.4 .5 2.4 .5-1 .5 .7 .5-2 .5 2.1 .5-.9 .5 1.1 .5-2.6 .5 2.6 .5-2.5 .5 2.3 .5-.6 .5 .8 .5-.8 .5 .5 .5-4.7 .5 1.8 .5-1.7 .5 4.6 .5-1.1 .5 1.1 .5-2.2 .5 2.2 .5-.8 .5 1 .5-2.2 .5 2 .5-2.1 .5 2.3 .5-1.6 .5 .1 .5-2.6 .5-.6 .4-.5 .1-1.7 .5 2.2 .5-1.4 .5 3.7 .5-1.3 .5 2.5 .5-1.2 .5 1.6 .5-1.6 .5 1.8 .5-1.1 .5 1 .5-1.9 .5 2.4 .5-1.4 .5 1.1 .5-2.5 .5 2.7 .5-.8 .5 .7 .5-1.4 .5 1.5 .5-1.1 .5 1.2 .5-1.6 .5 1.5 .5-1.8 .5 2 .5-1.1 .5 1.3 .5-1.5 .5 1.4 .5-1.3 .5 1.2 .5-2.5 .5 2.5 .5-1.9 .5 2.1 .5-1.9 .5 1.9 .5-2.8 .5 2.5 .5-2.1 .5 2.2 .5-3 .5 3.1 .5-2.8 .5 2.6 .5-1.5 .5 1.6 .5-2.3 .5 2.3 .5-2.6 .5 2.5 .5-1.5 .5 1.8 .5-.8 .5 .7 .5-.6 .5-1.8 .5 .7 .5 1.8 .5-1.7 .5 1.6 .5-1 .5 .8 .5-.7 .5 .8 .5-1.4 .5 1.3 .5-1.3 .5 1.4 .5-.8 .5 .7 .5-1.1 .5 1.2 .5-1.6 .5 1.5 .5-1.8 .5 1.9 .5-2 .5 1.9 .5-.7 .5 1 .5-1.1 .5 .8 .5-.4 .5 .7 .5-1 .5 .9 .5-1 .5 .8 .5-.6 .5 .8 .5-.7 .5 .7 .5-.8 .5 .7 .5-.8 .5 1.1 .5-1.3 .5 1.2 .5-.7 .5 .6 .5-.4 .5 .5 .5-1 .5 1 .5-.7 .5 .7 .5-.8 .5 .8 .5-.5 .5 .4 .5-.8 .5 .9 .5-1.6 .5 1.6 .5-.9 .5 .8 .5-1.3 .5 1.3 .5-1 .5 .9 .5-.8 .5 .8 .5-.8 .5 .7 .5-1.2 .5 1.5 .5-1.7 .5 1.7 .5-2 .5 1.6 .5-1.5 .5 0 .5-2.7 .5-.3 .3-.4 .2-.9 .5 1.8 .5-.3 .5 2.4 .5 0 .5 .9 .5-.8 .5 1.4 .5-1.4 .5 1.3 .5-1.8 .5 2.2 .5-1.6 .5 1.7 .5-1 .5 1.1 .5-3 .5 3 .5-1.8 .5 1.9 .5-3.5 .5 3.5 .5-3 .5 3 .5-3.7 .5 3.7 .5-1.4 .5 1.5 .5-3.1 .5 3.2 .5-3.3 .5 3 .5-3.8 .5 3.8 .5-2.4 .5 2.7 .5-4.8 .5 4.8 .5-1.4 .5 1.1 .5-.9 .5 .9 .5-2.7 .5 2.9 .5-3.6 .5 3.4 .5-2.3 .5 2.6 .5-1.4 .5 1.2 .5-3.2 .5 3.4 .5-2.4 .5 2.3 .5-2.9 .5 3 .5-1.4 .5 1.3 .5-2.2 .5 2.3 .5-2.4 .5 2.1 .5-3.8 .5 4 .5-2.5 .5 2.3 .5-3.4 .5 3.5 .5-3.9 .5 3.8 .5-2.4 .5 2.6 .5-4.2 .5 4 .5-2.6 .5 2.9 .5-3.9 .5 3.6 .5-1.5 .5 1.8 .5-3.9 .5 3.7 .5-2.4 .5 2.5 .5-3.5 .5 3.3 .5-1.6 .5 1.7 .5-1.1 .5 1.1 .5-1.9 .5 1.9 .5-3.6 .5 3.5 .5-1.7 .5 2 .5-2.3 .5 2.1 .5-1.2 .5 1.3 .5-1.1 .5 1.1 .5-2.5 .5 2.5 .5-2 .5 2 .5-2.3 .5 2.1 .5-2.8 .5 2.8 .5-1 .5 .4 .5-3.8 .5-1.8 .5-6.7 .5 0 .1-.2 .4-1.3 .5 4.7 .5 .5 .5 4.6 .5-1.5 .5 3.8 .5-4.2 .5 5 .5-3.2 .5 3.6 .5-1.9 .5 2 .5-1.9 .5 2.1 .5-3.5 .5 3.7 .5-2.1 .5 2.2 .5-1 .5 1.1 .5-3.9 .5 4.1 .5-3 .5 3.2 .5-1.3 .5 1.3 .5-1.9 .5 2 .5-3.2 .5 3.2 .5-2.3 .5 2.4 .5-1.9 .5 1.9 .5-2.7 .5 2.7 .5-1.8 .5 1.7 .5-3.3 .5 3.3 .5-2.6 .5 2.7 .5-3.7 .5 3.5 .5-3.6 .5 3.8 .5-1.8 .5 1.8 .5-4.7 .5 4.8 .5-3.1 .5 3.1 .5-4.2 .5 4 .5-2.7 .5 2.8 .5-4.5 .5 4.3 .5-1 .5 1 .5-2 .5 2.2 .5-1.3 .5 1.3 .5-1.8 .5 1.8 .5-3.6 .5 3.5 .5-3.8 .5 3.8 .5-4.5 .5 4.6 .5-2.1 .5 2.2 .5-1.9 .5 1.9 .5-4.8 .5 4.7 .5-1.8 .5 1.8 .5-4.2 .5 4.1 .5-1 .5 1.1 .5-2.9 .5 2.8 .5-1.7 .5 1.7 .5-3.3 .5 3.2 .5-.8 .5 1 .5-3.9 .5 4 .5-4.9 .5 4.9 .5-2.4 .5 2.1 .5-2.7 .5 2.7 .5-1 .5 1.1 .5-1.6 .5 1.7 .5-2.8 .5 2.9 .5-1.8 .5 1.8 .5-.7 .5 .5 .5-.8 .5 .9 .5-.7 .5 .7 .5-.6 .5 .6 .5-.9 .5 .9 .5-.7 .5 .7 .5-.5 .5 .4 .5-1 .5 1 .5-.7 .5 .7 .5-1.3 .5 1.5 .5-1 .5 .7 .5-1.6 .5 1.7 .5-1.5 .5 1.6 .5-1.2 .5 1 .5-.7 .5 .7 .5-.3 .5 .6 .5-.9 .5 .8 .5-1.9 .5 2 .5-1.4 .5 1.3 .5-.6 .5 .4 .5-.9 .5 1 .5-1.3 .5 1.6 .5-1.3 .5 1 .5-.9 .5 1.1 .5-2 .5 1.7 .5-2.4 .5 2.7 .5-2.7 .5 2.6 .5-1.5 .5 1.6 .5-1.2 .5 .9 .5-1.8 .5 2.1 .5-.9 .5 .8 .5-.8 .5 .8 .5-1.3 .5 .8 .5-.7 .5 .6 .5-.6 .5 1 .5-1.4 .5 1.6 .5-1.7 .5 1.6 .5-1.4 .5 1.6 .5-1.6 .5 1.5 .5-2.3 .5 2.5 .5-3.5 .5 3.4 .5-2.2 .5 2.2 .5-1.3 .5 1.2 .5-1 .5 1 .5-4.2 .5 4.2 .5-1.6 .5 1.4 .5-1.2 .5 1.3 .5-3.7 .5 3.8 .5-3.4 .5 3.3 .5-4.5 .5 4.5 .5-2.7 .5 2.6 .5-3.6 .5 3.6 .5-1.1 .5 1.1 .5-1.8 .5 2.1 .5-2.4 .5 2.3 .5-2.7 .5 2.6 .5-3.8 .5 3.8 .5-1.7 .5 1.6 .5-1.4 .5 1.4 .5-3.3 .5 3.3 .5-3.5 .5 3.7 .5-2.6 .5 2.5 .5-1.7 .5 1.9 .5-3.3 .5 3.2 .5-1.4 .5 1.4 .5-4.1 .5 3.7 .5-4.2 .5 .7 .5-7.9 .5-6.2 .5-16 .5-16.3 .5-20.6 .5-12.8 .5-8.5 .5 7.4 .5 5.2 .5 14.9 .5 10 .5 14.6 .5 7.3 .5 10.2 .5 1.3 .5 7.6 .5-1.2 .5 5.2 .5-2.3 .5 4.2 .5-2.7 .5 4 .5-.7 .5 1.9 .5-4 .5 4.8 .5-4.1 .5 4.8 .5-3.1 .5 3.6 .5-3.4 .5 4 .5-1.5 .5 1.9 .5-3 .5 3.2 .5-2.5 .5 2.8 .5-1 .5 1.5 .5-2.6 .5 2.6 .5-1.7 .5 2 .5-1.4 .5 1.3 .5-2.2 .5 2.7 .5-1.2 .5 1.2 .5-1 .5 1.2 .5-2.1 .5 2 .5-1.9 .5 1.8 .5-1 .5 1.1 .5-.9 .5 1 .5-1.5 .5 1.8 .5-1.3 .5 1 .5-1.6 .5 1.6 .5-.9 .5 1 .5-.8 .5 .8 .5-.6 .5 .9 .5-1.5 .5 1.6 .5-2.4 .5 2.3 .5-2.1 .5 1.9 .5-2.3 .5 .8 .5 .2 .5 1.3 .5-1.1 .5 1.3 .5-1.7 .5 1.8 .5-2.6 .5 2.6 .5-1.6 .5 1.6 .5-.9 .5 .9 .5-.8 .5 .6 .5-.8 .5 .8 .5-.5 .5 .6 .5-1.3 .5 1.3 .5-.7 .5 .7 .5-.6 .5 .7 .5-.9 .5 .9 .5-1 .5 .8 .5-1.9 .5 1.9 .5-2.2 .5 .5 .5 .2 .5 1.7 .5-1.1 .5 1 .5-1.6 .5 1.5 .5-.7 .5 .6 .5-.4 .5 .5 .5-.9 .5 1 .5-1.1 .5 .9 .5-1.4 .5 1.6 .5-.6 .5 .6 .5-2.7 .5 2.6 .5-1.4 .5 1.4 .5-2.7 .5 2.9 .5-2.1 .5 2 .5-.9 .5 .7 .5-2 .5 2 .5-3.2 .5 3.4 .5-3.4 .5 3.2 .5-1.3 .5 1.4 .5-1 .5 .9 .5-4.2 .5 4.3 .5-1.8 .5 1.7 .5-3 .5 2.5 .5-2.3 .5-.2 .5-3.5 .5 .5 .5-2.3 .5 4 .5-.2 .5 2.4 .5-1.1 .5 2 .5-3.3 .5 4 .5-4.1 .5 4.3 .5-1.1 .5 1 .5-3.4 .5 3.8 .5-3.7 .5 3.6 .5-2.9 .5 2.9 .5-2.2 .5 2.4 .5-1.7 .5 1.6 .5-2.3 .5 2.4 .5-2.7 .5 2.7 .5-4.3 .5 3.1 .5-.7 .5 2.1 .5-1.9 .5 1.6 .5-3.2 .5 3.4 .5-4.8 .5 4.9 .5-2.7 .5 2.4 .5-1.1 .5 1.4 .5-4.7 .5 4.5 .5-4.8 .5 5 .5-1.5 .5 1.3 .5-2.7 .5 2.9 .5-3.5 .5 3.3 .5-3.6 .5 3.6 .5-3.4 .5 3.5 .5-1.3 .5 1.3 .5-3.5 .5 3.5 .5-2.9 .5 2.2 .5-.4 .5 1.1 .5-2.9 .5 2.8 .5-2 .5 2.1 .5-3.2 .5 3.2 .5-2.9 .5 2.7 .5-2.6 .5 2.9 .5-2.3 .5 2 .5-3.3 .5 3.7 .5-1.8 .5 1.6 .5-1.8 .5 1.9 .5-1.9 .5 1.9 .5-1.8 .5 1.5 .5-2.2 .5 2.4 .5-2.6 .5 2.4 .5-2 .5 2 .5-1.4 .5 1.7 .5-1.5 .5 1.3 .5-2.5 .5 2.5 .5-3.5 .5 3.4 .5-2.1 .5 2.2 .5-3.6 .5 3.7 .5-1.9 .5 1.8 .5-3.9 .5 3.8 .5-4.3 .5 4.5 .5-1.2 .5 1.3 .5-3.7 .5 3.4 .5-1.6 .5 1.6 .5-1.8 .5 1.9 .5-3 .5 3.1 .5-1.9 .5 1.8 .5-2.5 .5 2.5 .5-2.2 .5 2.2 .5-2.8 .5 2.9 .5-3.1 .5 2.3 .5-4.2 .5-.4 .5-6.8 .5 2.1 .5-3.3 .5 6.1 .5-1.1 .5 5 .5-3.1 .5 4.8 .5-3.9 .5 4.3 .5-1.9 .5 2.1 .5-1 .5 1.1 .5-1.6 .5 2 .5-3 .5 3 .5-3 .5 3.1 .5-2 .5 2.1 .5-2.8 .5 2.7 .5-3.5 .5 3.8 .5-3.1 .5 3.2 .5-1.8 .5 1.7 .5-1.2 .5 1.1 .5-2.9 .5 3 .5-3.5 .5 3.5 .5-1.5 .5 1.7 .5-3.1 .5 2.9 .5-4.5 .5 4.8 .5-4.8 .5 4.8 .5-2.9 .5 2.9 .5-4.8 .5 4.5 .5-1.2 .5 1.2 .5-1 .5 1.2 .5-2.1 .5 1.9 .5-4.4 .5 4.5 .5-4.3 .5 4.5 .5-3.8 .5 3.5 .5-3.3 .5 3.6 .5-1.5 .5 1.2 .5-1.4 .5 1.6 .5-2.7 .5 2.7 .5-1.4 .5 1.3 .5-2.3 .5 2.3 .5-2.5 .5 2.7 .5-2.4 .5 2.2 .5-1.2 .5 1.1 .5-1.6 .5 1.9 .5-.7 .5 .7 .5-1 .5 1 .5-1.3 .5 1.2 .5-1.5 .5 1.5 .5-.8 .5 .8 .5-1.7 .5 1.8 .5-1.2 .5 1.1 .5-1.8 .5 1.9 .5-1 .5 .8 .5-1.3 .5 1.3 .5-1.2 .5 1.3 .5-1.3 .5 1.1 .5-.6 .5 .9 .5-1.2 .5 1.2 .5-.9 .5 .9 .5-.9 .5 .7 .5-.5 .5 .7 .5-1.1 .5 1.1 .5-1.9 .5 1.6 .5-.5 .5 .8 .5-1.5 .5 1.3 .5-1.3 .5 1.4 .5-1.3 .5 1.4 .5-1.4 .5 1.4 .5-1.3 .5 1 .5-2 .5 1.8 .5-3.5 .5-.2 .5-5.8 .5-.7 .3-.5 .2-2.2 .5 3.9 .5 .6 .5 3.4 .5-.4 .5 3.3 .5-.3 .5 1.2 .5-1.7 .5 1.9 .5-1.1 .5 1.4 .5-.7 .5 .8 .5-1.2 .5 1.4 .5-2.1 .5 2.4 .5-2.1 .5 2.3 .5-2.1 .5 2 .5-1.4 .5 1.6 .5-1.2 .5 1.2 .5-2.3 .5 2.4 .5-2.7 .5 2.7 .5-1.3 .5 1.3 .5-1.7 .5 1.5 .5-2.7 .5 2.9 .5-2.9 .5 2.8 .5-1.6 .5 1.6 .5-2 .5 2 .5-1.6 .5 1.5 .5-.7 .5 1 .5-1.5 .5 1.2 .5-1.7 .5 1.8 .5-3 .5 3 .5-2.5 .5 2.5 .5-2 .5 2.3 .5-2.3 .5 2.4 .5-1.4 .5 1 .5-2.1 .5 2.2 .5-1.1 .5 1.1 .5-1 .5 .9 .5-1.6 .5 1.7 .5-1.9 .5 1.9 .5-3.9 .5 4.1 .5-2.7 .5 2.6 .5-3.9 .5 4 .5-3.2 .5 3 .5-2.3 .5 2.2 .5-3.8 .5 4 .5-3.2 .5 3.2 .5-2.6 .5 2.6 .5-1.9 .5 2 .5-2.9 .5 2.6 .5-1.7 .5 1.9 .5-4.2 .5 4 .5-1.5 .5 1.5 .5-2.9 .5 2.9 .5-4.3 .5 4.5 .5-4.2 .5 4.2 .5-3.5 .5 3.6 .5-2 .5 2 .5-2.5 .5 2.5 .5-1.2 .5 1.3 .5-2.3 .5 1.9 .5-2.2 .5 2.2 .5-1.3 .5-1.6 .5-3.5 .5-.2 .5-4.4 .2 1.9 .3 .6 .5-1.9 .5 5.3 .5-.7 .5 3.6 .5-1 .5 2 .5-1.4 .5 1.7 .5-4.3 .5 4.5 .5-2.5 .5 2.5 .5-1.5 .5 1.6 .5-2.1 .5 2.6 .5-2.4 .5 2.2 .5-.6 .5 .8 .5-1 .5 1.2 .5-2.1 .5 2 .5-1.6 .5 1.5 .5-.7 .5 1 .5-1.1 .5 1 .5-1.7 .5 1.7 .5-2.4 .5 2.5 .5-1.7 .5 1.8 .5-2.3 .5 2 .5-2.4 .5 2.6 .5-1.2 .5 1.3 .5-2.5 .5 2.2 .5-.8 .5 .9 .5-1.9 .5 2.1 .5-1.6 .5 1.6 .5-.8 .5 .8 .5-2.9 .5 2.6 .5-1.8 .5 1.8 .5-1.2 .5 1.3 .5-.6 .5 .8 .5-1.5 .5 1.4 .5-1.9 .5 1.7 .5-1.6 .5 1.9 .5-.9 .5 .6 .5-.8 .5 .8 .5-.5 .5 .8 .5-1.1 .5 .9 .5-.7 .5 .6 .5-.6 .5 .8 .5-1.3 .5 1.2 .5-1.4 .5 1.6 .5-2.8 .5 2.8 .5-4.1 .5 4 .5-1.6 .5 1.6 .5-1.6 .5 1.7 .5-3.3 .5 3 .5-3.8 .5 4.1 .5-3.1 .5 3.1 .5-1.3 .5 1.1 .5-1.3 .5 1.5 .5-2.2 .5 2.1 .5-3.2 .5 3.3 .5-1.1 .5 .9 .5-2.1 .5 2 .5-3.6 .5 3.8 .5-1.2 .5 1.1 .5-2.3 .5 2.5 .5-2 .5 1.9 .5-1 .5 .8 .5-1 .5 1.2 .5-4.5 .5 4.5 .5-1.5 .5 1.4 .5-1.7 .5 1.9 .5-2.7 .5 2.7 .5-2 .5 1.8 .5-1.9 .5 1.9 .5-1.6 .5 1.8 .5-2.4 .5 2.4 .5-1.7 .5 1.6 .5-.8 .5 .6 .5-2.8 .5 2.9 .5-2.5 .5 2.7 .5-1.5 .5 1.5 .5-3.3 .5 3 .5-1.1 .5 1.3 .5-1.9 .5 2 .5-1 .5 .8 .5-1.3 .5 1.4 .5-2.9 .5 2.9 .5-1.4 .5 1.5 .5-3.3 .5 3.1 .5-1.4 .5 1.5 .5-1.9 .5 1.8 .5-2.8 .5 2.9 .5-1 .5 1 .5-2 .5 1.8 .5-1.5 .5 1.7 .5-1 .5 1.1 .5-1.4 .5 1.2 .5-2.7 .5 2.9 .5-2 .5 1.7 .5-1.9 .5 2 .5-1 .5 .9 .5-1.1 .5 1.2 .5-2 .5 2 .5-2.1 .5 2.3 .5-1.4 .5 1.3 .5-1.6 .5 1.5 .5-3.2 .5 3.4 .5-2.8 .5 2.7 .5-3.9 .5 4 .5-2.2 .5 2.2 .5-3.7 .5 3.4 .5-.9 .5 1.2 .5-2.4 .5 2.1 .5-1.3 .5 .6 .5-.7 .5 1.5 .5-3.4 .5 3.3 .5-3.3 .5 3.3 .5-2.9 .5 3.1 .5-4.2 .5 4 .5-1.6 .5 1.6 .5-2.5 .5 2.6 .5-3.4 .5 3.4 .5-2 .5 2.1 .5-2.9 .5 3 .5-1.7 .5 1.5 .5-1.5 .5 1.5 .5-2.9 .5 3 .5-1.4 .5 1.2 .5-3.2 .5 3.5 .5-2.1 .5 2 .5-1.7 .5 1.7 .5-2.5 .5 2.4 .5-3.6 .5 3.7 .5-1.6 .5 1.6 .5-4.3 .5 4.4 .5-4.6 .5 4.4 .5-7.4 .5 7.3 .5-3.1 .5 3.1 .5-2.1 .5 2.4 .5-1.6 .5 1.3 .5-2.1 .5 .1 .5-5 .5 1.4 .3-.5 .2-1.9 .5 2.9 .5-1.5 .5 4 .5-2.9 .5 4.5 .5-2.2 .5 2.6 .5-2.1 .5 2.2 .5-1.5 .5 1.5 .5-1.1 .5 1.4 .5-4 .5 3.9 .5-.9 .5 1.1 .5-1.8 .5 1.8 .5-2.5 .5 2.4 .5-2.9 .5 3 .5-.9 .5 .9 .5-.9 .5 1 .5-1.7 .5 1.8 .5-2.3 .5 2.4 .5-2.3 .5 2.1 .5-2.6 .5 2.7 .5-1.5 .5 1.6 .5-1 .5 .8 .5-1.9 .5 2.2 .5-2.1 .5 2 .5-2.5 .5 2.6 .5-3.2 .5 3 .5-2.9 .5 3.1 .5-4.4 .5 4.2 .5-1.1 .5 1 .5-3.4 .5 3.4 .5-3.8 .5 3.9 .5-1.3 .5 1.4 .5-1.1 .5 1.2 .5-1.8 .5 1.5 .5-2.7 .5 3 .5-2.8 .5 2.7 .5-1.3 .5 1.1 .5-3.6 .5 3.6 .5-1.5 .5 1.5 .5-1.7 .5 1.8 .5-2.1 .5 2.1 .5-.8 .5 .9 .5-1.5 .5 1.3 .5-1.5 .5 1.8 .5-.8 .5 .7 .5-1.2 .5 1 .5-1 .5 1.1 .5-1.1 .5 1 .5-1.1 .5 1.1 .5-1.2 .5 1.2 .5-1.7 .5 1.9 .5-1.7 .5 1.8 .5-2.6 .5 2.6 .5-2.1 .5 2 .5-2 .5 2 .5-3.7 .5 3.8 .5-1.1 .5 1.1 .5-1.3 .5 1.2 .5-3 .5 3 .5-2.6 .5 2.6 .5-2.4 .5 2.4 .5-2.7 .5 2.5 .5-1.6 .5 1.6 .5-2.6 .5 2.6 .5-2.1 .5 2.2 .5-1.2 .5 1.3 .5-2.6 .5 2.5 .5-1 .5 .8 .5-2.1 .5 .6 .5-5.1 .5 1.2 .4-.6 .1-2.6 .5 3.4 .5-.5 .5 3.1 .5-1.5 .5 3.1 .5-1.4 .5 1.8 .5-2.9 .5 3.2 .5-3.4 .5 3.5 .5-2.7 .5 2.9 .5-2 .5 2 .5-2.8 .5 2.9 .5-3.5 .5 3.3 .5-1.9 .5 2.2 .5-1.9 .5 1.7 .5-.6 .5 .6 .5-3.6 .5 1.7 .5-.9 .5 3 .5-.7 .5 .8 .5-1 .5 1.1 .5-.7 .5 .5 .5-.5 .5 .5 .5-.6 .5 .8 .5-.6 .5 .6 .5-3.2 .5 1 .5-1.8 .5 3.7 .5-.9 .5 .9 .5-.8 .5 1 .5-1.1 .5 .9 .5-1.6 .5 1.6 .5-.7 .5 .7 .5-.8 .5 1 .5-.4 .5 .5 .5-.6 .5 .4 .5-.7 .5 .9 .5-1.4 .5 1.4 .5-1 .5 .8 .5-.5 .5 .4 .5-.8 .5 1 .5-1.5 .5 1.3 .5-.9 .5 1 .5-1.4 .5 1.6 .5-1 .5 .8 .5-.4 .5 .6 .5-.8 .5 .6 .5-.9 .5 1.1 .5-1.1 .5 1.1 .5-1.6 .5 1.4 .5-1.9 .5 2.1 .5-1.7 .5 1.5 .5-.7 .5 .7 .5-.6 .5 .5 .5-1.7 .5 1.8 .5-1.8 .5 1.8 .5-2.9 .5 2.8 .5-3.4 .5 3.5 .5-1.4 .5 1.3 .5-2.9 .5 3.2 .5-2.3 .5 2 .5-2.4 .5 2.4 .5-2.7 .5 3 .5-1 .5 1 .5-2.6 .5 2.3 .5-1.6 .5 1.6 .5-3.9 .5 3.4 .5-3.6" fill="none" stroke="#000" stroke-width="4.0" stroke-linejoin="round"/>
<rect x="611.7" y="2557.1" width="32.3" height="32.3" fill="#000"/>
<text x="749.1" y="2545.3" font-size="60.5" text-anchor="middle" stroke="#000" stroke-width="0.6">*</text>
<text x="1401.6" y="2582.5" font-size="60.5" text-anchor="middle" stroke="#000" stroke-width="0.6">*</text>
<text x="1801.5" y="2555.6" font-size="60.5" text-anchor="middle" stroke="#000" stroke-width="0.6">*</text>
<text x="2329.7" y="2450.0" font-size="51.3" text-anchor="end">7.5 fmole</text>
<text x="371.7" y="2540.0" font-size="45">S/N = 6.3</text>
<line x1="602.7" y1="2599.7" x2="561.9" y2="2566.9" stroke="#000" stroke-width="2.6" stroke-linecap="butt"/>
<polygon points="547.1,2555.0 569.4,2560.8 557.5,2575.6" fill="#000"/>
<text transform="translate(62.0 2874.7) scale(1 0.945)" font-size="72">(c)</text>
<line x1="360.6" y1="2832.0" x2="360.6" y2="4040.0" stroke="#000" stroke-width="5.6" stroke-linecap="butt"/>
<line x1="360.6" y1="3128.8" x2="2337.0" y2="3128.8" stroke="#000" stroke-width="4.0" stroke-linecap="butt"/>
<line x1="360.6" y1="3424.4" x2="2337.0" y2="3424.4" stroke="#000" stroke-width="6.0" stroke-linecap="butt"/>
<line x1="360.6" y1="3719.3" x2="2337.0" y2="3719.3" stroke="#000" stroke-width="6.2" stroke-linecap="butt"/>
<line x1="357.6" y1="4013.3" x2="2337.0" y2="4013.3" stroke="#000" stroke-width="5.8" stroke-linecap="butt"/>
<line x1="360.6" y1="4010.0" x2="360.6" y2="4040.0" stroke="#000" stroke-width="5.8" stroke-linecap="butt"/>
<line x1="1347.0" y1="4010.0" x2="1347.0" y2="4040.0" stroke="#000" stroke-width="5.8" stroke-linecap="butt"/>
<line x1="2334.0" y1="4010.0" x2="2334.0" y2="4040.0" stroke="#000" stroke-width="5.8" stroke-linecap="butt"/>
<text transform="translate(360.6 4102.4) scale(1 1.03)" font-size="57" font-weight="bold" text-anchor="middle">275</text>
<text transform="translate(1347.1 4102.4) scale(1 1.03)" font-size="57" font-weight="bold" text-anchor="middle">305</text>
<text transform="translate(2334.5 4102.4) scale(1 1.03)" font-size="57" font-weight="bold" text-anchor="middle">335</text>
<text transform="translate(1348.5 4209.8) scale(1 0.95)" font-size="65" font-weight="bold" text-anchor="middle">m/z</text>
<line x1="334.0" y1="2956.7" x2="360.6" y2="2956.7" stroke="#000" stroke-width="6.4" stroke-linecap="butt"/>
<text transform="translate(314.0 2973.2) scale(1 1.03)" font-size="57" font-weight="bold" text-anchor="end">4500</text>
<line x1="334.0" y1="3113.2" x2="360.6" y2="3113.2" stroke="#000" stroke-width="6.4" stroke-linecap="butt"/>
<text transform="translate(314.0 3129.9) scale(1 1.03)" font-size="57" font-weight="bold" text-anchor="end">0</text>
<line x1="334.0" y1="3248.3" x2="360.6" y2="3248.3" stroke="#000" stroke-width="6.4" stroke-linecap="butt"/>
<text transform="translate(314.0 3265.6) scale(1 1.03)" font-size="57" font-weight="bold" text-anchor="end">300</text>
<line x1="334.0" y1="3405.0" x2="360.6" y2="3405.0" stroke="#000" stroke-width="6.4" stroke-linecap="butt"/>
<text transform="translate(314.0 3423.0) scale(1 1.03)" font-size="57" font-weight="bold" text-anchor="end">0</text>
<line x1="334.0" y1="3558.4" x2="360.6" y2="3558.4" stroke="#000" stroke-width="6.4" stroke-linecap="butt"/>
<text transform="translate(314.0 3576.1) scale(1 1.03)" font-size="57" font-weight="bold" text-anchor="end">800</text>
<line x1="334.0" y1="3703.0" x2="360.6" y2="3703.0" stroke="#000" stroke-width="6.4" stroke-linecap="butt"/>
<text transform="translate(314.0 3719.2) scale(1 1.03)" font-size="57" font-weight="bold" text-anchor="end">0</text>
<line x1="334.0" y1="3852.6" x2="360.6" y2="3852.6" stroke="#000" stroke-width="6.4" stroke-linecap="butt"/>
<text transform="translate(314.0 3867.8) scale(1 1.03)" font-size="57" font-weight="bold" text-anchor="end">950</text>
<line x1="334.0" y1="3996.8" x2="360.6" y2="3996.8" stroke="#000" stroke-width="6.4" stroke-linecap="butt"/>
<text transform="translate(314.0 4014.2) scale(1 1.03)" font-size="57" font-weight="bold" text-anchor="end">0</text>
<text transform="translate(169.2 3531.9) rotate(-90) scale(1 1.06)" font-size="63.5" font-weight="bold" text-anchor="middle">Intensity</text>
<path d="M364 3113l 1 0 1 .1 1 0 1 0 1-.1 1-.1 1 0 1 .1 1 0 1 0 1 .1 1 0 1 0 1-.1 1 0 1 0 1 0 1 0 1 0 1 .1 1 0 1 0 1 0 1-.1 1-.1 1 .1 1 0 1 0 1 .1 1 0 1 0 1-.1 1 0 1 0 1 0 1 .1 1-.1 1-.3 1 .4 1 0 1 0 1 0 1-.1 1 0 1 0 1 .1 1 0 1-.2 1 .2 1 0 1-.1 1 0 1 .1 1-.3 1 .1 1 .1 1 0 1-.1 1 0 1 .1 1-.1 1 .2 1 0 1 0 1 0 1-.1 1 .1 1 0 1-.2 1 .1 1 0 1 0 1 .1 1-.2 1 .2 1 0 1 0 1-.1 1 .1 1 0 1-.1 1 0 1-.1 1 0 1 .2 1 0 1 0 1 0 1 0 1 0 1-.2 1 0 1 0 1 0 1 0 1 .2 1-.2 1 0 1 .1 1 0 1 0 1 .1 1 0 1-.1 1 0 1 0 1 0 1-.1 1 0 1 .1 1 .1 1 0 1 0 1-.1 1 0 1 .1 1 0 1 0 1-.3 1 .2 1 0 1 0 1 0 1 .1 1 0 1-.1 1 .1 1 0 1-.2 1 0 1 .2 1-.1 1 0 1 .1 1-.3 1 .3 1 0 1-.1 1-.1 1 .2 1 0 1-.1 1 .1 1 0 1 0 1-.1 1 0 1 .1 1 0 1-.2 1 .2 1 0 1-.1 1-.1 1 .2 1 0 1 0 1-.1 1 0 1 0 1 0 1 0 1 .1 1 0 1-.1 1 0 1 .1 1 0 1-.2 1 0 1 0 1 0 1 .1 1 0 1 .1 1-.1 1 0 1 0 1 .1 1-.1 1 .1 1 0 1 0 1-.2 1 0 1 .1 1-.1 1 0 1 0 1 0 1 .1 1 0 1 .1 1-.1 1 .1 1 0 1 0 1-.2 1 .2 1 0 1 0 1-.2 1 .2 1 0 1-.2 1 .1 1-.1 1 0 1 0 1 .2 1-.2 1 .1 1 0 1 0 1 .1 1-.1 1 0 1 0 1 0 1 .1 1-.2 1 0 1 0 1 0 1 .1 1 0 1 .1 1 0 1-.1 1 0 1 .1 1-.1 1 0 1 .1 1-.2 1 .2 1 0 1-.2 1 .1 1 0 1-.1 1 0 1 .2 1 0 1-.1 1 .1 1 0 1-.1 1 0 1-.1 1 0 1 .2 1-.1 1 0 1 0 1 0 1-.1 1 0 1 .2 1 0 1 0 1 0 1-.2 1 0 1 .2 1 0 1-.1 1 0 1 0 1 0 1 0 1 .1 1-.1 1 0 1 .1 1 0 1 0 1-.1 1 0 1 0 1 .1 1 0 1-.2 1 .2 1 0 1 0 1 0 1-.2 1 0 1 .2 1 0 1-.1 1 0 1 .1 1 0 1 0 1-.1 1 .1 1-.1 1-.1 1 .2 1 0 1 0 1 0 1-.2 1 .2 1-.2 1 .2 1 0 1-.1 1-.1 1 0 1 .1 1 0 1-.1 1 .2 1 0 1 0 1 0 1 0 1 0 1 0 1-.1 1-.1 1 .1 1 0 1-.1 1-.5 1-.5 .4-.1 .6 .2 1 .5 1 .3 1 .1 1 0 1 0 1 .1 1 0 1 0 1-.1 1 .2 1 0 1 0 1-.1 1 .1 1-.1 1 0 1 .1 1 0 1 0 1 0 1-.3 1 .3 1-.2 1 .1 1-.5 1-1.8 1-4.4 1-5.9 .9-2.5 .1 .1 1 3.4 1 6 1 3.9 1 1.4 1 .3 1 0 1 0 1 0 1 0 1 .1 1-.2 1 0 1 0 1 0 1 0 1 0 1 .2 1-.1 1 0 1-.1 1 .2 1 0 1 0 1 0 1 0 1 0 1-.1 1-.1 1-.9 1-5.4 1-21.4 1-55.4 1-85 1-61.6 .3-4.2 .7 17.4 1 56.6 1 65.8 1 49.3 1 26.8 1 11 1 3.9 1 1.3 1 .6 1 .4 1 .2 1 .2 1 .2 1 .1 1 0 1 0 1 .1 1 .1 1 0 1 0 1 0 1-.1 1 0 1 .2 1-.2 1 .2 1 0 1 0 1-.2 1-.5 1-1.9 1-5 1-6.2 .9-2.7 .1 0 1 3.8 1 6.4 1 4.4 1 1.5 1 .3 1 .1 1 0 1 0 1 0 1 0 1-.1 1 0 1-.1 1 0 1 .1 1-.2 1 .3 1 0 1 0 1 0 1-.1 1 0 1 0 1 0 1 .1 1 0 1 0 1 0 1 0 1 0 1 0 1 0 1-.1 1 .1 1 0 1-.1 1 0 1 .1 1 0 1 0 1 0 1-.1 1 0 1 .1 1 0 1 0 1 0 1-.2 1 0 1 .2 1 0 1 0 1 0 1 0 1 0 1 0 1 0 1 0 1 0 1 0 1 0 1-.1 1 0 1 .1 1 0 1-.2 1 0 1 0 1 0 1-.1 1 .3 1 0 1-.1 1 0 1 .1 1-.1 1 0 1 .1 1-.1 1 .1 1 0 1-.1 1 .1 1 0 1 0 1-.1 1 .1 1-.1 1 0 1 .1 1-.1 1 .1 1 0 1 0 1-.2 1 .2 1-.1 1 .1 1-.1 1 0 1 0 1-.1 1 0 1 .2 1-.3 1 0 1 .1 1 0 1 .2 1 0 1 0 1-.1 1 0 1-.1 1 .2 1 0 1-.1 1 0 1 0 1 .1 1 0 1 0 1-.1 1 0 1 .1 1-.1 1 0 1 0 1 .1 1 0 1 0 1 0 1-.1 1 0 1 .1 1 0 1 0 1 0 1-.1 1 0 1-.1 1 .2 1 0 1-.3 1 .3 1 0 1-.1 1 .1 1 0 1 0 1-.1 1 0 1 .1 1 0 1 0 1 0 1 0 1 0 1 0 1-.3 1 .3 1-.2 1 .2 1-.1 1 0 1-.1 1 0 1 0 1 .1 1 0 1 0 1 0 1 0 1 .1 1 0 1 0 1 0 1 0 1-.1 1 0 1 .1 1 0 1 0 1 0 1 0 1 0 1 0 1-.1 1-.1 1 .1 1 0 1 0 1 .1 1 0 1-.1 1 0 1 .1 1 0 1-.2 1 .2 1-.1 1 0 1 0 1 .1 1 0 1 0 1 0 1 0 1 0 1 0 1-.1 1 0 1 0 1 .1 1 0 1-.2 1 0 1 0 1 .1 1 0 1 .1 1 0 1-.1 1 0 1 0 1 .1 1-.1 1 0 1 0 1 0 1-.1 1-.4 1-.6 .5-.1 .5-.1 1 .5 1 .7 1 .1 1 0 1 .1 1-.1 1 .1 1 0 1 0 1-.1 1 .1 1 0 1 0 1 0 1 0 1 0 1 0 1-.1 1 0 1 0 1 0 1 .1 1-.1 1 0 1-.2 1 0 1 .3 1-.1 1 .1 1-.2 1 .1 1 0 1-.1 1 .1 1-.1 1 .1 1 0 1-.1 1 0 1-.1 1 0 1 .2 1-.2 1 .3 1 0 1 0 1-.1 1 0 1 .1 1-.2 1 .2 1 0 1-.2 1 .1 1-.1 1 0 1 0 1 .1 1 0 1 .1 1 0 1-.2 1 0 1 .2 1-.1 1 .1 1-.1 1 0 1 .1 1 0 1 0 1 0 1 0 1-.1 1 0 1 .1 1-.1 1-.1 1 .2 1-.1 1 0 1 .1 1-.1 1-.1 1 0 1 .1 1 0 1 0 1 0 1-.1 1 .1 1 0 1 .1 1 0 1 0 1-.3 1 .2 1-.1 1 .1 1-.1 1-.5 1-.6 .5-.1 .5 .2 1 .4 1 .6 1 .2 1-.2 1 0 1 0 1 .1 1 0 1 .1 1 0 1-.1 1 .1 1 0 1-.2 1 0 1 .2 1 0 1 0 1 0 1 0 1-.2 1 .1 1 0 1 .1 1 0 1 0 1 0 1 0 1 0 1-.1 1 0 1 0 1 0 1 0 1 0 1 .1 1 0 1 0 1-.1 1 .1 1-.2 1 .2 1 0 1 0 1-.1 1 0 1-.1 1 .2 1 0 1-.1 1 0 1 .1 1 0 1 0 1 0 1 0 1 0 1-.1 1 0 1 .1 1 0 1-.1 1 0 1 .1 1 0 1 0 1-.2 1 0 1 .1 1 0 1 0 1 0 1 .1 1-.1 1-.1 1-.1 1 0 1 .1 1 0 1 .2 1 0 1 0 1-.1 1 .1 1 0 1 0 1-.1 1 .1 1 0 1 0 1-.1 1 0 1 0 1 0 1 .1 1 0 1-.1 1 0 1 0 1 .1 1 0 1-.1 1-.1 1 .1 1 .1 1-.2 1 .2 1 0 1 0 1-.1 1 .1 1-.1 1 .1 1-.1 1-.2 1 0 1 0 1 .2 1 0 1 0 1 0 1-.1 1 .2 1 0 1-.1 1 0 1 0 1 0 1 0 1 0 1 0 1 .1 1 0 1 0 1-.1 1 0 1 0 1 0 1 .1 1 0 1 0 1 0 1-.2 1 0 1 .1 1 0 1 0 1 .1 1 0 1-.1 1 .1 1 0 1 0 1-.1 1 0 1 .1 1 0 1-.2 1 .2 1 0 1 0 1 0 1 0 1 0 1-.2 1 .2 1 0 1-.1 1 .1 1-.2 1 .1 1 0 1 0 1 .1 1-.2 1 .1 1 0 1 0 1-.1 1 .2 1 0 1 0 1-.1 1 0 1-.1 1 0 1 .1 1 0 1 .1 1 0 1 0 1-.1 1 .1 1 0 1-.1 1 .1 1 0 1-.2 1 .2 1 0 1-.1 1 .1 1 0 1 0 1 0 1-.1 1 0 1 0 1 0 1 0 1 0 1 0 1 .1 1-.2 1 .1 1-.1 1 .1 1 .1 1 0 1-.1 1 0 1 .1 1-.1 1 0 1 0 1 0 1 .1 1-.2 1 .2 1 0 1-.1 1 0 1 0 1 0 1 0 1 .1 1 0 1 0 1-.2 1 .1 1 .1 1 0 1 0 1 0 1 0 1 0 1 0 1-.1 1-.1 1 .2 1 0 1 0 1 0 1-.1 1 0 1 0 1 0 1 0 1 .1 1-.2 1 0 1 0 1 .2 1 0 1 0 1 0 1 0 1 0 1 0 1 0 1 0 1-.1 1 0 1 0 1 .1 1-.1 1 0 1-.1 1 .1 1 0 1 .1 1 0 1-.1 1 .1 1 0 1 0 1 0 1-.2 1 .2 1-.1 1 .1 1 0 1-.1 1 .1 1 0 1 0 1-.1 1 .1 1 0 1 0 1 0 1 0 1 0 1 0 1-.1 1 0 1 .1 1-.1 1 .1 1-.2 1 .1 1-.2 1 .2 1 0 1-.1 1-1 1-2.8 1-3.2 .5-.5 .5 .5 1 3.2 1 2.6 1 1 1 .4 1-.1 1 0 1-.2 1 0 1 .3 1 0 1 0 1-.2 1 .2 1-.1 1 0 1 0 1-.1 1 0 1 .1 1 .1 1 0 1 0 1 0 1-.2 1 0 1 .2 1-.1 1 .1 1-.1 1-.3 1-2 1-5.5 1-6.9 .6-1.8 .4 .8 1 6.6 1 6.2 1 2.4 1 .4 1 0 1 .2 1 0 1-.2 1 .1 1 .1 1-.1 1 0 1 .1 1 0 1-.3 1 0 1 .3 1 0 1-.2 1 .2 1-.3 1 .1 1 .1 1 0 1-.1 1 .2 1 0 1-.2 1 .2 1 0 1-.2 1 .1 1 .1 1 0 1 0 1-.1 1 0 1 0 1 0 1-.3 1 0 1 .4 1 0 1 0 1-.1 1-.1 1 0 1 .1 1 0 1 0 1-.1 1 0 1 .2 1 0 1-.2 1 .2 1-.1 1-.1 1 0 1 .2 1 0 1 0 1 0 1 0 1-.2 1 .2 1-.1 1 .1 1-.1 1 0 1 .1 1-.2 1 .1 1 0 1-.1 1 0 1 .2 1 0 1-.2 1 .2 1-.1 1 0 1 0 1 .1 1-.2 1 .2 1 0 1-.1 1-.1 1 0 1 .1 1 .1 1 0 1-.2 1 .1 1 .1 1 0 1-.1 1 0 1 0 1-.1 1 .2 1 0 1-.1 1 .1 1 0 1-.1 1 0 1 .1 1-.1 1 0 1 .1 1 0 1-.1 1 .1 1 0 1 0 1-.1 1 .1 1 0 1-.2 1 .1 1 .1 1 0 1 0 1 0 1 0 1-.1 1 0 1 .1 1 0 1-.1 1-.1 1 0 1 .2 1-.1 1 .1 1-.1 1 0 1 0 1 .1 1 0 1-.1 1 0 1 .1 1-.2 1 .2 1 0 1 0 1 0 1 0 1 0 1 0 1 0 1-.1 1 0 1 0 1 .1 1 0 1 0 1 0 1 0 1 0 1 0 1-.1 1-.1 1 .1 1 .1 1 0 1 0 1-.1 1 0 1 .1 1 0 1-.1 1 .1 1 0 1-.3 1 .3 1 0 1-.2 1 0 1 .2 1-.1 1-.1 1 0 1 .1 1-.1 1 .1 1 0 1 0 1 0 1-.1 1 .1 1 .1 1-.1 1 .1 1 0 1 0 1 0 1 0 1 0 1 0 1 0 1 0 1 0 1 0 1-.1 1 0 1-.1 1 0 1 0 1 .2 1-.2 1 0 1 .1 1 0 1 0 1 .1 1 0 1 0 1-.2 1 0 1 .2 1 0 1 0 1 0 1-.1 1 0 1 .1 1 0 1-.1 1 .1 1-.1 1 0 1 .1 1 0 1 0 1 0 1-.1 1-.1 1 .2 1 0 1-.2 1 0 1 .2 1-.1 1 0 1 .1 1 0 1 0 1-.1 1 0 1 0 1 0 1 .1 1-.1 1 0 1 .1 1 0 1-.1 1 0 1 .1 1 0 1 0 1 0 1-.1 1 .1 1 0 1-.2 1 0 1 0 1 .1 1 .1 1-.1 1 0 1 .1 1-.1 1 0 1 0 1 .1 1 0 1-.3 1 .3 1 0 1 0 1-.1 1 0 1 .1 1 0 1 0 1 0 1 0 1 0 1 0 1-.1 1 .1 1 0 1 0 1-.2 1 .1 1 .1 1 0 1-.2 1 0 1 .2 1 0 1 0 1 0 1-.2 1 0 1 0 1 0 1 .1 1 0 1 .1 1 0 1 0 1 0 1-.1 1 0 1 0 1 .1 1 0 1 0 1 0 1 0 1-.1 1 0 1 0 1 0 1 .1 1 0 1 0 1 0 1 0 1-.1 1 .1 1 0 1 0 1-.1 1 0 1 .1 1 0 1-.1 1 .1 1-.1 1 0 1-.1 1 .1 1 0 1 0 1 0 1 0 1 0 1 0 1 .1 1 0 1-.1 1 0 1 0 1 0 1 .1 1-.2 1 0 1 .2 1-.1 1 0 1 0 1 .1 1 0 1-.1 1 0 1 0 1 .1 1-.1 1 0 1 0 1 0 1 .1 1 0 1-.1 1 .1 1 0 1 0 1 0 1 0 1 0 1-.1 1 .1 1 0 1 0 1 0 1 0 1 0 1 0 1 0 1 0 1 0 1 0 1 0 1-.1 1 .1 1-.1 1 .1 1 0 1 0 1-.1 1 .1 1-.1 1 0 1-.1 1 .1 1 .1 1 0 1 0 1-.1 1 0 1-.1 1 0 1 .2 1-.1 1 0 1 .1 1-.1 1 0 1 0 1 0 1 0 1 0 1 .1 1 0 1-.2 1 .1 1 0 1 0 1 0 1-.1 1 0 1 .1 1 0 1 0 1 .1 1 0 1 0 1 0 1-.1 1 0 1 0 1 0 1 0 1-.2 1 0 1 .2 1 0 1 .1 1 0 1-.1 1 0 1 0 1 0 1 0 1 .1 1-.1 1-.3 1-.7 .8-.1 .2-.1 1 .5 1 .4 1 .3 1 0 1 .1 1 0 1-.1 1 0 1 0 1-.1 1 0 1 .1 1 .1 1-.1 1 0 1 0 1 .1 1-.1 1 .1 1 0 1 0 1-.1 1 .1 1 0 1 0 1-.1 1 0 1 0 1 .1 1-.1 1-.1 1 .2 1-.1 1 0 1 0 1 .1 1 0 1-.2 1 0 1 .2 1-.1 1 .1 1 0 1-.2 1 .1 1 0 1-.1 1 0 1 0 1 .1 1 0 1 .1 1-.1 1-.6 1-3.4 1-10.8 1-19.8 1-17.1 .4-1.9 .6 4.3 1 16.1 1 16.9 1 10.1 1 3.9 1 1.2 1 .5 1 .2 1 .1 1 0 1 .1 1 .1 1 0 1 0 1-.1 1 .2 1 0 1 0 1 .1 1 0 1 0 1 0 1-.1 1 .1 1-.1 1 0 1 .1 1 0 1 0 1-.2 1 0 1-.1 1-.3 1-.6 .4 0 .6 .1 1 .5 1 .5 1 0 1 0 1 .1 1 0 1-.2 1 .1 1 0 1 0 1 .1 1-.1 1-.1 1-.1 1 .2 1 0 1 .1 1 0 1-.3 1 0 1 .1 1 0 1 .2 1-.1 1 0 1-.1 1 .2 1-.1 1 .1 1-.2 1 .2 1-.1 1 0 1 0 1 .1 1-.1 1 0 1 0 1 0 1 0 1 0 1 0 1 0 1 .1 1 0 1 0 1-.1 1 0 1 0 1 .1 1 0 1 0 1-.1 1 0 1 0 1 0 1-.1 1 .2 1 0 1 0 1-.1 1 0 1 .1 1-.2 1 0 1 .2 1-.1 1 0 1 .1 1 0 1 0 1-.1 1 .1 1-.1 1 0 1-.1 1 0 1 .1 1 .1 1 0 1-.1 1 .1 1-.1 1-.1 1 0 1 .1 1 0 1 .1 1 0 1 0 1 0 1 0 1-.2 1 .1 1 0 1 0 1 0 1-.1 1 .1 1 .1 1 0 1 0 1 0 1 0 1-.1 1 0 1 .1 1 0 1 0 1 0 1 0 1 0 1 0 1-.1 1 .1 1 0 1 0 1 0 1 0 1-.1 1 .1 1 0 1 0 1 0 1-.1 1 .1 1-.1 1 0 1 0 1 .1 1-.1 1 .1 1 0 1 0 1-.1 1 0 1 .1 1 0 1 0 1 0 1-.2 1 0 1 .2 1-.1 1 0 1 0 1 .1 1 0 1 0 1 0 1 0 1 0 1 0 1 0 1 0 1 0 1 0 1 0 1 0 1-.1 1 .1 1-.1 1 .1 1 0 1-.2 1 0 1 .2 1 0 1-.2 1 0 1 .2 1 0 1-.2 1 0 1 .1 1 0 1 0 1 0 1-.1 1 .1 1 0 1 .1 1-.1 1 .1 1-.1 1 0 1 0 1 0 1 0 1 0 1 0 1 .1 1 0 1 0 1 0 1 0 1 0 1 0 1 0 1 0 1-.3 1 0 1 .3 1 0 1 0 1 0 1 0 1 0 1 0 1-.2 1 0 1 0 1 0 1 .2 1 0 1 0 1 0 1-.2 1 0 1 .1 1 0 1 .1 1 0 1 0 1-.3 1 0 1 .2 1 0 1 .1 1-.1 1 .1 1 0 1 0 1 0 1 0 1-.1 1 0 1 0 1 .1 1 0 1-.1 1 0 1 .1 1-.1 1 0 1 0 1-.1 1 0 1 0 1 .2 1 0 1-.1 1-.1 1 .2 1 0 1 0 1 0 1 0 1 0 1 0 1 0 1 0 1 0 1 0 1 0 1 0 1 0 1-.1 1 0 1 0 1 .1 1 0 1 0 1-.2 1 .2 1 0 1 0 1-.1 1 0 1 .1 1-.2 1 0 1 .2 1 0 1-.2 1 .2 1 0 1 0 1 0 1 0 1-.2 1 .2 1-.2" fill="none" stroke="#000" stroke-width="3.6" stroke-linejoin="round"/>
<circle cx="757.6" cy="2856.0" r="15.6" fill="#000"/>
<polygon points="2007.2,3010.0 1987.4,3049.7 2027.0,3049.7" fill="#000"/>
<text x="2329.7" y="2883.8" font-size="51.3" text-anchor="end">75 pmole</text>
<path d="M364 3404.5l .5-.6 .5 .5 .5-.5 .5 .4 .5-.6 .5 .8 .5-.5 .5 .4 .5-.4 .5 .4 .5-.6 .5 .7 .5-.4 .5 .2 .5-.5 .5 .6 .5-.3 .5 .4 .5-.3 .5 .4 .5-1 .5 1 .5-1 .5 1 .5-1.4 .5 1.3 .5-.8 .5 .8 .5-.8 .5 .7 .5-.9 .5 .9 .5-.3 .5 .5 .5-.8 .5 .6 .5-.5 .5 .6 .5-1.1 .5 1 .5-.6 .5 .6 .5-1.6 .5 1.8 .5-1.5 .5 1.4 .5-2 .5 2.1 .5-1.1 .5 .8 .5-.6 .5 .8 .5-1.5 .5 1.5 .5-1 .5 1 .5-1.1 .5 1.1 .5-1.2 .5 1.2 .5-1.2 .5 1.1 .5-.6 .5 .6 .5-.8 .5 .9 .5-.7 .5 .7 .5-.8 .5 .8 .5-1 .5 1 .5-.8 .5 .7 .5-.5 .5 .6 .5-1.3 .5 1.2 .5-1.2 .5 1.1 .5-.9 .5 1 .5-1.6 .5 1.5 .5-1.1 .5 1.3 .5-.6 .5 .6 .5-1.4 .5 1.4 .5-1.6 .5 1.5 .5-1.1 .5 1.1 .5-.9 .5 .9 .5-.8 .5 .9 .5-1.2 .5 1.1 .5-1.2 .5 1.1 .5-.4 .5 .5 .5-.3 .5 .4 .5-.5 .5 .5 .5-.4 .5 .2 .5-.2 .5 .4 .5-.4 .5 .3 .5-.5 .5 .4 .5-.4 .5 .5 .5-.5 .5 .5 .5-.7 .5 .7 .5-.9 .5 .9 .5-.8 .5 .8 .5-.7 .5 .9 .5-.9 .5 .7 .5-.8 .5 .8 .5-.6 .5 .7 .5-.6 .5 .6 .5-.7 .5 .8 .5-.8 .5 .7 .5-.7 .5 .6 .5-.9 .5 .8 .5-1.4 .5 1.7 .5-.8 .5 .6 .5-1.1 .5 1 .5-1 .5 1.1 .5-1.1 .5 1.2 .5-1.2 .5 1.1 .5-.3 .5 .4 .5-.8 .5 .8 .5-.5 .5 .4 .5-1.6 .5 1.7 .5-.5 .5 .4 .5-.4 .5 .6 .5-1.4 .5 1.3 .5-1.1 .5 1 .5-.6 .5 .7 .5-.9 .5 .8 .5-.8 .5 .8 .5-.5 .5 .5 .5-.6 .5 .7 .5-.6 .5 .6 .5-.7 .5 .8 .5-.5 .5 .3 .5-.3 .5 .4 .5-.8 .5 .7 .5-.4 .5 .4 .5-.2 .5 .2 .5-.7 .5 .8 .5-.8 .5 .8 .5-.7 .5 .6 .5-.8 .5 .9 .5-1 .5 1 .5-1 .5 1.1 .5-1.1 .5 .9 .5-1 .5 1 .5-.7 .5 .9 .5-.7 .5 .5 .5-.5 .5 .6 .5-.4 .5 .5 .5-.9 .5 .6 .5-.2 .5 .5 .5-.7 .5 .6 .5-.5 .5 .4 .5-.8 .5 1 .5-1.2 .5 1 .5-1.2 .5 1.3 .5-.9 .5 .8 .5-.8 .5 .9 .5-1.1 .5 1 .5-1.3 .5 1.3 .5-.4 .5 .4 .5-.9 .5 1 .5-1.5 .5 1.5 .5-.6 .5 .6 .5-1.6 .5 1.5 .5-.6 .5 .5 .5-1.6 .5 1.5 .5-.9 .5 .3 .5-1.7 .5-.2 .5-2.4 .5-1 .5-2.8 .5 0 .3 0 .2-.5 .5 1.3 .5 .7 .5 2.6 .5 .9 .5 2.1 .5 .1 .5 1.3 .5-.1 .5 .3 .5-.9 .5 1.2 .5-.7 .5 .7 .5-.7 .5 .5 .5-.3 .5 .4 .5-.3 .5 .3 .5-.4 .5 .6 .5-.7 .5 .5 .5-.8 .5 1 .5-.9 .5 .6 .5-.4 .5 .6 .5-1 .5 1 .5-.8 .5 .7 .5-.5 .5 .6 .5-1.2 .5 1.1 .5-1.4 .5 1.6 .5-1.2 .5 1.1 .5-1.4 .5 1.3 .5-1 .5 1 .5-.5 .5 .7 .5-.6 .5 .5 .5-1 .5 .9 .5-1.6 .5 1.7 .5-.6 .5 .5 .5-.6 .5 .6 .5-1.2 .5 1.3 .5-1.7 .5 1.6 .5-1.3 .5 1.2 .5-1.1 .5 1.3 .5-1.4 .5 1.4 .5-.8 .5 .9 .5-1 .5 .9 .5-1 .5 .9 .5-1.8 .5 1.9 .5-1.5 .5 1.5 .5-1.6 .5 1.6 .5-.8 .5 .7 .5-1.1 .5 1.3 .5-.7 .5 .5 .5-.7 .5 .8 .5-.8 .5 .7 .5-1.6 .5 1.5 .5-.6 .5 .7 .5-1.5 .5 1.7 .5-1.4 .5 1.2 .5-.5 .5 .5 .5-.6 .5 .6 .5-1.4 .5 1.3 .5-.9 .5 .9 .5-1.3 .5 1.6 .5-1 .5 .8 .5-.9 .5 1.1 .5-1.3 .5 1.3 .5-1.7 .5 1.5 .5-1.5 .5 1.6 .5-.6 .5 .6 .5-1.1 .5 1.1 .5-.6 .5 .4 .5-.5 .5 .6 .5-1.2 .5 1.3 .5-1.1 .5 1.2 .5-.7 .5 .5 .5-1.1 .5 1 .5-1.7 .5 2 .5-1.6 .5 1.4 .5-1 .5 1 .5-.4 .5 .4 .5-1.1 .5 1.2 .5-1 .5 1.1 .5-1.5 .5 1.5 .5-1.6 .5 1.4 .5-.5 .5 .7 .5-1.1 .5 1 .5-.8 .5 .8 .5-.7 .5 .7 .5-1.3 .5 1.1 .5-1 .5 1.1 .5-.6 .5 .7 .5-.6 .5 .5 .5-.7 .5 .7 .5-1.2 .5 1.3 .5-.9 .5 .8 .5-.5 .5 .7 .5-.7 .5 .5 .5-1.2 .5 1.2 .5-1 .5 1.2 .5-1.6 .5 1.5 .5-.9 .5 .8 .5-.8 .5 .9 .5-1 .5 1 .5-.5 .5 .4 .5-1.8 .5 1.2 .5-2.4 .5-2.9 .5-8.1 .5-10.4 .5-16.5 .5-14.9 .5-12.9 .4-2.3 .1 .5 .5 5.1 .5 13.2 .5 13.4 .5 13.3 .5 8.5 .5 8 .5 3.3 .5 2.5 .5-.4 .5 1.9 .5-1.4 .5 2 .5-.4 .5 .7 .5-.9 .5 1.1 .5-1.4 .5 1.6 .5-.9 .5 1.1 .5-1.5 .5 1.5 .5-1 .5 1.1 .5-1.3 .5 1.2 .5-.7 .5 1 .5-1.3 .5 1.3 .5-.9 .5 .7 .5-.8 .5 .8 .5-.9 .5 1.1 .5-1.4 .5 1.4 .5-1.4 .5 1.3 .5-.4 .5 .6 .5-.6 .5 .5 .5-.5 .5 .4 .5-.6 .5 .8 .5-.8 .5 .8 .5-.6 .5 .4 .5-.4 .5 .5 .5-.5 .5 .3 .5-.2 .5 .3 .5-.3 .5 .4 .5-.3 .5 .3 .5-.5 .5 .3 .5-.3 .5 0 .5-.6 .5-.1 .5-1 .5-.1 .5-.6 .1 .4 .4 .1 .5 0 .5 1.1 .5 0 .5 .8 .5 0 .5 .5 .5-.4 .5 .2 .5-.4 .5 .4 .5-.4 .5 .7 .5-.6 .5 .5 .5-.8 .5 .8 .5-.8 .5 .7 .5-.5 .5 .6 .5-.3 .5 .2 .5-.6 .5 .7 .5-.6 .5 .5 .5-.5 .5 .5 .5-.2 .5 .3 .5-.4 .5 .4 .5-.9 .5 .8 .5-1 .5 1.1 .5-1.2 .5 1.2 .5-1.1 .5 1.2 .5-1 .5 .9 .5-.4 .5 .4 .5-.3 .5 .2 .5-.3 .5 .4 .5-.7 .5 .5 .5-.2 .5 .3 .5-.6 .5 .6 .5-.5 .5 .4 .5-.9 .5 1 .5-.5 .5 .6 .5-.6 .5 .4 .5-.6 .5 .7 .5-.8 .5 .1 .5-1 .5-.4 .5-1.9 .5-.2 .5-2 .5 1 .5-.2 .5 1.2 .5 .7 .5 1.4 .5 .4 .5 .9 .5 0 .5 .6 .5-.3 .5 .5 .5-.2 .5 .1 .5-.1 .5 .2 .5-.3 .5 .2 .5-.6 .5 .7 .5-.4 .5 .5 .5-.5 .5 .4 .5-.6 .5 .6 .5-1.2 .5 1.2 .5-1.2 .5 1.2 .5-.9 .5 1 .5-1 .5 1.1 .5-1.3 .5 1.2 .5-.8 .5 .6 .5-1.1 .5 1.3 .5-1.6 .5 1.5 .5-1.6 .5 1.7 .5-.7 .5 .6 .5-.8 .5 .8 .5-1.2 .5 1 .5-1.4 .5 .7 .5-2.7 .5 .9 .5-1.6 .5 .3 .5-1.6 .5 1.5 .5 .1 .5 1.3 .5-.4 .5 2 .5-1.3 .5 2.1 .5-.4 .5 .7 .5-1.1 .5 1.2 .5-1.4 .5 1.4 .5-1.2 .5 1.2 .5-1.1 .5 1 .5-.8 .5 .8 .5-.6 .5 .8 .5-.7 .5 .7 .5-.6 .5 .4 .5-1.4 .5 1.3 .5-.8 .5 1 .5-.9 .5 .9 .5-1.4 .5 1.4 .5-.9 .5 .9 .5-1.8 .5 1.7 .5-1 .5 1 .5-.9 .5 1.1 .5-1.3 .5 1.1 .5-1.2 .5 1.4 .5-1.6 .5 1.4 .5-.5 .5 .6 .5-.7 .5 .5 .5-1.1 .5 1.2 .5-1.4 .5 1.5 .5-.9 .5 1 .5-1.5 .5 1.3 .5-1.4 .5 1.3 .5-1.4 .5 1.6 .5-1 .5 .8 .5-.4 .5 .4 .5-.3 .5 .5 .5-1.6 .5 1.6 .5-1.2 .5 1.3 .5-1.9 .5 1.8 .5-1.3 .5 1.1 .5-1.7 .5 1.8 .5-1.3 .5 1.4 .5-.6 .5 .6 .5-.5 .5 .4 .5-.4 .5 .6 .5-1.3 .5 1.2 .5-1.1 .5 1 .5-.5 .5 .5 .5-1.2 .5 1.1 .5-1.2 .5 1.3 .5-.5 .5 .7 .5-.7 .5 .5 .5-.9 .5 1 .5-1 .5 1.1 .5-.6 .5 .6 .5-1.3 .5 1.1 .5-1.1 .5 1.1 .5-.5 .5 .5 .5-.4 .5 .5 .5-.6 .5 .3 .5-1.2 .5-.6 .5-3.3 .5-5.3 .5-9.5 .5-12.3 .5-15.5 .5-12.3 .5-7.8 .2-.2 .3 2 .5 7.2 .5 11.9 .5 11.8 .5 12 .5 7.7 .5 6.8 .5 2.7 .5 3 .5 .2 .5 1.5 .5-.5 .5 .8 .5-.4 .5 .9 .5-.5 .5 .8 .5-1 .5 1 .5-.3 .5 .4 .5-.7 .5 .6 .5-.2 .5 .4 .5-.7 .5 .7 .5-.9 .5 .9 .5-.6 .5 .6 .5-.9 .5 1.1 .5-1 .5 .8 .5-1 .5 1 .5-.3 .5 .5 .5-.5 .5 .4 .5-.3 .5 .4 .5-.4 .5 .2 .5-.2 .5 .4 .5-.9 .5 1 .5-.9 .5 .7 .5-.7 .5 .8 .5-.5 .5 .4 .5-.3 .5 .3 .5-.7 .5 .7 .5-.4 .5 .3 .5-.2 .5 .3 .5-.3 .5 .3 .5-.7 .5 .4 .5-1 .5 .2 .5-.9 .5-.4 .5-1.8 .5 .9 .5-.7 .5 1.6 .5-.3 .5 1.7 .5-.2 .5 .9 .5-.5 .5 .7 .5-.5 .5 .7 .5-.9 .5 .8 .5-.6 .5 .7 .5-.4 .5 .3 .5-1.1 .5 1.2 .5-.6 .5 .5 .5-.5 .5 .4 .5-.7 .5 1 .5-.6 .5 .4 .5-.7 .5 .8 .5-1 .5 .9 .5-.7 .5 .6 .5-.6 .5 .9 .5-.7 .5 .5 .5-.6 .5 .7 .5-.7 .5 .6 .5-.3 .5 .4 .5-.6 .5 .7 .5-.7 .5 .5 .5-.5 .5 .6 .5-1.1 .5 1 .5-.4 .5 .3 .5-.3 .5 .3 .5-.4 .5 .4 .5-.4 .5 .5 .5-.4 .5 .4 .5-.8 .5 .8 .5-.3 .5 .2 .5-.6 .5 .8 .5-.8 .5 .6 .5-1.1 .5 1.2 .5-1.1 .5 1.2 .5-1.4 .5 1.4 .5-.5 .5 .4 .5-1.4 .5 1.5 .5-1 .5 1 .5-.5 .5 .5 .5-1.2 .5 1.2 .5-.9 .5 .8 .5-.6 .5 .7 .5-1.1 .5 1 .5-.8 .5 .9 .5-1 .5 1 .5-.7 .5 .7 .5-1.2 .5 1.2 .5-.6 .5 .4 .5-.7 .5 .9 .5-.6 .5 .7 .5-.7 .5 .6 .5-.4 .5 .4 .5-.3 .5 .4 .5-.5 .5 .4 .5-.4 .5 .3 .5-.4 .5 .5 .5-.3 .5 .3 .5-.6 .5 .7 .5-.6 .5 .6 .5-.4 .5 .1 .5-.3 .5 .5 .5-.7 .5 .6 .5-.4 .5 .6 .5-.6 .5 .5 .5-.5 .5 .5 .5-.3 .5 .2 .5-.2 .5 .2 .5-.4 .5 .4 .5-.4 .5 .5 .5-.3 .5 .3 .5-.4 .5 .4 .5-.5 .5 .5 .5-.6 .5 .7 .5-.5 .5 .3 .5-.4 .5 .3 .5-.1 .5 .3 .5-.5 .5 .3 .5-.2 .5 .3 .5-.4 .5 .5 .5-.6 .5 .6 .5-.5 .5 .5 .5-.4 .5 .2 .5-.3 .5 .5 .5-.8 .5 .6 .5-.7 .5 .8 .5-.8 .5 .7 .5-.3 .5 .5 .5-1.3 .5 1.4 .5-1.2 .5 .9 .5-.7 .5 .8 .5-.8 .5 .8 .5-.6 .5 .7 .5-.8 .5 .6 .5-.9 .5 1 .5-.9 .5 1.1 .5-.7 .5 .6 .5-.8 .5 .9 .5-1.7 .5 1.5 .5-1.3 .5 1.4 .5-1 .5 .8 .5-.7 .5 .9 .5-1.1 .5 1.1 .5-.8 .5 .7 .5-.4 .5 .4 .5-1 .5 1.1 .5-.4 .5 .2 .5-.4 .5 .5 .5-1.1 .5 1.2 .5-.6 .5 .7 .5-.5 .5 .3 .5-.9 .5 1 .5-1.2 .5 1.2 .5-1.1 .5 1.1 .5-.8 .5 .8 .5-1 .5 .9 .5-.5 .5 .5 .5-.9 .5 .9 .5-.3 .5 .5 .5-1.1 .5 .9 .5-1.1 .5 1.2 .5-.7 .5 .5 .5-.2 .5 .4 .5-.9 .5 .9 .5-.9 .5 1 .5-1.1 .5 .9 .5-1.3 .5 1.2 .5-.5 .5 .8 .5-1.6 .5 1.6 .5-1.2 .5 .9 .5-.6 .5 .8 .5-1.2 .5 1.1 .5-.6 .5 .6 .5-.9 .5 .9 .5-.7 .5 .7 .5-.3 .5 .5 .5-1.1 .5 1 .5-.7 .5 .5 .5-.6 .5 .7 .5-.4 .5 .5 .5-.7 .5 .7 .5-.4 .5 .5 .5-1 .5 .9 .5-.7 .5 .6 .5-.6 .5 .6 .5-.8 .5 1 .5-.8 .5 .5 .5-.9 .5 1 .5-.3 .5 .4 .5-1 .5 1 .5-.4 .5 .3 .5-.3 .5 .4 .5-.8 .5 .7 .5-.8 .5 .7 .5-.4 .5 .6 .5-.7 .5 .5 .5-.4 .5 .4 .5-.6 .5 .8 .5-.6 .5 .4 .5-.2 .5 .5 .5-.4 .5 .4 .5-.7 .5 .5 .5-.2 .5 .3 .5-.5 .5 .3 .5-.4 .5 .6 .5-.7 .5 .7 .5-.5 .5 .6 .5-1.2 .5 1.2 .5-1.1 .5 1 .5-.9 .5 .9 .5-1 .5 .9 .5-.6 .5 .7 .5-.7 .5 .7 .5-.9 .5 .9 .5-.7 .5 .6 .5-.8 .5 .8 .5-.5 .5 .5 .5-.6 .5 .5 .5-.3 .5 .3 .5-.6 .5 .7 .5-.5 .5 .6 .5-.5 .5 .4 .5-.4 .5 .4 .5-.2 .5 .2 .5-.3 .5 .3 .5-.3 .5 .3 .5-.5 .5 .4 .5-.4 .5 .6 .5-.7 .5 .5 .5-.1 .5 .3 .5-.6 .5 .4 .5-.1 .5 .1 .5-.2 .5 .3 .5-.3 .5 .5 .5-.4 .5 .3 .5-.8 .5 .8 .5-.6 .5 .5 .5-.5 .5 .4 .5-.8 .5 1 .5-.4 .5 .4 .5-1 .5 1 .5-.7 .5 .7 .5-.6 .5 .7 .5-1.5 .5 1.3 .5-1 .5 1 .5-.9 .5 .9 .5-.4 .5 .5 .5-.8 .5 .7 .5-1.4 .5 1.6 .5-1.4 .5 1.3 .5-.7 .5 .5 .5-.6 .5 .7 .5-.7 .5 .7 .5-1 .5 1.1 .5-1.2 .5 1.1 .5-.6 .5 .6 .5-.7 .5 .7 .5-.8 .5 1 .5-.5 .5 .4 .5-1 .5 1.1 .5-.6 .5 .3 .5-.3 .5 .4 .5-.5 .5 .4 .5-.5 .5 .8 .5-1 .5 1 .5-1.2 .5 .8 .5-1.2 .5-1.1 .5-5.4 .5-9.8 .5-20.7 .5-32.1 .5-46.3 .5-51.2 .5-46.6 .5-25.6 .2-2.3 .3 5.6 .5 28 .5 39.6 .5 45.4 .5 40 .5 31.6 .5 20.5 .5 13.5 .5 6.3 .5 4.4 .5 1.8 .5 1.4 .5 .4 .5 1.1 .5 .1 .5 .8 .5-.6 .5 1.1 .5-.7 .5 1 .5 0 .5 .4 .5-.4 .5 .8 .5-.7 .5 .8 .5-1 .5 1.2 .5-.6 .5 .7 .5-.5 .5 .5 .5-.9 .5 .9 .5-.8 .5 .7 .5-.5 .5 .5 .5-.4 .5 .6 .5-.3 .5 .3 .5-.5 .5 .5 .5-1.1 .5 1 .5-.7 .5 .8 .5-.7 .5 .6 .5-.4 .5 .4 .5-.3 .5 .4 .5-.5 .5 .5 .5-.6 .5 .2 .5-1.3 .5-.2 .5-1.3 .5-.5 .5-1.6 .3 1 .2 0 .5 .1 .5 1.2 .5 .5 .5 1.4 .5 .1 .5 .8 .5-.8 .5 .8 .5-.6 .5 .8 .5-.5 .5 .6 .5-.8 .5 .6 .5-.5 .5 .5 .5-1.3 .5 1.3 .5-.7 .5 .6 .5-1 .5 1 .5-.4 .5 .6 .5-.9 .5 .9 .5-1.4 .5 1.3 .5-.6 .5 .7 .5-.7 .5 .6 .5-1.1 .5 1 .5-.8 .5 .9 .5-1 .5 1.1 .5-.6 .5 .4 .5-.6 .5 .8 .5-.5 .5 .5 .5-.7 .5 .8 .5-.6 .5 .4 .5-1.1 .5 1 .5-.4 .5 .5 .5-.7 .5 .7 .5-1.5 .5 1.5 .5-1.2 .5 1.3 .5-.7 .5 .7 .5-1.1 .5 1 .5-.7 .5 .8 .5-1 .5 .9 .5-.6 .5 .6 .5-.5 .5 .6 .5-1.1 .5 1.2 .5-1.1 .5 1.1 .5-.6 .5 .5 .5-.7 .5 .6 .5-.7 .5 .7 .5-.5 .5 .7 .5-1 .5 .8 .5-.6 .5 .5 .5-.3 .5 .6 .5-.7 .5 .6 .5-1.1 .5 .9 .5-.9 .5 1 .5-.3 .5 .2 .5-.5 .5 .6 .5-.9 .5 .9 .5-.8 .5 .7 .5-.5 .5 .7 .5-.7 .5 .5 .5-.5 .5 .5 .5-.5 .5 .7 .5-.5 .5 .5 .5-.9 .5 1 .5-.6 .5 .3 .5-1.1 .5 1.3 .5-.9 .5 .8 .5-.7 .5 .7 .5-.5 .5 .6 .5-.6 .5 .4 .5-.6 .5 .8 .5-.3 .5 .4 .5-.7 .5 .5 .5-.4 .5 .2 .5-1.3 .5-1 .5-3.7 .5-4.3 .5-8 .5-6.7 .5-7.6 .5-3.2 .2-.4 .3 .5 .5 5.1 .5 6.5 .5 8.4 .5 6 .5 5.1 .5 1.3 .5 2.5 .5 0 .5 1 .5-1.1 .5 1.1 .5-.7 .5 .6 .5-.6 .5 .8 .5-.7 .5 .8 .5-.8 .5 .7 .5-.6 .5 .7 .5-.6 .5 .5 .5-.6 .5 .5 .5-.9 .5 .8 .5-.5 .5 .6 .5-.6 .5 .6 .5-1 .5 1.1 .5-.9 .5 .9 .5-.8 .5 .7 .5-.7 .5 .7 .5-1 .5 1.2 .5-.5 .5 .3 .5-.7 .5 .8 .5-.5 .5 .4 .5-.5 .5 .5 .5-.3 .5 .4 .5-.5 .5 .4 .5-.4 .5 .6 .5-.6 .5 .6 .5-.6 .5 .4 .5-.5 .5 .6 .5-.4 .5 .5 .5-.6 .5 .6 .5-.6 .5 .5 .5-.5 .5 .4 .5-.6 .5 .7 .5-.6 .5 .5 .5-.6 .5 .7 .5-.7 .5 .6 .5-.2 .5 .2 .5-.7 .5 .7 .5-.5 .5 .7 .5-.5 .5 .4 .5-.7 .5 .8 .5-1.1 .5 .9 .5-.4 .5 .4 .5-.7 .5 .8 .5-.6 .5 .6 .5-.4 .5 .4 .5-.7 .5 .5 .5-.3 .5 .3 .5-.4 .5 .6 .5-.4 .5 .5 .5-.7 .5 .5 .5-.5 .5 .6 .5-1.2 .5 1.3 .5-.8 .5 .6 .5-1.6 .5 1.7 .5-.8 .5 .7 .5-.6 .5 .7 .5-.7 .5 .6 .5-1.1 .5 1.2 .5-1.3 .5 1.1 .5-1.1 .5 1.2 .5-.8 .5 .8 .5-1.1 .5 1 .5-.9 .5 1.2 .5-1.3 .5 1.2 .5-.7 .5 .7 .5-1 .5 .9 .5-1 .5 1.2 .5-1 .5 .7 .5-.3 .5 .4 .5-.6 .5 .8 .5-.8 .5 .5 .5-1.1 .5 1.3 .5-.5 .5 .6 .5-.8 .5 .6 .5-1 .5 1.1 .5-1.1 .5 1.1 .5-1.4 .5 1.5 .5-.8 .5 .6 .5-.5 .5 .4 .5-.3 .5 .5 .5-.4 .5 .3 .5-.8 .5 .5 .5-1.4 .5-.2 .5-2.8 .5-1.3 .5-4.5 .5-2.5 .5-3.7 .5-1.2 .2-.1 .3 0 .5 2.5 .5 2.8 .5 4 .5 2.5 .5 3.1 .5 .9 .5 1.7 .5-.2 .5 .8 .5-.4 .5 .3 .5-.7 .5 .7 .5-1 .5 1.1 .5-.6 .5 .5 .5-.8 .5 1 .5-.7 .5 .7 .5-.8 .5 .5 .5-.2 .5 .2 .5-.3 .5 .5 .5-.3 .5 .4 .5-.7 .5 .7 .5-.4 .5 .2 .5-.3 .5 .3 .5-.3 .5 .4 .5-.3 .5 .1 .5-.1 .5 .4 .5-.5 .5 .2 .5-.4 .5 .7 .5-.6 .5 .3 .5-.2 .5 .4 .5-.5 .5 .3 .5-.3 .5 .5 .5-.6 .5 .7 .5-.4 .5 .3 .5-.3 .5 .2 .5-.4 .5 .4 .5-.4 .5 .3 .5-.8 .5 1.1 .5-.9 .5 .7 .5-.6 .5 .8 .5-.5 .5 .4 .5-.3 .5 .3 .5-.8 .5 .8 .5-.4 .5 .4 .5-.5 .5 .5 .5-.5 .5 .5 .5-.6 .5 .5 .5-.7 .5 .8 .5-.8 .5 .8 .5-.4 .5 .2 .5-.2 .5 .4 .5-.6 .5 .5 .5-.6 .5 .6 .5-.5 .5 .6 .5-.5 .5 .3 .5-.5 .5 .7 .5-1.1 .5 1.2 .5-.9 .5 .8 .5-1.8 .5 1.7 .5-1.3 .5 1.3 .5-.4 .5 .5 .5-1.6 .5 1.7 .5-1.1 .5 1 .5-.6 .5 .7 .5-1.1 .5 .9 .5-.8 .5 1 .5-1.7 .5 1.7 .5-1.3 .5 1.3 .5-.7 .5 .5 .5-.4 .5 .5 .5-1.2 .5 1.1 .5-1 .5 .9 .5-.4 .5 .5 .5-1.1 .5 1.2 .5-.5 .5 .3 .5-.2 .5 .5 .5-.6 .5 .4 .5-1.1 .5 1.3 .5-1.3 .5 1.2 .5-1.1 .5 1.2 .5-1.1 .5 .9 .5-.9 .5 1.1 .5-1.3 .5 1.2 .5-1.1 .5 1 .5-1.7 .5 1.7 .5-.5 .5 .6 .5-1.5 .5 1.3 .5-1.6 .5 1.7 .5-1 .5 .9 .5-.5 .5 .6 .5-1.6 .5 1.7 .5-.8 .5 .8 .5-1.2 .5 1.1 .5-1.1 .5 1.2 .5-.7 .5 .8 .5-1.2 .5 1.2 .5-.6 .5 .6 .5-.6 .5 .5 .5-.6 .5 .6 .5-.7 .5 .6 .5-.4 .5 .4 .5-.2 .5 .2 .5-.3 .5 .3 .5-.2 .5 .1 .5-.2 .5 .3 .5-.8 .5 .9 .5-1.2 .5 1.3 .5-1 .5 .8 .5-.8 .5 .9 .5-.8 .5 .6 .5-.7 .5 .7 .5-.6 .5 .8 .5-.7 .5 .8 .5-1.3 .5 1.1 .5-1.2 .5 1.2 .5-1 .5 1.2 .5-1 .5 1 .5-1.2 .5 1.1 .5-1.1 .5 1 .5-1.6 .5 1.6 .5-.7 .5 .7 .5-1.5 .5 1.4 .5-1 .5 1.2 .5-1 .5 .9 .5-1.5 .5 1.5 .5-1.5 .5 1.7 .5-1.6 .5 1.4 .5-1.5 .5 1.4 .5-1.4 .5 1.5 .5-.5 .5 .4 .5-.5 .5 .6 .5-.4 .5 .5 .5-1 .5 .9 .5-.5 .5 .6 .5-1 .5 .9 .5-1 .5 .8 .5-1.8 .5 .3 .5-1.9 .5 .1 .5-1.3 .3 .4 .2 0 .5-.2 .5 1.7 .5 .2 .5 1.7 .5 0 .5 .9 .5-.6 .5 .7 .5-.9 .5 1.1 .5-.7 .5 .5 .5-.3 .5 .2 .5-.8 .5 1 .5-.7 .5 .6 .5-.6 .5 .7 .5-.6 .5 .6 .5-.5 .5 .6 .5-.7 .5 .6 .5-.4 .5 .3 .5-.4 .5 .5 .5-.4 .5 .3 .5-.2 .5 .1 .5-.2 .5 .4 .5-.4 .5 .4 .5-.3 .5 .1 .5-.1 .5 .2 .5-.5 .5 .7 .5-.5 .5 .2 .5-.3 .5 .6 .5-.4 .5 .3 .5-.5 .5 .4 .5-.2 .5 .4 .5-.5 .5 .5 .5-.5 .5 .3 .5-.2 .5 .3 .5-.3 .5 .2 .5-.3 .5 .4 .5-.3 .5 .2 .5-.5 .5 .6 .5-.5 .5 .3 .5-.4 .5 .4 .5-.2 .5 .2 .5-.9 .5 1.2 .5-.6 .5 .5 .5-.5 .5 .4 .5-.5 .5 .4 .5-.6 .5 .7 .5-.5 .5 .6 .5-.6 .5 .4 .5-.9 .5 1 .5-1.1 .5 1.1 .5-.5 .5 .7 .5-1.3 .5 1.2 .5-1 .5 .9 .5-.8 .5 .7 .5-1.2 .5 1.3 .5-.8 .5 .9 .5-.9 .5 .9 .5-1.5 .5 1.6 .5-1.2 .5 1 .5-.6 .5 .6 .5-1 .5 1 .5-.8 .5 .8 .5-1.2 .5 1.2 .5-.7 .5 .6 .5-.8 .5 1 .5-1 .5 .9 .5-1.1 .5 1.1 .5-.7 .5 .7 .5-1.5 .5 1.6 .5-.9 .5 1 .5-1.5 .5 1.3 .5-1.2 .5 1.2 .5-.6 .5 .6 .5-.5 .5 .6 .5-.9 .5 .9 .5-1.1 .5 1 .5-.6 .5 .7 .5-.9 .5 .9 .5-.6 .5 .4 .5-.4 .5 .7 .5-.5 .5 .4 .5-.7 .5 .7 .5-.4 .5 .3 .5-.3 .5 .4 .5-.4 .5 .4 .5-.5 .5 .5 .5-.3 .5 .2 .5-.3 .5 .3 .5-.4 .5 .4 .5-.5 .5 .5 .5-.2 .5 .2 .5-.4 .5 .5 .5-.6 .5 .7 .5-.5 .5 .5 .5-.9 .5 .6 .5-.8 .5 .7 .5-.9 .5 .4 .5-1.2 .5 .2 .5-1.2 .4 .5 .1 0 .5-.3 .5 1.2 .5 .1 .5 .8 .5-.1 .5 .6 .5-.9 .5 1 .5-.6 .5 .7 .5-.7 .5 .5 .5-.4 .5 .4 .5-.8 .5 .8 .5-.3 .5 .5 .5-1.3 .5 1.2 .5-.8 .5 .8 .5-.9 .5 .9 .5-1.3 .5 1.4 .5-.7 .5 .5 .5-1.2 .5 1.2 .5-.6 .5 .6 .5-1.1 .5 1.4 .5-.7 .5 .4 .5-1 .5 1.3 .5-1 .5 .8 .5-.6 .5 .8 .5-1.3 .5 1.1 .5-.6 .5 .7 .5-1.1 .5 1 .5-.6 .5 .7 .5-1 .5 .8 .5-.8 .5 1 .5-1.2 .5 1.1 .5-1.2 .5 .8 .5-1.1 .5 0 .5-1.4 .5-.1 .5-1.2 .1 .9 .4 .1 .5-.6 .5 1.9 .5 .3 .5 1 .5-.7 .5 1.3 .5-.8 .5 .8 .5-.5 .5 .6 .5-.5 .5 .5 .5-1.2 .5 1 .5-.8 .5 1 .5-.4 .5 .5 .5-.9 .5 .8 .5-1.5 .5 1.5 .5-.7 .5 .6 .5-.4 .5 .5 .5-.9 .5 .8 .5-.6 .5 .8 .5-1.2 .5 1 .5-.4 .5 .4 .5-.5 .5 .4 .5-.5 .5 .8 .5-1.3 .5 1.3 .5-.8 .5 .5 .5-.4 .5 .5 .5-.5 .5 .6 .5-.8 .5 .7 .5-.5 .5 .4 .5-.8 .5 1.1 .5-.5 .5 .3 .5-.5 .5 .5 .5-.3 .5 .5 .5-.6 .5 .4 .5-.8 .5 .9 .5-1 .5 .9 .5-.3 .5 .5 .5-1 .5 .9 .5-.8 .5 .8 .5-.4 .5 .3 .5-.9 .5 .9 .5-.9 .5 1 .5-1 .5 1 .5-.4 .5 .3 .5-.8 .5 1 .5-.6 .5 .4 .5-.4 .5 .5 .5-1.2 .5 1.3 .5-.6 .5 .5 .5-.5 .5 .4 .5-.6 .5 .7 .5-.9 .5 1 .5-1.4 .5 1.4 .5-1.6 .5 1.5 .5-1.3 .5 1.3 .5-.8 .5 .7 .5-1.2 .5 1.3 .5-.5 .5 .3 .5-.3 .5 .4 .5-1.2 .5 1.4 .5-1.3 .5 1.1 .5-.5 .5 .5 .5-.5 .5 .6 .5-.6 .5 .5 .5-1 .5 1 .5-.7 .5 .9 .5-.6 .5 .4 .5-.5 .5 .6 .5-.8 .5 .7 .5-.9 .5 1.1 .5-1 .5 .8 .5-.4 .5 .4 .5-.5 .5 .6 .5-.6 .5 .5 .5-.2 .5 .1 .5-.2 .5 .4 .5-.4 .5 .4 .5-.5 .5 .4 .5-.4 .5 .3 .5-.3 .5 .4 .5-.8 .5 .7 .5-.6 .5 .6 .5-.5 .5 .6 .5-.2 .5 .3 .5-.4 .5 .4 .5-.5 .5 .4 .5-.2 .5 .2 .5-.4 .5 .4 .5-.4 .5 .4 .5-.3 .5 .3 .5-.2 .5 .2 .5-.2 .5 .1 .5-.1 .5 .3 .5-.4 .5 .3 .5-.2 .5 .4 .5-.7 .5 .6 .5-.7 .5 .6 .5-.4 .5 .4 .5-.7 .5 .9 .5-.8 .5 .6 .5-.4 .5 .3 .5-.5 .5 .7 .5-1.4 .5 1.4 .5-1.9 .5 1.9 .5-.9 .5 .7 .5-.6 .5 .7 .5-.6 .5 .7 .5-1 .5 1 .5-1.3 .5 1.2 .5-1.4 .5 1.4 .5-1.6 .5 1.7 .5-1 .5 1.1 .5-1.4 .5 1.3 .5-.7 .5 .6 .5-.6 .5 .6 .5-.8 .5 .8 .5-1.4 .5 1.5 .5-1.8 .5 1.8 .5-1.9 .5 1.8 .5-1.7 .5 1.8 .5-.7 .5 .6 .5-.9 .5 .9 .5-.9 .5 1.1 .5-.7 .5 .5 .5-1.2 .5 1.3 .5-.5 .5 .3 .5-.7 .5 .7 .5-1.2 .5 1.3 .5-1 .5 1 .5-.5 .5 .6 .5-1 .5 .8 .5-.6 .5 .8 .5-1.6 .5 1.5 .5-1 .5 1 .5-.9 .5 .9 .5-1.1 .5 1.3 .5-1 .5 .8 .5-1.1 .5 1 .5-1.6 .5 1.8 .5-1.1 .5 .9 .5-.6 .5 .6 .5-1.2 .5 1.2 .5-.6 .5 .8 .5-.6 .5 .6 .5-1.6 .5 1.4 .5-1.4 .5 1.7 .5-.6 .5 .6 .5-1.4 .5 1.3 .5-1.4 .5 1.2 .5-1.4 .5 1.6 .5-1.1 .5 1 .5-.7 .5 .7 .5-1.2 .5 1.2 .5-.9 .5 .9 .5-1.6 .5 1.6 .5-1.1 .5 1.2 .5-1.2 .5 1.2 .5-.7 .5 .7 .5-1.4 .5 1.5 .5-1.4 .5 1.1 .5-.5 .5 .7 .5-.6 .5 .6 .5-1 .5 1 .5-1.2 .5 1.1 .5-.6 .5 .6 .5-1.7 .5 1.7 .5-.6 .5 .7 .5-1.5 .5 1.6 .5-.7 .5 .5 .5-.5 .5 .4 .5-1.1 .5 1.3 .5-1.6 .5 1.4 .5-.7 .5 .7 .5-.9 .5 1.2 .5-1.7 .5 1.6 .5-1.2 .5 1.2 .5-1.1 .5 1.1 .5-1.3 .5 1.3 .5-.8 .5 .8 .5-.5 .5 .4 .5-1 .5 1.2 .5-1 .5 .8 .5-1 .5 1.1 .5-.5 .5 .5 .5-.9 .5 1 .5-.6 .5 .5 .5-.6 .5 .6 .5-.9 .5 .8 .5-.4 .5 .4 .5-.4 .5 .5 .5-.3 .5 .2 .5-.3 .5 .4 .5-.5 .5 .5 .5-.4 .5 .4 .5-.5 .5 .5 .5-.4 .5 .4 .5-.3 .5 .3 .5-.5 .5 .6 .5-.4 .5 .1 .5-.1 .5 .4 .5-.7 .5 .7 .5-.8 .5 .7 .5-.7 .5 .6 .5-.8 .5 .7 .5-.7 .5 .2 .5-1.1 .5-.2 .5-1.1 .5 .2 .1-.1 .4-.3 .5 .8 .5 .1 .5 1.3 .5 .2 .5 .7 .5-.2 .5 .2 .5-.3 .5 .4 .5-.4 .5 .3 .5-.2 .5 .3 .5-.4 .5 .5 .5-.4 .5 .3 .5-.4 .5 .4 .5-.4 .5 .5 .5-.6 .5 .5 .5-.4 .5 .5 .5-.3 .5 .4 .5-.5 .5 .3 .5-.7 .5 .7 .5-.2 .5 .4 .5-.5 .5 .3 .5-.6 .5 .6 .5-.4 .5 .3 .5-.3 .5 .4 .5-.8 .5 1 .5-1 .5 .9 .5-.5 .5 .4 .5-.6 .5 .6 .5-.2 .5 .2 .5-.6 .5 .6 .5-.5 .5 .6 .5-.5 .5 .4 .5-.2 .5 .4 .5-.5 .5 .4 .5-.5 .5 .5 .5-.3 .5 .3 .5-.4 .5 .3 .5-.5 .5 .5 .5-.4 .5 .4 .5-.2 .5 .3 .5-.4 .5 .5 .5-.6 .5 .3 .5-.3 .5 .4 .5-.4 .5 .5 .5-.4 .5 .4 .5-.5 .5 .4 .5-.7 .5 .7 .5-.3 .5 .3 .5-.4 .5 .5 .5-.9 .5 .9 .5-.7 .5 .8 .5-.8 .5 .8 .5-.8 .5 .8 .5-.9 .5 .9 .5-.7 .5 .6 .5-.9 .5 .9 .5-.8 .5 .7 .5-.8 .5 .8 .5-.9 .5 .8 .5-.7 .5 .9 .5-.7 .5 .6 .5-.7 .5 .6 .5-.4 .5 .5 .5-.5 .5 .6 .5-.6 .5 .4 .5-.3 .5 .3 .5-.7 .5-.2 .5-.8 .5-.3 .5-.6 .3 .4 .2-.1 .5 .1 .5 .7 .5 .1 .5 1 .5-.4 .5 .8 .5-.4 .5 .5 .5-.4 .5 .4 .5-.2 .5 .2 .5-.5 .5 .5 .5-.2 .5 .3 .5-.4 .5 .3 .5-.5 .5 .7 .5-.6 .5 .4 .5-.2 .5 .1 .5-.3 .5 .3 .5-.4 .5 .6 .5-.6 .5 .5 .5-.3 .5 .3 .5-.4 .5 .3 .5-.4 .5 .5 .5-.4 .5 .5 .5-.3 .5 .4 .5-.9 .5 .8 .5-.4 .5 .5 .5-.7 .5 .6 .5-.5 .5 .5 .5-.5 .5 .3 .5-.6 .5 .8 .5-.7 .5 .7 .5-.5 .5 .5 .5-.4 .5 .4 .5-.4 .5 .4 .5-.5 .5 .3 .5-.2 .5 .4 .5-.9 .5 1 .5-.7 .5 .6 .5-.8 .5 .7 .5-.3 .5 .2 .5-.1 .5 .2 .5-.8 .5 1 .5-.7 .5 .5 .5-.2 .5 .1 .5-.6 .5 .7 .5-.3 .5 .3 .5-.2 .5 .2 .5-.3 .5 .3 .5-.3 .5 .3 .5-.2 .5 .3 .5-.6 .5 .4 .5-.5 .5 .7 .5-.5 .5 .4 .5-.6 .5 .6 .5-.7 .5 .8 .5-.6 .5 .7 .5-.8 .5 .8 .5-.9 .5 .8 .5-.5 .5 .3 .5-.8 .5 1 .5-.5 .5 .4 .5-.3 .5 .5 .5-1.2 .5 1.1 .5-.5 .5 .5 .5-.3 .5 .3 .5-.6 .5 .6 .5-1 .5 .9 .5-1.2 .5 1.2 .5-.8 .5 .9 .5-.3 .5 .3 .5-.5 .5 .5 .5-.5 .5 .6 .5-1.3 .5 1.1 .5-.8 .5 .8 .5-1.3 .5 1.2 .5-.3 .5 .5 .5-1 .5 .9 .5-.4 .5 .5 .5-1 .5 1 .5-1.6 .5 1.6 .5-1 .5 1 .5-.7 .5 .5 .5-.6 .5 .9 .5-.8 .5 .5 .5-.4 .5 .6 .5-.7 .5 .6 .5-.5 .5 .6 .5-1.2 .5 1.2 .5-.4 .5 .4 .5-1 .5 .9 .5-.5 .5 .4 .5-.1 .5 .2 .5-.4 .5 .5 .5-.5 .5 .4 .5-.2 .5 .3 .5-.3 .5 .2 .5-.4 .5 .4 .5-.4 .5 .5 .5-.3 .5 .2 .5-.2 .5 .1 .5-.2 .5 .3 .5-.4 .5 .5 .5-.8 .5 .8 .5-.4 .5 .5 .5-.6 .5 .5 .5-.5 .5 .6 .5-.8 .5 .7 .5-.4 .5 .4 .5-.4 .5 .4 .5-.6 .5 .4 .5-.3 .5 .3 .5-.8 .5 .9 .5-.4 .5 .5 .5-1.1 .5 1.2 .5-1 .5 .7 .5-.9 .5 1 .5-.3 .5 .4 .5-1.2 .5 1.2 .5-1 .5 .9 .5-.8 .5 .9 .5-.8 .5 .8 .5-.4 .5 .5 .5-.7 .5 .6 .5-.6 .5 .6 .5-.6 .5 .6 .5-.4 .5 .3 .5-.4 .5 .5 .5-.4 .5 .3 .5-.6 .5 .6 .5-.5 .5 .6 .5-.3 .5 .1 .5-.3 .5 .4 .5-.6 .5 .5 .5-.4 .5 .7 .5-.7 .5 .5 .5-.4 .5 .5 .5-.4 .5 .3 .5-.3 .5 .4 .5-.5 .5 .4 .5-.4 .5 .5 .5-.4 .5 .4 .5-.5 .5 .4 .5-.5 .5 .7 .5-.7 .5 .5 .5-.8 .5 .7 .5-.2 .5 .2 .5-.4 .5 .5 .5-.3 .5 .3 .5-.3 .5 .2 .5-.4 .5 .6 .5-1 .5 1 .5-.5 .5 .3 .5-.4 .5 .5 .5-.5 .5 .4 .5-.3 .5 .4 .5-.5 .5 .6 .5-.7 .5 .6 .5-.4 .5 .4 .5-.4 .5 .3 .5-.2 .5 .4 .5-1.3 .5 1.3 .5-1.2 .5 1.3 .5-1.3 .5 1 .5-.6 .5 .7 .5-1 .5 .9 .5-1.2 .5 1.3 .5-.5 .5 .6 .5-.8 .5 .9 .5-1.9 .5 1.6 .5-.6 .5 .8 .5-1.2 .5 1.2 .5-.6 .5 .7 .5-1.7 .5 1.6 .5-1.6 .5 1.4 .5-1.2 .5 1.5 .5-.6 .5 .4 .5-.5 .5 .5 .5-.7 .5 .8 .5-1.1 .5 1.1 .5-.5 .5 .3 .5-1.4 .5 1.6 .5-1.6 .5 1.6 .5-1.2 .5 1.3 .5-2 .5 2 .5-2 .5 1.8 .5-.9 .5 .9 .5-1 .5 1.1 .5-.7 .5 .5 .5-.7 .5 .9 .5-.7 .5 .7 .5-.6 .5 .6 .5-.6 .5 .6 .5-.7 .5 .7 .5-1.3 .5 1.3 .5-.7 .5 .5 .5-.4 .5 .5 .5-1.4 .5 1.5 .5-1.6 .5 1.4 .5-1.2 .5 .9 .5-1.5 .5-2.3 .5-7 .5-11 .5-20.2 .5-22.2 .5-25.3 .5-13.7 .3-3.1 .2 .5 .5 13 .5 17.6 .5 22 .5 17.2 .5 15.6 .5 8.1 .5 5.6 .5 2.3 .5 1.9 .5-.6 .5 1.5 .5-.8 .5 1.6 .5-.4 .5 .6 .5-.5 .5 1 .5-1.1 .5 1.2 .5-1.3 .5 1.3 .5-.9 .5 1.1 .5-1.6 .5 1.7 .5-.6 .5 .6 .5-.9 .5 1.1 .5-1.5 .5 1.5 .5-1.3 .5 1.3 .5-.7 .5 .6 .5-1.4 .5 1.6 .5-1.7 .5 1.6 .5-1.2 .5 1 .5-1.7 .5 2 .5-1.8 .5 1.5 .5-.9 .5 1 .5-.7 .5 .8 .5-1.6 .5 1.4 .5-1 .5 1.2 .5-1.4 .5 1.3 .5-.8 .5 .9 .5-1 .5 .9 .5-.9 .5 1 .5-1.4 .5 1.3 .5-.9 .5 1 .5-1.4 .5 1.4 .5-.8 .5 .9 .5-1 .5 .7 .5-.9 .5 1.2 .5-.7 .5 .6 .5-1.2 .5 1.2 .5-.9 .5 .8 .5-1.5 .5 1.5 .5-.7 .5 .7 .5-1 .5 1.2 .5-.9 .5 .8 .5-1.2 .5 1 .5-1 .5 1 .5-.4 .5 .5 .5-1.2 .5 1.3 .5-.9 .5 .8 .5-.8 .5 .8 .5-.4 .5 .5 .5-.6 .5 .5 .5-.3 .5 .3 .5-.7 .5 .6 .5-.5 .5 .3 .5-.8 .5-.8 .5-3.1 .5-5.1 .5-9.3 .5-11.4 .5-14.3 .5-11.7 .5-7.4 .2-.3 .3 1.7 .5 6.9 .5 11.1 .5 11.4 .5 11.2 .5 7.8 .5 6.2 .5 2.4 .5 2.9 .5 0 .5 1.4 .5-.2 .5 .7 .5-.5 .5 1 .5-.5 .5 .5 .5-.5 .5 .7 .5-.3 .5 .5 .5-.5 .5 .4 .5-.5 .5 .5 .5-.6 .5 .7 .5-.5 .5 .5 .5-1 .5 1.2 .5-.9 .5 .7 .5-.6 .5 .6 .5-.5 .5 .7 .5-1 .5 1.1 .5-1.2 .5 .9 .5-.2 .5 .4 .5-1.2 .5 1 .5-.8 .5 1 .5-1.2 .5 1 .5-.7 .5 .8 .5-.5 .5 .4 .5-.3 .5 .4 .5-.8 .5 .9 .5-.6 .5 .7 .5-1.2 .5 1.2 .5-.8 .5 .7 .5-.7 .5 .6 .5-.4 .5 .5 .5-.3 .5 .3 .5-.6 .5 .5 .5-.2 .5 .3 .5-.4 .5 .2 .5-.2 .5 .3 .5-.4 .5 .6 .5-.4 .5 .2 .5-.3 .5 .4 .5-.6 .5 .4 .5-.4 .5 .5 .5-.6 .5 .8 .5-.7 .5 .6 .5-.9 .5 .9 .5-.7 .5 .6 .5-.5 .5 .5 .5-.3 .5 .3 .5-.4 .5 .3 .5-.3 .5 .5 .5-.3 .5 .3 .5-.5 .5 .5 .5-.4 .5 .4 .5-1 .5 .9 .5-.8 .5 .9 .5-.6 .5 .4 .5-1.2 .5 1.3 .5-1.6 .5 1.6 .5-.9 .5 .9 .5-.5 .5 .6 .5-1.2 .5 1 .5-1 .5 1.1 .5-1.3 .5 1.4 .5-1.3 .5 1.4 .5-1.4 .5 1.1 .5-.9 .5 1.1 .5-1.2 .5 1.2 .5-1.4 .5 1.4 .5-.8 .5 .6 .5-.8 .5 1 .5-.5 .5 .4 .5-.7 .5 .6 .5-.3 .5 .6 .5-1.5 .5 1.4 .5-.9 .5 .9 .5-.5 .5 .6 .5-.6 .5 .4 .5-.3 .5 .5 .5-.8 .5 .6 .5-.8 .5 1 .5-.9 .5 .7 .5-.5 .5 .6 .5-1.1 .5 1 .5-.6 .5 .6 .5-.6 .5 .6 .5-.7 .5 .6 .5-1 .5 1.1 .5-1.3 .5 1.4 .5-1.5 .5 1.6 .5-1.3 .5 1.3 .5-1.1 .5 1 .5-1.5 .5 1.3 .5-.4 .5 .6 .5-1.7 .5 1.5 .5-.8 .5 1 .5-1.9 .5 1.9 .5-1.7 .5 1.5 .5-1.7 .5 1.9 .5-1.2 .5 1.3 .5-1.6 .5 1.4 .5-.9 .5 .9 .5-1.2 .5 1.4 .5-1.3 .5 1.2 .5-1.2 .5 1.2 .5-.3 .5 .4 .5-.9 .5 .8 .5-.6 .5 .5 .5-.4 .5 .6 .5-.5 .5 .2 .5-.4 .5 .6 .5-.8 .5 .9 .5-.8 .5 .6 .5-.4 .5 .5 .5-.6 .5 .6 .5-.7 .5 .6 .5-.8 .5 1 .5-.7 .5 .6 .5-.5 .5 .5 .5-.4 .5 .2 .5-.6 .5 .8 .5-.9 .5 1 .5-.6 .5 .4 .5-.4 .5 .4 .5-.5 .5 .5 .5-.2 .5 .2 .5-.4 .5 .3 .5-.2 .5 .2 .5-.2 .5 .2 .5-.1 .5 .1 .5-.2 .5 .2 .5-.2 .5 .2 .5-.3 .5 .5 .5-.5 .5 .6 .5-1 .5 .8 .5-.4 .5 .3 .5-1.2 .5 1.5 .5-.8 .5 .5 .5-1 .5 1.2 .5-.8 .5 .8 .5-.5 .5 .4 .5-.4 .5 .3 .5-.5 .5 .6 .5-1.2 .5 1.2 .5-.7 .5 .8 .5-.8 .5 .8 .5-.7 .5 .8 .5-.6 .5 .4 .5-.5 .5 .7 .5-.6 .5 .5 .5-.5 .5 .6 .5-.4 .5 .3 .5-.6 .5 .7 .5-.7 .5 .4 .5-.2 .5 .3 .5-.2 .5 .3 .5-.3 .5 .2 .5-.5 .5 .5 .5-.5 .5 .6 .5-.6 .5 .5 .5-.6 .5 .8 .5-1 .5 .9 .5-1.2 .5 1.2 .5-1.1 .5 1 .5-.6 .5 .5 .5-1.4 .5 1.5 .5-.9 .5 .9 .5-.9 .5 1 .5-1.2 .5 1.1 .5-.7 .5 .9 .5-2 .5 1.9 .5-.6 .5 .6 .5-1.8 .5 1.9 .5-1.7 .5 1.5 .5-1.5 .5 1.7 .5-1.1 .5 .8 .5-1.6 .5 1.7 .5-1.3 .5 1.4 .5-.5 .5 .5 .5-.7 .5 .8 .5-1.3 .5 1.1 .5-1.2 .5 1.2 .5-.8 .5 .8 .5-.4 .5 .4 .5-1.1 .5 1.3 .5-1.4 .5 1.3 .5-1.2 .5 1.1 .5-.6 .5 .6 .5-.6 .5 .7 .5-1.1 .5 1.2 .5-.8 .5 .7 .5-.4 .5 .4 .5-.8 .5 .7 .5-.7 .5 .8 .5-1 .5 .8 .5-.5 .5 .6 .5-.7 .5 .8 .5-.6 .5 .7 .5-.6 .5 .4 .5-.2 .5 .2 .5-.3 .5 .4 .5-.5 .5 .5 .5-.7 .5 .8 .5-.8 .5 .6 .5-.4 .5 .5 .5-.4 .5 .4 .5-.6 .5 .5 .5-.5 .5 .5 .5-.2 .5 .2 .5-.2 .5 .3 .5-.6 .5 .5 .5-.4 .5 .4 .5-.4 .5 .5 .5-.5 .5 .3 .5-.1 .5 .2 .5-.3 .5 .5 .5-.6 .5 .5 .5-.4 .5 .4 .5-.4 .5 .2 .5-.3 .5 .6 .5-.4 .5 .2 .5-.2 .5 .2 .5-.4 .5 .5 .5-.4 .5 .5 .5-.6 .5 .5 .5-.6 .5 .7 .5-.9 .5 .8 .5-.9 .5 .8 .5-.7 .5 .7 .5-.4 .5 .4 .5-.7 .5 .7 .5-.7 .5 .8 .5-1.4 .5 1.2 .5-.5 .5 .7 .5-1.2 .5 1.1 .5-1.2 .5 1.3 .5-.6 .5 .4 .5-1.3 .5 1.4 .5-1.5 .5 1.4 .5-.8 .5 .9 .5-.8 .5 .8 .5-1.1 .5 1.2 .5-1.7 .5 1.6 .5-1 .5 .9 .5-.7 .5 .8 .5-.9 .5 .9 .5-1.2 .5 1.3 .5-1.7 .5 1.6 .5-1.7 .5 1.8 .5-1.6 .5 1.5 .5-.9 .5 .9 .5-1.6 .5 1.6 .5-1.6 .5 1.6 .5-1.4 .5 1.6 .5-.8 .5 .7 .5-.6 .5 .5 .5-1.3 .5 1.3 .5-.5 .5 .5 .5-1.2 .5 1.2 .5-.9 .5 1.1 .5-1.3 .5 1.1 .5-.7 .5 .8 .5-1.5 .5 1.5 .5-.6 .5 .5 .5-1 .5 1 .5-1.1 .5 1.1 .5-.8 .5 .8 .5-1 .5 1.2 .5-1.3 .5 1.2 .5-1.1 .5 1.1 .5-.7 .5 .6 .5-1.1 .5 1.2 .5-.5 .5 .5 .5-.5 .5 .5 .5-.3 .5 .2 .5-.2 .5 .1 .5-.3 .5 .4 .5-.5 .5 .5 .5-.6 .5 .8 .5-1 .5 .9 .5-.4 .5 .2 .5-.8 .5 1 .5-1.4 .5 1.2 .5-.3 .5 .3 .5-.4 .5 .7 .5-.6 .5 .4 .5-.7 .5 .7 .5-1.3 .5 1.4 .5-1.2 .5 1.1 .5-1.3 .5 1.3 .5-.7 .5 .8 .5-.8 .5 .8 .5-1.2 .5 1.1 .5-1.3 .5 1.4 .5-1.5 .5 1.5 .5-.6 .5 .7 .5-1.1 .5 .9 .5-1.3 .5 1.4 .5-.7 .5 .7 .5-.8 .5 .9 .5-1.3 .5 1.2 .5-1.5 .5 1.4 .5-1.4 .5 1.5 .5-1.1 .5 1.1 .5-1.9 .5 1.9 .5-1.5 .5 1.4 .5-1.5 .5 1.5 .5-.6 .5 .8 .5-1.6 .5 1.4 .5-1.1 .5 1.2 .5-.8 .5 .7 .5-1.2 .5 1.2 .5-.5 .5 .7 .5-.6 .5 .4 .5-.7 .5 .9 .5-.9 .5 .7 .5-.6 .5 .6 .5-1.4 .5 1.4 .5-1.5 .5 1.7 .5-.7 .5 .7 .5-1.2 .5 1.2 .5-1.2 .5 1.1 .5-1.1 .5 1 .5-.7 .5 .7 .5-1.2 .5 1.1 .5-.9" fill="none" stroke="#000" stroke-width="3.8" stroke-linejoin="round"/>
<circle cx="759.0" cy="3310.5" r="15.6" fill="#000"/>
<text x="1026.6" y="3179.0" font-size="60.5" text-anchor="middle" stroke="#000" stroke-width="0.6">*</text>
<text x="1948.0" y="3313.8" font-size="60.5" text-anchor="middle" stroke="#000" stroke-width="0.6">*</text>
<polygon points="2008.7,3295.8 1988.9,3332.2 2028.5,3332.2" fill="#000"/>
<text x="2329.7" y="3179.0" font-size="51.3" text-anchor="end">7.5 pmole</text>
<path d="M364 3702.6l .5-.5 .5 .4 .5-.3 .5 .3 .5-.3 .5 .4 .5-.5 .5 .4 .5-.4 .5 .4 .5-.5 .5 .4 .5-.7 .5 .9 .5-1.2 .5 1.1 .5-.6 .5 .7 .5-1 .5 .9 .5-.4 .5 .4 .5-.2 .5 .2 .5-.4 .5 .5 .5-.5 .5 .4 .5-.3 .5 .4 .5-.7 .5 .8 .5-.6 .5 .5 .5-.4 .5 .4 .5-.8 .5 .7 .5-.3 .5 .5 .5-.7 .5 .5 .5-.4 .5 .5 .5-.3 .5 .4 .5-.6 .5 .5 .5-.4 .5 .4 .5-.8 .5 .6 .5-.2 .5 .3 .5-.4 .5 .4 .5-.7 .5 .6 .5-.7 .5 .9 .5-1.1 .5 .9 .5-.7 .5 .9 .5-.5 .5 .3 .5-.5 .5 .7 .5-.9 .5 1 .5-1.2 .5 .9 .5-.2 .5 .4 .5-.5 .5 .6 .5-.5 .5 .3 .5-.4 .5 .4 .5-.4 .5 .4 .5-.6 .5 .7 .5-.4 .5 .3 .5-.6 .5 .8 .5-.5 .5 .3 .5-.4 .5 .4 .5-1 .5 1.1 .5-.8 .5 .6 .5-.8 .5 1.1 .5-1.5 .5 1.3 .5-.6 .5 .7 .5-.6 .5 .5 .5-1.5 .5 1.6 .5-1.1 .5 1.1 .5-1.1 .5 1.2 .5-.8 .5 .6 .5-.4 .5 .4 .5-1.3 .5 1.3 .5-.4 .5 .5 .5-.9 .5 .8 .5-.7 .5 .7 .5-.8 .5 1 .5-1.8 .5 1.6 .5-1.5 .5 1.5 .5-1.1 .5 1.3 .5-1 .5 .9 .5-.8 .5 .8 .5-1.4 .5 1.5 .5-1.5 .5 1.3 .5-1.1 .5 1 .5-.9 .5 1.1 .5-1.5 .5 1.5 .5-1.4 .5 1.5 .5-1.3 .5 1.3 .5-.6 .5 .6 .5-1.2 .5 1 .5-1.3 .5 1.3 .5-.4 .5 .4 .5-1.1 .5 1.1 .5-1 .5 .9 .5-.8 .5 1 .5-1 .5 .9 .5-.6 .5 .7 .5-1.4 .5 1.2 .5-.5 .5 .6 .5-1.2 .5 1.2 .5-1.7 .5 1.6 .5-.9 .5 1.1 .5-1 .5 1 .5-.9 .5 .9 .5-.6 .5 .4 .5-.3 .5 .4 .5-.5 .5 .6 .5-.9 .5 .7 .5-.3 .5 .5 .5-.5 .5 .5 .5-.7 .5 .6 .5-.8 .5 1 .5-.6 .5 .4 .5-.2 .5 .3 .5-.4 .5 .2 .5-.1 .5 .3 .5-.4 .5 .4 .5-.3 .5 .3 .5-.3 .5 .3 .5-.4 .5 .4 .5-.5 .5 .3 .5-.2 .5 .4 .5-.4 .5 .4 .5-.5 .5 .3 .5-.1 .5 .3 .5-.4 .5 .4 .5-.3 .5 .1 .5-.1 .5 .4 .5-.5 .5 .4 .5-.7 .5 .5 .5-.2 .5 .3 .5-.2 .5 .2 .5-.3 .5 .3 .5-.2 .5 .2 .5-.2 .5 .3 .5-.3 .5 .3 .5-.5 .5 .5 .5-.3 .5 .2 .5-.4 .5 .3 .5-.4 .5 .6 .5-.8 .5 .7 .5-.5 .5 .1 .5-.9 .5-.5 .5-2 .5-2.4 .5-3.8 .5-3.6 .5-3.8 .5-1.7 .3-.5 .2-.2 .5 2.2 .5 2.6 .5 4.7 .5 3.2 .5 3.2 .5 1.2 .5 1.8 .5 .1 .5 .8 .5-.7 .5 .6 .5-.7 .5 .9 .5-.8 .5 .7 .5-.3 .5 .4 .5-.4 .5 .4 .5-.9 .5 .8 .5-1.1 .5 1.2 .5-.8 .5 .7 .5-.9 .5 1 .5-.3 .5 .3 .5-.7 .5 .8 .5-.6 .5 .4 .5-.3 .5 .4 .5-.3 .5 .4 .5-.6 .5 .5 .5-.6 .5 .7 .5-.5 .5 .2 .5-.2 .5 .4 .5-.7 .5 .7 .5-.7 .5 .8 .5-1.1 .5 1.1 .5-.7 .5 .5 .5-.3 .5 .3 .5-.3 .5 .4 .5-.9 .5 .7 .5-.5 .5 .5 .5-.8 .5 0 .5-1.1 .5-.1 .5-.6 .5 .3 .5-.3 .5 .7 .5-.2 .5 1.1 .5 .3 .5 .5 .5-.6 .5 .9 .5-.7 .5 .6 .5-.3 .5 .5 .5-.6 .5 .5 .5-.4 .5 .4 .5-.3 .5 .4 .5-.4 .5 .3 .5-.4 .5 .6 .5-.7 .5 .6 .5-.4 .5 .3 .5-.5 .5 .6 .5-.3 .5 .2 .5-.3 .5 .4 .5-.4 .5 .4 .5-.4 .5 .3 .5-.3 .5 .4 .5-.4 .5 .5 .5-.8 .5 .8 .5-.6 .5 .4 .5-.6 .5 .8 .5-.9 .5 .8 .5-.7 .5 .5 .5-.4 .5 .5 .5-1 .5 1.1 .5-.8 .5 .8 .5-.5 .5 .2 .5-.8 .5 .2 .5-1 .5-.2 .5-.9 .5-.2 .5-.8 .5 .5 .5-.7 .5 1.2 .5-.4 .5 1.4 .5 .3 .5 .9 .5-.7 .5 1 .5-.3 .5 .7 .5-.6 .5 .7 .5-1 .5 .9 .5-.6 .5 .7 .5-.8 .5 .7 .5-.5 .5 .4 .5-.7 .5 .8 .5-.7 .5 .7 .5-.3 .5 .4 .5-.8 .5 .8 .5-1.3 .5 1.3 .5-1.3 .5 1.3 .5-1.4 .5 1.3 .5-.6 .5 .7 .5-1 .5 1.1 .5-1.3 .5 1 .5-.5 .5 .6 .5-.6 .5 .7 .5-.5 .5 .5 .5-.8 .5 .9 .5-.5 .5 .3 .5-.5 .5 .5 .5-.9 .5 .9 .5-1 .5 1 .5-.5 .5 .6 .5-.8 .5 .6 .5-1 .5-.4 .5-2.9 .5-1.9 .5-5.3 .5-4.4 .5-5.8 .5-2 .3-.5 .2-.8 .5 3.5 .5 4.2 .5 5.8 .5 3.4 .5 4.4 .5 1.4 .5 1.7 .5-.7 .5 1.5 .5-1 .5 .8 .5-1.1 .5 1.3 .5-1.1 .5 1 .5-.8 .5 .8 .5-.8 .5 1 .5-.8 .5 .7 .5-.7 .5 .6 .5-.9 .5 .9 .5-1 .5 1 .5-1 .5 1.2 .5-1.6 .5 1.3 .5-.6 .5 .7 .5-.8 .5 .8 .5-.6 .5 .8 .5-1.3 .5 1.1 .5-.6 .5 .8 .5-.9 .5 .9 .5-.7 .5 .7 .5-1.3 .5 1.1 .5-.4 .5 .4 .5-.8 .5 1 .5-1.2 .5 1 .5-.5 .5 .5 .5-.9 .5 .9 .5-.8 .5 .5 .5-1.6 .5 .4 .5-1.8 .5-.6 .5-1.7 .5 .1 .2 .1 .3-1.1 .5 1.7 .5 .4 .5 1.9 .5 .4 .5 1.5 .5-.3 .5 .7 .5-.8 .5 1 .5-.4 .5 .4 .5-.3 .5 .3 .5-.3 .5 .4 .5-.5 .5 .5 .5-.6 .5 .7 .5-.7 .5 .4 .5-.3 .5 .3 .5-.4 .5 .5 .5-.8 .5 .9 .5-.9 .5 1 .5-.9 .5 .9 .5-.6 .5 .4 .5-.5 .5 .6 .5-.7 .5 .5 .5-.7 .5 .8 .5-.4 .5 .6 .5-.6 .5 .6 .5-.7 .5 .4 .5-.7 .5 .7 .5-.4 .5 .7 .5-.8 .5 .7 .5-.5 .5 .4 .5-.7 .5 .8 .5-.8 .5 .8 .5-.9 .5 .8 .5-.5 .5 .7 .5-.9 .5 .9 .5-.5 .5 .3 .5-.7 .5 .8 .5-1 .5 .8 .5-.4 .5 .6 .5-1.1 .5 .9 .5-.5 .5 .7 .5-.7 .5 .5 .5-.6 .5 .6 .5-.1 .5 .1 .5-.3 .5 .5 .5-.4 .5 .4 .5-.3 .5 .3 .5-.3 .5 .1 .5-.4 .5 .4 .5-.2 .5 .4 .5-.5 .5 .3 .5-.5 .5 .7 .5-1 .5 .9 .5-1 .5 1 .5-1.2 .5 1.3 .5-.9 .5 .7 .5-1.2 .5 1.5 .5-1.5 .5 1.3 .5-.8 .5 .9 .5-1.7 .5 1.5 .5-.5 .5 .8 .5-1 .5 .9 .5-1.6 .5 1.5 .5-1.3 .5 1.3 .5-.7 .5 .8 .5-1.8 .5 1.4 .5-1.5 .5 .1 .5-2.2 .5-1.2 .5-3.2 .5-.8 .5-2.6 .3 1.3 .2 .1 .5-.1 .5 2.8 .5 1.6 .5 2.6 .5-.3 .5 2.7 .5 0 .5 .7 .5-.3 .5 .7 .5-1.6 .5 1.5 .5-1.2 .5 1.1 .5-1.3 .5 1.5 .5-1.5 .5 1.5 .5-.6 .5 .5 .5-1 .5 1.2 .5-1.4 .5 1.1 .5-1 .5 1.2 .5-1.5 .5 1.3 .5-.6 .5 .8 .5-1.2 .5 1.3 .5-1 .5 .9 .5-1 .5 .9 .5-1.5 .5 1.5 .5-1.3 .5 1.3 .5-1.3 .5 1.5 .5-.8 .5 .6 .5-1.2 .5 1.3 .5-.5 .5 .3 .5-.3 .5 .3 .5-.6 .5 .9 .5-1.7 .5 1.6 .5-1.1 .5 .9 .5-1.2 .5 1.5 .5-1 .5 .9 .5-1 .5 .5 .5-1 .5-.1 .5-2 .5-.4 .5-2.8 .5 1.2 .5-1.1 .5 2.7 .5 .7 .5 1.4 .5 .1 .5 1.2 .5-.9 .5 1.4 .5-.6 .5 .5 .5-.8 .5 .8 .5-.4 .5 .6 .5-.6 .5 .7 .5-.6 .5 .4 .5-1.5 .5 1.7 .5-1.5 .5 1.3 .5-1.1 .5 1.1 .5-1.3 .5 1.3 .5-.7 .5 .8 .5-.7 .5 .5 .5-1.4 .5 1.5 .5-1 .5 1 .5-.4 .5 .3 .5-.8 .5 .8 .5-.3 .5 .6 .5-1 .5 .9 .5-1.3 .5 1.1 .5-1.1 .5 1.1 .5-1.2 .5 .4 .5-2.6 .5-1 .5-4.2 .5-3.1 .5-4.9 .5-3.6 .5-2.5 .2 .2 .3 .6 .5 1.5 .5 5.2 .5 3.9 .5 4.5 .5 2.5 .5 2.4 .5-.4 .5 2.1 .5-.3 .5 .7 .5-.7 .5 .7 .5-1.7 .5 1.8 .5-.6 .5 .3 .5-.4 .5 .5 .5-.4 .5 .5 .5-.9 .5 .8 .5-.4 .5 .4 .5-.2 .5 .3 .5-.4 .5 .4 .5-.4 .5 .2 .5-.5 .5 .5 .5-.5 .5 .5 .5-.7 .5 .7 .5-.5 .5 .8 .5-.7 .5 .5 .5-.3 .5 .4 .5-.6 .5 .7 .5-.5 .5 .3 .5-.3 .5 .4 .5-.4 .5 .4 .5-.8 .5 .8 .5-1 .5 .8 .5-.5 .5 .5 .5-.4 .5 .6 .5-1.1 .5 1.1 .5-.9 .5 .7 .5-.9 .5 1 .5-1.1 .5 1 .5-1.1 .5 1.2 .5-.9 .5 1.1 .5-1.2 .5 1.1 .5-.6 .5 .7 .5-.6 .5 .5 .5-.7 .5 .5 .5-1.5 .5 1.5 .5-1.4 .5 1.6 .5-1.4 .5 1.5 .5-1.1 .5 .8 .5-.9 .5 1 .5-.8 .5 .8 .5-.7 .5 .8 .5-.6 .5 .5 .5-.7 .5 .9 .5-1 .5 1 .5-1.1 .5 1 .5-.8 .5 .8 .5-1.5 .5 1.3 .5-.6 .5 .7 .5-.4 .5 .4 .5-.4 .5 .4 .5-1.3 .5 1.4 .5-.5 .5 .6 .5-1.1 .5 .9 .5-1.3 .5 1.4 .5-.7 .5 .6 .5-1.4 .5 1.5 .5-1.4 .5 1.4 .5-1.3 .5 1.2 .5-.9 .5 1.1 .5-.7 .5 .6 .5-.9 .5 .9 .5-.5 .5 .6 .5-.5 .5 .3 .5-.3 .5 .4 .5-.4 .5 .4 .5-.4 .5 .2 .5-.3 .5 .3 .5-.1 .5 .1 .5-.5 .5 .7 .5-.6 .5 .5 .5-.7 .5 .8 .5-1.1 .5 1 .5-.4 .5 .4 .5-1.2 .5 1.2 .5-.3 .5 .4 .5-1.1 .5 1 .5-1.3 .5 1.3 .5-1.3 .5 1.2 .5-.3 .5 .4 .5-1 .5 1.1 .5-.4 .5 .4 .5-1.4 .5 1.3 .5-1.1 .5 1.1 .5-.9 .5 .9 .5-.8 .5 .8 .5-.9 .5 1 .5-.7 .5 .7 .5-.9 .5 .8 .5-.9 .5 .9 .5-.5 .5 .5 .5-1.3 .5 1.3 .5-1.2 .5 1.4 .5-1.6 .5 1.4 .5-.9 .5 .9 .5-.9 .5 1.1 .5-1.3 .5 1.3 .5-1.6 .5 1.5 .5-1.1 .5 1 .5-.8 .5 .7 .5-.6 .5 .7 .5-1.2 .5 1.4 .5-.7 .5 .4 .5-.7 .5 .9 .5-.7 .5 .6 .5-1.3 .5 1.4 .5-1.5 .5 1.3 .5-.9 .5 1.2 .5-1.4 .5 1.2 .5-.5 .5 .6 .5-1.2 .5 1 .5-.6 .5 .7 .5-.6 .5 .8 .5-1.1 .5 .9 .5-1 .5 1.1 .5-.6 .5 .4 .5-.9 .5 1 .5-.9 .5 .9 .5-.5 .5 .6 .5-.6 .5 .4 .5-.2 .5 .4 .5-.9 .5 1 .5-.8 .5 .6 .5-.8 .5 .9 .5-.5 .5 .4 .5-.9 .5 .9 .5-1 .5 1.1 .5-.8 .5 .8 .5-.5 .5 .4 .5-1.2 .5 1.3 .5-1.4 .5 1.4 .5-.5 .5 .3 .5-.6 .5 .6 .5-.7 .5 .9 .5-1 .5 .9 .5-.6 .5 .6 .5-.5 .5 .7 .5-1.1 .5 .9 .5-1 .5 1.2 .5-1 .5 .7 .5-1 .5 1.1 .5-1.5 .5 1.5 .5-.6 .5 .8 .5-.6 .5 .3 .5-.8 .5 .9 .5-.5 .5 .5 .5-.9 .5 .8 .5-.5 .5 .6 .5-.8 .5 .8 .5-.7 .5 .9 .5-1.5 .5 1.2 .5-1.3 .5 1.5 .5-.6 .5 .5 .5-1.2 .5 1.2 .5-.5 .5 .4 .5-.6 .5 .6 .5-.8 .5 .8 .5-.6 .5 .9 .5-1.5 .5 1.4 .5-1.2 .5 1.1 .5-.9 .5 .9 .5-.9 .5 1.1 .5-1.2 .5 1 .5-.8 .5 .9 .5-.5 .5 .4 .5-.8 .5 .9 .5-.6 .5 .5 .5-.5 .5 .6 .5-.8 .5 .8 .5-.6 .5 .4 .5-.3 .5 .6 .5-.4 .5 .3 .5-.6 .5 .5 .5-.6 .5 .6 .5-.6 .5 .6 .5-.4 .5 .5 .5-.6 .5 .4 .5-.2 .5 .5 .5-1.4 .5 1.2 .5-.9 .5 .8 .5-.9 .5 1.1 .5-.6 .5 .5 .5-.6 .5 .6 .5-.5 .5 .4 .5-.8 .5 .9 .5-.7 .5 .8 .5-1.1 .5 .9 .5-1.1 .5 1.3 .5-1.1 .5 1 .5-.4 .5 .5 .5-.6 .5 .6 .5-1.5 .5 1.5 .5-1.4 .5 1.5 .5-1.2 .5 1.1 .5-1.4 .5 1.4 .5-1.5 .5 1.5 .5-.5 .5 .5 .5-.6 .5 .6 .5-.8 .5 .8 .5-1.1 .5 1.1 .5-1 .5 .9 .5-.8 .5 .9 .5-1.2 .5 1.1 .5-1 .5 .9 .5-.8 .5 .8 .5-.5 .5 .7 .5-1 .5 1 .5-1.3 .5 1.1 .5-.7 .5 .7 .5-.6 .5 .8 .5-.7 .5 .8 .5-1.2 .5 1.1 .5-.4 .5 .4 .5-1.1 .5 1 .5-.7 .5 .6 .5-1 .5 1.3 .5-1.1 .5 1 .5-1.4 .5 1.2 .5-.5 .5 .6 .5-.8 .5 .8 .5-.4 .5 .5 .5-.8 .5 .8 .5-1.8 .5 1.8 .5-1.5 .5 1.5 .5-.8 .5 .6 .5-1.3 .5 1.5 .5-.7 .5 .6 .5-.4 .5 .3 .5-1 .5 1.1 .5-.4 .5 .5 .5-.9 .5 .9 .5-1.2 .5 1.1 .5-.4 .5 .3 .5-.4 .5 .7 .5-1.1 .5 .9 .5-.3 .5 .5 .5-1 .5 .9 .5-.5 .5 .4 .5-.4 .5 .4 .5-.8 .5 1 .5-.8 .5 .5 .5-.9 .5 .9 .5-.9 .5 1.2 .5-.5 .5 .3 .5-.7 .5 .9 .5-.7 .5 .6 .5-.7 .5 .7 .5-.7 .5 .6 .5-1.4 .5 1.6 .5-1 .5 .8 .5-.6 .5 .7 .5-1.1 .5 1 .5-.7 .5 .6 .5-1.1 .5 1.3 .5-.8 .5 .7 .5-.8 .5 1 .5-.9 .5 .8 .5-.6 .5 .5 .5-.6 .5 .3 .5-1.5 .5-.9 .5-5.2 .5-10.1 .5-21 .5-32.4 .5-47.4 .5-51.2 .5-47.6 .5-25.4 .2-2.5 .3 5.8 .5 28.2 .5 40.2 .5 46 .5 39.9 .5 32.6 .5 20.9 .5 13.4 .5 6.1 .5 4.8 .5 1.1 .5 2.1 .5 0 .5 1.5 .5-.2 .5 1.1 .5-.2 .5 .8 .5-.3 .5 .5 .5 0 .5 .4 .5-.4 .5 .6 .5-.4 .5 .7 .5-.5 .5 .7 .5-.5 .5 .4 .5-.3 .5 .3 .5-.2 .5 .2 .5-.1 .5 .3 .5-.4 .5 .5 .5-.7 .5 .8 .5-.8 .5 .5 .5-.3 .5 .5 .5-.5 .5 .4 .5-.5 .5 .6 .5-.4 .5 .3 .5-.2 .5 .3 .5-.5 .5 .3 .5-.4 .5 .5 .5-1.3 .5 .3 .5-1.4 .5-1.2 .5-2.5 .5-1.1 .5-1.3 .3 .2 .2 0 .5 .5 .5 2 .5 1.3 .5 2 .5 .8 .5 1 .5-.1 .5 .7 .5-.5 .5 .8 .5-.6 .5 .4 .5-.7 .5 .6 .5-1 .5 1.1 .5-.6 .5 .5 .5-.8 .5 .9 .5-.9 .5 .8 .5-.6 .5 .8 .5-1 .5 1 .5-1.7 .5 1.6 .5-.6 .5 .5 .5-.7 .5 1 .5-1.1 .5 .8 .5-1.5 .5 1.8 .5-1.7 .5 1.4 .5-1.2 .5 1.4 .5-1.5 .5 1.3 .5-1 .5 1.2 .5-1.8 .5 1.7 .5-.6 .5 .6 .5-.8 .5 .8 .5-1 .5 1.2 .5-1.5 .5 1.2 .5-.6 .5 .7 .5-1 .5 .9 .5-.8 .5 .9 .5-.8 .5 .8 .5-.4 .5 .5 .5-.8 .5 .8 .5-1.4 .5 1.5 .5-1.2 .5 1.1 .5-1.1 .5 1.1 .5-1.3 .5 1.4 .5-1.4 .5 1.3 .5-1.4 .5 1.4 .5-.4 .5 .3 .5-1.2 .5 1.3 .5-1.3 .5 1.4 .5-.9 .5 .7 .5-.6 .5 .8 .5-1 .5 1 .5-.6 .5 .5 .5-.7 .5 .6 .5-.8 .5 .9 .5-1 .5 1 .5-1.1 .5 .9 .5-.8 .5 1 .5-.9 .5 .8 .5-1.1 .5 1.3 .5-1.3 .5 1.3 .5-1.3 .5 1.2 .5-1.3 .5 1.3 .5-.4 .5 .3 .5-.3 .5 .2 .5-.4 .5 .5 .5-.4 .5 .5 .5-.5 .5 .3 .5-.4 .5 .7 .5-1.1 .5 .9 .5-.4 .5 .4 .5-.5 .5 .7 .5-.6 .5 .5 .5-.8 .5 .4 .5-1 .5 .2 .5-1.6 .5-1 .5-2.2 .5-1.7 .5-3 .5 .4 .2-.1 .3-1.1 .5 2.2 .5 .8 .5 3.4 .5 1.3 .5 1.9 .5 .4 .5 1 .5-.2 .5 .7 .5-.6 .5 .5 .5-1.1 .5 1.1 .5-.5 .5 .5 .5-.8 .5 .8 .5-.5 .5 .4 .5-1.4 .5 1.7 .5-1.5 .5 1.2 .5-1.4 .5 1.5 .5-1.3 .5 1.3 .5-.6 .5 .6 .5-.3 .5 .5 .5-.6 .5 .4 .5-.6 .5 .8 .5-.8 .5 .6 .5-.9 .5 .9 .5-1.1 .5 1.1 .5-.6 .5 .5 .5-.8 .5 1.1 .5-1 .5 .7 .5-.9 .5 1 .5-1 .5 1 .5-1 .5 1.2 .5-1.1 .5 .8 .5-.4 .5 .6 .5-.5 .5 .4 .5-.8 .5 .7 .5-.4 .5 .5 .5-.6 .5 .7 .5-.6 .5 .6 .5-1.2 .5 1.1 .5-.9 .5 1 .5-1.3 .5 1.2 .5-1 .5 .9 .5-.5 .5 .6 .5-.5 .5 .5 .5-.5 .5 .5 .5-.7 .5 .7 .5-.4 .5 .4 .5-1.2 .5 1.1 .5-1 .5 1.1 .5-.7 .5 .8 .5-1.6 .5 1.7 .5-1.7 .5 1.7 .5-1.5 .5 1.4 .5-1.3 .5 1.4 .5-.8 .5 .5 .5-.3 .5 .6 .5-.7 .5 .5 .5-.5 .5 .4 .5-1 .5 1.1 .5-1.3 .5 1.2 .5-.6 .5 .8 .5-1.2 .5 1.1 .5-.8 .5 .9 .5-.5 .5 .3 .5-.3 .5 .6 .5-.6 .5 .5 .5-1 .5 .9 .5-.8 .5 .8 .5-.9 .5 1.1 .5-1 .5 .7 .5-.4 .5 .6 .5-.9 .5 .8 .5-.7 .5 .9 .5-.5 .5 .5 .5-.7 .5 .5 .5-1 .5 1 .5-.4 .5 .5 .5-.8 .5 .8 .5-.9 .5 1 .5-.7 .5 .7 .5-.7 .5 .4 .5-.8 .5 1 .5-.6 .5 .6 .5-.8 .5 .7 .5-.6 .5 .8 .5-.6 .5 .4 .5-.5 .5 .6 .5-.5 .5 .4 .5-.4 .5 .3 .5-.4 .5 0 .5-1.3 .5-1.6 .5-4.5 .5-6.1 .5-9.7 .5-9.9 .5-9.4 .5-5 .2-.4 .3 1 .5 5.8 .5 7.5 .5 9.5 .5 7.5 .5 6.8 .5 3.8 .5 2.9 .5 1 .5 1.2 .5 0 .5 .7 .5-.2 .5 .2 .5-.1 .5 .6 .5-.4 .5 .3 .5-.2 .5 .4 .5-.4 .5 .5 .5-.6 .5 .6 .5-.4 .5 .3 .5-.4 .5 .5 .5-.3 .5 .3 .5-.6 .5 .6 .5-.3 .5 .2 .5-.2 .5 .3 .5-.2 .5 .2 .5-.2 .5 .3 .5-.4 .5 .3 .5-.3 .5 .3 .5-.5 .5 .5 .5-.3 .5 .4 .5-.3 .5 .2 .5-.5 .5 .5 .5-.3 .5 .3 .5-.3 .5 .4 .5-.3 .5 .3 .5-.3 .5 .4 .5-.8 .5 .8 .5-.6 .5 .5 .5-.7 .5 .7 .5-.5 .5 .3 .5-.1 .5 .3 .5-.8 .5 .6 .5-.8 .5 .9 .5-.5 .5 .5 .5-.5 .5 .5 .5-.5 .5 .7 .5-1 .5 .9 .5-.6 .5 .6 .5-.6 .5 .5 .5-.8 .5 .7 .5-.7 .5 .9 .5-.7 .5 .6 .5-1.1 .5 1.2 .5-.7 .5 .8 .5-1.1 .5 1.1 .5-.9 .5 .7 .5-1.2 .5 1.4 .5-1 .5 .9 .5-.5 .5 .4 .5-.3 .5 .5 .5-.9 .5 .9 .5-.6 .5 .6 .5-.7 .5 .5 .5-.8 .5 .7 .5-.7 .5 1 .5-.5 .5 .5 .5-.5 .5 .2 .5-.2 .5 .5 .5-.5 .5 .4 .5-.6 .5 .6 .5-.4 .5 .4 .5-.3 .5 .2 .5-.3 .5 .4 .5-.3 .5 .3 .5-.3 .5 .1 .5-.1 .5 .1 .5-.2 .5 .4 .5-.6 .5 .4 .5-.2 .5 .5 .5-.4 .5 .4 .5-.8 .5 .7 .5-.4 .5 .2 .5-.4 .5 .4 .5-.4 .5 .6 .5-.5 .5 .5 .5-.4 .5 .4 .5-.3 .5 .1 .5-.2 .5 .2 .5-.5 .5 .6 .5-.4 .5 .3 .5-.2 .5 .5 .5-.5 .5 .5 .5-1 .5 .8 .5-.5 .5 .5 .5-.7 .5 .9 .5-1.1 .5 1.1 .5-1.5 .5 1.3 .5-1 .5 1.1 .5-.6 .5 .4 .5-1 .5 1 .5-.8 .5 1.1 .5-1 .5 .9 .5-1.2 .5 1.3 .5-.8 .5 .6 .5-.7 .5 .7 .5-.9 .5 .9 .5-.7 .5 .6 .5-.8 .5 .9 .5-.7 .5 .9 .5-1.1 .5 1 .5-.7 .5 .6 .5-.5 .5 .6 .5-.5 .5 .3 .5-.8 .5 1 .5-.6 .5 .7 .5-.7 .5 .7 .5-.5 .5 .2 .5-.6 .5 .7 .5-.4 .5 .3 .5-.2 .5 .5 .5-.4 .5 .4 .5-.4 .5 .4 .5-.5 .5 .4 .5-.3 .5 .3 .5-.3 .5 .1 .5-.2 .5 .2 .5-.2 .5 .2 .5-.2 .5 .3 .5-.2 .5 .2 .5-.2 .5 .3 .5-.4 .5 .3 .5-.2 .5 .2 .5-.3 .5 .4 .5-.4 .5 .4 .5-.6 .5 .6 .5-.6 .5 .6 .5-.7 .5 0 .5-.7 .5-.1 .5-1.3 .5-.1 .5-1.1 .3 .5 .2-.1 .5-.2 .5 1.2 .5 .5 .5 1.1 .5 0 .5 .6 .5-.1 .5 .4 .5-.3 .5 .3 .5-.2 .5 .2 .5-.4 .5 .5 .5-.3 .5 .3 .5-.4 .5 .3 .5-.4 .5 .4 .5-.4 .5 .4 .5-.4 .5 .6 .5-.7 .5 .4 .5-.3 .5 .4 .5-.3 .5 .4 .5-.4 .5 .3 .5-.5 .5 .4 .5-.2 .5 .3 .5-.2 .5 .3 .5-.3 .5 .3 .5-.7 .5 .6 .5-.3 .5 .3 .5-.4 .5 .6 .5-.8 .5 .6 .5-.6 .5 .6 .5-.6 .5 .6 .5-.4 .5 .4 .5-.5 .5 .6 .5-.6 .5 .5 .5-.3 .5 .3 .5-.3 .5 .2 .5-.2 .5 .3 .5-.2 .5 .4 .5-.5 .5 .3 .5-.3 .5 .5 .5-.7 .5 .7 .5-.7 .5 .5 .5-.5 .5 .5 .5-.5 .5 .4 .5-.4 .5 .6 .5-.4 .5 .5 .5-.6 .5 .3 .5-.3 .5 .4 .5-.6 .5 .6 .5-.2 .5 .1 .5-.6 .5 .8 .5-1.1 .5 .9 .5-.8 .5 1 .5-.8 .5 .8 .5-1.3 .5 1.3 .5-1 .5 1 .5-1.4 .5 1.3 .5-1 .5 1.1 .5-1.1 .5 1.1 .5-.8 .5 .6 .5-.6 .5 .9 .5-.5 .5 .4 .5-1 .5 .8 .5-.4 .5 .5 .5-.9 .5 1.1 .5-.9 .5 .8 .5-.5 .5 .6 .5-.9 .5 .7 .5-.4 .5 .4 .5-.6 .5 .7 .5-.4 .5 .5 .5-1 .5 .9 .5-.9 .5 .8 .5-.3 .5 .2 .5-.2 .5 .3 .5-.7 .5 .8 .5-.8 .5 .8 .5-.4 .5 .5 .5-.5 .5 .4 .5-.7 .5 .5 .5-.4 .5 .6 .5-.7 .5 .5 .5-.9 .5 1.2 .5-1.1 .5 1 .5-.7 .5 .7 .5-.6 .5 .5 .5-.5 .5 .6 .5-.5 .5 .5 .5-.4 .5 .5 .5-.8 .5 .7 .5-.8 .5 .6 .5-.5 .5 .6 .5-.4 .5 .4 .5-.6 .5 .7 .5-.8 .5 .7 .5-.5 .5 .5 .5-.8 .5 .9 .5-.7 .5 .7 .5-1 .5 1.1 .5-.8 .5 .6 .5-.4 .5 .3 .5-.3 .5 .3 .5-.6 .5 .7 .5-.7 .5 .9 .5-1 .5 .9 .5-.8 .5 .7 .5-.4 .5 .3 .5-.2 .5 .3 .5-1.1 .5 1.2 .5-1.4 .5 1.4 .5-.6 .5 .7 .5-1.5 .5 1.3 .5-.4 .5 .3 .5-1.1 .5 1.3 .5-1.4 .5 1.5 .5-1.5 .5 1.5 .5-.8 .5 .7 .5-1.3 .5 1.1 .5-.3 .5 .6 .5-.6 .5 .5 .5-.8 .5 .9 .5-1.2 .5 1.1 .5-.7 .5 .6 .5-.5 .5 .5 .5-.5 .5 .6 .5-.9 .5 .9 .5-1 .5 1 .5-1 .5 .9 .5-1.2 .5 1.1 .5-.3 .5 .4 .5-.7 .5 .8 .5-.6 .5 .5 .5-1.3 .5 1.2 .5-1.1 .5 1.4 .5-1.1 .5 .8 .5-.6 .5 .6 .5-1.3 .5 1.5 .5-1.5 .5 1.5 .5-1.6 .5 1.4 .5-1.6 .5 1.8 .5-1.3 .5 1.3 .5-1.2 .5 1.2 .5-1.2 .5 1 .5-1.1 .5 1.4 .5-1.2 .5 1.2 .5-1.7 .5 1.5 .5-.9 .5 .9 .5-1 .5 1.1 .5-.8 .5 .8 .5-.6 .5 .5 .5-.8 .5 .7 .5-.9 .5 .9 .5-.4 .5 .5 .5-1.1 .5 1.3 .5-1 .5 .7 .5-.3 .5 .6 .5-1.3 .5 1 .5-.9 .5 1.2 .5-.8 .5 .7 .5-1.2 .5 1.1 .5-.4 .5 .6 .5-1.6 .5 1.6 .5-1.1 .5 .9 .5-.4 .5 .5 .5-.7 .5 .7 .5-1.4 .5 1.4 .5-.8 .5 .6 .5-1.2 .5 1.4 .5-1.2 .5 1.3 .5-1.1 .5 .9 .5-1.2 .5 1.4 .5-1.4 .5 1.3 .5-1.3 .5 1.3 .5-.8 .5 .7 .5-1.1 .5 1.3 .5-.9 .5 .8 .5-1.3 .5 1.4 .5-.6 .5 .6 .5-1.1 .5 .8 .5-1 .5 1.1 .5-.4 .5 .4 .5-.5 .5 .4 .5-1.5 .5 1.7 .5-1.6 .5 1.6 .5-1.4 .5 1.2 .5-1.6 .5 1.8 .5-1.7 .5 1.7 .5-1.2 .5 1.1 .5-1.3 .5 1.2 .5-1.4 .5 1.6 .5-1.4 .5 1.4 .5-1.1 .5 1.1 .5-1.2 .5 1.2 .5-.8 .5 .7 .5-.7 .5 .8 .5-1.3 .5 1.2 .5-1.5 .5 1.6 .5-.5 .5 .3 .5-.6 .5 .7 .5-1.1 .5 .5 .5-1.2 .5 .1 .5-1.2 .5-.1 .5-1.1 .3 .7 .2-.1 .5-.1 .5 .9 .5 .4 .5 .9 .5 0 .5 1 .5-.3 .5 .7 .5-.4 .5 .5 .5-.4 .5 .4 .5-.6 .5 .5 .5-.4 .5 .5 .5-.4 .5 .4 .5-.4 .5 .3 .5-.2 .5 .3 .5-.4 .5 .5 .5-.4 .5 .3 .5-.4 .5 .2 .5-.2 .5 .4 .5-.4 .5 .2 .5-.2 .5 .3 .5-.2 .5 .2 .5-.3 .5 .3 .5-.3 .5 .5 .5-.4 .5 .4 .5-.5 .5 .4 .5-.4 .5 .4 .5-.5 .5 .5 .5-.4 .5 .4 .5-.4 .5 .4 .5-.7 .5 .6 .5-.4 .5 .5 .5-.4 .5 .3 .5-.2 .5 .3 .5-.4 .5 .4 .5-.4 .5 .5 .5-.4 .5 .3 .5-.7 .5 .7 .5-.5 .5 .5 .5-.4 .5 .2 .5-.3 .5 .3 .5-.2 .5 .3 .5-.3 .5 .4 .5-.4 .5 .3 .5-.3 .5 .5 .5-.6 .5 .3 .5-.2 .5 .3 .5-.6 .5 .8 .5-.7 .5 .5 .5-.9 .5 1 .5-1 .5 1 .5-.4 .5 .3 .5-.3 .5 .4 .5-1.1 .5 1.1 .5-.8 .5 .9 .5-1 .5 .9 .5-.9 .5 .9 .5-.5 .5 .4 .5-.6 .5 .8 .5-1.1 .5 .9 .5-.7 .5 .8 .5-.9 .5 .8 .5-.8 .5 .8 .5-.4 .5 .5 .5-.6 .5 .5 .5-.8 .5 .8 .5-.6 .5 .3 .5-1 .5 .2 .5-1.9 .5 .6 .5-1.8 .5 .8 .3-.2 .2-.9 .5 1.5 .5-.5 .5 1.6 .5-.2 .5 1.3 .5 0 .5 .7 .5-.9 .5 .9 .5-1 .5 1.2 .5-.4 .5 .3 .5-.3 .5 .3 .5-.5 .5 .4 .5-.7 .5 1 .5-.7 .5 .5 .5-.9 .5 .8 .5-.9 .5 1 .5-.4 .5 .4 .5-.4 .5 .3 .5-.5 .5 .6 .5-.4 .5 .4 .5-.8 .5 .7 .5-.2 .5 .4 .5-.6 .5 .4 .5-.5 .5 .7 .5-.3 .5 .3 .5-.6 .5 .6 .5-.6 .5 .4 .5-.3 .5 .6 .5-.9 .5 .9 .5-.5 .5 .2 .5-.8 .5 .9 .5-1 .5 .9 .5-.3 .5 .4 .5-.3 .5 .3 .5-.6 .5 .7 .5-.8 .5 .5 .5-.9 .5-.4 .5-2.3 .5-2.5 .5-4.4 .5-3 .5-2.7 .3 .1 .2 0 .5 1.2 .5 4.2 .5 2.6 .5 4.4 .5 1.3 .5 1.8 .5-.1 .5 .9 .5-.4 .5 .3 .5-.8 .5 1 .5-1.3 .5 1.1 .5-1.1 .5 1.1 .5-1.3 .5 1.3 .5-.8 .5 1 .5-.8 .5 .7 .5-1.2 .5 1.2 .5-.4 .5 .4 .5-1.7 .5 1.9 .5-1.4 .5 1.2 .5-.6 .5 .7 .5-.8 .5 .7 .5-1.6 .5 1.5 .5-1.2 .5 1.4 .5-1.1 .5 .9 .5-1.2 .5 1.4 .5-1.5 .5 1.4 .5-.9 .5 1.1 .5-.6 .5 .5 .5-.6 .5 .5 .5-2 .5 1 .5-2.3 .5-2.1 .5-4.9 .5-3.9 .5-4.8 .5-1.1 .1-.1 .4 0 .5 4.3 .5 3.7 .5 5.2 .5 2.3 .5 3 .5-.1 .5 1.7 .5-.5 .5 .7 .5-1.4 .5 1.4 .5-1.3 .5 1.2 .5-1 .5 1.2 .5-1.1 .5 1 .5-1.5 .5 1.3 .5-1 .5 1 .5-1 .5 1 .5-.8 .5 .9 .5-.6 .5 .6 .5-.5 .5 .5 .5-1.1 .5 1.2 .5-1 .5 .9 .5-1.3 .5 1.3 .5-1 .5 1.1 .5-.8 .5 .8 .5-1.3 .5 1.3 .5-1.4 .5 1.4 .5-1.1 .5 1.1 .5-.7 .5 .7 .5-.6 .5 .6 .5-1.1 .5 1.2 .5-1.9 .5 1.9 .5-1.1 .5 1 .5-.8 .5 .6 .5-.7 .5 .9 .5-.9 .5 1 .5-.7 .5 .6 .5-.8 .5 .7 .5-.4 .5 .3 .5-.2 .5 .4 .5-.6 .5 .7 .5-.6 .5 .6 .5-.5 .5 .3 .5-.2 .5 .2 .5-.3 .5 .4 .5-.5 .5 .4 .5-.3 .5 .3 .5-.6 .5 .5 .5-.3 .5 .3 .5-.6 .5 .6 .5-.4 .5 .6 .5-.6 .5 .4 .5-.2 .5 .5 .5-.5 .5 .4 .5-.5 .5 .5 .5-.7 .5 .7 .5-.7 .5 .6 .5-.3 .5 .2 .5-.3 .5 .6 .5-.6 .5 .5 .5-.6 .5 .6 .5-.4 .5 .3 .5-.4 .5 .3 .5-.4 .5 .4 .5-.5 .5 .6 .5-.8 .5 .2 .5-1.3 .5-.3 .5-1.5 .5-1.1 .5-1.9 .5-.7 .5-1.2 .4 .2 .1 0 .5 .1 .5 1.3 .5 .9 .5 1.9 .5 .7 .5 1.5 .5 .6 .5 .8 .5-.5 .5 1.1 .5-1 .5 1 .5-.6 .5 .7 .5-.4 .5 .4 .5-.7 .5 .6 .5-.6 .5 .6 .5-.8 .5 .8 .5-.9 .5 1 .5-.4 .5 .4 .5-.4 .5 .4 .5-.8 .5 .8 .5-.6 .5 .4 .5-.2 .5 .4 .5-.6 .5 .7 .5-.6 .5 .4 .5-.7 .5 .7 .5-.3 .5 .3 .5-.4 .5 .4 .5-.4 .5 .4 .5-1.1 .5 1.1 .5-.6 .5 .5 .5-.5 .5 .7 .5-.5 .5 .4 .5-.5 .5 .4 .5-.5 .5 .5 .5-.2 .5 .3 .5-.2 .5 .4 .5-.5 .5 .5 .5-.7 .5 .7 .5-.8 .5 .7 .5-.7 .5 .8 .5-.7 .5 .7 .5-.9 .5 .9 .5-1 .5 1 .5-.9 .5 .7 .5-.6 .5 .7 .5-.8 .5 .8 .5-.7 .5 .6 .5-.4 .5 .5 .5-.6 .5 .6 .5-.9 .5 .8 .5-.3 .5 .3 .5-.4 .5 .6 .5-.5 .5 .3 .5-.5 .5 .4 .5-.3 .5 .3 .5-.4 .5 .5 .5-.4 .5 .4 .5-.4 .5 .5 .5-.3 .5 .1 .5-.4 .5 .6 .5-.5 .5 .4 .5-.3 .5 .5 .5-.7 .5 .5 .5-.3 .5 .5 .5-.6 .5 .6 .5-.6 .5 .5 .5-.4 .5 .4 .5-.5 .5 .3 .5-.2 .5 .3 .5-.4 .5 .4 .5-.3 .5 .3 .5-.6 .5 .5 .5-.3 .5 .6 .5-1 .5 .8 .5-.6 .5 .6 .5-.7 .5 .9 .5-.8 .5 .7 .5-.6 .5 .4 .5-.3 .5 .5 .5-.9 .5 .9 .5-.7 .5 .5 .5-.4 .5 .5 .5-.5 .5 .6 .5-.5 .5 .3 .5-.7 .5 .8 .5-.7 .5 .7 .5-.3 .5 .4 .5-.4 .5 .2 .5-.3 .5 .4 .5-.9 .5 1 .5-.7 .5 .6 .5-.6 .5 .8 .5-.5 .5 .3 .5-.8 .5 1 .5-.6 .5 .4 .5-.5 .5 .4 .5-.3 .5 .5 .5-.6 .5 .5 .5-.3 .5 .4 .5-1 .5 1.1 .5-.5 .5 .3 .5-.4 .5 .5 .5-.7 .5 .7 .5-1.1 .5 1.1 .5-.7 .5 .7 .5-.9 .5 .7 .5-.8 .5 .9 .5-.9 .5 .9 .5-.8 .5 .9 .5-1.7 .5 1.8 .5-.6 .5 .5 .5-1.7 .5 1.5 .5-.8 .5 1 .5-.9 .5 .9 .5-.7 .5 .7 .5-1.2 .5 1.2 .5-1.1 .5 1.2 .5-.5 .5 .5 .5-.9 .5 .8 .5-.6 .5 .5 .5-1 .5 1.1 .5-1.1 .5 1.1 .5-.8 .5 .7 .5-1.1 .5 1.1 .5-.8 .5 .9 .5-.5 .5 .5 .5-1 .5 .8 .5-1.1 .5 1.4 .5-1.4 .5 1.2 .5-1.5 .5 1.5 .5-1.4 .5 1.5 .5-1.1 .5 1.1 .5-.8 .5 .5 .5-1.4 .5 .7 .5-1.4 .5 .4 .5-1.3 .5 .8 .5-.6 .5 .9 .5-.4 .5 1.6 .5-.6 .5 1.2 .5-.6 .5 .8 .5-.6 .5 .7 .5-.2 .5 .3 .5-.9 .5 1 .5-.7 .5 .4 .5-.4 .5 .4 .5-.4 .5 .6 .5-1.1 .5 1 .5-1 .5 1.2 .5-.6 .5 .6 .5-.8 .5 .6 .5-.8 .5 .8 .5-1 .5 1 .5-1.6 .5 1.6 .5-1.2 .5 1.3 .5-1.6 .5 1.5 .5-.7 .5 .6 .5-1 .5 1 .5-1 .5 1.1 .5-.7 .5 .7 .5-1.3 .5 1.4 .5-1 .5 1 .5-1.3 .5 1.1 .5-.9 .5 1 .5-.8 .5 .9 .5-1.4 .5 1.2 .5-1.1 .5 1.3 .5-.7 .5 .8 .5-.8 .5 .7 .5-1.4 .5 1.5 .5-1.1 .5 .8 .5-.5 .5 .7 .5-.6 .5 .4 .5-1.3 .5 1.5 .5-1.6 .5 1.6 .5-1.1 .5 1 .5-1 .5 1 .5-.4 .5 .6 .5-.8 .5 .6 .5-.8 .5 .8 .5-.8 .5 .9 .5-.7 .5 .8 .5-.6 .5 .6 .5-.5 .5 .3 .5-1.1 .5 1.3 .5-.6 .5 .3 .5-.3 .5 .4 .5-.3 .5 .2 .5-.8 .5 1.1 .5-.7 .5 .5 .5-1 .5 .9 .5-.7 .5 .7 .5-.6 .5 .9 .5-1.3 .5 1.1 .5-.4 .5 .4 .5-.9 .5 1 .5-.5 .5 .5 .5-.4 .5 .3 .5-.6 .5 .5 .5-.6 .5 .8 .5-.5 .5 .3 .5-1 .5 .7 .5-1.8 .5-1.9 .5-7.4 .5-12.2 .5-22.8 .5-30.9 .5-35.2 .5-27.5 .5-11.5 .5 11.3 .5 23 .5 29.6 .5 27.9 .5 23.1 .5 15 .5 9.6 .5 4 .5 3.1 .5 .8 .5 1.4 .5-.1 .5 .9 .5-.5 .5 .9 .5-.8 .5 1.4 .5-.7 .5 .9 .5-.3 .5 .7 .5-.5 .5 .5 .5-.7 .5 .8 .5-.3 .5 .5 .5-.5 .5 .6 .5-.3 .5 .1 .5-.3 .5 .4 .5-.3 .5 .4 .5-.3 .5 .3 .5-.3 .5 .3 .5-.5 .5 .6 .5-.6 .5 .6 .5-.3 .5 .4 .5-.5 .5 .4 .5-.4 .5 .2 .5-.3 .5 .5 .5-.4 .5 .5 .5-1 .5 .9 .5-1.1 .5 1 .5-.8 .5 .8 .5-.6 .5 .2 .5-1.3 .5-.9 .5-2.1 .5-1.2 .5-2.4 .5 .3 .5-.3 .5 2.4 .5 1 .5 2.4 .5 .5 .5 1.4 .5-.1 .5 .7 .5-.7 .5 .9 .5-.6 .5 .4 .5-.4 .5 .4 .5-.3 .5 .4 .5-.6 .5 .4 .5-.3 .5 .6 .5-.8 .5 .5 .5-.4 .5 .5 .5-.3 .5 .5 .5-.5 .5 .5 .5-.5 .5 .4 .5-.6 .5 .4 .5-.4 .5 .4 .5-.2 .5 .4 .5-.8 .5 .9 .5-.7 .5 .7 .5-.6 .5 .5 .5-.3 .5 .2 .5-.4 .5 .3 .5-.4 .5 .7 .5-.6 .5 .5 .5-.7 .5 .6 .5-.3 .5 0 .5-.4 .5-.1 .5-1.7 .5-.7 .5-2.7 .5-2 .5-3.7 .5-3 .5-3 .5-1.6 .4-.6 .1-.5 .5 1.7 .5 1.6 .5 3.8 .5 2.7 .5 3.5 .5 2.3 .5 2.1 .5 .7 .5 1.2 .5 .2 .5 .5 .5-.4 .5 .5 .5-.3 .5 .4 .5-.4 .5 .4 .5-.6 .5 .4 .5-.4 .5 .6 .5-.5 .5 .3 .5-.5 .5 .5 .5-.5 .5 .7 .5-.6 .5 .4 .5-.4 .5 .3 .5-.3 .5 .6 .5-.9 .5 .8 .5-.8 .5 .7 .5-.4 .5 .5 .5-.9 .5 1 .5-1.1 .5 .8 .5-.3 .5 .4 .5-.8 .5 1 .5-1.5 .5 1.3 .5-.4 .5 .5 .5-.5 .5 .5 .5-.7 .5 .5 .5-1.1 .5 1.2 .5-.7 .5 .7 .5-1 .5 .3 .5-1.7 .5 .3 .5-2.5 .5 1.1 .3-.1 .2-1.2 .5 1.6 .5-.5 .5 2 .5-.3 .5 1.6 .5-1 .5 1.4 .5-.6 .5 .7 .5-.9 .5 .7 .5-.8 .5 1.1 .5-.9 .5 .8 .5-1.3 .5 1.2 .5-.6 .5 .6 .5-.5 .5 .6 .5-.6 .5 .6 .5-.9 .5 1 .5-.9 .5 .8 .5-1.3 .5 1.2 .5-1 .5 1 .5-1.2 .5 1.4 .5-1.5 .5 1.3 .5-1.4 .5 1.5 .5-.6 .5 .5 .5-1.3 .5 1.4 .5-1.8 .5 1.8 .5-.7 .5 .6 .5-.5 .5 .5 .5-1.4 .5 1.6 .5-1.9 .5 1.7 .5-.9 .5 .8 .5-1.3 .5 1.4 .5-.8 .5 .7 .5-1.1 .5 .6 .5-1.8 .5 .9 .5-1.3 .5 .4 .5-1.4 .5 1.3 .5-.8 .5 1.9 .5-1.1 .5 2 .5-.6 .5 .9 .5-.8 .5 1.1 .5-.6 .5 .4 .5-1.3 .5 1.4 .5-.8 .5 .8 .5-.7 .5 .7 .5-1.5 .5 1.5 .5-.9 .5 .9 .5-1.7 .5 1.8 .5-.7 .5 .8 .5-1.4 .5 1.4 .5-1.2 .5 1 .5-.5 .5 .4 .5-.5 .5 .7 .5-.9 .5 .9 .5-1 .5 .8 .5-.6 .5 .8 .5-.8 .5 .9 .5-1.1 .5 1.1 .5-1 .5 .7 .5-.8 .5 1 .5-.9 .5 .8 .5-.8 .5 .9 .5-.9 .5 .9 .5-.7 .5 .6 .5-.4 .5 .6 .5-.5 .5 .2 .5-.2 .5 .5 .5-.6 .5 .5 .5-.5 .5 .3 .5-.7 .5 .8 .5-.7 .5 .8 .5-.5 .5 .4 .5-.4 .5 .3 .5-.4 .5 .6 .5-.4 .5 .3 .5-.5 .5 .5 .5-.8 .5 .9 .5-.5 .5 .6 .5-.7 .5 .6 .5-.5 .5 .3 .5-.3 .5 .3 .5-.2 .5 .3 .5-.2 .5 .3 .5-.4 .5 .3 .5-.3 .5 .2 .5-.2 .5 .3 .5-.4 .5 .5 .5-.4 .5 .5 .5-.5 .5 .3 .5-.3 .5 .3 .5-.2 .5 .3 .5-.8 .5 .8 .5-.6 .5 .7 .5-1 .5 .7 .5-.7 .5 .9 .5-1 .5 1 .5-.5 .5 .4 .5-.6 .5 .8 .5-1.2 .5 1.1 .5-.7 .5 .7 .5-1.1 .5 .9 .5-1 .5 1.3 .5-1.3 .5 1.2 .5-.7 .5 .5 .5-.3 .5 .5 .5-.9 .5 .7 .5-.6 .5 .8 .5-1.5 .5 1.5 .5-.5 .5 .5 .5-1.3 .5 1.2 .5-1 .5 1.2 .5-1 .5 .8 .5-.3 .5 .3 .5-.6 .5 .5 .5-.4 .5 .6 .5-.6 .5 .6 .5-.9 .5 1 .5-1.2 .5 1.1 .5-.9 .5 .9 .5-1.2 .5 1 .5-1 .5 1.2 .5-1.1 .5 1.1 .5-.9 .5 .8 .5-.5 .5 .7 .5-.5 .5 .3 .5-.6 .5 .7 .5-.7 .5 .7 .5-.3 .5 .1 .5-.5 .5 .6 .5-.8 .5 .8 .5-.8 .5 .7 .5-.6 .5 .7 .5-1.4 .5 1.3 .5-.8 .5 .9 .5-1 .5 1 .5-.4 .5 .6 .5-1.3 .5 1.1 .5-.5 .5 .6 .5-.7 .5 .8 .5-.6 .5 .4 .5-.5 .5 .7 .5-.4 .5 .3 .5-.6 .5 .6 .5-.3 .5 .4 .5-.8 .5 .7 .5-.9 .5 .8 .5-.3 .5 .5 .5-.7 .5 .5 .5-.5 .5 .4 .5-.6 .5 .8 .5-1.3 .5 1.2 .5-1.4 .5 1.4 .5-1.4 .5 1.4 .5-.9 .5 1 .5-1 .5 .9 .5-1.1 .5 1.2 .5-.9 .5 .9 .5-1.7 .5 1.6 .5-.6 .5 .7 .5-.7 .5 .7 .5-1.6 .5 1.7 .5-1.5 .5 1.5 .5-1.1 .5 .8 .5-.8 .5 1 .5-1 .5 .8 .5-.7 .5 .9 .5-1 .5 1.1 .5-1.7 .5 1.4 .5-.7 .5 .7 .5-.3 .5 .4 .5-1.1 .5 1.2 .5-1.2 .5 1.1 .5-1.1 .5 1 .5-1 .5 1.2 .5-.9 .5 .8 .5-.7 .5 .8 .5-.9 .5 .7 .5-1.2 .5 1.3 .5-1.2 .5 1.4 .5-1 .5 .9 .5-1.2 .5 1.1 .5-1.2 .5 1.4 .5-.8 .5 .8 .5-1.6 .5 1.6 .5-1.8 .5 1.5 .5-.8 .5 .9 .5-1 .5 1.2 .5-1.8 .5 1.6 .5-1.5 .5 1.6 .5-.6 .5 .6 .5-1.4 .5 1.2 .5-1.2 .5 1.5 .5-.9 .5 .8 .5-.9 .5 .8 .5-1.3 .5 1.3 .5-.7 .5 .6 .5-1 .5 1.2 .5-.9 .5 .8 .5-.5 .5 .5 .5-1.5 .5 1.7 .5-1.7 .5 1.7 .5-1.9 .5 1.8 .5-1.6 .5 1.7 .5-1.1 .5 1.1 .5-1.3 .5 1.1 .5-.7 .5 .9 .5-1.5 .5 1.2 .5-.9 .5 1.2 .5-.7 .5 .4 .5-.3 .5 .5 .5-1.6 .5 1.5 .5-1.2 .5 1.3 .5-.6 .5 .6 .5-.5 .5 .5 .5-.8 .5 .9 .5-.8 .5 .6 .5-.9 .5 .9 .5-1.1 .5 1 .5-.6 .5 .8 .5-.7 .5 .7 .5-.8 .5 .7 .5-1 .5 1 .5-.5 .5 .6 .5-.7 .5 .6 .5-1 .5 .9 .5-.7 .5 .9 .5-1.3 .5 1.4 .5-1.2 .5 1.2 .5-.8 .5 .8 .5-.9 .5 .7 .5-.7 .5 .6 .5-.6 .5 .7 .5-.4 .5 .5 .5-.8 .5 .6 .5-.4 .5 .6 .5-.6 .5 .5 .5-.3 .5 .3 .5-1 .5 1 .5-.9 .5 .9 .5-.8 .5 .8 .5-1 .5 1 .5-.5 .5 .4 .5-.4 .5 .7 .5-1.2 .5 .9 .5-1.4 .5 1.7 .5-1.4 .5 1.4 .5-1 .5 .8 .5-.6 .5 .8 .5-1 .5 .9 .5-1.4 .5 1.3 .5-1.2 .5 1.3 .5-1 .5 1.1 .5-1.5 .5 1.4 .5-1 .5 1 .5-1.3 .5 1.3 .5-1 .5 .9 .5-.7 .5 .7 .5-1.2 .5 1.2 .5-.7 .5 .6 .5-.9 .5 1.1 .5-1.4 .5 1.5 .5-1.9 .5 1.9 .5-1.5 .5 1.3 .5-1 .5 1.2 .5-1.4 .5 1.2 .5-1 .5 1.1 .5-1.4 .5 1.4 .5-.6 .5 .7 .5-1.5 .5 1.2 .5-.6 .5 .8 .5-1.7 .5 1.5 .5-.4 .5 .4 .5-1.5 .5 1.8 .5-.7 .5 .7 .5-1 .5 .7 .5-1.2 .5 1.5 .5-1.2 .5 1 .5-1.3 .5 1.3 .5-.9 .5 .8 .5-.9 .5 1.2 .5-1 .5 .8 .5-1.2 .5 1.3 .5-1.3 .5 1.1 .5-1.4 .5 1.4 .5-.6 .5 .8 .5-1.7 .5 1.6 .5-.4 .5 .6 .5-1.1 .5 1 .5-1.1 .5 1 .5-.6 .5 .5 .5-.7" fill="none" stroke="#000" stroke-width="3.8" stroke-linejoin="round"/>
<circle cx="759.0" cy="3659.0" r="15.6" fill="#000"/>
<text x="1026.6" y="3474.0" font-size="60.5" text-anchor="middle" stroke="#000" stroke-width="0.6">*</text>
<text x="1948.8" y="3565.2" font-size="60.5" text-anchor="middle" stroke="#000" stroke-width="0.6">*</text>
<polygon points="2015.4,3636.0 1995.9,3673.6 2034.9,3673.6" fill="#000"/>
<text x="2329.7" y="3474.0" font-size="51.3" text-anchor="end">750 fmole</text>
<text x="457.6" y="3594.5" font-size="45">S/N = 11.2</text>
<line x1="741.5" y1="3679.4" x2="674.2" y2="3629.0" stroke="#000" stroke-width="2.6" stroke-linecap="butt"/>
<polygon points="659.0,3617.6 681.5,3622.6 670.1,3637.8" fill="#000"/>
<text x="1719.1" y="3597.5" font-size="45">S/N = 13.1</text>
<line x1="2002.2" y1="3682.7" x2="1935.1" y2="3633.5" stroke="#000" stroke-width="2.6" stroke-linecap="butt"/>
<polygon points="1919.8,3622.3 1942.4,3627.1 1931.1,3642.4" fill="#000"/>
<path d="M364 3996.9l .5-.4 .5 .6 .5-.6 .5 .4 .5-.4 .5 .6 .5-1.1 .5 1 .5-1.1 .5 .9 .5-.8 .5 1 .5-.7 .5 .7 .5-1.5 .5 1.5 .5-1.3 .5 1.4 .5-.7 .5 .5 .5-1.4 .5 1.5 .5-1.4 .5 1.3 .5-1.3 .5 1.3 .5-.6 .5 .7 .5-.8 .5 .7 .5-.6 .5 .8 .5-.9 .5 .8 .5-.9 .5 .8 .5-.6 .5 .8 .5-.5 .5 .4 .5-.7 .5 .8 .5-.9 .5 .9 .5-1 .5 .8 .5-.8 .5 .8 .5-.5 .5 .6 .5-.8 .5 .8 .5-.4 .5 .5 .5-.7 .5 .5 .5-.4 .5 .4 .5-.3 .5 .5 .5-.4 .5 .4 .5-.5 .5 .5 .5-.5 .5 .4 .5-.3 .5 .2 .5-.2 .5 .4 .5-.6 .5 .3 .5-.1 .5 .4 .5-.4 .5 .1 .5-.2 .5 .4 .5-.3 .5 .3 .5-.3 .5 .4 .5-.5 .5 .3 .5-.3 .5 .4 .5-.3 .5 .3 .5-.3 .5 .4 .5-.5 .5 .3 .5-.2 .5 .2 .5-.2 .5 .4 .5-.5 .5 .3 .5-.3 .5 .4 .5-.4 .5 .4 .5-.4 .5 .4 .5-.4 .5 .5 .5-.5 .5 .4 .5-.3 .5 .2 .5-.2 .5 .2 .5-.3 .5 .4 .5-.3 .5 .3 .5-.4 .5 .5 .5-.5 .5 .2 .5-.2 .5 .5 .5-.5 .5 .5 .5-.4 .5 .2 .5-.3 .5 .5 .5-.7 .5 .5 .5-.1 .5 .3 .5-.5 .5 .5 .5-.4 .5 .4 .5-.5 .5 .5 .5-.5 .5 .5 .5-.5 .5 .2 .5-.5 .5 .8 .5-.6 .5 .4 .5-.5 .5 .5 .5-.3 .5 .4 .5-.2 .5 .1 .5-.3 .5 .3 .5-.1 .5 .1 .5-.4 .5 .6 .5-.4 .5 .3 .5-.4 .5 .4 .5-.2 .5 .1 .5-.1 .5 .2 .5-.4 .5 .2 .5-.1 .5 .2 .5-.4 .5 .5 .5-.4 .5 .4 .5-.5 .5 .5 .5-.3 .5 .2 .5-.4 .5 .6 .5-.8 .5 .5 .5-.1 .5 .3 .5-.6 .5 .5 .5-.2 .5 .3 .5-.3 .5 .2 .5-.2 .5 .4 .5-.3 .5 .1 .5-.3 .5 .2 .5-.3 .5 .5 .5-.5 .5 .4 .5-.2 .5 .4 .5-.5 .5 .5 .5-.4 .5 .3 .5-.5 .5 .4 .5-.5 .5 .7 .5-.5 .5 .3 .5-.3 .5 .4 .5-1 .5 1.1 .5-.6 .5 .6 .5-1 .5 .9 .5-.7 .5 .7 .5-1 .5 1 .5-.7 .5 .5 .5-.6 .5 .7 .5-.6 .5 .6 .5-.7 .5 .9 .5-.5 .5 .3 .5-.4 .5 .4 .5-.2 .5 .2 .5-.3 .5 .3 .5-.3 .5 .5 .5-.5 .5 .3 .5-.3 .5 .3 .5-.2 .5 .4 .5-.5 .5 .3 .5-.6 .5 .7 .5-.4 .5 .3 .5-.9 .5-.3 .5-2.2 .5-3 .5-5.7 .5-6.8 .5-8.1 .5-6.1 .5-3.3 .1 .3 .4 1.5 .5 4.8 .5 7.9 .5 7 .5 6.7 .5 3.6 .5 2.8 .5 .7 .5 .9 .5 0 .5 .3 .5-.4 .5 .5 .5-.6 .5 .6 .5-.4 .5 .3 .5-.3 .5 .2 .5-.2 .5 .2 .5-.2 .5 .3 .5-.3 .5 .4 .5-.5 .5 .3 .5-.4 .5 .6 .5-.3 .5 .2 .5-.4 .5 .3 .5-.3 .5 .3 .5-.3 .5 .3 .5-.3 .5 .3 .5-.3 .5 .3 .5-.3 .5 .4 .5-.5 .5 .5 .5-.4 .5 .4 .5-.4 .5 .5 .5-.5 .5 .5 .5-.3 .5 .1 .5-.4 .5 .4 .5-.2 .5 .4 .5-.4 .5 .3 .5-.7 .5 .7 .5-.3 .5 .2 .5-.2 .5 .2 .5-.3 .5 .5 .5-.4 .5 .3 .5-.6 .5 .6 .5-.4 .5 .5 .5-.4 .5 .4 .5-.4 .5 .4 .5-.4 .5 .2 .5-.6 .5 .7 .5-.3 .5 .4 .5-.7 .5 .5 .5-.5 .5 .7 .5-.5 .5 .3 .5-.4 .5 .5 .5-.4 .5 .4 .5-.8 .5 .7 .5-.5 .5 .5 .5-.6 .5 .6 .5-.4 .5 .4 .5-.4 .5 .4 .5-.4 .5 .4 .5-.7 .5 .9 .5-1.1 .5 1 .5-.9 .5 .8 .5-.9 .5 .9 .5-.4 .5 .4 .5-.4 .5 .3 .5-.7 .5 .8 .5-.6 .5 .6 .5-.5 .5 .6 .5-1.3 .5 1.2 .5-1.2 .5 1.3 .5-1.1 .5 1.1 .5-1 .5 1.1 .5-1.7 .5 1.7 .5-.8 .5 .7 .5-.9 .5 1 .5-1.6 .5 1.5 .5-1.4 .5 1.3 .5-1.1 .5 1.1 .5-1.2 .5 1.2 .5-.4 .5 .5 .5-.6 .5 .5 .5-.4 .5 .4 .5-.8 .5 .8 .5-.7 .5 .6 .5-1 .5 1.1 .5-.6 .5 .8 .5-1.3 .5 1.1 .5-.6 .5 .7 .5-1 .5 1.1 .5-1.1 .5 1.1 .5-1.1 .5 1.1 .5-1.2 .5 1.1 .5-.5 .5 .4 .5-1.2 .5 1.4 .5-.7 .5 .6 .5-.6 .5 .6 .5-.4 .5 .3 .5-1.1 .5 1.1 .5-1.1 .5 1.1 .5-1 .5 1 .5-.9 .5 .9 .5-.9 .5 .8 .5-1.1 .5 .7 .5-2.1 .5-.1 .5-3.5 .5-3.3 .5-5.5 .5-4.4 .5-4 .4-.4 .1-.1 .5 1.7 .5 4.6 .5 4.9 .5 5 .5 3.1 .5 2.5 .5-.2 .5 2.1 .5-1.2 .5 1.4 .5-.9 .5 .9 .5-.7 .5 .7 .5-.6 .5 .7 .5-1.6 .5 1.4 .5-.8 .5 1 .5-.9 .5 .8 .5-1.1 .5 1.1 .5-.3 .5 .3 .5-.4 .5 .4 .5-.6 .5 .7 .5-.5 .5 .4 .5-.4 .5 .5 .5-.5 .5 .3 .5-.2 .5 .5 .5-.5 .5 .5 .5-.4 .5 .3 .5-.3 .5 .3 .5-.4 .5 .5 .5-.5 .5 .5 .5-.6 .5 .6 .5-.4 .5 .4 .5-.5 .5 .4 .5-.4 .5 .3 .5-.3 .5 .4 .5-.4 .5 .3 .5-.6 .5 .6 .5-.4 .5 .4 .5-.6 .5 .4 .5-.8 .5 .2 .5-.8 .5-.1 .5-.6 .1 .4 .4 .2 .5-.2 .5 .8 .5 .2 .5 .6 .5-.2 .5 .4 .5-.5 .5 .8 .5-.5 .5 .5 .5-.6 .5 .4 .5-.6 .5 .6 .5-.7 .5 .8 .5-.4 .5 .2 .5-.2 .5 .5 .5-.8 .5 .7 .5-1.4 .5 1.3 .5-.8 .5 1 .5-.9 .5 .9 .5-1.2 .5 1 .5-1.1 .5 1.2 .5-1.4 .5 1.3 .5-1.1 .5 1.3 .5-1.6 .5 1.5 .5-.7 .5 .8 .5-1.2 .5 1.1 .5-1.2 .5 1.3 .5-.9 .5 .9 .5-1.3 .5 1.2 .5-1.3 .5 1.3 .5-1 .5 .9 .5-.5 .5 .5 .5-1.5 .5 1.3 .5-1.4 .5 .8 .5-1.2 .5 .2 .5-1.5 .5 1.7 .5-.5 .5 1.1 .5-.9 .5 1.6 .5-1 .5 1.4 .5-.8 .5 .8 .5-.6 .5 .6 .5-1 .5 1.1 .5-.9 .5 .6 .5-.4 .5 .6 .5-1.1 .5 1 .5-1.1 .5 1.3 .5-.8 .5 .8 .5-1 .5 .7 .5-1.2 .5 1.4 .5-1.3 .5 1.4 .5-1.4 .5 1.2 .5-1 .5 1 .5-.6 .5 .7 .5-1.1 .5 1.1 .5-.8 .5 .7 .5-.5 .5 .6 .5-1.2 .5 1.1 .5-.7 .5 .7 .5-.4 .5 .5 .5-.6 .5 .6 .5-.9 .5 .9 .5-1 .5 .9 .5-.7 .5 .6 .5-.6 .5 .8 .5-.7 .5 .7 .5-1.2 .5 .8 .5-1.8 .5 .8 .5-1.2 .5-.3 .5-.7 .5 1 .5-.2 .5 1.4 .5 0 .5 1.1 .5-.3 .5 .6 .5-.5 .5 .6 .5-.9 .5 .7 .5-.2 .5 .4 .5-.5 .5 .5 .5-.7 .5 .6 .5-.4 .5 .2 .5-.1 .5 .3 .5-.2 .5 0 .5-.1 .5 .4 .5-.4 .5 .2 .5-.3 .5 .5 .5-.4 .5 .1 .5-.1 .5 .3 .5-.3 .5 .1 .5-.2 .5 .3 .5-.2 .5 .2 .5-.3 .5 .4 .5-.2 .5 .3 .5-.4 .5 .3 .5-.5 .5 .6 .5-.5 .5 .4 .5-.3 .5 .2 .5-.2 .5 .1 .5-.2 .5 .3 .5-.4 .5 .5 .5-.7 .5 .6 .5-.5 .5 .7 .5-.7 .5 .6 .5-1 .5 .6 .5-1.3 .5-.2 .5-2.8 .5-2.5 .5-5.2 .5-3.7 .5-3.9 .4-.6 .1 0 .5 1.6 .5 4.6 .5 4.4 .5 4.5 .5 2.4 .5 1.8 .5 .6 .5 .6 .5-.5 .5 .5 .5-.3 .5 .3 .5-.6 .5 .8 .5-.8 .5 .7 .5-.7 .5 .7 .5-.5 .5 .4 .5-.5 .5 .6 .5-.5 .5 .5 .5-.7 .5 .8 .5-.5 .5 .2 .5-.1 .5 .2 .5-.7 .5 .8 .5-.4 .5 .2 .5-.2 .5 .3 .5-.2 .5 .2 .5-.4 .5 .4 .5-.4 .5 .6 .5-.8 .5 .7 .5-1.1 .5 .6 .5-1.2 .5-.3 .5-2.2 .5-1.3 .5-2.8 .5-2 .5-1.8 .2 .4 .3 .3 .5 1 .5 3 .5 1.8 .5 2.5 .5 1 .5 1.4 .5-.1 .5 .6 .5-.3 .5 .4 .5-.5 .5 .5 .5-.4 .5 .5 .5-.8 .5 .8 .5-.7 .5 .6 .5-.9 .5 1.1 .5-.7 .5 .5 .5-.9 .5 1 .5-1.2 .5 1.2 .5-1.3 .5 1.4 .5-.9 .5 .7 .5-.3 .5 .5 .5-1.1 .5 .9 .5-.7 .5 .9 .5-.6 .5 .5 .5-.4 .5 .4 .5-.4 .5 .5 .5-.5 .5 .4 .5-.3 .5 .3 .5-.3 .5 .2 .5-.2 .5 .4 .5-.5 .5 .5 .5-.7 .5 .7 .5-.7 .5 .5 .5-.3 .5 .3 .5-.2 .5 .3 .5-.7 .5 .5 .5-.6 .5 .7 .5-.3 .5 .3 .5-.6 .5 .6 .5-.8 .5 .8 .5-.6 .5 .4 .5-.7 .5 .4 .5-1.9 .5 .8 .5-.6 .3 .5 .2 0 .5-.7 .5 1.4 .5-.4 .5 1 .5-.2 .5 .6 .5-.5 .5 .7 .5-.4 .5 .4 .5-.5 .5 .4 .5-.4 .5 .4 .5-.5 .5 .4 .5-.5 .5 .6 .5-.9 .5 1 .5-.9 .5 .8 .5-.5 .5 .5 .5-.5 .5 .4 .5-.5 .5 .5 .5-.4 .5 .4 .5-.9 .5 1 .5-1.1 .5 1.1 .5-.5 .5 .5 .5-1.2 .5 1.3 .5-.6 .5 .5 .5-1.2 .5 1.1 .5-.8 .5 .9 .5-.5 .5 .5 .5-.3 .5 .4 .5-.7 .5 .7 .5-.7 .5 .6 .5-.4 .5 .5 .5-.8 .5 .8 .5-.5 .5 .2 .5-.4 .5 .7 .5-.7 .5 .7 .5-.6 .5 .4 .5-.5 .5 .5 .5-.2 .5 .4 .5-.5 .5 .4 .5-.4 .5 .3 .5-.3 .5 .4 .5-.3 .5 .2 .5-.4 .5 .4 .5-.4 .5 .4 .5-.3 .5 .4 .5-.3 .5 .4 .5-.6 .5 .6 .5-.9 .5 .9 .5-.8 .5 .7 .5-.4 .5 .5 .5-.6 .5 .6 .5-.8 .5 .6 .5-.9 .5 1.1 .5-.6 .5 .5 .5-1 .5 1.1 .5-.5 .5 .5 .5-.6 .5 .4 .5-.6 .5 .8 .5-1.1 .5 .9 .5-.4 .5 .3 .5-.4 .5 .7 .5-.6 .5 .4 .5-.2 .5 .4 .5-.5 .5 .4 .5-.5 .5 .6 .5-.6 .5 .6 .5-.6 .5 .5 .5-.4 .5 .3 .5-.3 .5 .5 .5-.6 .5 .5 .5-.3 .5 .2 .5-.4 .5 .5 .5-.3 .5 .4 .5-.5 .5 .5 .5-.5 .5 .3 .5-.2 .5 .1 .5-.4 .5 .6 .5-.4 .5 .4 .5-.7 .5 .5 .5-.2 .5 .5 .5-.7 .5 .5 .5-.7 .5 .9 .5-1 .5 .8 .5-.7 .5 .7 .5-.6 .5 .6 .5-.3 .5 .4 .5-.6 .5 .5 .5-.5 .5 .5 .5-.2 .5 .3 .5-.4 .5 .3 .5-.4 .5 .6 .5-.6 .5 .5 .5-.4 .5 .5 .5-.5 .5 .2 .5-.1 .5 .1 .5-.1 .5 .2 .5-.3 .5 .2 .5-.2 .5 .5 .5-.4 .5 .3 .5-.4 .5 .4 .5-.3 .5 .2 .5-.2 .5 .2 .5-.3 .5 .3 .5-.1 .5 .1 .5-.3 .5 .2 .5-.1 .5 .3 .5-.5 .5 .4 .5-.3 .5 .4 .5-.3 .5 .4 .5-.4 .5 .4 .5-.4 .5 .3 .5-.3 .5 .2 .5-.1 .5 .2 .5-.3 .5 .3 .5-.3 .5 .2 .5-.3 .5 .3 .5-.4 .5 .5 .5-.4 .5 .3 .5-.4 .5 .5 .5-.3 .5 .2 .5-.2 .5 .4 .5-.4 .5 .4 .5-.7 .5 .7 .5-.7 .5 .7 .5-.4 .5 .2 .5-.2 .5 .2 .5-.4 .5 .6 .5-.6 .5 .5 .5-.6 .5 .5 .5-.4 .5 .4 .5-.4 .5 .4 .5-.3 .5 .5 .5-1.1 .5 1 .5-.7 .5 .6 .5-.7 .5 .8 .5-1.2 .5 1.2 .5-1.2 .5 1.1 .5-.7 .5 .9 .5-1.2 .5 1 .5-.7 .5 .7 .5-.8 .5 .9 .5-1 .5 1 .5-.6 .5 .7 .5-1.5 .5 1.5 .5-1.2 .5 1.2 .5-1.2 .5 1 .5-1.3 .5 1.5 .5-1.2 .5 1 .5-1.2 .5 1.3 .5-1.4 .5 1.3 .5-.8 .5 .8 .5-1.1 .5 1.3 .5-1.1 .5 1 .5-1.6 .5 1.7 .5-1.2 .5 .9 .5-.8 .5 .9 .5-1.5 .5 1.6 .5-1.2 .5 1.2 .5-1.2 .5 1.1 .5-.9 .5 1 .5-.8 .5 0 .5-2.2 .5 .8 .5-2.7 .5 .7 .5-1.7 .3 1.1 .2 0 .5-.7 .5 2.1 .5-.1 .5 2 .5-.6 .5 1.6 .5-.1 .5 .5 .5-.5 .5 .4 .5-.7 .5 .9 .5-.6 .5 .6 .5-1.3 .5 1.4 .5-.6 .5 .6 .5-1.1 .5 .9 .5-.4 .5 .5 .5-1.3 .5 1.3 .5-.8 .5 .8 .5-.5 .5 .5 .5-1 .5 1.1 .5-1.2 .5 1.2 .5-.9 .5 .9 .5-1.6 .5 1.4 .5-1.2 .5 1.3 .5-1.2 .5 1.2 .5-.8 .5 .8 .5-.6 .5 .6 .5-1.3 .5 1.3 .5-.8 .5 .8 .5-1.4 .5 1.5 .5-1.3 .5 1.3 .5-.6 .5 .5 .5-1.1 .5 1.1 .5-.9 .5 1 .5-1.9 .5 1.7 .5-1.1 .5 1.1 .5-1.1 .5 1.2 .5-.6 .5 .4 .5-.4 .5 .7 .5-.6 .5 .5 .5-.3 .5 .1 .5-.1 .5 .2 .5-.3 .5 .5 .5-.5 .5 .3 .5-.3 .5 .4 .5-.4 .5 .4 .5-.5 .5 .6 .5-.4 .5 .2 .5-.4 .5 .4 .5-.5 .5 .6 .5-.4 .5 .4 .5-.3 .5 .4 .5-.4 .5 .4 .5-.5 .5 .3 .5-.2 .5 .2 .5-.2 .5 .4 .5-.4 .5 .3 .5-.5 .5 .4 .5-.4 .5 .6 .5-.3 .5 .2 .5-.4 .5 .5 .5-.3 .5 .2 .5-.4 .5 .5 .5-.5 .5 .4 .5-.3 .5 .3 .5-.3 .5 .4 .5-.5 .5 .4 .5-.3 .5 .3 .5-.3 .5 .2 .5-.7 .5-.6 .5-3.1 .5-7.5 .5-17 .5-29.6 .5-46 .5-55.6 .5-52.4 .5-29.5 .2-3.1 .3 7.1 .5 31.2 .5 44.3 .5 48.8 .5 40.6 .5 29.9 .5 17.9 .5 10.8 .5 4.9 .5 2.9 .5 1.2 .5 1.3 .5 .2 .5 .9 .5 .4 .5 .6 .5-.4 .5 1.1 .5-.4 .5 .7 .5-.4 .5 .6 .5-.1 .5 .6 .5-.3 .5 .4 .5-.3 .5 .4 .5-.4 .5 .4 .5-.1 .5 .2 .5-.2 .5 .3 .5-.4 .5 .3 .5-.4 .5 .6 .5-.4 .5 .3 .5-.2 .5 .2 .5-.6 .5 .7 .5-.4 .5 .2 .5-.6 .5 .9 .5-.5 .5 .5 .5-.7 .5 .7 .5-.5 .5 .4 .5-.5 .5 .4 .5-.6 .5 0 .5-1.3 .5-.7 .5-2.7 .5-2.4 .5-3.8 .5-1.5 .5-1.4 .5 1.6 .5 1.8 .5 3.4 .5 2 .5 2.7 .5 .8 .5 1.5 .5-.3 .5 1 .5-.7 .5 .7 .5-.6 .5 .7 .5-.6 .5 .4 .5-.3 .5 .4 .5-.4 .5 .3 .5-.9 .5 .9 .5-.7 .5 .9 .5-.5 .5 .5 .5-.9 .5 .7 .5-1.2 .5 1.2 .5-.9 .5 1.1 .5-.7 .5 .5 .5-.8 .5 .9 .5-.5 .5 .4 .5-.8 .5 .8 .5-1 .5 1.2 .5-1.7 .5 1.7 .5-1.3 .5 1.2 .5-1.6 .5 1.7 .5-.8 .5 .8 .5-1.1 .5 1.1 .5-.8 .5 .8 .5-.9 .5 .9 .5-1.8 .5 1.6 .5-.9 .5 .9 .5-.5 .5 .6 .5-1 .5 .8 .5-1.1 .5 1.3 .5-.8 .5 .8 .5-1 .5 1.1 .5-1 .5 1 .5-1.3 .5 1.3 .5-1.2 .5 1.1 .5-.6 .5 .6 .5-1.4 .5 1.3 .5-1.3 .5 1.4 .5-.6 .5 .7 .5-.8 .5 .7 .5-1.4 .5 1.3 .5-1.1 .5 1.1 .5-1.1 .5 1.2 .5-1.3 .5 1.3 .5-1 .5 1 .5-1.1 .5 1 .5-.7 .5 .8 .5-.5 .5 .6 .5-.8 .5 .6 .5-.4 .5 .6 .5-.7 .5 .7 .5-.7 .5 .5 .5-1.1 .5 1.3 .5-1.6 .5 1.6 .5-1.2 .5 1.2 .5-1.6 .5 1.4 .5-1.1 .5 1.3 .5-1.5 .5 1.2 .5-.3 .5 .6 .5-.8 .5 .8 .5-1.4 .5 1.3 .5-1.2 .5 1.2 .5-.5 .5 .5 .5-1 .5 .8 .5-1.1 .5 0 .5-1.5 .5-.4 .5-2.2 .5-.1 .5-1.3 .5 1.1 .5 .5 .5 1.8 .5 .2 .5 2.1 .5-1.2 .5 1.9 .5-.5 .5 .7 .5-.5 .5 .8 .5-1.3 .5 1.2 .5-1.2 .5 1.2 .5-1.4 .5 1.4 .5-1.7 .5 1.7 .5-1.2 .5 1.3 .5-.6 .5 .6 .5-1.7 .5 1.5 .5-.7 .5 .7 .5-1.5 .5 1.6 .5-1.5 .5 1.5 .5-1.8 .5 1.9 .5-1.8 .5 1.6 .5-1.1 .5 1.2 .5-1 .5 1.1 .5-1.7 .5 1.6 .5-.8 .5 .8 .5-.6 .5 .4 .5-1.2 .5 1.5 .5-1.5 .5 1.4 .5-.7 .5 .7 .5-.8 .5 .9 .5-1 .5 .7 .5-.5 .5 .5 .5-1.2 .5 1.3 .5-.6 .5 .8 .5-1.6 .5 1.4 .5-.7 .5 .9 .5-.8 .5 .8 .5-1.4 .5 1.4 .5-1.7 .5 1.6 .5-.9 .5 .9 .5-.5 .5 .5 .5-1.8 .5 1.7 .5-1 .5 1.1 .5-.7 .5 .6 .5-.5 .5 .5 .5-.6 .5 .7 .5-.7 .5 .7 .5-.6 .5 .6 .5-1.8 .5 1.9 .5-1.1 .5 1 .5-.9 .5 .8 .5-.7 .5 .8 .5-.7 .5 .6 .5-1.3 .5 1.5 .5-1.7 .5 1.7 .5-1 .5 .9 .5-.7 .5 .7 .5-.8 .5 .7 .5-.7 .5 .9 .5-1.1 .5 1 .5-1.4 .5 1.4 .5-.8 .5 .8 .5-1.2 .5 1.2 .5-.9 .5 1 .5-1.3 .5 1.1 .5-.5 .5 .6 .5-1.2 .5 1.2 .5-1.2 .5 1.1 .5-.6 .5 .7 .5-.8 .5 .7 .5-.4 .5 .5 .5-.3 .5 .3 .5-.4 .5 .2 .5-.3 .5 .4 .5-.3 .5 .3 .5-.6 .5 .8 .5-.5 .5 .3 .5-.6 .5 .7 .5-.4 .5 .4 .5-1.1 .5 1 .5-.5 .5 .6 .5-.7 .5 .8 .5-1.2 .5 1.2 .5-.5 .5 .5 .5-.8 .5 .6 .5-.7 .5 .8 .5-.5 .5 .5 .5-.4 .5 .3 .5-.6 .5 .7 .5-1.1 .5 .5 .5-2 .5-2 .5-5.6 .5-8.2 .5-12.6 .5-12.9 .5-12.3 .5-6.4 .2-.4 .3 1.3 .5 7.3 .5 10.3 .5 12 .5 10 .5 8.5 .5 5.1 .5 3.7 .5 1.5 .5 1.4 .5-.2 .5 1 .5-.5 .5 .7 .5-.1 .5 .3 .5-.1 .5 .3 .5-.2 .5 .4 .5-.2 .5 .3 .5-.3 .5 .3 .5-.3 .5 .5 .5-.7 .5 .6 .5-.5 .5 .6 .5-.6 .5 .7 .5-.7 .5 .5 .5-.3 .5 .4 .5-.6 .5 .5 .5-.7 .5 .8 .5-.9 .5 .9 .5-.9 .5 .8 .5-.3 .5 .4 .5-.6 .5 .5 .5-.4 .5 .5 .5-.4 .5 .3 .5-.5 .5 .4 .5-.1 .5 .3 .5-.3 .5 0 .5-1 .5 .5 .5-1 .5 .3 .5-.8 .3 .4 .2 0 .5-.2 .5 .9 .5-.2 .5 .9 .5-.3 .5 .6 .5-1 .5 1.2 .5-.8 .5 .7 .5-1.2 .5 1.4 .5-1.2 .5 1 .5-.8 .5 .9 .5-.7 .5 .6 .5-.4 .5 .6 .5-1.4 .5 1.3 .5-1.3 .5 1.4 .5-1.4 .5 1.4 .5-1.3 .5 1.3 .5-.6 .5 .4 .5-.7 .5 .7 .5-1.1 .5 1.2 .5-1.5 .5 1.6 .5-1.2 .5 1 .5-.8 .5 .8 .5-1.2 .5 1.2 .5-.8 .5 .8 .5-.5 .5 .6 .5-.7 .5 .6 .5-.6 .5 .5 .5-.3 .5 .6 .5-1.3 .5 1.3 .5-1 .5 1 .5-.8 .5 .6 .5-.4 .5 .4 .5-1.3 .5 1.5 .5-.8 .5 .7 .5-.8 .5 .8 .5-.8 .5 .9 .5-.7 .5 .6 .5-1.2 .5 1 .5-.5 .5 .6 .5-.5 .5 .5 .5-1.4 .5 1.4 .5-1.1 .5 1.1 .5-.7 .5 .9 .5-.6 .5 .6 .5-1.3 .5 1.1 .5-1.2 .5 1.4 .5-1.3 .5 1.2 .5-1.1 .5 1 .5-1.7 .5 1.9 .5-1.7 .5 1.7 .5-1.3 .5 1.1 .5-.8 .5 .7 .5-1.6 .5 1.9 .5-.7 .5 .5 .5-1.5 .5 1.6 .5-1.4 .5 1.3 .5-.7 .5 .8 .5-1.2 .5 1.1 .5-.5 .5 .6 .5-.5 .5 .5 .5-.6 .5 .5 .5-.5 .5 .5 .5-.5 .5 .5 .5-1.2 .5 1.2 .5-1.2 .5 1.4 .5-1.1 .5 1 .5-.7 .5 .7 .5-.7 .5 .6 .5-.7 .5 .7 .5-1.1 .5 1.2 .5-1 .5 1 .5-1.3 .5 1.4 .5-1.4 .5 1.2 .5-.4 .5 .4 .5-.5 .5 .5 .5-1.1 .5 1.1 .5-1.2 .5 1.2 .5-.9 .5 1 .5-.6 .5 .5 .5-1.4 .5 1.4 .5-1.4 .5 1.6 .5-1 .5 .9 .5-.5 .5 .5 .5-.9 .5 .8 .5-1.1 .5 1.1 .5-.7 .5 .8 .5-1 .5 1.1 .5-.9 .5 .8 .5-.6 .5 .7 .5-.5 .5 .3 .5-.6 .5 .7 .5-.4 .5 .3 .5-.4 .5 .5 .5-.6 .5 .6 .5-.4 .5 .4 .5-.5 .5 .4 .5-.7 .5 .9 .5-.5 .5 .3 .5-.8 .5 1 .5-1.3 .5 1.1 .5-.7 .5 .7 .5-.9 .5 .1 .5-1 .5 .3 .5-.8 .3 .5 .2-.1 .5-.9 .5 1.5 .5-.1 .5 1.2 .5-.8 .5 1 .5-.8 .5 1 .5-1 .5 .9 .5-.4 .5 .3 .5-.3 .5 .3 .5-.5 .5 .7 .5-.8 .5 .8 .5-.7 .5 .5 .5-.3 .5 .4 .5-.3 .5 .3 .5-.5 .5 .6 .5-.6 .5 .5 .5-.3 .5 .2 .5-.5 .5 .5 .5-.5 .5 .7 .5-.6 .5 .5 .5-.4 .5 .3 .5-.2 .5 .2 .5-.3 .5 .3 .5-.3 .5 .3 .5-.2 .5 .1 .5-.1 .5 .4 .5-.5 .5 .5 .5-.4 .5 .4 .5-.5 .5 .3 .5-.2 .5 .2 .5-.4 .5 .6 .5-.5 .5 .5 .5-.5 .5 .5 .5-.7 .5 .5 .5-.5 .5 .6 .5-.5 .5 .4 .5-.5 .5 .5 .5-.4 .5 .6 .5-.7 .5 .5 .5-.4 .5 .6 .5-.5 .5 .2 .5-.4 .5 .5 .5-.5 .5 .7 .5-.7 .5 .6 .5-.7 .5 .7 .5-.5 .5 .6 .5-.4 .5 .3 .5-.9 .5 1 .5-1.2 .5 1 .5-.3 .5 .4 .5-.9 .5 1 .5-.9 .5 .8 .5-.7 .5 .7 .5-.9 .5 .9 .5-.9 .5 1 .5-.7 .5 .5 .5-.4 .5 .4 .5-.4 .5 .4 .5-.2 .5 .2 .5-.4 .5 .6 .5-.5 .5 .4 .5-.4 .5 .4 .5-.2 .5 0 .5-.1 .5 .2 .5-.3 .5 .3 .5-.3 .5 .4 .5-.5 .5 .5 .5-1.1 .5 1.2 .5-1 .5 1 .5-.5 .5 .4 .5-.3 .5 .3 .5-.4 .5 .4 .5-.5 .5 .6 .5-1 .5 1 .5-.9 .5 .7 .5-.5 .5 .5 .5-.8 .5 .8 .5-.8 .5 1 .5-1 .5 1 .5-.9 .5 .8 .5-1.2 .5 1.2 .5-1.3 .5 1.2 .5-.7 .5 .9 .5-1.4 .5 1.4 .5-1.4 .5 1.4 .5-.6 .5 .5 .5-.6 .5 .5 .5-.8 .5 .9 .5-.5 .5 .6 .5-.5 .5 .5 .5-.9 .5 .7 .5-1.1 .5 1.3 .5-1.4 .5 1.1 .5-1 .5 1.2 .5-.6 .5 .6 .5-1.1 .5 1.1 .5-1 .5 1 .5-.4 .5 .4 .5-1.3 .5 1.2 .5-.7 .5 .7 .5-.9 .5 .9 .5-.9 .5 .9 .5-1.1 .5 1.1 .5-.5 .5 .6 .5-.5 .5 .6 .5-1.1 .5 1 .5-.8 .5 .8 .5-.7 .5 .5 .5-1.1 .5 1.4 .5-1 .5 .9 .5-1.2 .5 1.3 .5-.6 .5 .4 .5-.5 .5 .4 .5-.2 .5 .4 .5-.5 .5 .6 .5-.9 .5 .7 .5-.9 .5 1 .5-1 .5 .9 .5-.4 .5 .4 .5-.4 .5 .4 .5-.8 .5 .9 .5-.4 .5 .3 .5-.2 .5 .3 .5-.3 .5 .3 .5-.6 .5 .4 .5-.3 .5 .4 .5-.1 .5 .1 .5-.4 .5 .6 .5-.7 .5 .5 .5-.3 .5 .3 .5-.3 .5 .5 .5-.6 .5 .6 .5-.7 .5 .6 .5-.5 .5 .5 .5-.4 .5 .4 .5-.3 .5 .4 .5-.6 .5 .5 .5-.3 .5 .2 .5-.3 .5 .3 .5-.7 .5 .8 .5-1 .5 1 .5-.5 .5 .6 .5-.6 .5 .4 .5-.7 .5 .7 .5-.4 .5 .5 .5-.7 .5 .6 .5-.8 .5 .8 .5-.8 .5 .8 .5-.3 .5 .2 .5-.3 .5 .4 .5-.5 .5 .7 .5-.8 .5 .6 .5-.6 .5 .8 .5-1.5 .5 1.4 .5-1.2 .5 1.1 .5-1.2 .5 1.4 .5-1.5 .5 1.3 .5-.6 .5 .6 .5-1.2 .5 1.3 .5-.6 .5 .6 .5-.9 .5 .7 .5-.3 .5 .4 .5-.5 .5 .5 .5-.4 .5 .5 .5-.9 .5 .8 .5-1.3 .5 1.2 .5-1.2 .5-.1 .5-2.1 .5-.5 .5-2.7 .5-1.1 .5-1.7 .2 .6 .3 .4 .5 0 .5 2.8 .5 .9 .5 2.6 .5 .3 .5 1.3 .5-.7 .5 1.3 .5-1 .5 1.1 .5-.5 .5 .5 .5-1.7 .5 1.8 .5-1.5 .5 1.3 .5-1.3 .5 1.5 .5-1.4 .5 1.2 .5-1.3 .5 1.2 .5-.6 .5 .7 .5-.4 .5 .3 .5-.5 .5 .5 .5-1.5 .5 1.7 .5-.6 .5 .7 .5-1.5 .5 1.5 .5-.8 .5 .7 .5-.6 .5 .6 .5-1.3 .5 1.3 .5-1.3 .5 1.3 .5-1.1 .5 1.2 .5-.7 .5 .6 .5-.8 .5 .8 .5-1.3 .5 1.3 .5-.6 .5 .7 .5-.7 .5 .4 .5-1.1 .5 1.3 .5-.6 .5 .5 .5-1 .5 1 .5-.6 .5 .5 .5-1 .5 1.1 .5-1.3 .5 1.3 .5-1.3 .5 1.4 .5-1 .5 1 .5-1.1 .5 1 .5-.7 .5 .9 .5-.6 .5 .4 .5-.9 .5 1 .5-.6 .5 .5 .5-1 .5 1.1 .5-.7 .5 .6 .5-.7 .5 .8 .5-.4 .5 .2 .5-.4 .5 .4 .5-.3 .5 .6 .5-.6 .5 .4 .5-.7 .5 .8 .5-.4 .5 .2 .5-.3 .5 .4 .5-.3 .5 .4 .5-.5 .5 .5 .5-.9 .5 .9 .5-.7 .5 .6 .5-.3 .5 .4 .5-.5 .5 .6 .5-.6 .5 .5 .5-.2 .5 .1 .5-.4 .5 .4 .5-.2 .5 .2 .5-.3 .5 .5 .5-.7 .5 .7 .5-.7 .5 .6 .5-.5 .5 .6 .5-.6 .5 .5 .5-.8 .5 .8 .5-.8 .5 .9 .5-1.2 .5 1.1 .5-.7 .5 .7 .5-.5 .5 .4 .5-.3 .5 .3 .5-1.1 .5 1.2 .5-.5 .5 .6 .5-1.2 .5 1 .5-1 .5 1 .5-.6 .5 .8 .5-.9 .5 .9 .5-1.2 .5 1 .5-.5 .5 .5 .5-.7 .5 .9 .5-.4 .5 .4 .5-.6 .5 .3 .5-.2 .5 .3 .5-.3 .5 .5 .5-.5 .5 .4 .5-.8 .5 .7 .5-.8 .5 .9 .5-.8 .5 .8 .5-1 .5 1 .5-1 .5 1.1 .5-1.1 .5 1.1 .5-.7 .5 .7 .5-.9 .5 .9 .5-1.1 .5 1 .5-1 .5 1.1 .5-1 .5 .9 .5-.5 .5 .4 .5-.6 .5 .7 .5-.7 .5 .8 .5-.8 .5 .5 .5-.2 .5 .3 .5-.4 .5 .6 .5-.7 .5 .4 .5-.9 .5 1.1 .5-.5 .5 .4 .5-.7 .5 .9 .5-.7 .5 .7 .5-1 .5 1 .5-1.3 .5 1.2 .5-.4 .5 .3 .5-1 .5 1 .5-.6 .5 .8 .5-.7 .5 .6 .5-1.1 .5 1.1 .5-1.4 .5 1.5 .5-.6 .5 .4 .5-1.6 .5 1.6 .5-.9 .5 1 .5-.5 .5 .6 .5-1.3 .5 1.1 .5-1.3 .5 1.4 .5-1.1 .5 1.1 .5-.7 .5 .6 .5-.6 .5 .5 .5-.6 .5 .9 .5-.5 .5 .5 .5-.7 .5 .7 .5-1.1 .5 1.1 .5-1.1 .5 .7 .5-1.4 .5-.3 .5-2.4 .5-1.8 .5-4 .5-1.8 .5-2.4 .3 .4 .2 .1 .5 .8 .5 3.3 .5 2.1 .5 3.5 .5 1.3 .5 2 .5-.8 .5 1.6 .5-.9 .5 .9 .5-.5 .5 .7 .5-.7 .5 .7 .5-.8 .5 .6 .5-.7 .5 .7 .5-.7 .5 .8 .5-.3 .5 .4 .5-.5 .5 .4 .5-.4 .5 .5 .5-.5 .5 .4 .5-.3 .5 .1 .5-.1 .5 .3 .5-.4 .5 .2 .5-.2 .5 .4 .5-.5 .5 .5 .5-.4 .5 .3 .5-.2 .5 .3 .5-.4 .5 .4 .5-.4 .5 .3 .5-.5 .5 .7 .5-.4 .5 .1 .5-.4 .5-.2 .5-.9 .5-1 .5-1.7 .5-1.3 .5-2.1 .5 0 .1-.2 .4 .1 .5 1.5 .5 1.4 .5 1.7 .5 1.2 .5 1.3 .5-.2 .5 .9 .5-.6 .5 .7 .5-.7 .5 .7 .5-.4 .5 .2 .5-.1 .5 .4 .5-.9 .5 .8 .5-.8 .5 .7 .5-.4 .5 .5 .5-.7 .5 .6 .5-.5 .5 .5 .5-.8 .5 .8 .5-1 .5 1.2 .5-.6 .5 .5 .5-.4 .5 .5 .5-.6 .5 .5 .5-.4 .5 .3 .5-.4 .5 .6 .5-.8 .5 .7 .5-.4 .5 .3 .5-.3 .5 .4 .5-.3 .5 .3 .5-.4 .5 .5 .5-.3 .5 .1 .5-.4 .5 .5 .5-.5 .5 .4 .5-.5 .5 .5 .5-.3 .5 .4 .5-.5 .5 .6 .5-.5 .5 .4 .5-.7 .5 .5 .5-.4 .5 .1 .5-.9 .5-.2 .5-1.5 .5-.9 .5-2 .5 .2 .3 0 .2-1 .5 1.7 .5 .4 .5 1.8 .5 .7 .5 1.3 .5 0 .5 .6 .5-.1 .5 .4 .5-.3 .5 .2 .5-.4 .5 .5 .5-.3 .5 .2 .5-.2 .5 .3 .5-.3 .5 .4 .5-.4 .5 .2 .5-.2 .5 .2 .5-.6 .5 .7 .5-.4 .5 .4 .5-.4 .5 .3 .5-.4 .5 .5 .5-.5 .5 .5 .5-.4 .5 .3 .5-.4 .5 .5 .5-.5 .5 .2 .5-.6 .5-.1 .5-1.2 .5-1 .5-2.3 .5-1.5 .5-1.8 .5 0 .5-.4 .5 2.4 .5 1.5 .5 2 .5 .6 .5 1.9 .5-.3 .5 1.1 .5-.7 .5 .6 .5-.2 .5 .2 .5-.3 .5 .4 .5-.6 .5 .7 .5-.7 .5 .4 .5-.3 .5 .5 .5-.8 .5 .7 .5-.7 .5 .9 .5-1.2 .5 1 .5-.5 .5 .6 .5-.7 .5 .8 .5-1.5 .5 1.5 .5-1.8 .5 1.6 .5-.7 .5 .7 .5-.9 .5 .9 .5-.6 .5 .6 .5-1.7 .5 1.8 .5-1.1 .5 1.1 .5-.9 .5 .8 .5-.6 .5 .6 .5-.6 .5 .8 .5-1.4 .5 1.3 .5-1 .5 1.1 .5-1.2 .5 1 .5-1.6 .5 1.8 .5-1 .5 .8 .5-1.4 .5 1.6 .5-1.4 .5 1.3 .5-1.1 .5 1.1 .5-1.6 .5 1.7 .5-1.4 .5 1.3 .5-.6 .5 .5 .5-.5 .5 .5 .5-1.1 .5 1.2 .5-1.2 .5 1.3 .5-.5 .5 .4 .5-.8 .5 .8 .5-.6 .5 .6 .5-.6 .5 .5 .5-.4 .5 .6 .5-1.2 .5 1.1 .5-1.5 .5 1.4 .5-1 .5 1 .5-1.2 .5 1.2 .5-.6 .5 .6 .5-1.4 .5 1.4 .5-1.3 .5 1.3 .5-1.2 .5 1.2 .5-.6 .5 .6 .5-.6 .5 .7 .5-.5 .5 .5 .5-1.1 .5 1.2 .5-.8 .5 .8 .5-1 .5 1 .5-.8 .5 .7 .5-1.7 .5 1.7 .5-.9 .5 .9 .5-.7 .5 .6 .5-.4 .5 .4 .5-1.1 .5 1.3 .5-.6 .5 .6 .5-.8 .5 .7 .5-1.4 .5 1.5 .5-.9 .5 .7 .5-.4 .5 .4 .5-.5 .5 .5 .5-.4 .5 .5 .5-1 .5 1 .5-.6 .5 .6 .5-.5 .5 .5 .5-.5 .5 .6 .5-1 .5 .8 .5-.7 .5 .8 .5-.4 .5 .2 .5-.7 .5 .8 .5-.6 .5 .8 .5-.8 .5 .7 .5-.9 .5 .8 .5-.3 .5 .4 .5-.3 .5 .3 .5-.4 .5 .2 .5-.2 .5 .2 .5-.2 .5 .5 .5-.5 .5 .4 .5-.4 .5 .4 .5-.3 .5 .3 .5-.6 .5 .4 .5-.2 .5 .2 .5-.6 .5 .7 .5-.8 .5 .8 .5-.2 .5 .2 .5-.4 .5 .5 .5-.7 .5 .6 .5-1 .5 .9 .5-.7 .5 .8 .5-.5 .5 .5 .5-.6 .5 .6 .5-.6 .5 .7 .5-.9 .5 .8 .5-.6 .5 .8 .5-.8 .5 .7 .5-.6 .5 .5 .5-1.4 .5 1.4 .5-.7 .5 .9 .5-1.7 .5 1.6 .5-1.6 .5 1.5 .5-.5 .5 .6 .5-.5 .5 .5 .5-.5 .5 .6 .5-.6 .5 .6 .5-1.1 .5 .9 .5-.8 .5 .9 .5-.6 .5 .6 .5-.4 .5 .4 .5-.7 .5 .6 .5-.4 .5 .6 .5-.5 .5 .3 .5-.3 .5 .4 .5-.4 .5 .3 .5-.3 .5 .3 .5-.3 .5 .3 .5-.3 .5 .3 .5-.4 .5 .4 .5-.3 .5 .4 .5-.4 .5 .3 .5-.3 .5 .5 .5-.5 .5 .4 .5-.4 .5 .3 .5-.3 .5 .3 .5-.3 .5 .4 .5-.6 .5 .7 .5-1.1 .5 1 .5-.7 .5 .7 .5-.6 .5 .4 .5-.5 .5 .8 .5-1.2 .5 1 .5-1 .5 1.2 .5-.9 .5 .8 .5-1.2 .5 1.3 .5-1.4 .5 1.4 .5-1.3 .5 1.1 .5-.4 .5 .4 .5-.9 .5 .9 .5-.3 .5 .3 .5-.8 .5 .8 .5-.8 .5 .8 .5-1.1 .5 1.1 .5-.4 .5 .5 .5-1.1 .5 1.2 .5-1 .5 .8 .5-.6 .5 .6 .5-1.6 .5 1.6 .5-1.5 .5 1.6 .5-1.2 .5 1.1 .5-1 .5 1.1 .5-1.5 .5 1.4 .5-1.3 .5 1.3 .5-.5 .5 .7 .5-.5 .5 .5 .5-1 .5 1 .5-.8 .5 .7 .5-.9 .5 1 .5-1.3 .5 1.2 .5-.5 .5 .4 .5-1.2 .5 1.3 .5-.4 .5 .3 .5-1.1 .5 1.3 .5-1.1 .5 1.1 .5-1.1 .5 .8 .5-.6 .5 .8 .5-1.2 .5 1.1 .5-1 .5 1 .5-1.1 .5 1.2 .5-.9 .5 .9 .5-.5 .5 .5 .5-.7 .5 .6 .5-1 .5 1.1 .5-1 .5 .9 .5-.9 .5 1 .5-1.5 .5 1.4 .5-.8 .5 .9 .5-1.2 .5 1.2 .5-.7 .5 .7 .5-.8 .5 .8 .5-.3 .5 .3 .5-.6 .5 .4 .5-.8 .5 .9 .5-.5 .5 .5 .5-1.2 .5 1.3 .5-1.3 .5 1.2 .5-.8 .5 .9 .5-1.2 .5 1.1 .5-.8 .5 .8 .5-.5 .5 .5 .5-1.3 .5 1.4 .5-1.6 .5 1.1 .5-2 .5-1.6 .5-7.4 .5-9.9 .5-19.5 .5-21.5 .5-24.4 .5-13.4 .3-2.6 .2 1.2 .5 11.7 .5 17.3 .5 21.1 .5 16.9 .5 14.2 .5 7.4 .5 6.1 .5 1.4 .5 2.6 .5-.3 .5 1.4 .5-.8 .5 1.4 .5-.7 .5 .8 .5-.5 .5 .9 .5-.4 .5 .6 .5-.6 .5 .6 .5-.3 .5 .6 .5-.8 .5 .8 .5-1.3 .5 1.5 .5-1.4 .5 1.3 .5-.5 .5 .5 .5-.7 .5 .6 .5-.7 .5 .8 .5-.5 .5 .5 .5-.4 .5 .5 .5-.4 .5 .3 .5-.3 .5 .3 .5-1 .5 1.1 .5-.6 .5 .6 .5-.5 .5 .5 .5-1 .5 1.1 .5-1.2 .5 1.1 .5-.8 .5 .8 .5-.4 .5 .5 .5-.4 .5 .2 .5-.7 .5-.2 .5-.9 .5-.6 .5-1.3 .5-.8 .5-.9 .1 .5 .4 .3 .5-.2 .5 1.8 .5 .6 .5 1.5 .5 .1 .5 .6 .5-1 .5 1.3 .5-.5 .5 .5 .5-.4 .5 .5 .5-.8 .5 .7 .5-.6 .5 .5 .5-.7 .5 .7 .5-.3 .5 .4 .5-1 .5 .8 .5-.3 .5 .3 .5-.2 .5 .5 .5-1.1 .5 .8 .5-.4 .5 .4 .5-.4 .5 .6 .5-.6 .5 .6 .5-.4 .5 .3 .5-.2 .5 .3 .5-.3 .5 .2 .5-.2 .5 .2 .5-.5 .5 .6 .5-.5 .5 .6 .5-.7 .5 .7 .5-.4 .5 .4 .5-.7 .5 .6 .5-.4 .5 .2 .5-.4 .5-.2 .5-.9 .5-.8 .5-2.2 .5-1.6 .5-2.5 .5-.8 .3-.3 .2-.2 .5 1.4 .5 1.3 .5 2.7 .5 1.4 .5 1.7 .5 .5 .5 .8 .5-.3 .5 .7 .5-.7 .5 .7 .5-.6 .5 .6 .5-.6 .5 .4 .5-.9 .5 1 .5-.9 .5 .9 .5-.7 .5 .6 .5-.4 .5 .4 .5-.5 .5 .5 .5-.5 .5 .6 .5-.7 .5 .7 .5-.7 .5 .7 .5-.7 .5 .8 .5-.7 .5 .5 .5-.3 .5 .4 .5-.4 .5 .3 .5-.3 .5 .4 .5-.5 .5 .3 .5-.1 .5 .2 .5-.3 .5 .4 .5-.5 .5 .4 .5-.3 .5 .5 .5-.5 .5 .5 .5-.5 .5 .4 .5-.5 .5 .4 .5-.6 .5 .7 .5-.3 .5 .2 .5-.2 .5 .1 .5-.1 .5 .3 .5-.3 .5 .2 .5-.4 .5 .4 .5-.1 .5 .3 .5-.5 .5 .3 .5-.3 .5 .5 .5-.6 .5 .5 .5-.3 .5 .2 .5-.2 .5 .3 .5-.4 .5 .3 .5-.4 .5 .5 .5-.4 .5 .2 .5-.4 .5 .6 .5-.3 .5 .4 .5-.7 .5 .5 .5-.2 .5 .4 .5-.9 .5 .9 .5-.8 .5 .8 .5-.6 .5 .4 .5-1 .5 1 .5-.5 .5 .7 .5-1.1 .5 .9 .5-.4 .5 .5 .5-.8 .5 .8 .5-.4 .5 .2 .5-.6 .5 .8 .5-1 .5 1.1 .5-1 .5 .8 .5-1 .5 1.2 .5-.9 .5 .7 .5-.6 .5 .7 .5-1 .5 1 .5-.9 .5 .9 .5-.9 .5 1 .5-1 .5 .9 .5-.8 .5 .8 .5-.5 .5 .5 .5-.7 .5 .6 .5-.2 .5 .4 .5-.9 .5 .7 .5-.5 .5 .6 .5-.5 .5 .5 .5-.5 .5 .6 .5-.5 .5 .4 .5-.4 .5 .4 .5-.6 .5 .6 .5-.8 .5 .7 .5-.6 .5 .6 .5-.5 .5 .5 .5-.8 .5 .8 .5-.6 .5 .6 .5-.5 .5 .7 .5-1 .5 .8 .5-1 .5 1 .5-1.3 .5 1.4 .5-1.1 .5 1.1 .5-.9 .5 .8 .5-1.1 .5 1.3 .5-1.2 .5 1.2 .5-.6 .5 .4 .5-.9 .5 1 .5-1.3 .5 1.3 .5-.5 .5 .4 .5-.3 .5 .5 .5-.8 .5 .6 .5-.8 .5 .7 .5-.6 .5 .8 .5-.9 .5 .7 .5-.1 .5 .2 .5-.4 .5 .6 .5-.7 .5 .5 .5-.5 .5 .6 .5-.6 .5 .5 .5-.5 .5 .6 .5-.6 .5 .6 .5-.7 .5 .8 .5-.6 .5 .4 .5-.6 .5 .6 .5-.4 .5 .5 .5-.7 .5 .8 .5-.7 .5 .5 .5-.2 .5 .2 .5-.3 .5 .3 .5-.4 .5 .5 .5-.9 .5 .9 .5-.9 .5 .7 .5-.8 .5 1.1 .5-.7 .5 .5 .5-.4 .5 .6 .5-1.3 .5 1.2 .5-1.2 .5 1.1 .5-.8 .5 1 .5-.9 .5 .9 .5-.8 .5 .7 .5-.7 .5 .7 .5-1.2 .5 1.1 .5-1.2 .5 1.3 .5-1.2 .5 1.3 .5-.8 .5 .6 .5-.4 .5 .6 .5-.7 .5 .5 .5-1.1 .5 1.1 .5-.6 .5 .7 .5-1.5 .5 1.6 .5-1.5 .5 1.5 .5-1.1 .5 .9 .5-1.3 .5 1.2 .5-.8 .5 .9 .5-1 .5 1 .5-.5 .5 .5 .5-1.2 .5 1.3 .5-.9 .5 1 .5-1 .5 1 .5-1.2 .5 1.1 .5-1.7 .5 1.7 .5-.9 .5 .9 .5-1.1 .5 1 .5-1.5 .5 1.5 .5-1.7 .5 1.7 .5-1 .5 1.2 .5-.6 .5 .4 .5-.7 .5 .9 .5-1.4 .5 1.3 .5-.7 .5 .7 .5-.5 .5 .5 .5-.5 .5 .5 .5-.6 .5 .4 .5-.5 .5 .6 .5-.3 .5 .4 .5-.8 .5 .7 .5-.3 .5 .4 .5-.9 .5 .8 .5-.6 .5 .7 .5-.7 .5 .7 .5-1 .5 1 .5-1.1 .5 1.2 .5-.6 .5 .4 .5-.7 .5 .8 .5-1.3 .5 1.4 .5-.7 .5 .6 .5-1.1 .5 1.1 .5-1 .5 1.1 .5-1.2 .5 1.1 .5-1 .5 .8 .5-.8 .5 1 .5-1.3 .5 1.2 .5-1 .5 1.1 .5-1.5 .5 1.4 .5-.5 .5 .7 .5-1.4 .5 1.2 .5-1.5 .5 1.7 .5-1.3 .5 1.2 .5-.8 .5 .9 .5-.6 .5 .4 .5-.5 .5 .5 .5-.8 .5 1 .5-1.1 .5 .9 .5-.6 .5 .6 .5-.8 .5 .8 .5-.4 .5 .6 .5-1.1 .5 .9 .5-.8 .5 .9 .5-.7 .5 .6 .5-.8 .5 .9 .5-.6 .5 .7 .5-.5 .5 .5 .5-.5 .5 .5 .5-.5 .5 .3 .5-.2 .5 .2 .5-.4 .5 .4 .5-.3 .5 .3 .5-.4 .5 .5 .5-.6 .5 .6 .5-.8 .5 .8 .5-.7 .5 .7 .5-1 .5 .9 .5-.3 .5 .4 .5-.5 .5 .5 .5-1.4 .5 1.4 .5-1.5 .5 1.6 .5-1.4 .5 1.3 .5-.4 .5 .3 .5-.4 .5 .5 .5-1.2 .5 1.3 .5-1 .5 1 .5-.8 .5 .6 .5-.2 .5 .3 .5-.4 .5 .3 .5-.7 .5 .7 .5-.4 .5 .6 .5-.8 .5 .7 .5-1.2 .5 1.3 .5-.7 .5 .5 .5-1.1 .5 1.3 .5-.6 .5 .5 .5-1.3 .5 1.2 .5-1.1 .5 1.2 .5-1.3 .5 1.3 .5-.6 .5 .5 .5-.7 .5 .8 .5-.7 .5 .7 .5-1 .5 .9 .5-.5 .5 .5 .5-.6 .5 .8 .5-.7 .5 .7 .5-1.1 .5 1.1 .5-.6 .5 .4 .5-.9 .5 1 .5-.7 .5 .6 .5-1.3 .5 1.3 .5-.8 .5 .8 .5-.9 .5 1 .5-.7 .5 .6 .5-1.7 .5 1.9 .5-1.7 .5 1.6 .5-1.1 .5 1 .5-.6 .5 .7 .5-.8 .5 .6 .5-1.1 .5 1.3 .5-.7 .5 .8 .5-1.3 .5 1.2 .5-.6 .5 .5 .5-.5 .5 .6 .5-1.1 .5 1.2 .5-1.4 .5 1.3 .5-1.4 .5 1.3 .5-.4 .5 .4 .5-.9 .5 1 .5-.8 .5 .7 .5-.3 .5 .3 .5-.4 .5 .3 .5-.3 .5 .4 .5-.4 .5 .5 .5-.7 .5 .7 .5-.6 .5 .5 .5-.7 .5 .8 .5-.7 .5 .5 .5-.3 .5 .3 .5-.1 .5 .4 .5-.6 .5 .6 .5-.8 .5 .8 .5-.4 .5 .3 .5-.5 .5 .3 .5-.4 .5 .7 .5-.5 .5 .5 .5-.5 .5 .4 .5-.3 .5 .3 .5-.4 .5 .5 .5-.5 .5 .4 .5-.4 .5 .3 .5-.6 .5 .7 .5-.4 .5 .3 .5-.2 .5 .2 .5-.2 .5 .3 .5-.5 .5 .4 .5-.2 .5 .2 .5-.5 .5 .6 .5-.5 .5 .6 .5-.5 .5 .2 .5-.2 .5 .5 .5-.5 .5 .4 .5-.6 .5 .7 .5-.6 .5 .3 .5-.1 .5 .3 .5-.3 .5 .3 .5-.3 .5 .3 .5-.3 .5 .4 .5-.5 .5 .5 .5-.5 .5 .4 .5-.3 .5 .3 .5-.6 .5 .6 .5-.3 .5 .2 .5-.8 .5 .8 .5-.8 .5 .8 .5-1.2 .5 1.2 .5-.8 .5 .9 .5-.6 .5 .5 .5-1 .5 .9 .5-.9 .5 1 .5-1.3 .5 1.4 .5-1.8 .5 1.8 .5-.8 .5 .9 .5-.8 .5 .8 .5-.9 .5 .7 .5-.6 .5 .6 .5-.4 .5 .3 .5-1.2 .5 1.4 .5-.9 .5 1 .5-1.1" fill="none" stroke="#000" stroke-width="3.8" stroke-linejoin="round"/>
<circle cx="757.0" cy="3961.0" r="15.6" fill="#000"/>
<text x="1026.6" y="3769.0" font-size="60.5" text-anchor="middle" stroke="#000" stroke-width="0.6">*</text>
<text x="1943.2" y="3909.4" font-size="60.5" text-anchor="middle" stroke="#000" stroke-width="0.6">*</text>
<text x="2329.7" y="3769.0" font-size="51.3" text-anchor="end">75 fmole</text>
<text x="459.7" y="3909.0" font-size="45">S/N = 6.6</text>
<line x1="741.5" y1="3981.3" x2="675.8" y2="3934.0" stroke="#000" stroke-width="2.6" stroke-linecap="butt"/>
<polygon points="660.4,3922.9 683.0,3927.5 671.9,3942.9" fill="#000"/>
<rect x="186.6" y="460.1" width="10.6" height="7.8" fill="#fff"/>
<rect x="205.7" y="460.1" width="9.8" height="7.8" fill="#fff"/>
<rect x="189.6" y="788.2" width="10.6" height="7.8" fill="#fff"/>
<rect x="208.7" y="788.2" width="9.8" height="7.8" fill="#fff"/>
<rect x="316.3" y="2729.6" width="10.6" height="7.8" fill="#fff"/>
<rect x="335.4" y="2729.6" width="9.8" height="7.8" fill="#fff"/>
<rect x="1302.7" y="2729.6" width="10.6" height="7.8" fill="#fff"/>
<rect x="1321.8" y="2729.6" width="9.8" height="7.8" fill="#fff"/>
<rect x="2289.9" y="2729.6" width="10.6" height="7.8" fill="#fff"/>
<rect x="2309.0" y="2729.6" width="9.8" height="7.8" fill="#fff"/>
<rect x="221.3" y="2271.6" width="10.6" height="7.8" fill="#fff"/>
<rect x="240.4" y="2271.6" width="9.8" height="7.8" fill="#fff"/>
<rect x="497.9" y="2279.2" width="8.7" height="5.2" fill="#fff"/>
<rect x="511.3" y="2279.2" width="8.4" height="5.2" fill="#fff"/>
<rect x="586.1" y="3590.5" width="8.7" height="5.2" fill="#fff"/>
<rect x="599.5" y="3590.5" width="8.4" height="5.2" fill="#fff"/>
<rect x="611.2" y="3590.5" width="8.7" height="5.2" fill="#fff"/>
<rect x="624.6" y="3590.5" width="8.4" height="5.2" fill="#fff"/>
<rect x="1847.6" y="3593.5" width="8.7" height="5.2" fill="#fff"/>
<rect x="1861.0" y="3593.5" width="8.4" height="5.2" fill="#fff"/>
<rect x="1910.2" y="3593.5" width="8.7" height="5.2" fill="#fff"/>
<rect x="1923.6" y="3593.5" width="8.4" height="5.2" fill="#fff"/>
</svg>
</body></html>
